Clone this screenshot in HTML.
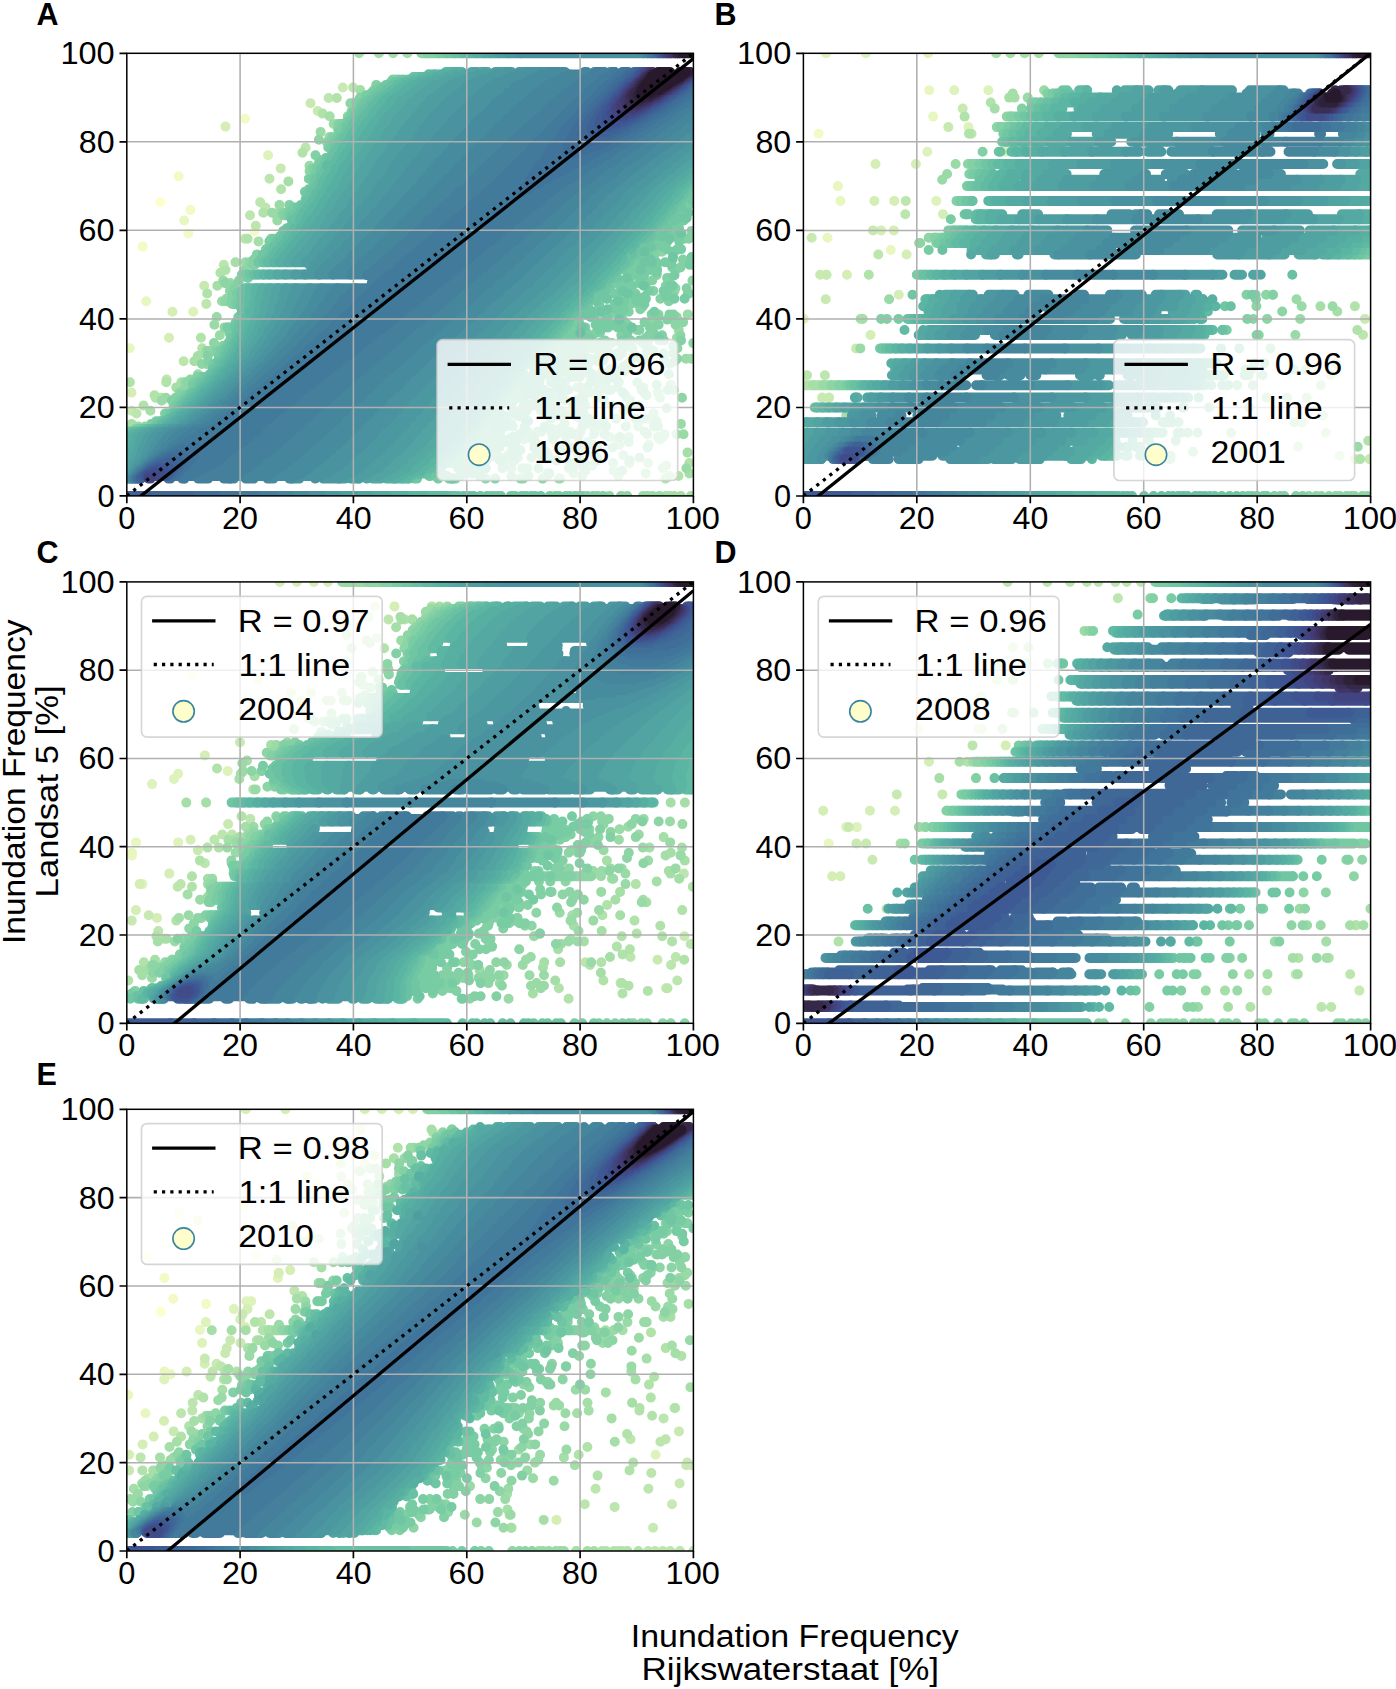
<!DOCTYPE html>
<html><head><meta charset="utf-8"><title>Inundation Frequency</title>
<style>html,body{margin:0;padding:0;background:#fff}svg{display:block}text{font-family:"Liberation Sans",sans-serif;fill:#000}</style></head><body>
<svg width="1396" height="1689" viewBox="0 0 1396 1689">
<rect width="1396" height="1689" fill="#fff"/>
<defs><clipPath id="cA"><rect x="126.8" y="53.3" width="566.6" height="442.6"/></clipPath><clipPath id="cB"><rect x="803.4" y="53.3" width="567.2" height="442.7"/></clipPath><clipPath id="cC"><rect x="126.8" y="581.9" width="566.6" height="441.4"/></clipPath><clipPath id="cD"><rect x="803.4" y="581.9" width="567.2" height="441.4"/></clipPath><clipPath id="cE"><rect x="126.8" y="1109.3" width="566.6" height="441.7"/></clipPath></defs>
<g id="panelA">
<g clip-path="url(#cA)">
<g fill="none" stroke-width="10" stroke-linecap="round">
<path stroke="#fdfecc" d="M160.4 202.3h0"/>
<path stroke="#f3fac6" d="M142.7 246.6h0M190.4 210.1h0M178.7 176.2h0M244.9 118.8h0M188.4 233.5h0M254.6 230.9h0"/>
<path stroke="#e8f6c0" d="M146.2 301.3h0M184.2 220.5h0M129.8 348.3h0"/>
<path stroke="#def2bb" d="M268.1 155.3h0M193.2 311.8h0"/>
<path stroke="#d4eeb5" d="M131.5 392.6h0M169 337.8h0M172.4 311.8h0M225.5 126.6h0"/>
<path stroke="#c8eab2" d="M131.5 410.8h0M204.2 285.7h0M280.7 168.4h0M317.7 111h0M310.5 103.2h0M342.8 87.5h0M216 345.7h0"/>
<path stroke="#bce6ae" d="M136.5 413.5h0M166.6 379.6h0M183.6 361.3h0M206.3 303.9h0M223.8 264.8h0M244.9 238.8h0M255.8 225.7h0M250 215.3h0M265.4 207.5h0M260.2 202.3h0M269.5 178.8h0M305.6 147.5h0M328.6 98h0M353.1 87.5h0"/>
<path stroke="#b1e2aa" d="M665.5 478.6h0M678.5 476h0M689.3 463h0M143.5 405.6h0M161.7 400.4h0M160.9 397.8h0M155.6 397.8h0M154.5 395.2h0M166.3 382.2h0M202.2 348.3h0M200.9 337.8h0M207.2 293.5h0M220.4 272.7h0M225.5 270h0M247.6 238.8h0M263.3 212.7h0M281.1 189.2h0M302.5 152.7h0M322.6 113.6h0M336.8 98h0M129.9 382.2h0"/>
<path stroke="#a5dea7" d="M669.3 476h0M618.3 476h0M689.4 473.4h0M662.9 468.2h0M666.2 465.6h0M648.1 463h0M687.5 452.6h0M663 436.9h0M131.6 423.9h0M150.4 410.8h0M176.3 387.4h0M181.4 382.2h0M194.3 361.3h0M197.9 356.1h0M205.1 353.5h0M217.3 285.7h0M235.5 262.2h0M258.5 241.4h0M288.4 181.4h0M329.7 116.2h0M360.2 90.1h0M665.9 495.9h0M669.7 495.9h0M674.1 495.9h0M680.7 495.9h0M691 495.9h0M359.1 53.3h0M378.9 53.3h0M393.1 53.3h0M407.3 53.3h0"/>
<path stroke="#9adaa6" d="M559 478.6h0M559.9 478.6h0M582.1 476h0M547.3 476h0M645.7 473.4h0M573.8 473.4h0M547.2 473.4h0M613.7 470.8h0M686.4 468.2h0M585.8 465.6h0M592.2 465.6h0M613.1 463h0M629.3 463h0M629.5 460.4h0M579.5 457.8h0M623.2 455.2h0M587.4 444.7h0M619.3 444.7h0M648.8 444.7h0M587.8 442.1h0M565.8 442.1h0M659.8 439.5h0M617 439.5h0M609.3 436.9h0M658.1 436.9h0M628.6 436.9h0M683.5 434.3h0M664.4 434.3h0M676.5 434.3h0M604.9 434.3h0M579.7 431.7h0M138.5 426.5h0M638.2 426.5h0M680.9 423.9h0M649.1 418.7h0M653.4 413.5h0M623.5 410.8h0M611.9 405.6h0M161.7 400.4h0M165.9 397.8h0M659.9 397.8h0M625.6 395.2h0M657.9 392.6h0M673.8 390h0M667.5 390h0M641.2 387.4h0M670.6 384.8h0M185 382.2h2M198 374.3h0M685.9 358.7h0M691.3 358.7h0M206.3 350.9h0M677 337.8h0M219.8 335.2h0M678.7 330h0M214.4 324.8h0M216.7 317h0M687.8 314.4h0M222 301.3h0M226.2 298.7h2M230.3 283.1h0M223.2 280.5h0M245.4 262.2h0M277.3 220.5h0M276.6 215.3h0M278.3 212.7h4M277.9 212.7h0M272 212.7h0M279.5 204.9h0M309.5 165.8h0M329.4 137.1h0M320.6 131.9h0M333.7 124h0M362.3 95.4h0M643.1 495.9h0M647.5 495.9h0M652.6 495.9h0M659.3 495.9h0"/>
<path stroke="#8ed5a5" d="M523.1 478.6h0M485.7 478.6h0M520.6 478.6h0M542.6 478.6h0M511.4 476h0M585.3 470.8h0M622 470.8h0M527.5 468.2h0M522.2 468.2h0M568.8 468.2h0M511.4 468.2h0M574.8 465.6h0M570.2 463h0M583.7 463h0M629.5 460.4h0M639.5 457.8h0M501.7 457.8h0M549.6 457.8h0M517.8 457.8h0M541.3 455.2h0M578 455.2h0M578.3 452.6h0M511.8 450h0M543.9 450h0M560.9 450h0M612.5 447.4h0M647.4 447.4h0M597 447.4h0M593.2 444.7h0M582.5 444.7h0M628.7 442.1h0M535.2 442.1h0M552.8 439.5h0M523.5 439.5h0M578.2 436.9h0M566.1 436.9h0M527.6 436.9h0M593.8 434.3h0M604.5 434.3h0M647.2 434.3h0M580.6 431.7h0M562.8 431.7h0M644.7 431.7h0M561.5 431.7h0M528 431.7h0M594.7 431.7h0M570.4 431.7h0M145.2 426.5h0M598.2 426.5h0M625.9 426.5h0M593.3 426.5h0M653.9 426.5h0M658 426.5h0M585.5 423.9h0M564.4 423.9h0M594.2 423.9h0M656.8 421.3h0M603.7 421.3h0M616.1 418.7h0M643.3 418.7h0M635.8 418.7h0M561.1 416.1h0M566.5 413.5h0M666.8 408.2h0M628.7 408.2h0M585.2 405.6h0M631.3 405.6h0M638 405.6h0M630.2 400.4h0M574.8 400.4h0M565.3 400.4h0M604.1 400.4h0M175.4 397.8h2M550.5 397.8h0M626.7 397.8h0M598.6 397.8h0M682 397.8h0M646.6 395.2h0M583.9 395.2h0M179.5 392.6h0M598.3 392.6h0M644 392.6h0M589.5 392.6h0M183.6 390h0M562.3 390h0M607.5 390h0M668.6 390h0M617.2 387.4h0M577.4 387.4h0M581.1 387.4h0M643.3 387.4h0M189.2 384.8h0M656.7 384.8h0M599.3 384.8h0M187 382.2h5.9M637.3 382.2h0M591 382.2h0M194.5 379.6h2M190.3 379.6h0M607.3 377h0M589.1 374.3h0M668.9 374.3h0M624.3 371.7h0M601.9 371.7h0M617 371.7h0M610.7 369.1h0M621 369.1h0M201.9 363.9h0M206.7 363.9h0M669.8 363.9h0M642 361.3h0M630.6 361.3h0M664.1 358.7h0M677.2 358.7h0M643.6 358.7h0M636 356.1h0M634.5 356.1h0M663.6 353.5h0M622.2 353.5h0M210.8 350.9h5.9M208.3 350.9h0M647.1 350.9h0M588.2 348.3h0M677.4 348.3h0M632.4 348.3h0M676.3 345.7h0M673.1 345.7h0M214 343.1h0M643.2 343.1h0M693.3 343.1h0M645.6 343.1h0M641.7 340.4h0M659.4 340.4h0M680.4 335.2h0M230.1 332.6h0M636.8 330h0M227.9 327.4h0M224.6 327.4h0M675.6 324.8h0M649.4 322.2h0M683.1 322.2h0M673.1 319.6h0M654.2 319.6h0M676.7 317h0M658.5 314.4h0M227.4 301.3h4M225.2 301.3h0M228.2 298.7h4M627.2 298.7h0M231.9 293.5h0M229.9 290.9h0M674.5 290.9h0M675.4 288.3h0M233.4 285.7h0M230.8 285.7h0M225.2 283.1h0M692.5 280.5h0M656.6 275.3h0M244.4 270h0M249.8 262.2h0M661.9 251.8h0M271 238.8h0M282.2 212.7h4M308.8 178.8h0M309.6 171h0M319.6 160.5h0M327.4 142.3h2M327 142.3h0M318.9 139.7h0M337.7 124h2M347.8 116.2h0M351.6 111h0M350.4 103.2h5.9M373.8 90.1h0M392.8 79.7h2M609.3 495.9h0M621.1 495.9h0M627.1 495.9h0M421.4 53.3h5.9"/>
<path stroke="#82d0a4" d="M455.6 478.6h0M495.1 478.6h0M528.4 476h0M446 476h0M441.6 476h0M472.4 473.4h0M477.5 473.4h0M549.3 473.4h0M549.2 473.4h0M460.9 470.8h0M480.6 470.8h0M502.5 468.2h0M538.4 468.2h0M460.7 465.6h0M468.1 465.6h0M502.8 465.6h0M464 463h0M512.1 460.4h0M511.7 460.4h0M502.4 460.4h0M514.4 460.4h0M557 460.4h0M597.1 460.4h0M478.8 460.4h0M497 457.8h0M488.3 457.8h0M454.5 457.8h0M596.8 457.8h0M531.5 457.8h0M594.8 455.2h0M490.1 455.2h0M470.8 455.2h0M507.9 455.2h0M512 455.2h0M495.5 452.6h0M537.9 452.6h0M546.6 452.6h0M540.8 452.6h0M492.2 450h0M572.4 447.4h0M489.4 444.7h0M538 444.7h0M512.6 444.7h0M483.1 444.7h0M495.9 442.1h0M515.6 442.1h0M517.7 439.5h0M532.2 439.5h0M554 436.9h0M620 436.9h0M552 434.3h0M525.4 434.3h0M571.4 434.3h0M556.5 434.3h0M541.6 431.7h0M566.2 431.7h0M537.5 431.7h0M135.3 429.1h4M550.4 429.1h0M552.8 429.1h0M560.2 429.1h0M485.4 426.5h0M512.9 426.5h0M606.2 426.5h0M582.8 426.5h0M151.3 423.9h2M511.5 423.9h0M526.3 421.3h0M593.1 421.3h0M550.5 418.7h0M580.6 418.7h0M486.8 418.7h0M589 418.7h0M493.1 416.1h0M575.9 416.1h0M557.4 416.1h0M552.7 416.1h0M559.4 416.1h0M165 413.5h2M495.8 413.5h0M561.6 413.5h0M580.9 413.5h0M583.5 413.5h0M553.2 413.5h0M540.8 410.8h0M526.8 410.8h0M561.3 410.8h0M547.2 408.2h0M554.8 408.2h0M173.6 405.6h2M551.7 405.6h0M537.4 405.6h0M573.2 405.6h0M176.2 403h2M503.2 403h0M554.2 403h0M174.7 400.4h5.9M173.9 400.4h0M172 400.4h0M579.7 400.4h0M583.5 400.4h0M177.4 397.8h5.9M549.6 397.8h0M523.9 397.8h0M552.6 397.8h0M562.3 397.8h0M180.1 395.2h5.9M560.6 395.2h0M542.3 392.6h0M533.5 392.6h0M597.6 390h0M641.8 390h0M610.6 390h0M587.3 387.4h0M529.8 387.4h0M605.4 384.8h0M531.8 384.8h0M559.1 384.8h0M193 382.2h4M618.8 382.2h0M603.2 382.2h0M564.9 382.2h0M565 382.2h0M196.4 379.6h4M616.9 379.6h0M555.6 379.6h0M599.9 379.6h0M198.1 377h4M197.2 377h0M574.8 377h0M541.3 377h0M540.8 377h0M560.2 374.3h0M588.8 371.7h0M546.2 371.7h0M585.8 371.7h0M550 366.5h0M629.9 366.5h0M579.8 366.5h0M627.6 363.9h0M588.2 363.9h0M208.6 361.3h0M557 361.3h0M602.6 361.3h0M585.6 361.3h0M599.6 361.3h0M674.8 361.3h0M589.9 358.7h0M207.8 356.1h0M599.5 356.1h0M618.9 356.1h0M598.4 356.1h0M633.9 356.1h0M568.9 356.1h0M572.4 356.1h0M616.9 353.5h0M582.5 353.5h0M560.9 353.5h0M673.2 353.5h0M216.7 350.9h4M608 350.9h0M621.6 350.9h0M601.7 350.9h0M653.4 350.9h0M592.3 348.3h0M623.7 348.3h0M606.8 348.3h0M592.6 348.3h0M223.1 345.7h0M647.9 345.7h0M605.3 345.7h0M625.4 345.7h0M584.8 345.7h0M646.9 345.7h0M579.4 345.7h0M589.7 345.7h0M590.7 343.1h0M611.5 343.1h0M569.5 340.4h0M681 340.4h0M663.9 340.4h0M604.9 340.4h0M630.7 340.4h0M647.9 340.4h0M639.6 340.4h0M646 337.8h0M650.6 337.8h0M589.8 335.2h0M593.1 335.2h0M621.3 335.2h0M662 335.2h0M623.9 335.2h0M648.8 335.2h0M586.7 332.6h0M600.1 332.6h0M596.1 332.6h0M653.5 332.6h0M229.8 330h2M578.4 330h0M639.4 330h0M608.4 327.4h0M649.9 327.4h0M658.6 324.8h0M627.7 324.8h0M598.3 324.8h0M603.6 322.2h0M644.5 322.2h0M624.7 322.2h0M622.5 319.6h0M667.2 319.6h0M618.8 317h0M658.2 317h0M673.3 314.4h0M669.5 314.4h0M594.1 314.4h0M609.7 314.4h0M651.7 314.4h0M606.4 314.4h0M613.6 311.8h0M628.7 311.8h0M640.3 309.2h0M614.5 309.2h0M642.7 306.6h0M232 303.9h4M599.2 303.9h0M631.2 303.9h0M628.8 303.9h0M625.4 303.9h0M637.9 303.9h0M231.4 301.3h5.9M632.7 301.3h0M668.8 301.3h0M232.1 298.7h5.9M630 298.7h0M607.2 298.7h0M670.7 298.7h0M660.4 298.7h0M233.8 296.1h4M672.6 296.1h0M233.1 293.5h4M687.8 293.5h0M635.5 293.5h0M629.7 293.5h0M689.1 293.5h0M653.4 290.9h0M632.2 290.9h0M234.9 288.3h0M686.7 288.3h0M619.8 285.7h0M665.8 285.7h0M624.7 285.7h0M239 280.5h0M652.2 280.5h0M643.1 280.5h0M667.1 277.9h0M670.1 277.9h0M675.6 270h0M680.4 267.4h0M672.4 267.4h0M648.6 267.4h0M252.4 264.8h0M254.7 264.8h0M690.3 262.2h0M654.5 262.2h0M684.4 262.2h0M253.8 259.6h0M649 259.6h0M672.5 259.6h0M682.9 259.6h0M257.4 257h0M256.9 254.4h0M654.8 254.4h0M672 251.8h0M266 249.2h0M678.6 249.2h0M644.6 246.6h0M684.4 238.8h0M688.9 238.8h0M691.5 230.9h0M672.3 223.1h0M673.3 217.9h0M284.8 215.3h4M283.5 215.3h0M286.2 212.7h4M289.4 204.9h0M308.9 178.8h2M312.6 168.4h4M320.6 160.5h2M315.5 155.3h0M328.2 147.5h2M329.4 142.3h4M332.3 137.1h0M338.1 129.3h4M340.7 126.6h2M339.7 124h5.9M353.8 111h2M356.4 103.2h4M358.6 100.6h0M359.9 98h0M366.3 95.4h0M371.4 92.7h2M375.6 90.1h0M378.3 87.5h2M376.3 84.9h0M394.8 79.7h4M392.6 79.7h0M583.1 495.9h0M587.3 495.9h0M593.1 495.9h0M597.5 495.9h0M603 495.9h0M427.4 53.3h11.9M241.8 274.6h4"/>
<path stroke="#77cca3" d="M449.1 478.6h0M438.1 478.6h0M452.8 478.6h0M460.6 476h0M445.3 476h0M441.3 476h0M434.2 476h0M479.9 476h0M430.2 476h0M447 476h0M466.4 473.4h0M439 473.4h0M470.1 470.8h0M440.4 468.2h0M458.1 468.2h0M462 468.2h0M442.2 465.6h0M476.3 465.6h0M477.3 465.6h0M446.1 463h7.1M474.9 463h0M448.1 460.4h4.3M556.4 460.4h0M500.3 460.4h0M486.1 460.4h0M456.1 460.4h0M469.2 457.8h0M459.6 457.8h0M451.4 457.8h0M472.1 457.8h0M512.5 455.2h0M472.6 455.2h0M473.8 455.2h0M544.1 455.2h0M466.9 455.2h0M484.6 455.2h0M453.9 452.6h0M464.6 452.6h0M460 450h0M520.3 450h0M513.3 450h0M499.4 447.4h0M481.2 447.4h0M514.7 447.4h0M534.2 447.4h0M489.9 447.4h0M464.6 444.7h0M477.8 444.7h0M467.9 442.1h1.6M487.3 442.1h0M514.4 442.1h0M505.5 442.1h0M474.2 442.1h0M469.9 439.5h11.1M490.3 439.5h0M508.3 439.5h0M534 436.9h0M498 436.9h0M512.8 436.9h0M473.8 434.3h3.5M492.4 434.3h0M500 434.3h0M519.7 434.3h0M126.8 431.7h2M475.8 431.7h9M139.2 429.1h4M478.3 429.1h8.6M524.4 429.1h0M480.8 426.5h0M524.8 426.5h0M506.4 426.5h0M544.6 426.5h0M489.1 426.5h0M153.3 423.9h4M481.8 423.9h0M482.9 423.9h0M496 423.9h0M157.9 421.3h4M156.1 421.3h0M485.2 421.3h0M503.2 421.3h0M506.7 421.3h0M500.2 418.7h0M525 418.7h0M502.7 416.1h0M518.6 416.1h0M505.5 416.1h0M167 413.5h4M512.1 413.5h0M550.7 413.5h0M492.1 413.5h0M525.2 410.8h0M512.9 410.8h0M576.6 410.8h0M522.4 408.2h0M175.6 405.6h4M532.4 405.6h0M545.1 405.6h0M178.2 403h4M512.2 403h0M524.3 403h0M542.7 403h0M525.1 403h0M180.6 400.4h4M501.9 400.4h7.7M534.9 400.4h0M574.7 400.4h0M183.3 397.8h4M502.6 397.8h19.5M580.9 397.8h0M548 397.8h0M186 395.2h4M505.3 395.2h9.3M518.5 395.2h0M561.1 395.2h0M533.8 395.2h0M508.3 392.6h18.6M622.7 392.6h0M563.2 392.6h0M549.8 392.6h0M508.6 390h5.7M544.3 390h0M525.1 390h0M543.5 390h0M568.1 390h0M510.9 387.4h17.6M557.3 387.4h0M539.2 387.4h0M194.6 384.8h4M513.9 384.8h7.3M193.2 384.8h0M524 384.8h0M528.1 384.8h0M196.9 382.2h4M532 382.2h0M520.6 382.2h0M515.7 382.2h0M561.6 382.2h0M518.3 382.2h0M551.1 382.2h0M590.5 382.2h0M539.5 382.2h0M200.4 379.6h4M553.1 379.6h0M607.6 379.6h0M202.1 377h4M519.4 377h1.8M579.7 377h0M570.6 377h0M612.5 377h0M523 377h0M551.8 377h0M592.5 374.3h0M546.1 374.3h0M533.1 374.3h0M566.9 371.7h0M522.7 371.7h0M575.4 371.7h0M568.6 371.7h0M547.5 371.7h0M538.2 369.1h0M574 369.1h0M563.2 369.1h0M559 369.1h0M538.7 369.1h0M539.5 366.5h0M557.2 366.5h0M546.5 366.5h0M566.8 366.5h0M623.8 366.5h0M567.2 366.5h0M213.8 363.9h4M531.5 363.9h0M556.8 363.9h0M539 363.9h0M546.2 363.9h0M543.8 363.9h0M573.7 363.9h0M579.5 361.3h0M538.7 361.3h0M568.4 361.3h0M549.2 361.3h0M559.2 361.3h0M597.5 361.3h0M548.2 361.3h0M536.3 358.7h5.9M219.8 358.7h0M549.6 358.7h0M604 358.7h0M576.9 358.7h0M583.3 358.7h0M546.1 358.7h0M539 356.1h10.7M218.7 356.1h0M584.2 356.1h0M549.9 356.1h0M565.2 356.1h0M220.7 350.9h4M542.9 350.9h0M545.8 350.9h0M571.8 350.9h0M568 350.9h0M570.4 350.9h0M582.8 350.9h0M569.9 350.9h0M549.4 350.9h0M224.7 348.3h2M546 348.3h5.1M553.7 348.3h0M572.2 348.3h0M575.2 348.3h0M575.3 348.3h0M573.9 348.3h0M548.5 345.7h19.8M228.2 343.1h2M549.5 343.1h6.9M620.6 343.1h0M577.8 343.1h0M599.8 343.1h0M553.6 340.4h3.8M230.1 340.4h0M621.9 340.4h0M568 340.4h0M230.6 337.8h2M555.8 337.8h9.3M659 337.8h0M589.8 337.8h0M570.9 337.8h0M585.2 337.8h0M557.6 335.2h20.5M580.8 335.2h0M581 335.2h0M560.3 332.6h5.1M229.4 332.6h0M568.5 332.6h0M627.6 332.6h0M571.3 332.6h0M231.8 330h4M563 330h3.8M582.9 330h0M599.1 330h0M231.1 327.4h4M564.2 327.4h2.8M227.7 327.4h0M585.2 327.4h0M617.6 327.4h0M584.3 327.4h0M623.3 327.4h0M605.7 327.4h0M234.5 324.8h2M567.7 324.8h2.3M597.3 324.8h0M578.3 324.8h0M595.6 324.8h0M611.3 324.8h0M604.9 324.8h0M605.2 324.8h0M607.7 324.8h0M621.4 324.8h0M614.3 324.8h0M235.8 322.2h2M569 322.2h10M619.6 322.2h0M600.4 322.2h0M618.5 322.2h0M608.2 322.2h0M238.3 317h0M576 317h0M606.9 317h0M577.4 317h0M576.3 314.4h2.2M588.6 314.4h0M580.5 314.4h0M590.4 314.4h0M620.5 314.4h0M594.8 314.4h0M578.8 311.8h2.6M594.1 311.8h0M592.1 311.8h0M654.3 311.8h0M600.5 311.8h0M586.4 311.8h0M577.3 309.2h0M615.2 309.2h0M624.1 309.2h0M589.4 309.2h0M599.4 306.6h0M235.9 303.9h5.9M586.9 303.9h1.4M644.4 303.9h0M618.5 303.9h0M614.6 303.9h0M617.8 303.9h0M237.4 301.3h4M639 301.3h0M636.4 301.3h0M624.3 301.3h0M238.1 298.7h4M591.8 298.7h0M617.4 298.7h0M594 298.7h0M645.9 298.7h0M674.4 298.7h0M618.3 298.7h0M684.6 298.7h0M237.8 296.1h4M634.9 296.1h0M636.7 296.1h0M602.2 296.1h0M645.5 296.1h0M665.9 296.1h0M237 293.5h4M627.2 293.5h0M614.3 293.5h0M600.3 293.5h0M649 290.9h0M666.9 290.9h0M663.6 290.9h0M606 288.3h0M625.2 288.3h0M631.9 285.7h0M610.8 285.7h0M626.3 285.7h0M645.5 285.7h0M672.8 285.7h0M624 285.7h0M669.7 285.7h0M640.8 283.1h0M618.3 283.1h0M624 283.1h0M639.3 283.1h0M628.1 283.1h0M629.4 280.5h0M622.2 280.5h0M247.9 277.9h0M615.7 277.9h0M616.6 277.9h0M632.8 275.3h0M644 275.3h0M633.2 275.3h0M638.7 275.3h0M674.5 275.3h0M627.4 272.7h0M656.8 272.7h0M619.4 270h0M629.8 270h0M630.3 270h0M657.1 270h0M626 270h0M650.3 270h0M641.2 270h0M622.8 267.4h1.1M637.9 267.4h0M656.8 267.4h0M646.8 267.4h0M636.6 267.4h0M626.4 264.8h15.8M654.6 264.8h0M691.7 264.8h0M689.4 264.8h0M671.4 264.8h0M628.8 262.2h1.2M630.9 262.2h0M632.4 262.2h0M634.4 262.2h0M656.3 262.2h0M670.4 262.2h0M665.1 262.2h0M629.9 259.6h2.2M691.6 257h0M640.5 257h0M634.1 257h0M631.8 257h0M264.8 254.4h2M640.4 254.4h0M674.3 251.8h0M647.6 251.8h0M266.2 249.2h0M677.2 249.2h0M637.1 249.2h0M667 249.2h0M681.1 249.2h0M653.9 246.6h0M646.7 246.6h0M662 246.6h0M646.6 244h0M269.4 241.4h0M679.3 241.4h0M667.4 241.4h0M277 238.8h2M273 238.8h0M657.7 238.8h0M667.2 238.8h0M650.4 238.8h0M652.7 236.2h1.7M667.3 236.2h0M673.7 236.2h0M660.4 233.5h0M651.7 233.5h0M681.5 233.5h0M668.1 233.5h0M674.5 230.9h0M668.9 230.9h0M668.3 228.3h0M679 228.3h0M671.4 225.7h0M674.3 225.7h0M678.5 223.1h0M665.9 220.5h0M683.7 220.5h0M671.2 220.5h0M667.8 217.9h2.6M674.3 217.9h0M288.8 215.3h4M671.5 215.3h11.2M290.2 212.7h5.9M672.9 212.7h7.7M292 210.1h5.9M293.9 207.5h4M676.7 207.5h1.4M679.7 204.9h5.5M689.2 204.9h0M681 202.3h5M684.8 197h4.1M690.7 197h0M687.2 194.4h0M691.6 194.4h0M304.9 191.8h4M689.9 191.8h0M308.6 189.2h2M691.3 189.2h2.1M693.4 186.6h0M310.9 178.8h4M315.7 173.6h0M316.6 168.4h4M319 163.1h5.9M322.6 160.5h4M325.9 157.9h0M330.2 147.5h4M333.4 142.3h4M335.1 139.7h4M335 139.7h0M339.3 131.9h5.9M342.1 129.3h4M342.6 126.6h4M345.6 124h4M346.9 121.4h4M349.1 118.8h4M351 116.2h4M352.2 113.6h0M355.8 111h4M361.1 105.8h2M360.4 103.2h4M366.3 100.6h2M366.1 98h5.9M366.7 95.4h0M373.4 92.7h4M376.6 90.1h4M380.3 87.5h4M385.9 84.9h2M390.6 82.3h4M398.7 79.7h4M549.9 495.9h0M555.7 495.9h0M558.9 495.9h0M566 495.9h0M569.6 495.9h0M575.2 495.9h0M579.6 495.9h0M439.3 53.3h7.9M245.8 274.6h4"/>
<path stroke="#70c6a3" d="M414.3 478.6h2.7M452.3 478.6h0M429.2 476h0M427.1 473.4h0M433 473.4h0M439.8 470.8h0M440.9 470.8h0M436.2 468.2h4.3M485.9 468.2h0M438.1 465.6h4.1M440.1 463h5.9M444.1 460.4h4M446.1 457.8h4.1M450 455.2h2.7M471.8 455.2h0M452.3 452.6h0M453.4 452.6h0M477.7 452.6h0M454 450h6M457.7 447.4h0M462.1 447.4h0M460 444.7h4.6M473.2 444.7h0M470.2 444.7h0M463.9 442.1h4M478.3 442.1h0M465.9 439.5h4M466.4 436.9h0M469.9 434.3h4M128.8 431.7h2M471.9 431.7h4M143.2 429.1h4M474.4 429.1h4M501.1 429.1h0M155.2 426.5h2M476.5 426.5h4.3M497.1 426.5h0M157.2 423.9h4M478.5 423.9h3.3M506.6 423.9h0M161.8 421.3h2M479.1 421.3h2.7M528.1 421.3h0M492.2 421.3h0M481.6 418.7h1.2M487.5 418.7h0M498.8 418.7h0M171 413.5h4M500.7 413.5h0M499.6 413.5h0M175.1 410.8h2M489.6 408.2h0M179.6 405.6h2M492.9 405.6h1.8M499.3 405.6h0M182.2 403h2M496.8 403h0M184.6 400.4h2M495.9 400.4h5.9M187.3 397.8h2M498.7 397.8h4M190 395.2h2M501.3 395.2h4M526 395.2h0M534.9 395.2h0M191 392.6h4M502.3 392.6h5.9M504.6 390h4M559.2 390h0M536.1 390h0M506.9 387.4h4M198.5 384.8h4M509.9 384.8h4M524.7 384.8h0M536.7 384.8h0M200.9 382.2h4M510.3 382.2h2.1M532.1 382.2h0M204.4 379.6h4M513.7 379.6h2.2M206.1 377h4M515.4 377h4M524.8 377h0M525.9 377h0M539.2 377h0M555.1 377h0M209.6 374.3h2M518 374.3h0M520.9 374.3h0M523.5 374.3h0M519.2 374.3h0M519 371.7h0M534.1 371.7h0M212.7 369.1h4M540.9 366.5h0M217.8 363.9h2M527.2 363.9h4.3M532.2 363.9h0M558.1 363.9h0M560.7 363.9h0M220.6 361.3h2M529.9 361.3h2.7M217.6 361.3h0M532.3 358.7h4M546.6 358.7h0M223.6 356.1h2M533 356.1h5.9M580.7 356.1h0M535.6 353.5h1.9M549.8 353.5h0M224.7 350.9h4M538 350.9h4.9M226.7 348.3h4M540.1 348.3h5.9M229.2 345.7h2M542.5 345.7h5.9M230.2 343.1h4M545.5 343.1h4M547.6 340.4h5.9M232.6 337.8h4M549.9 337.8h5.9M553.6 335.2h4M556.3 332.6h4M235.8 330h4M557 330h5.9M235 327.4h4M560.3 327.4h4M631.8 327.4h0M581.7 327.4h0M236.5 324.8h4M561.7 324.8h5.9M237.8 322.2h4M565 322.2h4M566.5 319.6h0M619.2 319.6h0M590.6 317h0M572.3 314.4h4M585.2 314.4h0M578.5 314.4h0M574.9 311.8h4M591.8 311.8h0M585.3 311.8h0M588.1 311.8h0M600.5 311.8h0M607.3 309.2h0M242.3 306.6h2M240.3 306.6h0M241.9 303.9h4M583 303.9h4M241.3 301.3h4M584.6 301.3h0M618.2 301.3h0M596.6 301.3h0M242.1 298.7h4M589.1 298.7h2.7M606.8 298.7h0M241.8 296.1h4M596.8 296.1h0M595.9 296.1h0M595.7 296.1h0M241 293.5h4M628 293.5h0M242.3 290.9h4M605.3 290.9h0M622.4 290.9h0M244.2 288.3h2M603.1 288.3h0M598.3 288.3h0M597.5 288.3h0M601.2 285.7h3.7M643.5 285.7h0M607.4 285.7h0M606.2 283.1h0M610.1 277.9h1.7M616.8 277.9h0M616.3 277.9h0M627 277.9h0M614 272.7h0M616.1 270h3.1M640.5 270h0M618.8 267.4h4M622.5 264.8h4M261.9 262.2h2M624.8 262.2h4M258.4 262.2h0M644.1 262.2h0M651.6 262.2h0M625.9 259.6h4M260.7 259.6h0M650.7 259.6h0M626.4 257h0M673 257h0M266.8 254.4h4M263.1 254.4h0M630 254.4h0M629.7 254.4h0M635.6 254.4h0M268.6 251.8h4M637.8 251.8h0M639.7 251.8h0M273.3 249.2h2M269.3 249.2h0M275.8 246.6h0M650.8 246.6h0M648.8 246.6h0M643.7 246.6h0M639.2 246.6h0M275.6 244h2M644.8 244h0M276.1 241.4h4M640.1 241.4h0M279 238.8h4M645.9 238.8h2.6M669.7 238.8h0M279.9 236.2h4M648.7 236.2h4M662.2 236.2h0M282.5 233.5h4M650.2 233.5h0M680.8 233.5h0M650.4 233.5h0M283.3 230.9h4M652.2 230.9h0M652.9 230.9h0M286.7 228.3h4M656.6 228.3h0M667.6 228.3h0M660.1 228.3h0M657 225.7h0M291 225.7h0M664.8 225.7h0M658.8 223.1h0M662.7 220.5h3.1M674.4 220.5h0M291.1 217.9h5.9M663.9 217.9h4M686.7 217.9h0M678.7 217.9h0M292.7 215.3h5.9M665.6 215.3h5.9M296.1 212.7h4M668.9 212.7h4M688.6 212.7h0M298 210.1h4M671.3 210.1h0M672.1 210.1h0M297.9 207.5h5.9M672.7 207.5h4M680.6 207.5h0M300.9 204.9h4M673.7 204.9h5.9M677 202.3h4M305.5 199.7h2M678.3 199.7h2.4M692.1 199.7h0M681.2 199.7h0M308 197h2M680.9 197h4M689.4 197h0M306.3 194.4h5.9M683.1 194.4h4.1M308.9 191.8h4M685.6 191.8h4.2M310.6 189.2h4M687.4 189.2h4M688.3 186.6h5.1M314.2 184h4M693.4 184h0M314.9 178.8h5.9M318.7 176.2h2M320.9 173.6h2M320.6 171h4M320.6 168.4h5.9M330.4 165.8h0M324.9 163.1h4M326.5 160.5h4M327.4 157.9h4M331.2 155.3h2M336 150.1h2M334.2 147.5h4M336.2 144.9h4M337.3 142.3h5.9M339.1 139.7h4M341 137.1h4M340.9 137.1h0M346.2 134.5h2M345.2 131.9h4M346.1 129.3h4M346.6 126.6h5.9M349.6 124h4M350.8 121.4h5.9M353 118.8h5.9M355 116.2h5.9M357.7 113.6h4M359.8 111h4M360.7 108.4h5.9M360.7 108.4h0M363.1 105.8h5.9M364.3 103.2h5.9M368.3 100.6h4M372 98h4M373.9 95.4h5.9M377.4 92.7h5.9M380.5 90.1h5.9M384.2 87.5h5.9M387.9 84.9h5.9M394.5 82.3h5.9M402.7 79.7h5.9M413.2 77.1h2M480.4 495.9h0M487 495.9h0M490.3 495.9h0M493.7 495.9h0M497.5 495.9h0M500.8 495.9h0M510.9 495.9h0M515.1 495.9h0M521.5 495.9h0M525.9 495.9h0M531.2 495.9h0M535 495.9h0M540.7 495.9h0M447.2 53.3h7.9M249.8 274.6h4"/>
<path stroke="#69c0a3" d="M408.4 478.6h0M420.3 473.4h6.8M430.2 468.2h5.9M432.2 465.6h5.9M436.2 463h4M438.1 460.4h5.9M440.1 457.8h5.9M444.1 455.2h5.9M446.1 452.6h6.2M450.1 450h4M452 447.4h5.7M454 444.7h5.9M458 442.1h5.9M460 439.5h5.9M461.9 436.9h4.5M126.8 434.3h2M463.9 434.3h5.9M130.8 431.7h4M465.9 431.7h5.9M147.2 429.1h2M468.4 429.1h5.9M157.2 426.5h4M470.6 426.5h5.9M161.2 423.9h2M472.5 423.9h5.9M163.8 421.3h4M475.1 421.3h4M168.3 418.7h2M475.7 418.7h5.9M484 418.7h0M477.7 416.1h2.7M482.1 416.1h0M174.9 413.5h2M480.3 413.5h2.1M485.9 413.5h0M177.1 410.8h4M181.6 405.6h4M487 405.6h5.9M184.2 403h4M489 403h0M494.2 403h0M186.6 400.4h4M492 400.4h4M189.3 397.8h4M492.7 397.8h5.9M192 395.2h4M495.4 395.2h5.9M194.9 392.6h4M496.4 392.6h5.9M199.2 390h2M498.7 390h5.9M201.5 387.4h2M500.9 387.4h5.9M200.8 387.4h0M202.5 384.8h4M503.9 384.8h5.9M204.9 382.2h4M506.3 382.2h4M208.3 379.6h2M507.8 379.6h5.9M210 377h4M509.5 377h5.9M211.6 374.3h4M513.2 374.3h0M215.5 371.7h2M514.9 371.7h4.1M214.4 371.7h0M216.6 369.1h4M516.3 369.1h0M520.7 366.5h0M219.8 363.9h4M521.2 363.9h5.9M222.5 361.3h4M524 361.3h5.9M225 358.7h4M526.4 358.7h5.9M224.8 358.7h0M225.6 356.1h4M529 356.1h4M228.3 353.5h4M531.7 353.5h4M228.6 350.9h4M534 350.9h4M230.7 348.3h4M536.1 348.3h4M231.2 345.7h4M538.6 345.7h4M234.1 343.1h2M539.5 343.1h5.9M236.3 340.4h2M543.7 340.4h4M236.5 337.8h4M545.9 337.8h4M238.3 335.2h2M547.7 335.2h5.9M237 332.6h5.9M550.3 332.6h5.9M580.3 332.6h0M239.7 330h4M553.1 330h4M239 327.4h4M554.3 327.4h5.9M240.5 324.8h4M557.7 324.8h4M241.8 322.2h4M559 322.2h5.9M562.8 319.6h0M563.5 319.6h0M564.8 317h0M569.5 317h0M566.4 314.4h5.9M246.7 314.4h0M568.9 311.8h5.9M241.9 311.8h0M244.2 306.6h5.9M575.3 306.6h0M245.8 303.9h4M577 303.9h5.9M245.3 301.3h4M580.4 301.3h4.1M246 298.7h4M583.2 298.7h5.9M245.7 296.1h4M584.8 296.1h3.2M245 293.5h5.9M588.4 293.5h0M589.4 293.5h0M246.3 290.9h4M246.2 288.3h4M595.4 288.3h0M593.8 288.3h0M597.2 285.7h4M600.5 283.1h0M602 280.5h3.6M604.2 277.9h5.9M606 275.3h0M609.7 272.7h4.2M612.1 270h4M614.8 267.4h4M616.5 264.8h5.9M263.9 262.2h4M618.8 262.2h5.9M267 259.6h4M622 259.6h4M626.1 257h0M270.7 254.4h4M631.8 254.4h0M630.2 254.4h0M621 254.4h0M272.5 251.8h4M626.3 251.8h0M644.4 251.8h0M275.3 249.2h4M633 249.2h0M273.8 246.6h0M632.2 246.6h0M630.6 246.6h0M277.5 244h5.9M634.9 244h0M635.7 244h0M280.1 241.4h5.9M283 238.8h4M639.9 238.8h5.9M283.9 236.2h5.9M642.8 236.2h5.9M286.5 233.5h4M645.4 233.5h4.8M287.2 230.9h5.9M648 230.9h0M290.6 228.3h4M649.6 228.3h3.3M652.2 225.7h4.8M298.9 225.7h0M653.9 223.1h4.9M302.5 223.1h0M295.9 220.5h4M656.8 220.5h5.9M292.2 220.5h0M297 217.9h4M659.9 217.9h4M298.7 215.3h4M661.6 215.3h4M300.1 212.7h4M663 212.7h5.9M302 210.1h4M664.9 210.1h6.4M303.8 207.5h4M666.7 207.5h5.9M304.9 204.9h5.9M669.8 204.9h4M308.2 202.3h4M671.1 202.3h5.9M307.4 199.7h5.9M674.3 199.7h4M310 197h5.9M676.9 197h4M312.2 194.4h4M679.1 194.4h4M312.8 191.8h5.9M679.7 191.8h5.9M314.5 189.2h5.9M683.4 189.2h4M684.4 186.6h4M318.1 184h4M687 184h6.4M321.2 181.4h2M690 181.4h3.4M320.8 178.8h4M693.4 178.8h0M320.7 176.2h5.9M322.8 173.6h5.9M324.5 171h5.9M326.5 168.4h4M331.4 165.8h2M328.9 163.1h5.9M330.5 160.5h5.9M331.3 157.9h5.9M333.2 155.3h5.9M336.9 152.7h4M334.2 152.7h0M338 150.1h4M338.2 147.5h5.9M340.1 144.9h5.9M343.3 142.3h4M343 139.7h5.9M344.9 137.1h5.9M348.2 134.5h4M349.2 131.9h5.9M350 129.3h5.9M352.6 126.6h5.9M353.5 124h5.9M356.8 121.4h4M359 118.8h4M361 116.2h4M361.6 113.6h5.9M363.7 111h5.9M366.6 108.4h5.9M369.1 105.8h4M370.3 103.2h5.9M372.3 100.6h5.9M376 98h5.9M379.8 95.4h5.9M383.3 92.7h5.9M386.5 90.1h5.9M390.2 87.5h5.9M393.8 84.9h4M400.5 82.3h4M408.7 79.7h4M415.2 77.1h5.9M428.5 74.5h0M446.1 495.9h9.3M458.3 495.9h0M463.7 495.9h0M469.7 495.9h0M473.6 495.9h0M455.1 53.3h7.9M253.7 274.6h4"/>
<path stroke="#61bba3" d="M402.5 478.6h5.9M408.4 476h3M412.4 473.4h7.9M422.2 470.8h0M422.6 470.8h0M422.3 468.2h7.9M426.2 465.6h5.9M428.2 463h7.9M432.2 460.4h5.9M434.2 457.8h5.9M436.2 455.2h7.9M440.1 452.6h5.9M442.1 450h7.9M446.1 447.4h5.9M448.1 444.7h5.9M450 442.1h7.9M452 439.5h7.9M126.8 436.9h2M456 436.9h5.9M128.8 434.3h4M458 434.3h5.9M134.7 431.7h4M460 431.7h5.9M149.2 429.1h4M460.5 429.1h7.9M161.2 426.5h4M462.6 426.5h7.9M163.2 423.9h4M466.6 423.9h5.9M167.8 421.3h4M467.2 421.3h7.9M170.3 418.7h4M469.7 418.7h5.9M174.2 416.1h4M471.7 416.1h5.9M176.9 413.5h4M474.4 413.5h5.9M181 410.8h2M476.5 410.8h3.8M481.8 410.8h0M184.2 408.2h2M477.7 408.2h5.3M185.5 405.6h4M481 405.6h5.9M188.1 403h4M481.6 403h7.4M190.5 400.4h4M484 400.4h7.9M193.3 397.8h4M486.8 397.8h5.9M195.9 395.2h4M489.4 395.2h5.9M198.9 392.6h4M490.4 392.6h5.9M201.2 390h4M492.7 390h5.9M203.5 387.4h4M495 387.4h5.9M206.5 384.8h4M498 384.8h5.9M208.8 382.2h4M500.4 382.2h5.9M210.3 379.6h4M501.8 379.6h5.9M214 377h4M503.5 377h5.9M215.6 374.3h4M505.1 374.3h3.1M217.4 371.7h4M507 371.7h7.9M220.6 369.1h4M510.1 369.1h6.1M224.5 366.5h2M512 366.5h8.7M223.9 366.5h0M223.7 363.9h4M515.3 363.9h5.9M226.5 361.3h4M518 361.3h5.9M228.9 358.7h4M520.4 358.7h5.9M229.6 356.1h4M523.1 356.1h5.9M232.2 353.5h4M525.7 353.5h5.9M232.6 350.9h4M528.1 350.9h5.9M234.7 348.3h4M530.1 348.3h5.9M235.2 345.7h4M532.6 345.7h5.9M236.1 343.1h5.9M533.6 343.1h5.9M238.3 340.4h4M537.7 340.4h5.9M240.5 337.8h4M539.9 337.8h5.9M240.3 335.2h5.9M541.7 335.2h5.9M243 332.6h4M544.4 332.6h5.9M243.7 330h4M547.1 330h5.9M243 327.4h5.9M548.4 327.4h5.9M244.4 324.8h5.9M551.8 324.8h5.9M245.7 322.2h4M553.1 322.2h5.9M247.5 319.6h4M556.8 319.6h6M246.9 317h5.9M558.3 317h6.5M560.4 314.4h5.9M563 311.8h5.9M248.7 309.2h5.9M565.1 309.2h0M569.6 309.2h0M250.2 306.6h4M569.5 306.6h5.9M249.8 303.9h4M571.1 303.9h5.9M249.3 301.3h5.9M574.5 301.3h5.9M250 298.7h5.9M577.2 298.7h5.9M249.7 296.1h5.9M578.9 296.1h5.9M250.9 293.5h4M582.1 293.5h6.3M250.3 290.9h5.9M585.4 290.9h2M250.1 288.3h5.9M587.2 288.3h4.1M591.3 285.7h5.9M593.9 283.1h6.6M596.1 280.5h5.9M598.2 277.9h5.9M601.3 275.3h4.7M603.8 272.7h5.9M606.2 270h5.9M608.9 267.4h5.9M610.6 264.8h5.9M267.8 262.2h5.9M612.9 262.2h5.9M271 259.6h5.9M616 259.6h5.9M272.4 257h5.9M617.5 257h4.5M274.7 254.4h5.9M276.5 251.8h5.9M279.3 249.2h5.9M630.9 249.2h0M280.8 246.6h5.9M624.9 246.6h0M283.5 244h5.9M630.5 244h4.4M286 241.4h5.9M633.1 241.4h1.4M286.9 238.8h5.9M634 238.8h5.9M289.8 236.2h5.9M636.8 236.2h5.9M290.4 233.5h5.9M639.5 233.5h5.9M293.2 230.9h5.9M642.2 230.9h5.8M294.6 228.3h5.9M643.6 228.3h5.9M646.3 225.7h5.9M301.6 225.7h0M650 223.1h4M299.8 220.5h5.9M650.9 220.5h5.9M301 217.9h5.9M654 217.9h5.9M302.7 215.3h5.9M655.6 215.3h5.9M304.1 212.7h5.9M657 212.7h5.9M305.9 210.1h5.9M660.9 210.1h4M307.8 207.5h5.9M662.8 207.5h4M310.8 204.9h5.9M663.8 204.9h5.9M312.2 202.3h5.9M667.1 202.3h4M313.4 199.7h5.9M668.4 199.7h5.9M316 197h5.9M670.9 197h5.9M316.2 194.4h5.9M673.2 194.4h5.9M318.8 191.8h5.9M675.7 191.8h4M320.5 189.2h5.9M677.4 189.2h5.9M321.5 186.6h5.9M678.4 186.6h5.9M322.1 184h5.9M683 184h4M323.2 181.4h7.9M686.1 181.4h4M324.8 178.8h5.9M689.7 178.8h3.7M326.7 176.2h5.9M691.5 176.2h1.9M328.8 173.6h5.9M330.5 171h5.9M330.5 168.4h5.9M333.4 165.8h5.9M327 165.8h0M330.8 165.8h0M334.8 163.1h5.9M336.4 160.5h5.9M337.3 157.9h5.9M339.2 155.3h5.9M340.9 152.7h5.9M342 150.1h7.9M344.1 147.5h5.9M346.1 144.9h5.9M347.3 142.3h5.9M349 139.7h5.9M350.9 137.1h5.9M352.2 134.5h7.9M355.1 131.9h5.9M356 129.3h5.9M358.5 126.6h5.9M359.5 124h5.9M360.8 121.4h7.9M363 118.8h7.9M364.9 116.2h7.9M367.6 113.6h5.9M369.7 111h5.9M372.6 108.4h5.9M373 105.8h7.9M376.2 103.2h5.9M378.2 100.6h5.9M381.9 98h5.9M385.8 95.4h5.9M389.3 92.7h5.9M392.4 90.1h5.9M396.1 87.5h5.9M397.8 84.9h7.9M404.4 82.3h7.9M412.6 79.7h7.9M421.2 77.1h5.9M428.8 74.5h5.9M445.9 71.9h2M424.3 495.9h21.8M463.1 53.3h5.9M257.7 274.6h5.9"/>
<path stroke="#5ab5a3" d="M394.5 478.6h7.9M400.5 476h7.9M404.4 473.4h7.9M410.4 470.8h5.7M417.1 470.8h0M420.8 470.8h0M414.3 468.2h7.9M418.3 465.6h7.9M420.3 463h7.9M424.3 460.4h7.9M426.2 457.8h7.9M126.8 455.2h2M428.2 455.2h7.9M126.8 452.6h2M432.2 452.6h7.9M126.8 450h2M434.2 450h7.9M126.8 447.4h4M438.1 447.4h7.9M126.8 444.7h4M440.1 444.7h7.9M126.8 442.1h4M442.1 442.1h7.9M126.8 439.5h5.9M446.1 439.5h5.9M128.8 436.9h4M448.1 436.9h7.9M132.7 434.3h4M450 434.3h7.9M138.7 431.7h4M452 431.7h7.9M153.1 429.1h4M454.5 429.1h5.9M165.2 426.5h2M456.7 426.5h5.9M167.1 423.9h4M458.7 423.9h7.9M171.7 421.3h2M459.3 421.3h7.9M174.2 418.7h4M461.8 418.7h7.9M178.2 416.1h2M463.8 416.1h7.9M180.9 413.5h4M466.5 413.5h7.9M183 410.8h4M468.6 410.8h7.9M186.2 408.2h4M469.8 408.2h7.9M189.5 405.6h4M473.1 405.6h7.9M192.1 403h4M475.7 403h5.9M194.5 400.4h4M476.1 400.4h7.9M197.2 397.8h4M478.8 397.8h7.9M199.9 395.2h4M481.5 395.2h7.9M202.9 392.6h2M484.5 392.6h5.9M205.2 390h4M484.8 390h7.9M207.4 387.4h4M487.1 387.4h7.9M210.4 384.8h4M490.1 384.8h7.9M212.8 382.2h4M492.4 382.2h7.9M214.3 379.6h4M493.9 379.6h7.9M218 377h4M495.6 377h7.9M219.5 374.3h4M499.1 374.3h5.9M221.4 371.7h4M501 371.7h5.9M224.6 369.1h4M502.2 369.1h7.9M226.4 366.5h4M506.1 366.5h5.9M227.7 363.9h4M507.3 363.9h7.9M230.5 361.3h4M510.1 361.3h7.9M232.9 358.7h4M512.5 358.7h7.9M233.6 356.1h4M515.2 356.1h7.9M236.2 353.5h4M517.8 353.5h7.9M236.6 350.9h4M520.2 350.9h7.9M238.6 348.3h4M522.2 348.3h7.9M239.1 345.7h5.9M524.7 345.7h7.9M242.1 343.1h4M527.6 343.1h5.9M242.2 340.4h5.9M529.8 340.4h7.9M244.5 337.8h4M532 337.8h7.9M246.2 335.2h4M533.8 335.2h7.9M246.9 332.6h4M536.5 332.6h7.9M247.7 330h4M539.2 330h7.9M248.9 327.4h4M542.4 327.4h5.9M250.4 324.8h4M543.9 324.8h7.9M249.7 322.2h5.9M547.2 322.2h5.9M251.4 319.6h5.9M548.9 319.6h7.9M252.9 317h4M552.3 317h5.9M255 314.4h4M554.5 314.4h5.9M255.6 311.8h4M557 311.8h5.9M250.1 311.8h0M254.7 309.2h4M558.1 309.2h7M254.2 306.6h5.9M561.5 306.6h7.9M253.8 303.9h5.9M565.1 303.9h5.9M255.2 301.3h5.9M566.6 301.3h7.9M255.9 298.7h4M569.3 298.7h7.9M255.7 296.1h5.9M572.9 296.1h5.9M254.9 293.5h5.9M576.2 293.5h5.9M256.2 290.9h5.9M579.5 290.9h5.9M256.1 288.3h5.9M581.3 288.3h5.9M583.3 285.7h7.9M586 283.1h7.9M590.1 280.5h5.9M592.3 277.9h5.9M593.4 275.3h7.9M595.9 272.7h7.9M598.3 270h7.9M600.9 267.4h7.9M604.6 264.8h5.9M273.8 262.2h5.9M607 262.2h5.9M276.9 259.6h5.9M608.1 259.6h7.9M278.3 257h5.9M611.5 257h5.9M280.6 254.4h5.9M613.8 254.4h3.6M282.4 251.8h7.9M615.2 251.8h0M622 251.8h0M285.2 249.2h5.9M619 249.2h0M286.7 246.6h5.9M619.9 246.6h1.5M626 246.6h0M624.3 246.6h0M289.4 244h5.9M622.6 244h7.9M292 241.4h5.9M625.1 241.4h7.9M292.9 238.8h5.9M628 238.8h5.9M295.8 236.2h5.9M630.9 236.2h5.9M296.4 233.5h7.9M633.5 233.5h5.9M299.1 230.9h5.9M636.3 230.9h5.9M300.5 228.3h5.9M637.7 228.3h5.9M305.2 225.7h4M640.3 225.7h5.9M304.9 223.1h5.9M642 223.1h7.9M305.8 220.5h5.9M644.9 220.5h5.9M306.9 217.9h7.9M648 217.9h5.9M308.6 215.3h7.9M649.7 215.3h5.9M310 212.7h7.9M651.1 212.7h5.9M311.9 210.1h7.9M653 210.1h7.9M313.7 207.5h7.9M654.8 207.5h7.9M316.8 204.9h5.9M657.9 204.9h5.9M318.1 202.3h5.9M659.2 202.3h7.9M319.3 199.7h7.9M662.4 199.7h5.9M321.9 197h5.9M665 197h5.9M322.2 194.4h7.9M667.2 194.4h5.9M324.7 191.8h5.9M667.8 191.8h7.9M326.4 189.2h5.9M671.5 189.2h5.9M327.4 186.6h7.9M672.5 186.6h5.9M328.1 184h7.9M675.1 184h7.9M331.1 181.4h5.9M680.1 181.4h5.9M330.8 178.8h7.9M681.8 178.8h7.9M332.6 176.2h7.9M685.6 176.2h5.9M334.7 173.6h7.9M689.7 173.6h3.7M336.4 171h5.9M693.4 171h0M336.4 168.4h7.9M339.3 165.8h5.9M340.8 163.1h7.9M342.4 160.5h7.9M343.2 157.9h7.9M345.1 155.3h7.9M346.8 152.7h7.9M349.9 150.1h5.9M350.1 147.5h7.9M352 144.9h7.9M353.2 142.3h7.9M354.9 139.7h7.9M356.8 137.1h7.9M360.1 134.5h5.9M361.1 131.9h7.9M361.9 129.3h7.9M364.5 126.6h7.9M365.4 124h7.9M368.7 121.4h7.9M370.9 118.8h7.9M372.9 116.2h7.9M373.5 113.6h7.9M375.6 111h7.9M378.5 108.4h7.9M381 105.8h7.9M382.2 103.2h7.9M384.2 100.6h7.9M387.9 98h7.9M391.7 95.4h7.9M395.2 92.7h7.9M398.4 90.1h7.9M402.1 87.5h7.9M405.7 84.9h7.9M412.4 82.3h7.9M420.6 79.7h7.9M427.1 77.1h7.9M434.8 74.5h7.9M447.8 71.9h7.9M404.4 495.9h19.8M469 53.3h7.9M263.6 274.6h5.9"/>
<path stroke="#57afa2" d="M386.6 478.6h7.9M390.6 476h9.9M396.5 473.4h7.9M400.5 470.8h9.9M406.4 468.2h7.9M126.8 465.6h2M408.4 465.6h9.9M126.8 463h2M410.4 463h9.9M126.8 460.4h4M414.3 460.4h9.9M126.8 457.8h4M416.3 457.8h9.9M128.8 455.2h4M420.3 455.2h7.9M128.8 452.6h4M422.3 452.6h9.9M128.8 450h4M424.3 450h9.9M130.8 447.4h4M428.2 447.4h9.9M130.8 444.7h4M430.2 444.7h9.9M130.8 442.1h5.9M434.2 442.1h7.9M132.7 439.5h4M436.2 439.5h9.9M132.7 436.9h4M438.1 436.9h9.9M136.7 434.3h5.9M440.1 434.3h9.9M142.7 431.7h5.9M442.1 431.7h9.9M157.1 429.1h4M444.6 429.1h9.9M167.1 426.5h4M446.8 426.5h9.9M171.1 423.9h4M448.7 423.9h9.9M173.7 421.3h4M451.4 421.3h7.9M178.2 418.7h4M451.9 418.7h9.9M180.2 416.1h4M455.8 416.1h7.9M184.9 413.5h4M456.5 413.5h9.9M187 410.8h4M458.7 410.8h9.9M190.2 408.2h4M461.9 408.2h7.9M193.5 405.6h4M463.2 405.6h9.9M196.1 403h4M465.8 403h9.9M198.5 400.4h4M468.2 400.4h7.9M201.2 397.8h4M470.9 397.8h7.9M203.9 395.2h4M471.6 395.2h9.9M204.8 392.6h5.9M474.5 392.6h9.9M209.1 390h4M476.9 390h7.9M211.4 387.4h4M479.1 387.4h7.9M214.4 384.8h4M480.2 384.8h9.9M216.8 382.2h4M482.5 382.2h9.9M218.3 379.6h4M486 379.6h7.9M221.9 377h4M487.7 377h7.9M223.5 374.3h4M489.2 374.3h9.9M225.4 371.7h4M491.1 371.7h9.9M228.5 369.1h4M494.3 369.1h7.9M230.4 366.5h4M496.1 366.5h9.9M231.7 363.9h5.9M499.4 363.9h7.9M234.4 361.3h4M502.2 361.3h7.9M236.9 358.7h4M504.6 358.7h7.9M237.5 356.1h5.9M507.2 356.1h7.9M240.2 353.5h4M507.9 353.5h9.9M240.5 350.9h5.9M512.2 350.9h7.9M242.6 348.3h5.9M514.3 348.3h7.9M245.1 345.7h4M516.8 345.7h7.9M246 343.1h4M517.7 343.1h9.9M248.2 340.4h4M521.9 340.4h7.9M248.4 337.8h5.9M524.1 337.8h7.9M250.2 335.2h5.9M525.9 335.2h7.9M250.9 332.6h5.9M528.5 332.6h7.9M251.6 330h5.9M531.3 330h7.9M252.9 327.4h5.9M532.5 327.4h9.9M254.3 324.8h5.9M535.9 324.8h7.9M255.6 322.2h5.9M537.2 322.2h9.9M257.4 319.6h4M541 319.6h7.9M256.8 317h5.9M542.4 317h9.9M259 314.4h5.9M544.6 314.4h9.9M259.5 311.8h5.9M547.1 311.8h9.9M258.7 309.2h5.9M550.2 309.2h7.9M260.1 306.6h5.9M553.6 306.6h7.9M259.7 303.9h5.9M557.2 303.9h7.9M261.2 301.3h5.9M558.6 301.3h7.9M259.9 298.7h7.9M561.3 298.7h7.9M261.6 296.1h5.9M565 296.1h7.9M260.8 293.5h7.9M568.2 293.5h7.9M262.2 290.9h5.9M569.5 290.9h9.9M262 288.3h7.9M573.4 288.3h7.9M575.4 285.7h7.9M578.1 283.1h7.9M580.2 280.5h9.9M584.3 277.9h7.9M585.4 275.3h7.9M587.9 272.7h7.9M590.3 270h7.9M593 267.4h7.9M596.7 264.8h7.9M279.7 262.2h7.9M599 262.2h7.9M282.9 259.6h7.9M600.1 259.6h7.9M284.3 257h7.9M603.6 257h7.9M286.6 254.4h7.9M605.9 254.4h7.9M290.4 251.8h5.9M607.7 251.8h7.5M291.2 249.2h7.9M610.4 249.2h8.6M292.7 246.6h7.9M614 246.6h5.9M295.4 244h7.9M614.7 244h7.9M297.9 241.4h7.9M617.2 241.4h7.9M298.8 238.8h7.9M620.1 238.8h7.9M301.7 236.2h7.9M623 236.2h7.9M304.3 233.5h7.9M625.6 233.5h7.9M305.1 230.9h7.9M628.3 230.9h7.9M306.5 228.3h7.9M629.7 228.3h7.9M309.1 225.7h7.9M632.4 225.7h7.9M310.9 223.1h7.9M636.1 223.1h5.9M311.7 220.5h7.9M637 220.5h7.9M314.8 217.9h7.9M640.1 217.9h7.9M316.5 215.3h7.9M641.8 215.3h7.9M317.9 212.7h7.9M643.2 212.7h7.9M319.8 210.1h7.9M647 210.1h5.9M321.7 207.5h7.9M648.9 207.5h5.9M322.7 204.9h7.9M649.9 204.9h7.9M324.1 202.3h7.9M653.2 202.3h5.9M327.3 199.7h7.9M654.5 199.7h7.9M327.9 197h7.9M657.1 197h7.9M330.1 194.4h7.9M659.3 194.4h7.9M330.7 191.8h9.9M661.8 191.8h5.9M332.4 189.2h9.9M663.6 189.2h7.9M335.3 186.6h7.9M666.5 186.6h5.9M336 184h7.9M669.2 184h5.9M337.1 181.4h9.9M672.2 181.4h7.9M338.7 178.8h7.9M675.8 178.8h5.9M340.5 176.2h7.9M679.7 176.2h5.9M342.7 173.6h7.9M681.8 173.6h7.9M342.4 171h9.9M685.5 171h7.9M344.4 168.4h9.9M689.4 168.4h4M345.3 165.8h9.9M692.3 165.8h1.1M348.7 163.1h7.9M350.3 160.5h7.9M351.2 157.9h9.9M353 155.3h9.9M354.8 152.7h9.9M355.8 150.1h9.9M358 147.5h9.9M360 144.9h9.9M361.1 142.3h9.9M362.9 139.7h9.9M364.8 137.1h9.9M366 134.5h9.9M369 131.9h9.9M369.9 129.3h9.9M372.4 126.6h9.9M373.4 124h9.9M376.6 121.4h7.9M378.8 118.8h7.9M380.8 116.2h7.9M381.5 113.6h9.9M383.6 111h9.9M386.5 108.4h9.9M388.9 105.8h9.9M390.1 103.2h9.9M392.1 100.6h9.9M395.8 98h9.9M399.7 95.4h9.9M403.2 92.7h9.9M406.3 90.1h9.9M410 87.5h9.9M413.7 84.9h9.9M420.3 82.3h9.9M428.5 79.7h7.9M435 77.1h9.9M442.7 74.5h9.9M455.8 71.9h5.9M386.6 495.9h17.8M477 53.3h7.9M269.6 274.6h7.9"/>
<path stroke="#54aaa2" d="M372.7 478.6h7.9M378.7 476h11.9M126.8 473.4h2M382.6 473.4h13.9M126.8 470.8h2M388.6 470.8h11.9M126.8 468.2h4M392.5 468.2h13.9M128.8 465.6h4M396.5 465.6h11.9M128.8 463h4M398.5 463h11.9M130.8 460.4h4M402.5 460.4h11.9M130.8 457.8h4M404.4 457.8h11.9M132.7 455.2h4M406.4 455.2h13.9M132.7 452.6h4M410.4 452.6h11.9M132.8 450h5.9M412.4 450h11.9M134.7 447.4h4M416.3 447.4h11.9M134.7 444.7h5.9M418.3 444.7h11.9M136.7 442.1h4M422.3 442.1h11.9M136.7 439.5h4M424.3 439.5h11.9M136.7 436.9h5.9M426.2 436.9h11.9M142.7 434.3h4M428.2 434.3h11.9M148.6 431.7h4M430.2 431.7h11.9M161 429.1h4M432.7 429.1h11.9M171.1 426.5h4M434.9 426.5h11.9M175.1 423.9h4M436.8 423.9h11.9M177.7 421.3h4M439.5 421.3h11.9M182.2 418.7h4M442 418.7h9.9M184.2 416.1h5.9M443.9 416.1h11.9M188.8 413.5h4M446.6 413.5h9.9M190.9 410.8h4M448.7 410.8h9.9M194.1 408.2h4M450 408.2h11.9M197.4 405.6h4M453.2 405.6h9.9M200 403h4M453.9 403h11.9M202.4 400.4h4M456.3 400.4h11.9M205.2 397.8h4M459 397.8h11.9M207.8 395.2h4M461.7 395.2h9.9M210.8 392.6h4M462.6 392.6h11.9M213.1 390h4M465 390h11.9M215.4 387.4h4M467.2 387.4h11.9M218.4 384.8h4M470.2 384.8h9.9M220.7 382.2h4M472.6 382.2h9.9M222.2 379.6h5.9M474.1 379.6h11.9M225.9 377h4M475.8 377h11.9M227.5 374.3h5.9M479.3 374.3h9.9M229.3 371.7h5.9M481.2 371.7h9.9M232.5 369.1h4M484.4 369.1h9.9M234.4 366.5h5.9M486.2 366.5h9.9M237.6 363.9h4M487.5 363.9h11.9M238.4 361.3h5.9M490.3 361.3h11.9M240.8 358.7h5.9M492.7 358.7h11.9M243.5 356.1h4M495.3 356.1h11.9M244.1 353.5h5.9M498 353.5h9.9M246.5 350.9h5.9M500.3 350.9h11.9M248.5 348.3h4M502.4 348.3h11.9M249 345.7h5.9M504.9 345.7h11.9M250 343.1h5.9M507.8 343.1h9.9M252.1 340.4h5.9M510 340.4h11.9M254.4 337.8h5.9M514.2 337.8h9.9M256.2 335.2h5.9M515.9 335.2h9.9M256.8 332.6h5.9M518.6 332.6h9.9M257.6 330h5.9M521.4 330h9.9M258.8 327.4h5.9M522.6 327.4h9.9M260.3 324.8h5.9M526 324.8h9.9M261.6 322.2h5.9M527.3 322.2h9.9M261.3 319.6h7.9M531 319.6h9.9M262.8 317h7.9M532.5 317h9.9M265 314.4h5.9M534.7 314.4h9.9M265.5 311.8h5.9M537.2 311.8h9.9M264.6 309.2h7.9M540.3 309.2h9.9M266.1 306.6h5.9M543.7 306.6h9.9M265.7 303.9h7.9M547.3 303.9h9.9M267.1 301.3h7.9M548.7 301.3h9.9M267.8 298.7h5.9M551.4 298.7h9.9M267.6 296.1h7.9M555.1 296.1h9.9M268.8 293.5h7.9M558.3 293.5h9.9M268.1 290.9h7.9M559.6 290.9h9.9M269.9 288.3h7.9M563.4 288.3h9.9M565.5 285.7h9.9M568.1 283.1h9.9M572.3 280.5h7.9M574.4 277.9h9.9M575.5 275.3h9.9M580 272.7h7.9M582.4 270h7.9M583.1 267.4h9.9M586.8 264.8h9.9M287.7 262.2h7.9M589.1 262.2h9.9M290.8 259.6h7.9M592.2 259.6h7.9M292.2 257h9.9M593.7 257h9.9M294.5 254.4h7.9M595.9 254.4h9.9M296.3 251.8h9.9M599.7 251.8h7.9M299.1 249.2h7.9M600.5 249.2h9.9M300.6 246.6h9.9M604 246.6h9.9M303.3 244h7.9M606.7 244h7.9M305.9 241.4h7.9M609.3 241.4h7.9M306.8 238.8h9.9M612.2 238.8h7.9M309.6 236.2h7.9M613 236.2h9.9M312.2 233.5h7.9M615.7 233.5h9.9M313 230.9h9.9M618.4 230.9h9.9M314.4 228.3h9.9M621.8 228.3h7.9M317.1 225.7h9.9M624.5 225.7h7.9M318.8 223.1h9.9M626.2 223.1h9.9M319.7 220.5h9.9M629 220.5h7.9M322.8 217.9h7.9M630.2 217.9h9.9M324.5 215.3h9.9M633.8 215.3h7.9M325.9 212.7h9.9M635.2 212.7h7.9M327.7 210.1h9.9M637.1 210.1h9.9M329.6 207.5h9.9M639 207.5h9.9M330.6 204.9h9.9M642 204.9h7.9M332 202.3h9.9M645.3 202.3h7.9M335.2 199.7h9.9M646.6 199.7h7.9M335.8 197h9.9M649.1 197h7.9M338 194.4h9.9M651.4 194.4h7.9M340.6 191.8h9.9M653.9 191.8h7.9M342.3 189.2h9.9M655.6 189.2h7.9M343.3 186.6h9.9M658.6 186.6h7.9M343.9 184h11.9M661.2 184h7.9M347 181.4h9.9M664.3 181.4h7.9M346.6 178.8h11.9M667.9 178.8h7.9M348.5 176.2h11.9M671.7 176.2h7.9M350.6 173.6h9.9M673.8 173.6h7.9M352.3 171h9.9M677.5 171h7.9M354.3 168.4h9.9M681.5 168.4h7.9M355.2 165.8h9.9M684.4 165.8h7.9M356.7 163.1h11.9M687.8 163.1h5.6M358.2 160.5h11.9M691.4 160.5h2M361.1 157.9h9.9M693.4 157.9h0M363 155.3h9.9M364.7 152.7h9.9M365.8 150.1h11.9M367.9 147.5h9.9M369.9 144.9h9.9M371.1 142.3h11.9M372.8 139.7h11.9M374.7 137.1h11.9M376 134.5h11.9M378.9 131.9h9.9M379.8 129.3h11.9M382.3 126.6h11.9M383.3 124h11.9M384.6 121.4h11.9M386.8 118.8h11.9M388.7 116.2h11.9M391.4 113.6h11.9M393.5 111h11.9M396.4 108.4h11.9M398.8 105.8h11.9M400 103.2h11.9M402 100.6h13.9M405.7 98h11.9M409.6 95.4h11.9M413.1 92.7h11.9M416.2 90.1h11.9M419.9 87.5h11.9M423.6 84.9h11.9M430.2 82.3h11.9M436.4 79.7h11.9M445 77.1h11.9M452.6 74.5h11.9M471.6 71.9h4M368.7 495.9h17.8M484.9 53.3h5.9M277.5 274.6h7.9"/>
<path stroke="#51a4a2" d="M358.8 478.6h0M366.8 478.6h0M126.8 476h2M362.8 476h15.9M128.8 473.4h2M368.7 473.4h13.9M128.8 470.8h4M372.7 470.8h15.9M130.8 468.2h4M378.7 468.2h13.9M132.7 465.6h2M380.6 465.6h15.9M132.7 463h4M382.6 463h15.9M134.7 460.4h4M386.6 460.4h15.9M134.7 457.8h5.9M388.6 457.8h15.9M136.7 455.2h4M392.5 455.2h13.9M136.7 452.6h5.9M394.5 452.6h15.9M138.7 450h4M398.5 450h13.9M138.7 447.4h5.9M400.5 447.4h15.9M140.7 444.7h4M404.4 444.7h13.9M140.7 442.1h5.9M406.4 442.1h15.9M140.7 439.5h5.9M408.4 439.5h15.9M142.7 436.9h5.9M410.4 436.9h15.9M146.6 434.3h5.9M412.4 434.3h15.9M152.6 431.7h5.9M416.3 431.7h13.9M165 429.1h5.9M416.9 429.1h15.9M175.1 426.5h5.9M419 426.5h15.9M179 423.9h4M423 423.9h13.9M181.6 421.3h5.9M423.6 421.3h15.9M186.1 418.7h4M426.1 418.7h15.9M190.1 416.1h4M430.1 416.1h13.9M192.8 413.5h4M430.8 413.5h15.9M194.9 410.8h5.9M432.9 410.8h15.9M198.1 408.2h4M436.1 408.2h13.9M201.4 405.6h4M437.4 405.6h15.9M204 403h4M440 403h13.9M206.4 400.4h4M442.4 400.4h13.9M209.1 397.8h4M445.1 397.8h13.9M211.8 395.2h4M447.8 395.2h13.9M214.8 392.6h4M448.8 392.6h13.9M217.1 390h4M451.1 390h13.9M219.3 387.4h5.9M453.3 387.4h13.9M222.3 384.8h4M456.4 384.8h13.9M224.7 382.2h5.9M458.7 382.2h13.9M228.2 379.6h4M460.2 379.6h13.9M229.9 377h5.9M463.9 377h11.9M233.4 374.3h4M465.4 374.3h13.9M235.3 371.7h4M467.3 371.7h13.9M236.5 369.1h5.9M470.5 369.1h13.9M240.3 366.5h4M472.3 366.5h13.9M241.6 363.9h5.9M475.6 363.9h11.9M244.4 361.3h5.9M478.4 361.3h11.9M246.8 358.7h5.9M480.8 358.7h11.9M247.4 356.1h5.9M483.4 356.1h11.9M250.1 353.5h5.9M486.1 353.5h11.9M252.4 350.9h4M488.4 350.9h11.9M252.5 348.3h5.9M490.5 348.3h11.9M255 345.7h5.9M493 345.7h11.9M256 343.1h5.9M495.9 343.1h11.9M258.1 340.4h5.9M498.1 340.4h11.9M260.3 337.8h5.9M500.3 337.8h13.9M262.1 335.2h5.9M504 335.2h11.9M262.8 332.6h5.9M506.7 332.6h11.9M263.5 330h5.9M507.5 330h13.9M264.8 327.4h7.9M510.7 327.4h11.9M266.2 324.8h7.9M514.1 324.8h11.9M267.5 322.2h7.9M515.4 322.2h11.9M269.3 319.6h5.9M519.1 319.6h11.9M270.7 317h5.9M520.6 317h11.9M270.9 314.4h7.9M522.8 314.4h11.9M271.4 311.8h7.9M525.3 311.8h11.9M272.5 309.2h7.9M528.4 309.2h11.9M272 306.6h7.9M531.8 306.6h11.9M273.6 303.9h7.9M535.4 303.9h11.9M275 301.3h7.9M536.8 301.3h11.9M273.8 298.7h9.9M539.5 298.7h11.9M275.5 296.1h7.9M543.2 296.1h11.9M276.7 293.5h7.9M546.4 293.5h11.9M276 290.9h9.9M549.7 290.9h9.9M277.9 288.3h7.9M551.6 288.3h11.9M555.6 285.7h9.9M558.2 283.1h9.9M560.4 280.5h11.9M562.5 277.9h11.9M565.6 275.3h9.9M568.1 272.7h11.9M570.5 270h11.9M573.2 267.4h9.9M574.9 264.8h11.9M295.6 262.2h9.9M577.2 262.2h11.9M298.7 259.6h9.9M580.3 259.6h11.9M302.1 257h9.9M583.7 257h9.9M302.4 254.4h11.9M586 254.4h9.9M306.2 251.8h9.9M587.8 251.8h11.9M307 249.2h9.9M590.6 249.2h9.9M310.5 246.6h9.9M592.1 246.6h11.9M311.3 244h11.9M594.8 244h11.9M313.8 241.4h9.9M597.4 241.4h11.9M316.7 238.8h9.9M600.3 238.8h11.9M317.6 236.2h11.9M603.1 236.2h9.9M320.2 233.5h11.9M605.7 233.5h9.9M322.9 230.9h9.9M608.5 230.9h9.9M324.3 228.3h9.9M609.9 228.3h11.9M327 225.7h9.9M612.6 225.7h11.9M328.7 223.1h9.9M616.3 223.1h9.9M329.6 220.5h11.9M619.1 220.5h9.9M330.7 217.9h11.9M620.2 217.9h9.9M334.4 215.3h9.9M623.9 215.3h9.9M335.8 212.7h11.9M625.3 212.7h9.9M337.7 210.1h11.9M627.2 210.1h9.9M339.5 207.5h11.9M629.1 207.5h9.9M340.6 204.9h11.9M632.1 204.9h9.9M341.9 202.3h11.9M635.4 202.3h9.9M345.1 199.7h11.9M636.6 199.7h9.9M345.7 197h11.9M639.2 197h9.9M347.9 194.4h11.9M641.4 194.4h9.9M350.5 191.8h11.9M644 191.8h9.9M352.2 189.2h11.9M645.7 189.2h9.9M353.2 186.6h11.9M648.7 186.6h9.9M355.8 184h11.9M651.3 184h9.9M356.9 181.4h11.9M654.4 181.4h9.9M358.5 178.8h11.9M658 178.8h9.9M360.4 176.2h11.9M661.8 176.2h9.9M360.5 173.6h13.9M663.9 173.6h9.9M362.2 171h13.9M667.6 171h9.9M364.2 168.4h13.9M671.6 168.4h9.9M365.1 165.8h13.9M674.5 165.8h9.9M368.6 163.1h11.9M677.9 163.1h9.9M370.1 160.5h11.9M681.5 160.5h9.9M371 157.9h13.9M684.3 157.9h9.1M372.9 155.3h13.9M688.2 155.3h5.2M374.6 152.7h13.9M691.9 152.7h1.5M377.7 150.1h13.9M377.8 147.5h13.9M379.8 144.9h13.9M383 142.3h13.9M384.7 139.7h13.9M386.6 137.1h13.9M387.8 134.5h13.9M388.8 131.9h15.9M391.7 129.3h13.9M394.2 126.6h13.9M395.2 124h13.9M396.5 121.4h15.9M398.7 118.8h15.9M400.6 116.2h15.9M403.3 113.6h15.9M405.4 111h15.9M408.3 108.4h15.9M410.7 105.8h13.9M411.9 103.2h15.9M415.9 100.6h13.9M417.6 98h15.9M421.5 95.4h15.9M425 92.7h15.9M428.1 90.1h15.9M431.8 87.5h15.9M435.5 84.9h15.9M442.1 82.3h13.9M448.3 79.7h15.9M456.8 77.1h13.9M464.5 74.5h13.9M475.6 71.9h2M481.6 71.9h5.9M352.9 495.9h15.9M490.8 53.3h7.9M285.4 274.6h9.9"/>
<path stroke="#4e9ea1" d="M126.8 478.6h2M339 478.6h5.9M350.9 478.6h7.9M128.8 476h2M344.9 476h17.8M130.8 473.4h2M348.9 473.4h19.8M132.7 470.8h2M354.9 470.8h17.8M134.7 468.2h2M358.8 468.2h19.8M134.7 465.6h4M360.8 465.6h19.8M136.7 463h4M364.8 463h17.8M138.7 460.4h4M366.8 460.4h19.8M140.7 457.8h4M370.7 457.8h17.8M140.7 455.2h5.9M372.7 455.2h19.8M142.7 452.6h4M376.7 452.6h17.8M142.7 450h5.9M378.7 450h19.8M144.6 447.4h5.9M382.6 447.4h17.8M144.6 444.7h5.9M384.6 444.7h19.8M146.6 442.1h5.9M386.6 442.1h19.8M146.6 439.5h5.9M390.6 439.5h17.8M148.6 436.9h5.9M392.5 436.9h17.8M152.6 434.3h5.9M394.5 434.3h17.8M158.5 431.7h5.9M396.5 431.7h19.8M171 429.1h5.9M399 429.1h17.8M181 426.5h4M401.2 426.5h17.8M183 423.9h5.9M405.1 423.9h17.8M187.6 421.3h4M405.7 421.3h17.8M190.1 418.7h5.9M408.2 418.7h17.8M194.1 416.1h4M412.2 416.1h17.8M196.8 413.5h5.9M412.9 413.5h17.8M200.9 410.8h4M417 410.8h15.9M202.1 408.2h5.9M418.2 408.2h17.8M205.4 405.6h5.9M421.5 405.6h15.9M208 403h5.9M424.1 403h15.9M210.4 400.4h5.9M426.5 400.4h15.9M213.1 397.8h5.9M427.3 397.8h17.8M215.8 395.2h5.9M430 395.2h17.8M218.7 392.6h5.9M432.9 392.6h15.9M221 390h5.9M435.2 390h15.9M225.3 387.4h4M437.5 387.4h15.9M226.3 384.8h5.9M440.5 384.8h15.9M230.7 382.2h4M442.8 382.2h15.9M232.1 379.6h5.9M444.3 379.6h15.9M235.8 377h4M448 377h15.9M237.4 374.3h5.9M449.6 374.3h15.9M239.2 371.7h5.9M451.4 371.7h15.9M242.4 369.1h5.9M454.6 369.1h15.9M244.3 366.5h5.9M456.5 366.5h15.9M247.5 363.9h5.9M459.7 363.9h15.9M250.3 361.3h5.9M462.5 361.3h15.9M252.7 358.7h5.9M464.9 358.7h15.9M253.4 356.1h5.9M467.6 356.1h15.9M256 353.5h5.9M470.2 353.5h15.9M256.4 350.9h7.9M472.6 350.9h15.9M258.5 348.3h7.9M474.6 348.3h15.9M260.9 345.7h5.9M477.1 345.7h15.9M261.9 343.1h7.9M480 343.1h15.9M264 340.4h7.9M484.2 340.4h13.9M266.3 337.8h5.9M486.4 337.8h13.9M268.1 335.2h5.9M488.2 335.2h15.9M268.7 332.6h7.9M490.9 332.6h15.9M269.5 330h7.9M493.6 330h13.9M272.7 327.4h5.9M496.8 327.4h13.9M274.2 324.8h5.9M498.3 324.8h15.9M275.5 322.2h7.9M501.5 322.2h13.9M275.2 319.6h7.9M503.3 319.6h15.9M276.7 317h7.9M506.7 317h13.9M278.8 314.4h7.9M508.9 314.4h13.9M279.4 311.8h7.9M511.4 311.8h13.9M280.5 309.2h7.9M514.5 309.2h13.9M279.9 306.6h9.9M517.9 306.6h13.9M281.5 303.9h9.9M519.5 303.9h15.9M283 301.3h7.9M522.9 301.3h13.9M283.7 298.7h9.9M525.6 298.7h13.9M283.4 296.1h9.9M529.3 296.1h13.9M284.6 293.5h9.9M532.5 293.5h13.9M286 290.9h9.9M535.8 290.9h13.9M285.8 288.3h9.9M537.7 288.3h13.9M541.7 285.7h13.9M544.3 283.1h13.9M546.5 280.5h13.9M548.6 277.9h13.9M551.7 275.3h13.9M554.2 272.7h13.9M556.6 270h13.9M559.3 267.4h13.9M309.2 264.8h5.9M561 264.8h13.9M305.5 262.2h11.9M565.3 262.2h11.9M308.6 259.6h11.9M566.4 259.6h13.9M312.1 257h9.9M569.9 257h13.9M314.3 254.4h11.9M572.1 254.4h13.9M316.2 251.8h11.9M575.9 251.8h11.9M316.9 249.2h13.9M576.7 249.2h13.9M320.5 246.6h11.9M580.2 246.6h11.9M323.2 244h11.9M582.9 244h11.9M323.7 241.4h13.9M585.5 241.4h11.9M326.6 238.8h11.9M588.4 238.8h11.9M329.5 236.2h11.9M591.2 236.2h11.9M332.1 233.5h11.9M593.8 233.5h11.9M332.9 230.9h13.9M596.6 230.9h11.9M334.3 228.3h13.9M598 228.3h11.9M336.9 225.7h13.9M600.7 225.7h11.9M338.6 223.1h13.9M604.4 223.1h11.9M341.5 220.5h11.9M607.2 220.5h11.9M342.6 217.9h13.9M608.3 217.9h11.9M344.3 215.3h13.9M612 215.3h11.9M347.7 212.7h11.9M613.4 212.7h11.9M349.5 210.1h11.9M615.3 210.1h11.9M351.4 207.5h13.9M619.1 207.5h9.9M352.5 204.9h13.9M620.2 204.9h11.9M353.8 202.3h13.9M623.5 202.3h11.9M357 199.7h13.9M624.7 199.7h11.9M357.6 197h15.9M627.3 197h11.9M359.8 194.4h15.9M629.5 194.4h11.9M362.4 191.8h13.9M632.1 191.8h11.9M364.1 189.2h13.9M635.8 189.2h9.9M365.1 186.6h15.9M636.8 186.6h11.9M367.7 184h13.9M641.4 184h9.9M368.8 181.4h15.9M644.4 181.4h9.9M370.4 178.8h15.9M648.1 178.8h9.9M372.3 176.2h15.9M649.9 176.2h11.9M374.4 173.6h15.9M654 173.6h9.9M376.1 171h15.9M657.7 171h9.9M378.1 168.4h15.9M659.7 168.4h11.9M379 165.8h15.9M664.5 165.8h9.9M380.5 163.1h17.8M668 163.1h9.9M382 160.5h17.8M669.6 160.5h11.9M384.9 157.9h15.9M674.4 157.9h9.9M386.8 155.3h15.9M676.3 155.3h11.9M388.5 152.7h17.8M680 152.7h11.9M391.5 150.1h15.9M683.1 150.1h10.3M391.7 147.5h17.8M687.2 147.5h6.2M393.7 144.9h17.8M691.1 144.9h2.3M396.8 142.3h17.8M398.6 139.7h17.8M400.5 137.1h17.8M401.7 134.5h17.8M404.7 131.9h17.8M405.6 129.3h17.8M408.1 126.6h17.8M409.1 124h19.8M412.3 121.4h17.8M414.5 118.8h17.8M416.5 116.2h17.8M419.1 113.6h17.8M421.2 111h17.8M424.1 108.4h17.8M424.6 105.8h19.8M427.8 103.2h19.8M429.8 100.6h19.8M433.5 98h19.8M437.3 95.4h19.8M440.8 92.7h19.8M444 90.1h19.8M447.7 87.5h17.8M451.3 84.9h17.8M456 82.3h19.8M464.2 79.7h17.8M470.7 77.1h19.8M478.4 74.5h17.8M495.4 71.9h11.9M337 495.9h15.9M498.8 53.3h9.9M295.4 274.6h9.9"/>
<path stroke="#4c98a0" d="M128.8 478.6h2M323.1 478.6h15.9M130.8 476h2M321.1 476h23.8M132.7 473.4h2M327.1 473.4h21.8M134.7 470.8h2M331.1 470.8h23.8M136.7 468.2h2M335 468.2h23.8M138.7 465.6h4M339 465.6h21.8M140.7 463h4M341 463h23.8M142.7 460.4h4M344.9 460.4h21.8M144.6 457.8h4M346.9 457.8h23.8M146.6 455.2h4M350.9 455.2h21.8M146.6 452.6h5.9M352.9 452.6h23.8M148.6 450h5.9M356.9 450h21.8M150.6 447.4h4M358.8 447.4h23.8M150.6 444.7h5.9M362.8 444.7h21.8M152.6 442.1h5.9M364.8 442.1h21.8M152.6 439.5h7.9M366.8 439.5h23.8M154.6 436.9h5.9M370.7 436.9h21.8M158.5 434.3h7.9M372.7 434.3h21.8M164.5 431.7h5.9M374.7 431.7h21.8M176.9 429.1h4M377.2 429.1h21.8M185 426.5h5.9M379.3 426.5h21.8M189 423.9h4M383.3 423.9h21.8M191.6 421.3h5.9M385.9 421.3h19.8M196 418.7h4M388.4 418.7h19.8M198 416.1h5.9M390.4 416.1h21.8M202.7 413.5h4M393.1 413.5h19.8M204.8 410.8h5.9M395.2 410.8h21.8M208 408.2h4M398.4 408.2h19.8M211.3 405.6h4M399.7 405.6h21.8M213.9 403h4M402.3 403h21.8M216.3 400.4h5.9M404.7 400.4h21.8M219 397.8h5.9M407.4 397.8h19.8M221.7 395.2h5.9M410.1 395.2h19.8M224.7 392.6h5.9M413.1 392.6h19.8M227 390h5.9M415.4 390h19.8M229.3 387.4h5.9M417.7 387.4h19.8M232.3 384.8h5.9M420.7 384.8h19.8M234.6 382.2h5.9M423 382.2h19.8M238.1 379.6h5.9M424.5 379.6h19.8M239.8 377h5.9M428.2 377h19.8M243.3 374.3h5.9M429.7 374.3h19.8M245.2 371.7h5.9M433.6 371.7h17.8M248.4 369.1h5.9M434.8 369.1h19.8M250.2 366.5h5.9M438.6 366.5h17.8M253.5 363.9h5.9M441.9 363.9h17.8M256.3 361.3h5.9M444.6 361.3h17.8M258.7 358.7h5.9M447.1 358.7h17.8M259.3 356.1h7.9M449.7 356.1h17.8M262 353.5h5.9M452.4 353.5h17.8M264.3 350.9h5.9M454.7 350.9h17.8M266.4 348.3h5.9M456.8 348.3h17.8M266.9 345.7h7.9M459.2 345.7h17.8M269.8 343.1h5.9M462.2 343.1h17.8M272 340.4h5.9M466.3 340.4h17.8M272.2 337.8h7.9M468.5 337.8h17.8M274 335.2h7.9M470.3 335.2h17.8M276.7 332.6h7.9M473 332.6h17.8M277.4 330h7.9M475.7 330h17.8M278.7 327.4h9.9M479 327.4h17.8M280.1 324.8h9.9M482.4 324.8h15.9M283.4 322.2h7.9M483.7 322.2h17.8M283.2 319.6h9.9M487.4 319.6h15.9M284.6 317h9.9M488.9 317h17.8M286.8 314.4h9.9M493 314.4h15.9M287.3 311.8h9.9M495.5 311.8h15.9M288.4 309.2h9.9M498.6 309.2h15.9M289.9 306.6h9.9M500.1 306.6h17.8M291.4 303.9h9.9M503.6 303.9h15.9M290.9 301.3h11.9M507.1 301.3h15.9M293.6 298.7h9.9M509.8 298.7h15.9M293.3 296.1h11.9M513.5 296.1h15.9M294.6 293.5h11.9M516.7 293.5h15.9M295.9 290.9h11.9M518 290.9h17.8M295.7 288.3h13.9M521.8 288.3h15.9M523.8 285.7h17.8M528.5 283.1h15.9M530.6 280.5h15.9M532.8 277.9h15.9M535.9 275.3h15.9M310.3 272.7h9.9M538.3 272.7h15.9M312.7 270h9.9M540.8 270h15.9M543.4 267.4h15.9M315.1 264.8h13.9M547.1 264.8h13.9M317.4 262.2h13.9M549.4 262.2h15.9M320.5 259.6h13.9M552.6 259.6h13.9M322 257h13.9M554 257h15.9M326.2 254.4h11.9M556.3 254.4h15.9M328 251.8h13.9M560.1 251.8h15.9M330.8 249.2h13.9M562.9 249.2h13.9M332.4 246.6h13.9M564.4 246.6h15.9M335.1 244h13.9M567.1 244h15.9M337.6 241.4h13.9M571.6 241.4h13.9M338.5 238.8h15.9M572.5 238.8h15.9M341.4 236.2h13.9M575.4 236.2h15.9M344 233.5h13.9M578 233.5h15.9M346.7 230.9h13.9M580.7 230.9h15.9M348.1 228.3h13.9M584.1 228.3h13.9M350.8 225.7h13.9M586.8 225.7h13.9M352.5 223.1h13.9M590.5 223.1h13.9M353.4 220.5h15.9M591.4 220.5h15.9M356.5 217.9h15.9M594.5 217.9h13.9M358.2 215.3h15.9M598.1 215.3h13.9M359.6 212.7h15.9M599.5 212.7h13.9M361.4 210.1h17.8M601.4 210.1h13.9M365.3 207.5h15.9M605.3 207.5h13.9M366.3 204.9h15.9M606.3 204.9h13.9M367.7 202.3h17.8M609.6 202.3h13.9M370.9 199.7h15.9M612.8 199.7h11.9M373.5 197h15.9M615.4 197h11.9M375.7 194.4h15.9M617.6 194.4h11.9M376.3 191.8h17.8M620.2 191.8h11.9M378 189.2h17.8M621.9 189.2h13.9M381 186.6h17.8M624.9 186.6h11.9M381.6 184h17.8M627.5 184h13.9M384.7 181.4h17.8M630.6 181.4h13.9M386.3 178.8h17.8M634.2 178.8h13.9M388.1 176.2h17.8M638 176.2h11.9M390.3 173.6h17.8M642.1 173.6h11.9M392 171h17.8M643.8 171h13.9M394 168.4h17.8M647.8 168.4h11.9M394.8 165.8h19.8M650.7 165.8h13.9M398.3 163.1h17.8M654.1 163.1h13.9M399.9 160.5h19.8M657.7 160.5h11.9M400.7 157.9h19.8M660.5 157.9h13.9M402.6 155.3h19.8M664.4 155.3h11.9M406.3 152.7h19.8M668.1 152.7h11.9M407.4 150.1h19.8M671.2 150.1h11.9M409.6 147.5h19.8M675.3 147.5h11.9M411.5 144.9h19.8M679.2 144.9h11.9M414.7 142.3h19.8M682.4 142.3h11M416.4 139.7h19.8M686.1 139.7h7.3M418.3 137.1h19.8M690 137.1h3.4M419.6 134.5h21.8M693.4 134.5h0M422.5 131.9h21.8M423.4 129.3h21.8M425.9 126.6h21.8M428.9 124h21.8M430.2 121.4h21.8M432.4 118.8h21.8M434.3 116.2h23.8M437 113.6h23.8M439.1 111h23.8M442 108.4h23.8M444.4 105.8h23.8M447.6 103.2h21.8M449.6 100.6h23.8M453.3 98h23.8M457.2 95.4h21.8M460.7 92.7h21.8M463.8 90.1h21.8M465.5 87.5h23.8M469.2 84.9h23.8M475.8 82.3h21.8M482 79.7h23.8M490.6 77.1h19.8M496.2 74.5h21.8M507.3 71.9h4M519.2 71.9h7.9M321.1 495.9h15.9M508.7 53.3h11.9M305.3 274.6h13.9"/>
<path stroke="#4a929f" d="M130.8 478.6h2M291.4 478.6h7.9M315.2 478.6h0M132.7 476h2M295.4 476h25.8M134.7 473.4h2M301.3 473.4h25.8M136.7 470.8h2M305.3 470.8h25.8M138.7 468.2h4M309.2 468.2h25.8M142.7 465.6h2M311.2 465.6h27.8M144.6 463h2M315.2 463h25.8M146.6 460.4h4M319.2 460.4h25.8M148.6 457.8h4M321.1 457.8h25.8M150.6 455.2h4M325.1 455.2h25.8M152.6 452.6h4M327.1 452.6h25.8M154.6 450h4M331.1 450h25.8M154.6 447.4h5.9M333 447.4h25.8M156.5 444.7h5.9M337 444.7h25.8M158.5 442.1h5.9M339 442.1h25.8M160.5 439.5h5.9M343 439.5h23.8M160.5 436.9h7.9M344.9 436.9h25.8M166.5 434.3h5.9M346.9 434.3h25.8M170.4 431.7h7.9M350.9 431.7h23.8M180.9 429.1h7.9M353.4 429.1h23.8M190.9 426.5h4M355.5 426.5h23.8M192.9 423.9h5.9M357.5 423.9h25.8M197.5 421.3h5.9M360.1 421.3h25.8M200 418.7h5.9M362.6 418.7h25.8M204 416.1h5.9M366.6 416.1h23.8M206.7 413.5h5.9M369.3 413.5h23.8M210.8 410.8h5.9M371.4 410.8h23.8M212 408.2h5.9M374.6 408.2h23.8M215.3 405.6h5.9M375.9 405.6h23.8M217.9 403h5.9M378.5 403h23.8M222.3 400.4h5.9M382.9 400.4h21.8M225 397.8h5.9M383.6 397.8h23.8M227.7 395.2h5.9M386.3 395.2h23.8M230.6 392.6h5.9M389.3 392.6h23.8M232.9 390h5.9M391.6 390h23.8M235.2 387.4h5.9M395.8 387.4h21.8M238.2 384.8h5.9M398.8 384.8h21.8M240.6 382.2h5.9M401.2 382.2h21.8M244 379.6h5.9M402.7 379.6h21.8M245.7 377h7.9M406.3 377h21.8M249.3 374.3h5.9M407.9 374.3h21.8M251.1 371.7h7.9M411.8 371.7h21.8M254.3 369.1h5.9M414.9 369.1h19.8M256.2 366.5h7.9M416.8 366.5h21.8M259.4 363.9h7.9M420.1 363.9h21.8M262.2 361.3h5.9M422.8 361.3h21.8M264.6 358.7h7.9M425.3 358.7h21.8M267.3 356.1h5.9M427.9 356.1h21.8M267.9 353.5h7.9M430.5 353.5h21.8M270.3 350.9h7.9M432.9 350.9h21.8M272.3 348.3h7.9M436.9 348.3h19.8M274.8 345.7h7.9M439.4 345.7h19.8M275.8 343.1h9.9M442.4 343.1h19.8M277.9 340.4h9.9M444.5 340.4h21.8M280.2 337.8h9.9M446.7 337.8h21.8M281.9 335.2h9.9M450.5 335.2h19.8M284.6 332.6h7.9M453.2 332.6h19.8M285.4 330h9.9M455.9 330h19.8M288.6 327.4h7.9M459.1 327.4h19.8M290 324.8h9.9M462.6 324.8h19.8M291.3 322.2h9.9M463.9 322.2h19.8M293.1 319.6h9.9M467.6 319.6h19.8M294.5 317h9.9M471 317h17.8M296.7 314.4h9.9M473.2 314.4h19.8M297.2 311.8h11.9M475.7 311.8h19.8M298.3 309.2h11.9M478.8 309.2h19.8M299.8 306.6h11.9M482.2 306.6h17.8M301.4 303.9h11.9M483.8 303.9h19.8M302.8 301.3h11.9M487.2 301.3h19.8M303.5 298.7h11.9M489.9 298.7h19.8M305.2 296.1h11.9M493.6 296.1h19.8M306.4 293.5h11.9M496.8 293.5h19.8M307.8 290.9h13.9M500.1 290.9h17.8M309.6 288.3h11.9M502 288.3h19.8M506 285.7h17.8M508.6 283.1h19.8M510.8 280.5h19.8M514.9 277.9h17.8M518 275.3h17.8M320.2 272.7h15.9M520.5 272.7h17.8M322.6 270h15.9M522.9 270h17.8M325.3 267.4h15.9M525.6 267.4h17.8M329 264.8h15.9M529.3 264.8h17.8M331.3 262.2h15.9M531.6 262.2h17.8M334.4 259.6h15.9M534.7 259.6h17.8M335.9 257h15.9M536.1 257h17.8M338.1 254.4h15.9M540.4 254.4h15.9M341.9 251.8h15.9M542.2 251.8h17.8M344.7 249.2h15.9M545 249.2h17.8M346.2 246.6h15.9M548.5 246.6h15.9M348.9 244h15.9M551.2 244h15.9M351.5 241.4h15.9M553.8 241.4h17.8M354.4 238.8h15.9M556.6 238.8h15.9M355.2 236.2h17.8M559.5 236.2h15.9M357.9 233.5h17.8M562.1 233.5h15.9M360.6 230.9h17.8M564.9 230.9h15.9M362 228.3h17.8M568.3 228.3h15.9M364.7 225.7h17.8M570.9 225.7h15.9M366.4 223.1h17.8M572.6 223.1h17.8M369.3 220.5h17.8M575.5 220.5h15.9M372.4 217.9h17.8M578.6 217.9h15.9M374 215.3h17.8M582.3 215.3h15.9M375.4 212.7h19.8M583.7 212.7h15.9M379.3 210.1h17.8M587.5 210.1h13.9M381.2 207.5h17.8M589.4 207.5h15.9M382.2 204.9h19.8M592.4 204.9h13.9M385.5 202.3h17.8M593.8 202.3h15.9M386.8 199.7h19.8M597 199.7h15.9M389.3 197h19.8M599.5 197h15.9M391.6 194.4h19.8M601.8 194.4h15.9M394.1 191.8h19.8M604.3 191.8h15.9M395.8 189.2h19.8M608 189.2h13.9M398.8 186.6h19.8M611 186.6h13.9M399.5 184h21.8M613.6 184h13.9M402.5 181.4h19.8M616.7 181.4h13.9M404.1 178.8h21.8M620.3 178.8h13.9M406 176.2h21.8M624.1 176.2h13.9M408.1 173.6h21.8M626.3 173.6h15.9M409.8 171h21.8M629.9 171h13.9M411.8 168.4h21.8M633.9 168.4h13.9M414.7 165.8h21.8M636.8 165.8h13.9M416.2 163.1h21.8M640.2 163.1h13.9M419.7 160.5h21.8M643.8 160.5h13.9M420.6 157.9h23.8M646.7 157.9h13.9M422.5 155.3h23.8M650.5 155.3h13.9M426.2 152.7h21.8M654.2 152.7h13.9M427.2 150.1h23.8M657.3 150.1h13.9M429.4 147.5h23.8M661.4 147.5h13.9M431.3 144.9h23.8M665.4 144.9h13.9M434.5 142.3h23.8M668.5 142.3h13.9M436.2 139.7h23.8M672.2 139.7h13.9M438.2 137.1h25.8M676.1 137.1h13.9M441.4 134.5h23.8M679.4 134.5h14M444.4 131.9h23.8M682.3 131.9h11.1M445.2 129.3h25.8M687.2 129.3h6.2M447.7 126.6h25.8M689.7 126.6h3.7M450.7 124h23.8M693.4 124h0M452 121.4h25.8M454.2 118.8h25.8M458.1 116.2h25.8M460.8 113.6h25.8M462.9 111h25.8M465.8 108.4h25.8M468.2 105.8h25.8M469.4 103.2h25.8M473.4 100.6h25.8M477.1 98h25.8M479 95.4h27.8M482.5 92.7h25.8M485.6 90.1h27.8M489.3 87.5h25.8M493 84.9h25.8M497.6 82.3h27.8M505.8 79.7h23.8M510.4 77.1h25.8M518.1 74.5h23.8M527.2 71.9h23.8M305.3 495.9h15.9M520.6 53.3h123M319.2 274.6h13.9"/>
<path stroke="#478c9e" d="M267.6 478.6h5.9M289.4 478.6h2M134.7 476h2M267.6 476h27.8M136.7 473.4h2M271.6 473.4h29.7M138.7 470.8h2M275.5 470.8h29.7M142.7 468.2h2M279.5 468.2h29.7M144.6 465.6h2M283.5 465.6h27.8M146.6 463h4M285.4 463h29.7M150.6 460.4h2M289.4 460.4h29.7M152.6 457.8h4M293.4 457.8h27.8M154.6 455.2h4M295.4 455.2h29.7M156.5 452.6h5.9M299.3 452.6h27.8M158.5 450h5.9M301.3 450h29.7M160.5 447.4h5.9M305.3 447.4h27.8M162.5 444.7h7.9M307.3 444.7h29.7M164.5 442.1h7.9M311.2 442.1h27.8M166.5 439.5h7.9M313.2 439.5h29.7M168.4 436.9h7.9M317.2 436.9h27.8M172.4 434.3h7.9M319.2 434.3h27.8M178.4 431.7h7.9M323.1 431.7h27.8M188.8 429.1h5.9M325.6 429.1h27.8M194.9 426.5h7.9M327.8 426.5h27.8M198.9 423.9h5.9M331.7 423.9h25.8M203.5 421.3h5.9M334.3 421.3h25.8M206 418.7h5.9M336.8 418.7h25.8M209.9 416.1h5.9M338.8 416.1h27.8M212.6 413.5h5.9M341.5 413.5h27.8M216.7 410.8h5.9M345.6 410.8h25.8M217.9 408.2h7.9M346.8 408.2h27.8M221.2 405.6h5.9M350.1 405.6h25.8M223.8 403h7.9M352.7 403h25.8M228.2 400.4h5.9M355.1 400.4h27.8M230.9 397.8h5.9M359.8 397.8h23.8M233.6 395.2h5.9M362.5 395.2h23.8M236.6 392.6h5.9M363.5 392.6h25.8M238.9 390h5.9M367.8 390h23.8M241.2 387.4h7.9M370.1 387.4h25.8M244.2 384.8h7.9M373.1 384.8h25.8M246.5 382.2h7.9M375.4 382.2h25.8M250 379.6h7.9M378.9 379.6h23.8M253.6 377h5.9M380.6 377h25.8M255.2 374.3h7.9M384.1 374.3h23.8M259.1 371.7h5.9M386 371.7h25.8M260.3 369.1h7.9M389.2 369.1h25.8M264.1 366.5h7.9M393 366.5h23.8M267.4 363.9h5.9M396.3 363.9h23.8M268.2 361.3h7.9M399 361.3h23.8M272.6 358.7h7.9M401.5 358.7h23.8M273.2 356.1h7.9M404.1 356.1h23.8M275.9 353.5h7.9M406.7 353.5h23.8M278.2 350.9h7.9M411.1 350.9h21.8M280.3 348.3h9.9M413.1 348.3h23.8M282.8 345.7h9.9M415.6 345.7h23.8M285.7 343.1h7.9M418.6 343.1h23.8M287.8 340.4h7.9M422.7 340.4h21.8M290.1 337.8h7.9M424.9 337.8h21.8M291.8 335.2h9.9M428.7 335.2h21.8M292.5 332.6h9.9M431.4 332.6h21.8M295.3 330h9.9M434.1 330h21.8M296.5 327.4h11.9M437.3 327.4h21.8M299.9 324.8h9.9M438.8 324.8h23.8M301.2 322.2h11.9M442 322.2h21.8M303 319.6h11.9M445.8 319.6h21.8M304.4 317h11.9M449.2 317h21.8M306.6 314.4h11.9M451.4 314.4h21.8M309.1 311.8h11.9M453.9 311.8h21.8M310.2 309.2h11.9M457 309.2h21.8M311.7 306.6h11.9M460.4 306.6h21.8M313.3 303.9h13.9M464 303.9h19.8M314.7 301.3h13.9M467.4 301.3h19.8M315.4 298.7h13.9M470.1 298.7h19.8M317.1 296.1h13.9M471.8 296.1h21.8M318.3 293.5h15.9M475 293.5h21.8M321.6 290.9h13.9M478.3 290.9h21.8M321.5 288.3h15.9M482.1 288.3h19.8M484.2 285.7h21.8M488.8 283.1h19.8M491 280.5h19.8M493.1 277.9h21.8M496.2 275.3h21.8M336.1 272.7h15.9M500.7 272.7h19.8M338.5 270h15.9M503.1 270h19.8M341.2 267.4h17.8M505.8 267.4h19.8M344.8 264.8h15.9M509.4 264.8h19.8M347.2 262.2h15.9M511.8 262.2h19.8M350.3 259.6h15.9M514.9 259.6h19.8M351.7 257h17.8M518.3 257h17.8M354 254.4h17.8M520.6 254.4h19.8M357.8 251.8h17.8M522.4 251.8h19.8M360.6 249.2h17.8M525.2 249.2h19.8M362.1 246.6h17.8M528.7 246.6h19.8M364.8 244h17.8M531.4 244h19.8M367.3 241.4h17.8M533.9 241.4h19.8M370.2 238.8h17.8M536.8 238.8h19.8M373.1 236.2h17.8M541.7 236.2h17.8M375.7 233.5h17.8M544.3 233.5h17.8M378.5 230.9h17.8M547 230.9h17.8M379.9 228.3h19.8M550.4 228.3h17.8M382.5 225.7h19.8M553.1 225.7h17.8M384.2 223.1h19.8M554.8 223.1h17.8M387.1 220.5h19.8M557.6 220.5h17.8M390.2 217.9h19.8M560.8 217.9h17.8M391.9 215.3h19.8M564.4 215.3h17.8M395.3 212.7h19.8M565.8 212.7h17.8M397.1 210.1h19.8M569.7 210.1h17.8M399 207.5h21.8M571.5 207.5h17.8M402 204.9h19.8M574.6 204.9h17.8M403.4 202.3h21.8M577.9 202.3h15.9M406.6 199.7h21.8M581.1 199.7h15.9M409.2 197h21.8M583.7 197h15.9M411.4 194.4h21.8M585.9 194.4h15.9M414 191.8h21.8M588.5 191.8h15.9M415.7 189.2h21.8M592.2 189.2h15.9M418.6 186.6h21.8M595.1 186.6h15.9M421.3 184h21.8M597.8 184h15.9M422.3 181.4h23.8M600.8 181.4h15.9M425.9 178.8h21.8M604.4 178.8h15.9M427.8 176.2h23.8M608.3 176.2h15.9M429.9 173.6h23.8M612.4 173.6h13.9M431.6 171h23.8M614.1 171h15.9M433.6 168.4h23.8M618 168.4h15.9M436.5 165.8h23.8M620.9 165.8h15.9M438 163.1h25.8M624.4 163.1h15.9M441.5 160.5h23.8M628 160.5h15.9M444.4 157.9h23.8M632.8 157.9h13.9M446.3 155.3h25.8M636.6 155.3h13.9M448 152.7h25.8M638.4 152.7h15.9M451 150.1h25.8M643.4 150.1h13.9M453.2 147.5h25.8M645.5 147.5h15.9M455.1 144.9h25.8M649.5 144.9h15.9M458.3 142.3h25.8M652.7 142.3h15.9M460 139.7h27.8M656.4 139.7h15.9M463.9 137.1h25.8M660.3 137.1h15.9M465.2 134.5h27.8M665.5 134.5h13.9M468.2 131.9h27.8M668.4 131.9h13.9M471 129.3h25.8M671.3 129.3h15.9M473.5 126.6h25.8M675.8 126.6h13.9M474.5 124h27.8M678.8 124h14.6M477.8 121.4h27.8M682 121.4h11.4M480 118.8h27.8M686.2 118.8h7.2M483.9 116.2h27.8M690.2 116.2h3.2M486.6 113.6h27.8M693.4 113.6h0M488.7 111h27.8M491.6 108.4h27.8M494 105.8h27.8M495.2 103.2h29.7M499.2 100.6h29.7M502.9 98h27.8M506.7 95.4h27.8M508.3 92.7h29.7M513.4 90.1h27.8M515.1 87.5h29.7M518.8 84.9h29.7M525.4 82.3h27.8M529.6 79.7h27.8M536.2 77.1h27.8M541.9 74.5h27.8M551 71.9h13.9M289.4 495.9h15.9M643.5 53.3h4M333 274.6h17.8"/>
<path stroke="#45869d" d="M132.7 478.6h2M229.9 478.6h4M245.8 478.6h7.9M233.9 476h33.7M138.7 473.4h2M239.8 473.4h31.7M140.7 470.8h2M243.8 470.8h31.7M144.6 468.2h2M247.8 468.2h31.7M146.6 465.6h2M249.8 465.6h33.7M150.6 463h2M253.7 463h31.7M152.6 460.4h2M257.7 460.4h31.7M156.5 457.8h2M259.7 457.8h33.7M158.5 455.2h4M263.6 455.2h31.7M162.5 452.6h4M267.6 452.6h31.7M164.5 450h5.9M269.6 450h31.7M166.5 447.4h5.9M273.5 447.4h31.7M170.4 444.7h5.9M277.5 444.7h29.7M172.4 442.1h7.9M279.5 442.1h31.7M174.4 439.5h7.9M283.5 439.5h29.7M176.4 436.9h9.9M285.4 436.9h31.7M180.3 434.3h9.9M289.4 434.3h29.7M186.3 431.7h7.9M291.4 431.7h31.7M194.8 429.1h7.9M293.9 429.1h31.7M202.8 426.5h5.9M298 426.5h29.7M204.8 423.9h7.9M300 423.9h31.7M209.4 421.3h5.9M302.6 421.3h31.7M211.9 418.7h7.9M305.1 418.7h31.7M215.9 416.1h5.9M309.1 416.1h29.7M218.6 413.5h7.9M311.8 413.5h29.7M222.7 410.8h5.9M313.9 410.8h31.7M225.9 408.2h5.9M317.1 408.2h29.7M227.2 405.6h7.9M320.4 405.6h29.7M231.8 403h5.9M323 403h29.7M234.2 400.4h5.9M327.4 400.4h27.8M236.9 397.8h7.9M330.1 397.8h29.7M239.6 395.2h7.9M332.8 395.2h29.7M242.5 392.6h7.9M335.7 392.6h27.8M244.8 390h7.9M338 390h29.7M249.1 387.4h7.9M342.3 387.4h27.8M252.1 384.8h7.9M345.3 384.8h27.8M254.5 382.2h7.9M347.7 382.2h27.8M257.9 379.6h7.9M351.1 379.6h27.8M259.6 377h7.9M352.8 377h27.8M263.2 374.3h7.9M356.4 374.3h27.8M265 371.7h9.9M360.2 371.7h25.8M268.2 369.1h9.9M363.4 369.1h25.8M272 366.5h7.9M365.3 366.5h27.8M273.3 363.9h9.9M368.5 363.9h27.8M276.1 361.3h9.9M371.3 361.3h27.8M280.5 358.7h7.9M375.7 358.7h25.8M281.2 356.1h9.9M378.3 356.1h25.8M283.8 353.5h9.9M381 353.5h25.8M286.1 350.9h9.9M385.3 350.9h25.8M290.2 348.3h9.9M387.4 348.3h25.8M292.7 345.7h9.9M389.8 345.7h25.8M293.6 343.1h9.9M392.8 343.1h25.8M295.8 340.4h11.9M396.9 340.4h25.8M298 337.8h11.9M399.1 337.8h25.8M301.8 335.2h9.9M402.9 335.2h25.8M302.5 332.6h11.9M405.6 332.6h25.8M305.2 330h11.9M408.3 330h25.8M308.4 327.4h11.9M411.5 327.4h25.8M309.9 324.8h11.9M415 324.8h23.8M313.1 322.2h11.9M418.2 322.2h23.8M314.9 319.6h11.9M422 319.6h23.8M316.3 317h13.9M423.4 317h25.8M318.5 314.4h13.9M427.6 314.4h23.8M321 311.8h13.9M430.1 311.8h23.8M322.1 309.2h13.9M433.2 309.2h23.8M323.6 306.6h15.9M436.6 306.6h23.8M327.1 303.9h13.9M440.2 303.9h23.8M328.6 301.3h13.9M443.6 301.3h23.8M329.3 298.7h15.9M446.3 298.7h23.8M331 296.1h17.8M450 296.1h21.8M334.2 293.5h15.9M453.2 293.5h21.8M335.5 290.9h17.8M454.5 290.9h23.8M337.4 288.3h17.8M458.3 288.3h23.8M462.4 285.7h21.8M465 283.1h23.8M467.2 280.5h23.8M471.3 277.9h21.8M474.4 275.3h21.8M351.9 272.7h19.8M476.9 272.7h23.8M354.3 270h19.8M479.3 270h23.8M359 267.4h17.8M483.9 267.4h21.8M360.7 264.8h19.8M485.6 264.8h23.8M363 262.2h19.8M489.9 262.2h21.8M366.1 259.6h19.8M493.1 259.6h21.8M369.6 257h19.8M494.5 257h23.8M371.9 254.4h19.8M498.8 254.4h21.8M375.6 251.8h19.8M500.6 251.8h21.8M378.4 249.2h19.8M505.3 249.2h19.8M380 246.6h19.8M506.9 246.6h21.8M382.7 244h21.8M509.6 244h21.8M385.2 241.4h21.8M514.1 241.4h19.8M388.1 238.8h21.8M517 238.8h19.8M390.9 236.2h21.8M519.8 236.2h21.8M393.6 233.5h21.8M522.5 233.5h21.8M396.3 230.9h21.8M525.2 230.9h21.8M399.7 228.3h21.8M528.6 228.3h21.8M402.3 225.7h21.8M531.2 225.7h21.8M404.1 223.1h21.8M534.9 223.1h19.8M406.9 220.5h21.8M537.8 220.5h19.8M410 217.9h21.8M540.9 217.9h19.8M411.7 215.3h23.8M544.6 215.3h19.8M415.1 212.7h21.8M546 212.7h19.8M417 210.1h23.8M549.8 210.1h19.8M420.8 207.5h21.8M553.7 207.5h17.8M421.9 204.9h23.8M556.7 204.9h17.8M425.2 202.3h23.8M558.1 202.3h19.8M428.4 199.7h23.8M561.3 199.7h19.8M431 197h23.8M565.8 197h17.8M433.2 194.4h23.8M568.1 194.4h17.8M435.8 191.8h23.8M570.6 191.8h17.8M437.5 189.2h25.8M574.3 189.2h17.8M440.5 186.6h25.8M577.3 186.6h17.8M443.1 184h25.8M581.9 184h15.9M446.1 181.4h25.8M584.9 181.4h15.9M447.8 178.8h25.8M588.6 178.8h15.9M451.6 176.2h25.8M592.4 176.2h15.9M453.7 173.6h25.8M594.5 173.6h17.8M455.4 171h25.8M598.2 171h15.9M457.4 168.4h27.8M602.2 168.4h15.9M460.3 165.8h27.8M605 165.8h15.9M463.7 163.1h25.8M610.5 163.1h13.9M465.3 160.5h27.8M614.1 160.5h13.9M468.2 157.9h27.8M616.9 157.9h15.9M472 155.3h25.8M620.8 155.3h15.9M473.8 152.7h27.8M624.5 152.7h13.9M476.8 150.1h27.8M627.5 150.1h15.9M479 147.5h27.8M631.7 147.5h13.9M480.9 144.9h29.7M635.6 144.9h13.9M484.1 142.3h27.8M638.8 142.3h13.9M487.8 139.7h27.8M642.5 139.7h13.9M489.7 137.1h27.8M646.4 137.1h13.9M493 134.5h27.8M651.6 134.5h13.9M495.9 131.9h27.8M654.6 131.9h13.9M496.8 129.3h29.7M657.4 129.3h13.9M499.3 126.6h29.7M661.9 126.6h13.9M502.3 124h29.7M664.9 124h13.9M505.5 121.4h29.7M670.1 121.4h11.9M507.7 118.8h29.7M672.3 118.8h13.9M511.7 116.2h29.7M676.3 116.2h13.9M514.3 113.6h29.7M680.9 113.6h12.5M516.4 111h29.7M683 111h10.4M519.3 108.4h29.7M687.9 108.4h5.5M521.8 105.8h29.7M690.3 105.8h3.1M525 103.2h29.7M528.9 100.6h29.7M530.7 98h29.7M534.5 95.4h29.7M538 92.7h29.7M541.2 90.1h29.7M544.9 87.5h29.7M548.5 84.9h29.7M553.2 82.3h27.8M557.4 79.7h27.8M563.9 77.1h25.8M569.6 74.5h23.8M584.7 71.9h2M594.6 71.9h4M273.5 495.9h15.9M647.5 53.3h2M350.9 274.6h17.8"/>
<path stroke="#44809c" d="M134.7 478.6h2M184.3 478.6h0M198.2 478.6h9.9M224 478.6h5.9M136.7 476h2M190.3 476h43.6M194.2 473.4h45.6M142.7 470.8h2M200.2 470.8h43.6M204.1 468.2h43.6M148.6 465.6h2M210.1 465.6h39.7M152.6 463h2M214.1 463h39.7M154.6 460.4h4M218 460.4h39.7M158.5 457.8h4M222 457.8h37.7M162.5 455.2h4M224 455.2h39.7M166.5 452.6h4M227.9 452.6h39.7M170.4 450h4M231.9 450h37.7M172.4 447.4h7.9M235.9 447.4h37.7M176.4 444.7h7.9M239.8 444.7h37.7M180.3 442.1h7.9M243.8 442.1h35.7M182.3 439.5h9.9M245.8 439.5h37.7M186.3 436.9h9.9M249.8 436.9h35.7M190.3 434.3h9.9M251.7 434.3h37.7M194.2 431.7h11.9M255.7 431.7h35.7M202.7 429.1h9.9M258.2 429.1h35.7M208.8 426.5h7.9M258.4 426.5h39.7M212.8 423.9h7.9M262.3 423.9h37.7M215.4 421.3h7.9M264.9 421.3h37.7M219.8 418.7h7.9M269.4 418.7h35.7M221.8 416.1h7.9M271.4 416.1h37.7M226.5 413.5h7.9M274.1 413.5h37.7M228.6 410.8h7.9M278.2 410.8h35.7M231.8 408.2h7.9M281.4 408.2h35.7M235.1 405.6h7.9M284.7 405.6h35.7M237.7 403h9.9M287.3 403h35.7M240.1 400.4h9.9M291.7 400.4h35.7M244.8 397.8h7.9M294.4 397.8h35.7M247.5 395.2h7.9M297.1 395.2h35.7M250.4 392.6h7.9M300 392.6h35.7M252.8 390h9.9M304.3 390h33.7M257 387.4h7.9M306.6 387.4h35.7M260 384.8h7.9M311.6 384.8h33.7M262.4 382.2h9.9M313.9 382.2h33.7M265.9 379.6h9.9M317.4 379.6h33.7M267.5 377h9.9M321.1 377h31.7M271.1 374.3h9.9M324.6 374.3h31.7M274.9 371.7h9.9M326.5 371.7h33.7M278.1 369.1h9.9M329.7 369.1h33.7M280 366.5h9.9M333.5 366.5h31.7M283.2 363.9h9.9M336.8 363.9h31.7M286 361.3h9.9M339.5 361.3h31.7M288.4 358.7h9.9M344 358.7h31.7M291.1 356.1h11.9M346.6 356.1h31.7M293.7 353.5h11.9M349.2 353.5h31.7M296.1 350.9h11.9M353.6 350.9h31.7M300.1 348.3h9.9M357.6 348.3h29.7M302.6 345.7h11.9M360.1 345.7h29.7M303.6 343.1h13.9M363 343.1h29.7M307.7 340.4h11.9M367.2 340.4h29.7M309.9 337.8h11.9M369.4 337.8h29.7M311.7 335.2h13.9M373.2 335.2h29.7M314.4 332.6h13.9M375.8 332.6h29.7M317.1 330h13.9M380.6 330h27.8M320.3 327.4h13.9M383.8 327.4h27.8M321.8 324.8h13.9M387.2 324.8h27.8M325 322.2h13.9M390.5 322.2h27.8M326.8 319.6h15.9M392.2 319.6h29.7M330.2 317h13.9M395.6 317h27.8M332.4 314.4h15.9M399.8 314.4h27.8M334.9 311.8h15.9M402.3 311.8h27.8M336 309.2h17.8M405.4 309.2h27.8M339.4 306.6h15.9M408.8 306.6h27.8M341 303.9h17.8M412.4 303.9h27.8M342.5 301.3h17.8M415.8 301.3h27.8M345.2 298.7h17.8M418.6 298.7h27.8M348.9 296.1h17.8M422.2 296.1h27.8M350.1 293.5h19.8M425.4 293.5h27.8M353.4 290.9h17.8M428.7 290.9h25.8M355.2 288.3h19.8M432.6 288.3h25.8M375.1 285.7h2M434.6 285.7h27.8M371.8 283.1h7.9M439.2 283.1h25.8M381.9 280.5h2M441.4 280.5h25.8M380.1 277.9h5.9M445.5 277.9h25.8M367.3 275.3h21.8M448.6 275.3h25.8M371.8 272.7h21.8M451.1 272.7h25.8M374.2 270h21.8M453.5 270h25.8M376.9 267.4h21.8M458.2 267.4h25.8M380.5 264.8h21.8M459.9 264.8h25.8M382.9 262.2h21.8M464.2 262.2h25.8M386 259.6h21.8M467.3 259.6h25.8M389.4 257h21.8M470.7 257h23.8M391.7 254.4h23.8M473 254.4h25.8M395.5 251.8h21.8M476.8 251.8h23.8M398.3 249.2h21.8M479.6 249.2h25.8M399.8 246.6h23.8M483.1 246.6h23.8M404.5 244h21.8M485.8 244h23.8M407 241.4h23.8M490.3 241.4h23.8M409.9 238.8h23.8M493.2 238.8h23.8M412.8 236.2h23.8M496 236.2h23.8M415.4 233.5h23.8M498.7 233.5h23.8M418.1 230.9h23.8M501.4 230.9h23.8M421.5 228.3h23.8M504.8 228.3h23.8M424.2 225.7h23.8M509.4 225.7h21.8M425.9 223.1h25.8M511.2 223.1h23.8M428.7 220.5h25.8M514 220.5h23.8M431.9 217.9h25.8M519.1 217.9h21.8M435.5 215.3h25.8M520.8 215.3h23.8M436.9 212.7h27.8M524.2 212.7h21.8M440.8 210.1h25.8M528 210.1h21.8M442.6 207.5h27.8M531.9 207.5h21.8M445.7 204.9h27.8M534.9 204.9h21.8M449 202.3h25.8M538.2 202.3h19.8M452.2 199.7h25.8M541.5 199.7h19.8M454.8 197h27.8M544 197h21.8M457 194.4h27.8M548.2 194.4h19.8M459.6 191.8h27.8M550.8 191.8h19.8M463.3 189.2h27.8M554.5 189.2h19.8M466.2 186.6h27.8M557.5 186.6h19.8M468.9 184h27.8M562.1 184h19.8M471.9 181.4h27.8M565.1 181.4h19.8M473.5 178.8h27.8M570.7 178.8h17.8M477.4 176.2h27.8M574.5 176.2h17.8M479.5 173.6h27.8M578.7 173.6h15.9M481.2 171h27.8M582.3 171h15.9M485.2 168.4h27.8M586.3 168.4h15.9M488 165.8h27.8M589.2 165.8h15.9M489.5 163.1h27.8M594.6 163.1h15.9M493.1 160.5h27.8M598.2 160.5h15.9M495.9 157.9h27.8M601 157.9h15.9M497.8 155.3h27.8M606.9 155.3h13.9M501.5 152.7h27.8M610.6 152.7h13.9M504.6 150.1h25.8M613.6 150.1h13.9M506.7 147.5h25.8M617.8 147.5h13.9M510.7 144.9h25.8M621.7 144.9h13.9M511.9 142.3h25.8M626.9 142.3h11.9M515.6 139.7h25.8M630.6 139.7h11.9M517.5 137.1h25.8M634.5 137.1h11.9M520.7 134.5h25.8M637.7 134.5h13.9M523.7 131.9h25.8M642.7 131.9h11.9M526.5 129.3h23.8M645.5 129.3h11.9M529.1 126.6h23.8M650 126.6h11.9M532 124h23.8M655 124h9.9M535.3 121.4h23.8M658.2 121.4h11.9M537.5 118.8h23.8M662.4 118.8h9.9M541.4 116.2h21.8M666.4 116.2h9.9M544.1 113.6h21.8M669 113.6h11.9M546.2 111h23.8M673.1 111h9.9M549.1 108.4h21.8M676 108.4h11.9M551.5 105.8h23.8M680.4 105.8h9.9M554.7 103.2h21.8M683.6 103.2h9.8M558.7 100.6h21.8M687.6 100.6h5.8M560.4 98h21.8M691.3 98h2.1M564.3 95.4h21.8M567.8 92.7h19.8M570.9 90.1h19.8M574.6 87.5h19.8M578.3 84.9h19.8M580.9 82.3h19.8M585.2 79.7h17.8M589.7 77.1h17.8M593.4 74.5h17.8M598.6 71.9h5.9M610.5 71.9h4M255.7 495.9h17.8M649.5 53.3h2M368.7 274.6h21.8"/>
<path stroke="#427a9b" d="M182.3 478.6h2M138.7 476h2M174.4 476h15.9M140.7 473.4h2M178.4 473.4h15.9M144.6 470.8h2M180.3 470.8h19.8M146.6 468.2h2M182.3 468.2h21.8M150.6 465.6h2M186.3 465.6h23.8M154.6 463h2M188.3 463h25.8M158.5 460.4h2M190.3 460.4h27.8M162.5 457.8h2M192.2 457.8h29.7M166.5 455.2h4M194.2 455.2h29.7M170.4 452.6h5.9M194.2 452.6h33.7M174.4 450h7.9M196.2 450h35.7M180.3 447.4h11.9M196.2 447.4h39.7M184.3 444.7h55.5M188.3 442.1h55.5M192.2 439.5h53.5M196.2 436.9h53.5M200.2 434.3h51.6M206.1 431.7h49.6M212.6 429.1h45.6M216.7 426.5h41.6M220.7 423.9h41.6M223.3 421.3h41.6M227.8 418.7h41.6M229.8 416.1h41.6M234.4 413.5h39.7M236.5 410.8h41.6M239.8 408.2h41.6M243 405.6h41.6M247.6 403h39.7M250 400.4h41.6M252.7 397.8h41.6M255.4 395.2h41.6M258.4 392.6h41.6M262.7 390h41.6M265 387.4h41.6M268 384.8h43.6M272.3 382.2h41.6M275.8 379.6h41.6M277.4 377h43.6M281 374.3h43.6M284.9 371.7h41.6M288 369.1h41.6M289.9 366.5h43.6M293.2 363.9h43.6M295.9 361.3h43.6M298.3 358.7h45.6M303 356.1h43.6M305.6 353.5h43.6M308 350.9h45.6M310 348.3h47.6M314.5 345.7h45.6M317.4 343.1h45.6M319.6 340.4h47.6M321.8 337.8h47.6M325.6 335.2h47.6M328.2 332.6h47.6M331 330h49.6M334.2 327.4h49.6M335.6 324.8h51.6M338.9 322.2h51.6M342.7 319.6h49.6M344.1 317h51.6M348.2 314.4h51.6M350.8 311.8h51.6M353.9 309.2h51.6M355.3 306.6h53.5M358.9 303.9h53.5M360.3 301.3h55.5M363 298.7h55.5M366.7 296.1h55.5M369.9 293.5h55.5M371.2 290.9h57.5M375.1 288.3h57.5M377.1 285.7h57.5M379.7 283.1h59.5M383.9 280.5h57.5M386 277.9h59.5M389.1 275.3h59.5M393.6 272.7h57.5M396 270h57.5M398.7 267.4h59.5M402.4 264.8h57.5M404.7 262.2h59.5M407.8 259.6h59.5M411.2 257h59.5M415.5 254.4h57.5M417.3 251.8h59.5M420.1 249.2h59.5M423.6 246.6h59.5M426.3 244h59.5M430.8 241.4h59.5M433.7 238.8h59.5M436.6 236.2h59.5M439.2 233.5h59.5M441.9 230.9h59.5M445.3 228.3h59.5M448 225.7h61.5M451.7 223.1h59.5M454.5 220.5h59.5M457.6 217.9h61.5M461.3 215.3h59.5M464.7 212.7h59.5M466.6 210.1h61.5M470.4 207.5h61.5M473.4 204.9h61.5M474.8 202.3h63.5M478 199.7h63.5M482.5 197h61.5M484.8 194.4h63.5M487.3 191.8h33.7M523 191.8h27.8M491 189.2h33.7M528.7 189.2h25.8M494 186.6h31.7M531.7 186.6h25.8M496.6 184h31.7M538.3 184h23.8M499.7 181.4h29.7M541.3 181.4h23.8M501.3 178.8h29.7M546.9 178.8h23.8M505.1 176.2h27.8M550.7 176.2h23.8M507.3 173.6h27.8M556.8 173.6h21.8M509 171h27.8M562.5 171h19.8M512.9 168.4h25.8M566.5 168.4h19.8M515.8 165.8h23.8M571.3 165.8h17.8M517.3 163.1h25.8M576.8 163.1h17.8M520.9 160.5h23.8M582.3 160.5h15.9M523.7 157.9h21.8M587.2 157.9h13.9M525.6 155.3h21.8M591 155.3h15.9M529.3 152.7h19.8M596.7 152.7h13.9M530.4 150.1h19.8M599.8 150.1h13.9M532.5 147.5h19.8M605.9 147.5h11.9M536.5 144.9h17.8M609.8 144.9h11.9M537.6 142.3h19.8M615 142.3h11.9M541.4 139.7h17.8M618.7 139.7h11.9M543.3 137.1h17.8M622.6 137.1h11.9M546.5 134.5h15.9M627.8 134.5h9.9M549.5 131.9h15.9M632.8 131.9h9.9M550.3 129.3h15.9M635.6 129.3h9.9M552.9 126.6h15.9M640.1 126.6h9.9M555.8 124h15.9M645.1 124h9.9M559.1 121.4h13.9M648.3 121.4h9.9M561.3 118.8h13.9M652.5 118.8h9.9M563.2 116.2h15.9M656.4 116.2h9.9M565.9 113.6h13.9M661.1 113.6h7.9M570 111h11.9M665.2 111h7.9M570.9 108.4h13.9M668.1 108.4h7.9M575.3 105.8h11.9M672.5 105.8h7.9M576.5 103.2h13.9M675.7 103.2h7.9M580.5 100.6h11.9M679.6 100.6h7.9M582.2 98h13.9M683.4 98h7.9M586.1 95.4h11.9M687.2 95.4h6.2M587.6 92.7h13.9M690.7 92.7h2.7M590.7 90.1h11.9M693.4 90.1h0M594.4 87.5h11.9M598.1 84.9h9.9M600.8 82.3h11.9M603 79.7h11.9M607.6 77.1h9.9M611.3 74.5h9.9M614.4 71.9h0M622.4 71.9h2M235.9 495.9h19.8M651.5 53.3h2M390.6 274.6h2.5"/>
<path stroke="#40749a" d="M136.7 478.6h2M168.4 478.6h2M170.4 476h4M142.7 473.4h2M174.4 473.4h4M146.6 470.8h2M176.4 470.8h4M148.6 468.2h2M178.4 468.2h4M152.6 465.6h2M180.3 465.6h5.9M156.5 463h2M182.3 463h5.9M160.5 460.4h4M182.3 460.4h7.9M164.5 457.8h5.9M184.3 457.8h7.9M170.4 455.2h7.9M182.3 455.2h11.9M176.4 452.6h17.8M182.3 450h13.9M192.2 447.4h4M521 191.8h2M524.7 189.2h4M525.7 186.6h5.9M528.4 184h9.9M529.4 181.4h11.9M531 178.8h15.9M532.9 176.2h17.8M535 173.6h21.8M536.7 171h25.8M538.7 168.4h27.8M539.6 165.8h31.7M543.1 163.1h33.7M544.7 160.5h37.7M545.5 157.9h41.6M547.4 155.3h43.6M549.1 152.7h17.8M578.9 152.7h17.8M550.2 150.1h17.8M585.9 150.1h13.9M552.3 147.5h15.9M592 147.5h13.9M554.3 144.9h13.9M597.9 144.9h11.9M557.5 142.3h11.9M603.1 142.3h11.9M559.2 139.7h11.9M608.8 139.7h9.9M561.1 137.1h11.9M612.7 137.1h9.9M562.4 134.5h11.9M617.9 134.5h9.9M565.3 131.9h9.9M622.8 131.9h9.9M566.2 129.3h11.9M627.7 129.3h7.9M568.7 126.6h9.9M632.2 126.6h7.9M571.7 124h9.9M637.1 124h7.9M573 121.4h9.9M640.4 121.4h7.9M575.2 118.8h9.9M644.6 118.8h7.9M579.1 116.2h7.9M648.5 116.2h7.9M579.8 113.6h9.9M653.2 113.6h7.9M581.9 111h9.9M657.2 111h7.9M584.8 108.4h7.9M662.1 108.4h5.9M587.2 105.8h7.9M664.5 105.8h7.9M590.4 103.2h7.9M669.7 103.2h5.9M592.4 100.6h7.9M673.7 100.6h5.9M596.1 98h7.9M677.4 98h5.9M598 95.4h7.9M679.3 95.4h7.9M601.5 92.7h7.9M684.8 92.7h5.9M602.6 90.1h7.9M687.9 90.1h5.5M606.3 87.5h7.9M691.6 87.5h1.8M608 84.9h7.9M693.4 84.9h0M612.7 82.3h5.9M614.9 79.7h7.9M617.5 77.1h7.9M621.2 74.5h7.9M624.3 71.9h4M216 495.9h19.8M653.5 53.3h4"/>
<path stroke="#3f6e99" d="M138.7 478.6h2M140.7 476h2M168.4 476h2M144.6 473.4h2M170.4 473.4h4M172.4 470.8h4M150.6 468.2h2M174.4 468.2h4M154.6 465.6h2M176.4 465.6h4M158.5 463h4M178.4 463h4M164.5 460.4h4M178.4 460.4h4M170.4 457.8h13.9M178.4 455.2h4M567 152.7h11.9M568 150.1h17.8M568.2 147.5h23.8M568.2 144.9h29.7M569.4 142.3h15.9M589.2 142.3h13.9M571.1 139.7h11.9M596.9 139.7h11.9M573 137.1h9.9M604.7 137.1h7.9M574.3 134.5h7.9M610 134.5h7.9M575.2 131.9h7.9M614.9 131.9h7.9M578.1 129.3h5.9M619.7 129.3h7.9M578.6 126.6h7.9M626.2 126.6h5.9M581.6 124h5.9M629.2 124h7.9M582.9 121.4h5.9M634.4 121.4h5.9M585.1 118.8h5.9M638.6 118.8h5.9M587 116.2h5.9M644.5 116.2h4M589.7 113.6h5.9M647.2 113.6h5.9M591.8 111h5.9M651.3 111h5.9M592.7 108.4h5.9M656.2 108.4h5.9M595.1 105.8h5.9M660.6 105.8h4M598.3 103.2h5.9M663.8 103.2h5.9M600.3 100.6h5.9M667.8 100.6h5.9M604.1 98h4M671.5 98h5.9M605.9 95.4h5.9M675.3 95.4h4M609.4 92.7h4M678.8 92.7h5.9M610.6 90.1h5.9M682 90.1h5.9M614.3 87.5h4M685.7 87.5h5.9M615.9 84.9h5.9M689.3 84.9h4.1M618.6 82.3h5.9M693.4 82.3h0M622.8 79.7h4M625.4 77.1h4M629.1 74.5h4M634.3 71.9h2M190.3 495.9h25.8M657.4 53.3h2"/>
<path stroke="#3f6897" d="M142.7 476h2M166.5 476h2M168.4 473.4h2M148.6 470.8h2M170.4 470.8h2M152.6 468.2h2M172.4 468.2h2M156.5 465.6h4M172.4 465.6h4M162.5 463h5.9M170.4 463h7.9M168.4 460.4h9.9M585.2 142.3h4M583 139.7h13.9M582.9 137.1h21.8M582.2 134.5h27.8M583.2 131.9h9.9M607 131.9h7.9M584 129.3h7.9M613.8 129.3h5.9M586.6 126.6h5.9M618.3 126.6h7.9M587.5 124h5.9M625.2 124h4M588.8 121.4h5.9M628.5 121.4h5.9M591 118.8h5.9M634.6 118.8h4M593 116.2h5.9M638.6 116.2h5.9M595.6 113.6h4M643.2 113.6h4M597.7 111h4M647.3 111h4M598.6 108.4h5.9M652.2 108.4h4M601.1 105.8h4M656.6 105.8h4M604.3 103.2h4M659.8 103.2h4M606.3 100.6h4M663.8 100.6h4M608 98h4M667.5 98h4M611.8 95.4h4M671.3 95.4h4M613.4 92.7h4M674.8 92.7h4M616.5 90.1h4M680 90.1h2M618.2 87.5h4M683.7 87.5h2M621.9 84.9h4M685.3 84.9h4M624.6 82.3h4M690 82.3h3.4M626.8 79.7h4M693.4 79.7h0M629.4 77.1h4M633.1 74.5h4M636.2 71.9h4M146.6 495.9h43.6"/>
<path stroke="#3e6196" d="M140.7 478.6h0M164.5 476h2M146.6 473.4h2M166.5 473.4h2M150.6 470.8h2M168.4 470.8h2M154.6 468.2h4M168.4 468.2h4M160.5 465.6h11.9M168.4 463h2M593.1 131.9h13.9M592 129.3h21.8M592.5 126.6h7.9M610.4 126.6h7.9M593.5 124h5.9M617.3 124h7.9M594.8 121.4h5.9M624.5 121.4h4M597 118.8h4M628.7 118.8h5.9M598.9 116.2h4M634.6 116.2h4M599.6 113.6h4M639.3 113.6h4M601.7 111h4M643.3 111h4M604.6 108.4h2M648.2 108.4h4M605 105.8h4M652.6 105.8h4M608.2 103.2h4M655.8 103.2h4M610.2 100.6h4M659.8 100.6h4M612 98h4M665.5 98h2M615.8 95.4h2M669.4 95.4h2M617.3 92.7h4M672.9 92.7h2M620.5 90.1h2M676 90.1h4M622.2 87.5h4M679.7 87.5h4M625.9 84.9h2M683.4 84.9h2M628.5 82.3h2M686 82.3h4M630.8 79.7h4M690.3 79.7h3.1M633.3 77.1h4M693.4 77.1h0M637 74.5h2M640.2 71.9h2M126.8 495.9h19.8M659.4 53.3h2"/>
<path stroke="#3e5a94" d="M144.6 476h2M160.5 476h4M148.6 473.4h2M162.5 473.4h4M152.6 470.8h4M164.5 470.8h4M158.5 468.2h9.9M600.4 126.6h9.9M599.4 124h17.8M600.7 121.4h5.9M616.6 121.4h7.9M600.9 118.8h5.9M624.7 118.8h4M602.9 116.2h4M630.7 116.2h4M603.6 113.6h4M635.3 113.6h4M605.7 111h4M639.4 111h4M606.6 108.4h4M644.3 108.4h4M609 105.8h4M648.7 105.8h4M612.2 103.2h2M653.9 103.2h2M614.2 100.6h2M657.8 100.6h2M616 98h2M661.6 98h4M617.8 95.4h4M665.4 95.4h4M621.3 92.7h2M668.9 92.7h4M622.5 90.1h4M674 90.1h2M626.2 87.5h2M677.7 87.5h2M627.8 84.9h4M681.4 84.9h2M630.5 82.3h4M684.1 82.3h2M634.7 79.7h2M688.3 79.7h2M637.3 77.1h2M690.9 77.1h2.5M639 74.5h2M642.2 71.9h2M661.4 53.3h2"/>
<path stroke="#3e5492" d="M146.6 476h2M158.5 476h2M150.6 473.4h4M160.5 473.4h2M156.5 470.8h7.9M606.7 121.4h9.9M606.9 118.8h17.8M606.9 116.2h5.9M624.7 116.2h5.9M607.5 113.6h4M631.3 113.6h4M609.6 111h4M637.4 111h2M610.5 108.4h4M642.3 108.4h2M613 105.8h2M646.7 105.8h2M614.2 103.2h4M649.9 103.2h4M616.2 100.6h2M655.9 100.6h2M617.9 98h4M659.6 98h2M621.8 95.4h2M663.4 95.4h2M623.3 92.7h2M666.9 92.7h2M626.4 90.1h2M672.1 90.1h2M628.2 87.5h2M675.7 87.5h2M631.8 84.9h2M679.4 84.9h2M634.5 82.3h2M682.1 82.3h2M636.7 79.7h2M686.3 79.7h2M639.3 77.1h2M688.9 77.1h2M641 74.5h2M693.4 74.5h0M644.2 71.9h2M663.4 53.3h2"/>
<path stroke="#404c8a" d="M148.6 476h9.9M154.6 473.4h5.9M612.8 116.2h11.9M611.5 113.6h5.9M625.4 113.6h5.9M613.6 111h4M633.4 111h4M614.5 108.4h2M638.3 108.4h4M615 105.8h4M642.7 105.8h4M618.2 103.2h2M647.9 103.2h2M618.2 100.6h4M651.9 100.6h4M621.9 98h2M657.6 98h2M623.7 95.4h2M661.4 95.4h2M625.3 92.7h2M664.9 92.7h2M628.4 90.1h2M670.1 90.1h2M630.1 87.5h2M673.8 87.5h2M633.8 84.9h2M677.4 84.9h2M636.5 82.3h2M680.1 82.3h2M638.7 79.7h2M684.3 79.7h2M641.3 77.1h2M686.9 77.1h2M643 74.5h2M690.6 74.5h2.8M646.1 71.9h2M665.4 53.3h2"/>
<path stroke="#424482" d="M148.6 478.6h2M617.5 113.6h7.9M617.6 111h15.9M616.5 108.4h4M634.3 108.4h4M618.9 105.8h2M640.7 105.8h2M620.1 103.2h2M645.9 103.2h2M622.1 100.6h2M649.9 100.6h2M623.9 98h2M655.6 98h2M625.7 95.4h2M659.4 95.4h2M627.2 92.7h2M662.9 92.7h2M630.4 90.1h2M668.1 90.1h2M632.1 87.5h2M671.8 87.5h2M635.8 84.9h2M675.4 84.9h2M678.1 82.3h2M640.7 79.7h2M682.3 79.7h2M643.3 77.1h2M645 74.5h2M648.1 71.9h2M667.3 53.3h2"/>
<path stroke="#413d74" d="M620.5 108.4h13.9M620.9 105.8h5.9M636.8 105.8h4M622.1 103.2h4M642 103.2h4M624.1 100.6h2M647.9 100.6h2M625.9 98h2M651.6 98h4M627.7 95.4h2M657.5 95.4h2M629.2 92.7h2M661 92.7h2M632.4 90.1h2M666.1 90.1h2M634.1 87.5h2M669.8 87.5h2M673.4 84.9h2M638.4 82.3h2M680.3 79.7h2M684.9 77.1h2M647 74.5h2M688.6 74.5h2M650.1 71.9h2M669.3 53.3h2"/>
<path stroke="#403665" d="M626.9 105.8h9.9M626.1 103.2h4M638 103.2h4M626.1 100.6h4M644 100.6h4M627.8 98h2M649.7 98h2M629.7 95.4h2M655.5 95.4h2M631.2 92.7h2M659 92.7h2M634.4 90.1h2M664.1 90.1h2M636.1 87.5h2M667.8 87.5h2M637.8 84.9h2M671.5 84.9h2M640.4 82.3h2M676.1 82.3h2M642.7 79.7h2M645.2 77.1h2M682.9 77.1h2M648.9 74.5h2M686.6 74.5h2M652.1 71.9h0M689.8 71.9h0M671.3 53.3h4"/>
<path stroke="#3a2f56" d="M630.1 103.2h7.9M630.1 100.6h4M640 100.6h4M629.8 98h4M647.7 98h2M631.7 95.4h2M651.5 95.4h4M633.2 92.7h2M657 92.7h2M636.4 90.1h2M662.1 90.1h2M638.1 87.5h2M665.8 87.5h2M639.7 84.9h2M669.5 84.9h2M642.4 82.3h2M674.1 82.3h2M644.7 79.7h2M678.4 79.7h2M647.2 77.1h2M680.9 77.1h2M684.6 74.5h2M675.3 53.3h2"/>
<path stroke="#352848" d="M634 100.6h5.9M633.8 98h5.9M641.7 98h5.9M633.7 95.4h4M649.5 95.4h2M635.2 92.7h4M655 92.7h2M638.3 90.1h2M660.2 90.1h2M640.1 87.5h2M663.9 87.5h2M641.7 84.9h2M667.5 84.9h2M644.4 82.3h2M672.2 82.3h2M646.6 79.7h2M676.4 79.7h2M649.2 77.1h2M650.9 74.5h2M687.8 71.9h2M677.3 53.3h2"/>
<path stroke="#2e213a" d="M639.7 98h2M637.6 95.4h11.9M639.1 92.7h2M651 92.7h4M640.3 90.1h2M658.2 90.1h2M642 87.5h2M661.9 87.5h2M643.7 84.9h2M646.4 82.3h2M670.2 82.3h2M648.6 79.7h2M674.4 79.7h2M679 77.1h2M652.9 74.5h2M682.7 74.5h2M685.8 71.9h2M679.2 53.3h4"/>
<path stroke="#281a2c" d="M641.1 92.7h9.9M642.3 90.1h15.9M644 87.5h17.8M645.7 84.9h21.8M648.4 82.3h21.8M650.6 79.7h23.8M651.2 77.1h27.8M654.9 74.5h27.8M658 71.9h11.9M679.9 71.9h5.9M683.2 53.3h10.2"/>
</g>
<path d="M240.1 53.3V495.9M126.8 407.4H693.4M353.4 53.3V495.9M126.8 318.9H693.4M466.8 53.3V495.9M126.8 230.3H693.4M580.1 53.3V495.9M126.8 141.8H693.4" stroke="#b0b0b0" stroke-width="1.55" fill="none"/>
<path d="M126.8 507.1L693.4 58.6" stroke="#000" stroke-width="3.3" fill="none"/>
<path d="M126.8 495.9L693.4 53.3" stroke="#000" stroke-width="3.3" stroke-dasharray="3.2 5.1" fill="none"/>
</g>
<rect x="126.8" y="53.3" width="566.6" height="442.6" fill="none" stroke="#000" stroke-width="1.5"/>
<path d="M126.8 495.9v7.3M126.8 495.9h-7.3M240.1 495.9v7.3M126.8 407.4h-7.3M353.4 495.9v7.3M126.8 318.9h-7.3M466.8 495.9v7.3M126.8 230.3h-7.3M580.1 495.9v7.3M126.8 141.8h-7.3M693.4 495.9v7.3M126.8 53.3h-7.3" stroke="#000" stroke-width="1.67" fill="none"/>
<text x="118.2" y="528.9" font-size="31" textLength="17.1" lengthAdjust="spacingAndGlyphs">0</text>
<text x="97.5" y="506.8" font-size="31" textLength="17.1" lengthAdjust="spacingAndGlyphs">0</text>
<text x="222" y="528.9" font-size="31" textLength="35.9" lengthAdjust="spacingAndGlyphs">20</text>
<text x="78.7" y="418.3" font-size="31" textLength="35.9" lengthAdjust="spacingAndGlyphs">20</text>
<text x="335.8" y="528.9" font-size="31" textLength="35.8" lengthAdjust="spacingAndGlyphs">40</text>
<text x="78.9" y="329.8" font-size="31" textLength="35.8" lengthAdjust="spacingAndGlyphs">40</text>
<text x="448.6" y="528.9" font-size="31" textLength="36" lengthAdjust="spacingAndGlyphs">60</text>
<text x="78.6" y="241.2" font-size="31" textLength="36" lengthAdjust="spacingAndGlyphs">60</text>
<text x="562.1" y="528.9" font-size="31" textLength="35.8" lengthAdjust="spacingAndGlyphs">80</text>
<text x="78.8" y="152.7" font-size="31" textLength="35.8" lengthAdjust="spacingAndGlyphs">80</text>
<text x="665.6" y="528.9" font-size="31" textLength="54.3" lengthAdjust="spacingAndGlyphs">100</text>
<text x="60.4" y="64.2" font-size="31" textLength="54.3" lengthAdjust="spacingAndGlyphs">100</text>
<rect x="437" y="339.7" width="240.7" height="140.8" rx="5.5" fill="#fff" fill-opacity="0.8" stroke="#ccc" stroke-opacity="0.8" stroke-width="1.67"/>
<path d="M447.6 364.3h63.4" stroke="#000" stroke-width="3.3"/>
<path d="M449.2 407.9h60" stroke="#000" stroke-width="3.3" stroke-dasharray="3.2 5.1"/>
<circle cx="479.1" cy="454.7" r="10.7" fill="#fdfecc" stroke="#3b84a0" stroke-width="1.6"/>
<text x="533.3" y="375" font-size="31" textLength="132.2" lengthAdjust="spacingAndGlyphs">R = 0.96</text>
<text x="533.9" y="419" font-size="31" textLength="111.9" lengthAdjust="spacingAndGlyphs">1:1 line</text>
<text x="533.9" y="462.9" font-size="31" textLength="75.6" lengthAdjust="spacingAndGlyphs">1996</text>
<text x="36.5" y="24.6" font-size="30.5" font-weight="bold">A</text>
</g>
<g id="panelB">
<g clip-path="url(#cB)">
<g fill="none" stroke-width="10" stroke-linecap="round">
<path stroke="#f3fac6" d="M818.6 133.8h0"/>
<path stroke="#e8f6c0" d="M827.5 237.8h0M840.5 200.9h0M929.2 90.2h0M837.9 186.1h0M890.8 250h0M933.1 116.6h0"/>
<path stroke="#def2bb" d="M803.9 318.9h0M988.4 90.2h0M936.3 200.9h0M1006.2 151.7h0M954.3 90.2h0M968.4 127.1h0M927.3 151.7h0M826.1 53.3h0M865.8 53.3h0M928.2 53.3h0"/>
<path stroke="#d4eeb5" d="M847 274.7h0M826.5 274.7h0M894.3 200.9h0M1008.8 141.8h0M874.4 200.9h0M870.5 335h0M893.8 230.4h0M875.5 164h0M1019.4 164h0M898.8 294.8h0M915.9 164h0M943 214.3h0M881.1 230.4h0M906.6 254.5h0"/>
<path stroke="#c8eab2" d="M1339.6 455.8h0M825.7 299.3h0M873 230.4h0M948.3 127.1h0M962.7 108.6h0M811.7 237.8h0M829.1 397.6h0M856.1 348.4h0M822.1 397.6h0M826.4 274.7h0M995.6 250h0M820.2 274.7h0M1355 459.1h0M1369.5 459.1h0M1364.9 318.9h0"/>
<path stroke="#bce6ae" d="M1298.1 446.8h0M1325.7 432.7h0M1302.2 422.2h0M1322.8 415.5h0M807.1 375.3h0M1330.7 375.3h0M878.3 254.5h0M905.3 214.3h0M971.5 133.8h0M934.8 274.7h0M824.9 375.3h0M1021.3 250h0M905.8 200.9h0M826.7 422.2h0M1363 335h0"/>
<path stroke="#b1e2aa" d="M1306.7 397.6h0M803.4 385.3h9.9M1320.9 385.3h0M1336.2 363.2h0M1357.3 330h0M868.8 274.7h0M969 133.8h0M964.6 116.6h0M990.7 102.5h0M964.3 318.9h0M1354.9 306.3h0M1360.1 459.1h0M1368.2 440.7h0"/>
<path stroke="#a5dea7" d="M1243.2 451.7h0M1231 432.7h0M1294.1 422.2h0M1287.2 397.6h0M813.3 385.3h9.9M1305.8 369.5h0M860.7 318.9h0M862.7 318.9h0M1337.3 311.5h0M1320.4 306.3h0M994.7 108.6h0M1009.2 97.6h0M1014.6 97.6h0M1012.8 93.5h0M908 375.3h0M846.2 415.5h0M996.2 53.3h0M1010.4 53.3h0M1024.6 53.3h0M1038.8 53.3h0"/>
<path stroke="#9adaa6" d="M1170.2 459.1h0M1170.7 455.8h0M1193 451.7h0M1249.3 407.5h0M1266.5 397.6h0M823.3 385.3h7.9M1293.8 369.5h0M860.3 348.4h0M1295.4 335h0M1300.2 318.9h0M1301.7 306.3h0M1332.6 306.3h0M889.1 299.3h0M1296.5 299.3h0M919.1 243h0M942.2 179.8h0M947.1 174h0M955.6 164h0M1027.7 97.6h0M1044.1 90.2h0M1357.7 446.8h0"/>
<path stroke="#8ed5a5" d="M1151 455.8h0M1197.6 432.7h0M1180.9 432.7h0M1209.1 407.5h0M831.2 385.3h7.9M1228.2 385.3h0M1237.2 385.3h0M1252.9 385.3h0M1248.6 375.3h0M1262.6 375.3h0M1245.6 369.5h0M1264.2 363.2h0M1270.4 348.4h0M1258.8 335h0M1253.2 318.9h0M1267.1 318.9h0M1282.2 311.5h0M1256.4 306.3h0M1273 294.8h0M1266.1 294.8h0M920.2 243h0M933.1 237.8h2M928.7 237.8h0M967.9 164h4M996.8 127.1h4M1006.8 116.6h4M1308.9 496h0M1316.1 496h0M1321.3 496h0M1329.1 496h0M1335.7 496h0M1339.7 496h0M1346.5 496h0M1350.6 496h0M1354.6 496h0M1362.3 496h0M1367.4 496h0M1058.6 53.3h21.8"/>
<path stroke="#82d0a4" d="M1145.7 455.8h0M1156.1 455.8h0M1150.4 451.7h0M1152.8 446.8h0M1175.7 440.7h0M1187.7 432.7h0M1179.5 432.7h0M1178.5 422.2h0M839.1 385.3h7.9M1244.5 375.3h0M1251.1 369.5h0M1254.2 363.2h0M1256.6 335h0M886.9 318.9h0M881.1 318.9h0M1247.2 318.9h0M1256 299.3h0M1255.7 294.8h0M1246.5 294.8h0M1272.7 294.8h0M936.3 243h2M935.1 237.8h7.9M956.5 200.9h4M969.3 174h4M971.9 164h7.9M982.6 151.7h0M1000.7 127.1h7.9M1010.8 116.6h7.9M1021.9 108.6h0M1031.5 102.5h4M1047.1 93.5h0M1274.3 496h0M1280.2 496h0M1284.3 496h0M1296 496h0M1302.6 496h0M1080.5 53.3h15.9"/>
<path stroke="#77cca3" d="M1125 455.8h2.7M1140 455.8h0M1141.6 455.8h0M1136.5 446.8h0M1140.4 446.8h0M1149 440.7h0M1150.8 432.7h6M1162.7 432.7h0M1177.7 432.7h0M1160.7 432.7h0M1162.7 422.2h9.6M1182.5 407.5h0M1184.1 407.5h0M1198.7 397.6h0M847.1 385.3h4M1227.5 385.3h0M1211.2 385.3h0M1222.1 385.3h0M1213 375.3h10.8M1223.9 375.3h0M1216.4 363.2h0M880 348.4h2M1239.3 348.4h0M1226.7 330h0M1222.2 330h0M898.5 318.9h0M1252 294.8h0M916.8 274.7h4M1360.2 254.5h10.4M1367.7 250h2.9M928.7 250h0M938.3 243h6M943.1 237.8h6M948.4 230.4h6M950.8 219.3h0M960.5 200.9h6M967 186.1h4M973.2 174h6M979.8 164h6M1003.4 133.8h4M1008.7 127.1h6M1018.7 116.6h6M1030.8 108.6h2M1035.4 102.5h6M1053.9 93.5h4M1052.6 93.5h0M1242.8 496h0M1248.3 496h0M1252 496h0M1257 496h0M1263.1 496h0M1266.9 496h0M1096.4 53.3h13.9"/>
<path stroke="#70c6a3" d="M1135.9 446.8h0M1129.3 446.8h0M1132.5 440.7h0M1146.8 432.7h4M1170 415.5h0M851 385.3h4M1204.5 385.3h0M1209 375.3h4M1212.5 363.2h3.9M882 348.4h4M1221 348.4h0M1224.9 306.3h0M912.5 294.8h0M920.8 274.7h4M1354.2 254.5h6M1361.7 250h6M944.3 243h6M949 237.8h6M954.4 230.4h6M964.6 214.3h2M966.5 200.9h6M971 186.1h6M979.3 179.8h2M979.2 174h6M985.8 164h6M998.7 151.7h0M1002.1 141.8h4M1007.4 133.8h6M1014.6 127.1h6M1024.7 116.6h6M1032.8 108.6h6M1041.4 102.5h6M1057.9 93.5h6M1065.2 90.2h2M1062.5 90.2h0M1209.8 496h0M1214.8 496h0M1221.8 496h0M1229.5 496h0M1236.6 496h0M1110.3 53.3h9.9"/>
<path stroke="#69c0a3" d="M1113.1 455.8h4M1126.3 446.8h0M1138.9 432.7h7.9M814.7 407.5h2M1182.8 397.6h5.4M855 385.3h6M1198.5 385.3h6.1M1201 375.3h7.9M1206.6 363.2h6M885.9 348.4h4M1222.6 330h0M907.6 318.9h6M1230.8 306.3h0M924.8 274.7h6M1292.3 274.7h0M1348.2 254.5h6M1355.8 250h6M942.4 250h0M950.2 243h6M1367.1 243h3.5M955 237.8h6M960.3 230.4h6M966.6 214.3h2M972.4 200.9h0M976.9 186.1h7.9M981.3 179.8h7.9M985.1 174h7.9M991.7 164h6M1000.5 151.7h0M1006.1 141.8h6M1013.4 133.8h7.9M1020.6 127.1h6M1030.7 116.6h6M1038.7 108.6h6M1047.3 102.5h7.9M1058.7 97.6h6M1063.8 93.5h6M1132.1 496h0M1144.1 496h0M1153.5 496h0M1161.4 496h0M1168.5 496h0M1172.9 496h0M1178.4 496h0M1183.1 496h0M1187.7 496h0M1195.3 496h0M1200 496h0M1204.8 496h0M1120.2 53.3h9.9"/>
<path stroke="#61bba3" d="M1105.2 455.8h7.9M1109.7 451.7h2.3M1115.1 446.8h4.3M1115.6 440.7h0M1131 432.7h7.9M1142.9 422.2h0M1155.8 415.5h0M816.7 407.5h6M1174.9 397.6h7.9M861 385.3h4M1190.5 385.3h7.9M1195.1 375.3h6M1196 369.5h6.4M1198.6 363.2h7.9M889.9 348.4h6M1208.4 330h4.5M904.5 330h0M913.6 318.9h4M1203.9 311.5h0M1207.9 311.5h0M925.3 299.3h2M930.7 274.7h6M1338.3 254.5h9.9M1347.8 250h7.9M956.2 243h7.9M1359.2 243h7.9M960.9 237.8h7.9M1367.9 237.8h2.7M966.3 230.4h7.9M975.7 219.3h4M976.5 214.3h4M984.9 186.1h7.9M989.2 179.8h7.9M993.1 174h0M997.7 164h9.9M1012.5 151.7h4M1011.2 151.7h0M1012.1 141.8h9.9M1021.3 133.8h7.9M1026.6 127.1h9.9M1036.6 116.6h9.9M1044.7 108.6h9.9M1055.3 102.5h7.9M1064.7 97.6h7.9M1079.1 90.2h7.9M1091.3 496h24.1M1118.2 496h0M1123.2 496h0M1127.6 496h0M1130.1 53.3h9.9"/>
<path stroke="#5ab5a3" d="M1092 459.1h0M1101.2 455.8h4M1099.8 451.7h9.9M1105.2 446.8h9.9M1111.9 440.7h0M1123 432.7h7.9M1134.9 422.2h7.9M822.7 407.5h6M1152.2 407.5h5.6M1164.9 397.6h9.9M864.9 385.3h6M1180.6 385.3h9.9M1185.2 375.3h9.9M1186.1 369.5h9.9M1188.7 363.2h9.9M895.9 348.4h6M1193.6 348.4h6.8M1199.3 335h5.2M1200.5 330h7.9M917.6 318.9h7.9M923.2 306.3h7.9M1215 306.3h0M1215.5 306.3h0M927.3 299.3h6M936.7 274.7h7.9M1328.4 254.5h9.9M1335.9 250h11.9M971.5 250h0M964.1 243h9.9M1347.2 243h11.9M968.9 237.8h9.9M1358 237.8h9.9M974.2 230.4h9.9M1369.3 230.4h1.3M979.7 219.3h9.9M980.5 214.3h9.9M988.3 200.9h7.9M992.8 186.1h9.9M997.2 179.8h9.9M1001 174h9.9M1007.6 164h11.9M1016.5 151.7h9.9M1022 141.8h11.9M1029.2 133.8h11.9M1036.5 127.1h11.9M1046.5 116.6h11.9M1054.6 108.6h7.9M1063.2 102.5h11.9M1072.6 97.6h11.9M1087 90.2h0M1069.4 496h21.8M1140 53.3h9.9"/>
<path stroke="#57afa2" d="M1079.3 459.1h1.8M1083.3 455.8h6M1087.9 451.7h11.9M1093.2 446.8h11.9M1101.2 440.7h9.5M1109.1 432.7h13.9M803.4 422.2h4M1121 422.2h13.9M828.6 407.5h7.9M1140.3 407.5h11.9M1153 397.6h11.9M857.5 397.6h0M856.3 397.6h0M870.9 385.3h6M1168.7 385.3h11.9M1173.2 375.3h11.9M1174.2 369.5h11.9M1176.8 363.2h11.9M891.3 363.2h0M894.9 363.2h0M901.8 348.4h7.9M1183.7 348.4h9.9M1187.4 335h11.9M918.7 335h0M1190.6 330h9.9M925.5 318.9h7.9M1192.1 318.9h0M1202.3 318.9h0M1199.5 318.9h0M928.4 311.5h7.9M1196.4 311.5h4M931.2 306.3h7.9M1199.2 306.3h8.4M933.2 299.3h9.9M1202.9 299.3h0M1212.4 299.3h0M944.6 274.7h9.9M1314.5 254.5h2M1322.4 254.5h6M974.6 250h6M1322 250h13.9M974 243h11.9M1333.4 243h13.9M978.8 237.8h11.9M1342.1 237.8h15.9M984.2 230.4h11.9M1355.4 230.4h13.9M989.6 219.3h11.9M1358.9 219.3h11.7M990.4 214.3h11.9M1359.6 214.3h11M996.2 200.9h13.9M1363.5 200.9h7.1M1002.7 186.1h15.9M1370.6 186.1h0M1007.1 179.8h7.9M1370.6 179.8h0M1011 174h15.9M1019.5 164h13.9M1026.4 151.7h15.9M1033.9 141.8h15.9M1041.2 133.8h15.9M1048.4 127.1h15.9M1058.4 116.6h15.9M1078.4 108.6h4M1075.1 102.5h15.9M1084.6 97.6h15.9M1051.5 496h17.9M1150 53.3h9.9"/>
<path stroke="#54aaa2" d="M1071.4 459.1h7.9M1065.4 455.8h2M1073.4 455.8h9.9M1070 451.7h17.9M1077.4 446.8h15.9M1083.3 440.7h17.9M803.4 432.7h4M1093.2 432.7h15.9M807.4 422.2h9.9M1105.2 422.2h15.9M1113.9 415.5h13.9M836.6 407.5h7.9M1124.4 407.5h15.9M1137.2 397.6h15.9M854.9 397.6h0M876.9 385.3h7.9M1152.8 385.3h15.9M1157.4 375.3h15.9M891.9 375.3h0M1158.3 369.5h15.9M895.1 369.5h0M896.9 363.2h7.9M1160.9 363.2h15.9M909.7 348.4h7.9M1167.8 348.4h15.9M919.4 335h9.9M1173.5 335h13.9M928.5 330h4M1176.7 330h13.9M923.2 330h0M933.4 318.9h9.9M1181.6 318.9h7.8M1194.6 318.9h0M936.4 311.5h9.9M1184.5 311.5h11.9M939.1 306.3h9.9M1187.3 306.3h11.9M943.1 299.3h9.9M1191.3 299.3h11.6M945.1 294.8h9.9M1195.3 294.8h2M939.7 294.8h0M954.6 274.7h11.9M1242.1 274.7h0M1255 274.7h0M1257.2 274.7h0M986.9 254.5h4M1298.6 254.5h15.9M986 254.5h0M971.1 254.5h0M980.6 250h13.9M1302.2 250h19.9M985.9 243h15.9M1313.5 243h19.9M990.7 237.8h15.9M1322.2 237.8h19.9M996.1 230.4h15.9M1333.5 230.4h21.8M1001.5 219.3h17.9M1339 219.3h19.9M1341.8 214.3h17.9M1010.1 200.9h17.9M1345.6 200.9h17.9M1018.6 186.1h17.9M1354.1 186.1h16.5M1025 179.8h15.9M1356.5 179.8h14.1M1026.8 174h19.9M1360.3 174h10.3M1033.4 164h19.9M1366.9 164h3.7M1042.3 151.7h21.8M1049.8 141.8h21.8M1057 133.8h9.9M1064.3 127.1h21.8M1074.3 116.6h21.8M1082.4 108.6h21.8M1091 102.5h23.8M1100.4 97.6h21.8M1116.8 90.2h0M1124.7 90.2h11.9M1035.7 496h15.9M1159.9 53.3h9.9"/>
<path stroke="#51a4a2" d="M1039.6 459.1h0M803.4 455.8h2M1043.6 455.8h21.8M806 451.7h2M1048.2 451.7h21.8M803.4 446.8h6M1053.5 446.8h11.9M803.4 440.7h9.9M1061.5 440.7h21.8M807.4 432.7h9.9M1071.4 432.7h21.8M817.3 422.2h9.9M1083.3 422.2h21.8M1092.1 415.5h21.8M844.5 407.5h9.9M1102.6 407.5h21.8M867.2 397.6h4M1113.3 397.6h23.8M884.8 385.3h7.9M1131 385.3h21.8M895.3 375.3h7.9M1137.5 375.3h19.9M898.3 369.5h9.9M1138.5 369.5h19.9M904.8 363.2h9.9M1141.1 363.2h19.9M917.7 348.4h9.9M1150 348.4h17.9M929.3 335h9.9M1157.6 335h15.9M932.5 330h11.9M1158.8 330h17.9M943.4 318.9h9.9M1165.7 318.9h15.9M946.3 311.5h7.9M1172.6 311.5h11.9M949.1 306.3h11.9M1173.4 306.3h13.9M953.1 299.3h11.9M1175.4 299.3h15.9M955.1 294.8h13.9M1179.4 294.8h6M966.5 274.7h15.9M1234.5 274.7h5.7M1253.1 274.7h0M1260.7 274.7h0M990.9 254.5h4M1268.8 254.5h15.9M994.4 250h19.9M1276.3 250h25.8M1001.8 243h19.9M1285.7 243h27.8M1006.6 237.8h19.9M1294.4 237.8h27.8M1011.9 230.4h19.9M1309.7 230.4h23.8M1019.4 219.3h19.9M1313.2 219.3h25.8M1022.2 214.3h15.9M1028 200.9h23.8M1323.8 200.9h21.8M1036.5 186.1h25.8M1336.2 186.1h17.9M1040.9 179.8h25.8M1340.6 179.8h15.9M1046.7 174h19.9M1053.3 164h27.8M1355 164h11.9M1064.1 151.7h27.8M1365.9 151.7h4.7M1071.6 141.8h27.8M1096.7 133.8h11.9M1086.1 127.1h29.8M1096.2 116.6h29.8M1104.2 108.6h31.8M1114.8 102.5h29.8M1122.3 97.6h29.8M1135.3 93.5h0M1136.7 90.2h11.9M1158.5 90.2h6M1019.8 496h15.9M1169.8 53.3h9.9"/>
<path stroke="#4e9ea1" d="M803.4 459.1h7.9M1009.9 459.1h2M1019.8 459.1h19.9M805.4 455.8h7.9M1013.8 455.8h17.9M1037.7 455.8h6M807.9 451.7h7.9M1018.4 451.7h29.8M809.4 446.8h9.9M1025.7 446.8h27.8M813.3 440.7h9.9M1031.7 440.7h29.8M817.3 432.7h11.9M1041.6 432.7h29.8M827.2 422.2h11.9M1053.5 422.2h29.8M1068.3 415.5h23.8M854.4 407.5h9.9M1072.8 407.5h29.8M871.1 397.6h9.9M1085.5 397.6h27.8M892.7 385.3h9.9M1101.2 385.3h7.9M1117.1 385.3h13.9M903.3 375.3h9.9M1127.6 375.3h4M908.2 369.5h9.9M1112.7 369.5h25.8M914.8 363.2h9.9M1117.2 363.2h23.8M927.6 348.4h11.9M1126.1 348.4h23.8M939.3 335h11.9M1135.8 335h21.8M944.4 330h11.9M1139 330h19.9M953.3 318.9h13.9M1145.9 318.9h19.9M962.2 311.5h9.9M1150.8 311.5h6M961 306.3h13.9M1153.5 306.3h19.9M965 299.3h15.9M1159.5 299.3h15.9M968.9 294.8h4M1161.5 294.8h17.9M982.4 274.7h17.9M1212.6 274.7h9.9M1016.7 254.5h2M1239.1 254.5h29.8M1014.3 250h23.8M1242.6 250h33.7M1021.7 243h23.8M1253.9 243h31.8M1026.4 237.8h23.8M1266.7 237.8h27.8M1031.8 230.4h25.8M1274 230.4h25.8M1039.2 219.3h27.8M1281.4 219.3h31.8M1286.2 214.3h21.8M1051.8 200.9h29.8M1298 200.9h25.8M1062.3 186.1h31.8M1314.4 186.1h21.8M1066.7 179.8h33.7M1320.8 179.8h19.9M1081 164h33.7M1341.1 164h13.9M1091.9 151.7h33.7M1355.9 151.7h9.9M1099.4 141.8h11.9M1131.2 141.8h4M1367.4 141.8h3.2M1108.6 133.8h35.7M1115.9 127.1h35.7M1125.9 116.6h37.7M1136 108.6h37.7M1144.6 102.5h37.7M1152.1 97.6h37.7M1165.1 93.5h2M1177 93.5h9.9M1164.4 90.2h4M1180.3 90.2h21.8M1005.9 496h13.9M1179.7 53.3h11.9"/>
<path stroke="#4c98a0" d="M811.3 459.1h9.9M976.1 459.1h11.9M994 459.1h15.9M813.3 455.8h9.9M1005.9 455.8h7.9M815.9 451.7h9.9M984.6 451.7h33.7M819.3 446.8h11.9M990 446.8h35.7M823.3 440.7h11.9M997.9 440.7h33.7M829.2 432.7h13.9M1007.9 432.7h33.7M839.1 422.2h13.9M1019.8 422.2h33.7M851.9 415.5h11.9M1028.6 415.5h27.8M864.4 407.5h13.9M1039.1 407.5h33.7M881.1 397.6h11.9M1051.8 397.6h33.7M902.7 385.3h11.9M1067.4 385.3h33.7M913.2 375.3h11.9M1079.9 375.3h11.9M1097.8 375.3h2M918.1 369.5h11.9M1080.9 369.5h31.8M924.7 363.2h11.9M1085.5 363.2h31.8M939.5 348.4h11.9M1098.3 348.4h27.8M951.2 335h13.9M1110 335h11.9M1131.8 335h4M956.3 330h13.9M1113.1 330h25.8M967.2 318.9h13.9M1124 318.9h21.8M972.1 311.5h15.9M1129 311.5h21.8M974.9 306.3h17.9M1131.7 306.3h21.8M980.9 299.3h17.9M1137.7 299.3h21.8M988.8 294.8h13.9M1141.7 294.8h0M1155.6 294.8h6M1000.2 274.7h21.8M1184.8 274.7h27.8M1054.4 254.5h4M1217.2 254.5h21.8M1038.1 250h27.8M1204.9 250h25.8M1238.6 250h4M1045.5 243h27.8M1214.2 243h39.7M1050.3 237.8h27.8M1223 237.8h33.7M1057.6 230.4h29.8M1242.2 230.4h31.8M1067 219.3h29.8M1243.7 219.3h37.7M1248.5 214.3h37.7M1081.6 200.9h33.7M1264.3 200.9h33.7M1094.1 186.1h35.7M1286.6 186.1h27.8M1100.4 179.8h35.7M1297 179.8h23.8M1104.3 174h39.7M1114.8 164h39.7M1337.1 164h4M1125.7 151.7h13.9M1147.5 151.7h13.9M1346 151.7h9.9M1135.1 141.8h41.7M1359.5 141.8h7.9M1144.4 133.8h23.8M1368.7 133.8h1.9M1151.6 127.1h43.7M1163.7 116.6h43.7M1173.7 108.6h41.7M1182.3 102.5h41.7M1189.8 97.6h41.7M1202.8 93.5h23.8M1202.2 90.2h29.8M992 496h13.9M1191.6 53.3h17.9"/>
<path stroke="#4a929f" d="M821.3 459.1h0M950.3 459.1h25.8M823.3 455.8h6M942.4 455.8h29.8M825.8 451.7h6M944.9 451.7h39.7M831.2 446.8h6M952.3 446.8h0M964.2 446.8h25.8M835.2 440.7h9.9M960.2 440.7h37.7M843.1 432.7h11.9M970.2 432.7h37.7M853 422.2h17.9M982.1 422.2h37.7M863.8 415.5h7.9M990.9 415.5h37.7M878.3 407.5h13.9M1001.4 407.5h37.7M893 397.6h15.9M1014.1 397.6h37.7M914.6 385.3h11.9M1029.7 385.3h37.7M925.1 375.3h13.9M930 369.5h13.9M1045.2 369.5h35.7M936.6 363.2h15.9M1051.7 363.2h33.7M951.4 348.4h15.9M1064.6 348.4h33.7M965.1 335h9.9M1078.2 335h31.8M970.2 330h17.9M1083.4 330h29.8M981.1 318.9h17.9M1094.2 318.9h15.9M988 311.5h19.9M1101.2 311.5h27.8M992.7 306.3h19.9M1105.9 306.3h25.8M998.7 299.3h7.9M1014.6 299.3h4M1113.9 299.3h23.8M1002.7 294.8h11.9M1117.8 294.8h23.8M1022.1 274.7h23.8M1153.1 274.7h31.8M1058.4 254.5h31.8M1065.9 250h33.7M1159.2 250h45.7M1073.3 243h33.7M1168.6 243h45.7M1078.1 237.8h35.7M1175.3 237.8h47.6M1087.4 230.4h19.9M1186.6 230.4h41.7M1096.8 219.3h39.7M1198.1 219.3h45.7M1111.5 214.3h17.9M1135.3 214.3h6M1216.7 214.3h31.8M1115.4 200.9h41.7M1220.6 200.9h43.7M1129.8 186.1h43.7M1241 186.1h45.7M1136.2 179.8h23.8M1171.9 179.8h9.9M1253.3 179.8h43.7M1144 174h2M1165.8 174h19.9M1269 174h11.9M1154.5 164h45.7M1303.4 164h19.9M1171.3 151.7h41.7M1334.1 151.7h11.9M1176.8 141.8h47.6M1349.5 141.8h9.9M1219.8 133.8h11.9M1360.8 133.8h7.9M1195.3 127.1h43.7M1368 127.1h2.6M1207.3 116.6h43.7M1215.4 108.6h43.7M1224 102.5h41.7M1231.5 97.6h39.7M1246.5 93.5h9.9M1270.3 93.5h6M1249.8 90.2h29.8M978.1 496h13.9M1209.5 53.3h111.2"/>
<path stroke="#478c9e" d="M886.8 459.1h2M898.7 459.1h19.9M829.2 455.8h2M924.5 455.8h7.9M831.8 451.7h4M897.3 451.7h47.6M837.1 446.8h4M904.6 446.8h47.6M845.1 440.7h6M912.6 440.7h47.6M855 432.7h11.9M922.5 432.7h47.6M870.9 422.2h19.9M936.4 422.2h45.7M881.7 415.5h17.9M945.2 415.5h45.7M892.2 407.5h19.9M953.7 407.5h47.6M908.9 397.6h17.9M966.4 397.6h47.6M926.5 385.3h15.9M982.1 385.3h47.6M939 375.3h15.9M994.6 375.3h6M1008.5 375.3h11.9M1030.3 375.3h6M943.9 369.5h17.9M1001.5 369.5h43.7M952.5 363.2h17.9M1008.1 363.2h43.7M967.3 348.4h19.9M1024.9 348.4h39.7M994.9 335h7.9M1042.5 335h35.7M988.1 330h19.9M1047.6 330h35.7M999 318.9h23.8M1060.5 318.9h33.7M1007.9 311.5h21.8M1069.4 311.5h31.8M1012.6 306.3h23.8M1076.1 306.3h29.8M1018.6 299.3h25.8M1084.1 299.3h29.8M1028.5 294.8h19.9M1109.9 294.8h7.9M1045.9 274.7h31.8M1113.4 274.7h39.7M1090.2 254.5h45.7M1099.7 250h11.9M1123.5 250h35.7M1107 243h61.5M1113.8 237.8h61.5M1135 230.4h51.6M1136.5 219.3h61.5M1141.3 214.3h6M1159.1 214.3h19.9M1157 200.9h63.5M1173.5 186.1h67.5M1181.8 179.8h71.5M1193.6 174h41.7M1241.2 174h27.8M1200.2 164h103.2M1213 151.7h49.6M1314.3 151.7h19.9M1224.5 141.8h33.7M1339.6 141.8h9.9M1231.7 133.8h23.8M1352.8 133.8h7.9M1239 127.1h27.8M1360.1 127.1h7.9M1251 116.6h21.8M1370.6 116.6h0M1259.1 108.6h21.8M1265.7 102.5h19.9M1271.2 97.6h19.9M1276.3 93.5h0M1290.2 93.5h4M1279.6 90.2h4M964.2 496h13.9M1320.7 53.3h4"/>
<path stroke="#45869d" d="M872.9 459.1h13.9M831.2 455.8h2M835.7 451.7h2M875.4 451.7h21.8M841.1 446.8h2M876.9 446.8h27.8M851 440.7h4M878.8 440.7h33.7M866.9 432.7h55.6M890.7 422.2h45.7M899.5 415.5h2M917.4 415.5h27.8M912 407.5h41.7M926.7 397.6h39.7M942.4 385.3h23.8M976.1 385.3h6M954.9 375.3h6M986.6 375.3h7.9M961.8 369.5h39.7M970.3 363.2h37.7M987.2 348.4h37.7M1002.8 335h39.7M1007.9 330h39.7M1022.8 318.9h37.7M1029.7 311.5h6M1049.5 311.5h19.9M1036.4 306.3h39.7M1044.4 299.3h39.7M1078.1 294.8h6M1077.6 274.7h35.7M1262.6 151.7h7.9M1288.5 151.7h25.8M1258.2 141.8h27.8M1319.8 141.8h19.9M1265.5 133.8h4M1342.9 133.8h9.9M1266.8 127.1h9.9M1352.1 127.1h7.9M1272.8 116.6h9.9M1364.2 116.6h6.4M1280.9 108.6h7.9M1370.6 108.6h0M1285.6 102.5h7.9M1291 97.6h7.9M1294.1 93.5h4M952.3 496h11.9M1324.7 53.3h2"/>
<path stroke="#44809c" d="M833.2 455.8h2M866.9 455.8h0M837.7 451.7h2M871.5 451.7h4M843.1 446.8h4M872.9 446.8h4M855 440.7h4M870.9 440.7h7.9M1286 141.8h33.7M1276.7 127.1h7.9M1340.2 127.1h11.9M1282.8 116.6h4M1356.2 116.6h7.9M1288.8 108.6h4M1364.3 108.6h6.3M1293.5 102.5h4M1368.9 102.5h1.7M1299 97.6h4M1370.6 97.6h0M938.4 496h13.9M1326.6 53.3h2"/>
<path stroke="#427a9b" d="M833.2 459.1h2M835.2 455.8h2M864.9 455.8h2M839.7 451.7h2M867.5 451.7h4M847.1 446.8h2M868.9 446.8h4M859 440.7h11.9M1319.1 133.8h2M1284.6 127.1h6M1326.3 127.1h13.9M1286.7 116.6h4M1348.3 116.6h7.9M1292.8 108.6h4M1356.3 108.6h7.9M1297.5 102.5h4M1363 102.5h6M1302.9 97.6h2M1366.5 97.6h4.1M1369.6 93.5h1M1370.6 90.2h0M922.5 496h15.9M1328.6 53.3h2"/>
<path stroke="#40749a" d="M835.2 459.1h2M837.1 455.8h2M863 455.8h2M841.7 451.7h2M865.5 451.7h2M849.1 446.8h2M866.9 446.8h2M1290.6 127.1h6M1316.4 127.1h9.9M1290.7 116.6h4M1340.3 116.6h7.9M1296.8 108.6h2M1352.4 108.6h4M1301.5 102.5h2M1357 102.5h6M1304.9 97.6h2M1362.5 97.6h4M1310 93.5h2M1365.6 93.5h4M1366.9 90.2h3.7M908.6 496h13.9M1330.6 53.3h4"/>
<path stroke="#3f6e99" d="M839.1 455.8h2M843.7 451.7h2M863.5 451.7h2M851 446.8h2M864.9 446.8h2M1296.5 127.1h19.9M1294.7 116.6h2M1336.4 116.6h4M1298.8 108.6h2M1346.4 108.6h6M1303.4 102.5h2M1355.1 102.5h2M1306.9 97.6h2M1358.5 97.6h4M1312 93.5h2M1361.6 93.5h4M1363 90.2h4M890.7 496h17.9M1334.6 53.3h2"/>
<path stroke="#3f6897" d="M837.1 459.1h2M861.5 451.7h2M853 446.8h4M859 446.8h6M1296.7 116.6h4M1332.4 116.6h4M1300.8 108.6h2M1344.4 108.6h2M1305.4 102.5h2M1351.1 102.5h4M1308.9 97.6h2M1356.5 97.6h2M1314 93.5h2M1359.6 93.5h2M1361 90.2h2M870.9 496h19.9"/>
<path stroke="#3e6196" d="M839.1 459.1h2M855 459.1h0M841.1 455.8h0M845.7 451.7h2M859.6 451.7h2M857 446.8h2M1300.6 116.6h2M1328.4 116.6h4M1302.7 108.6h2M1342.4 108.6h2M1307.4 102.5h2M1349.1 102.5h2M1310.9 97.6h2M1354.5 97.6h2M1316 93.5h2M1357.7 93.5h2M1359 90.2h2M847.1 496h23.8M1336.6 53.3h2"/>
<path stroke="#3e5a94" d="M841.1 459.1h2M853 459.1h2M847.6 451.7h2M857.6 451.7h2M1302.6 116.6h4M1324.5 116.6h4M1304.7 108.6h2M1338.5 108.6h4M1309.4 102.5h2M1347.1 102.5h2M1312.9 97.6h2M1352.6 97.6h2M1318 93.5h2M1355.7 93.5h2M1357 90.2h2M803.4 496h43.7M1338.6 53.3h2"/>
<path stroke="#3e5492" d="M843.1 459.1h2M851 459.1h2M849.6 451.7h7.9M1306.6 116.6h4M1320.5 116.6h4M1306.7 108.6h2M1336.5 108.6h2M1345.1 102.5h2M1314.8 97.6h2M1350.6 97.6h2M1353.7 93.5h2M1355 90.2h2M1340.5 53.3h2"/>
<path stroke="#404c8a" d="M845.1 459.1h6M1310.6 116.6h9.9M1308.7 108.6h2M1334.5 108.6h2M1311.4 102.5h2M1343.1 102.5h2M1348.6 97.6h2M1319.9 93.5h0M1351.7 93.5h2M1353 90.2h2M1342.5 53.3h2"/>
<path stroke="#424482" d="M1310.7 108.6h2M1332.5 108.6h2M1313.4 102.5h2M1341.2 102.5h2M1316.8 97.6h2M1346.6 97.6h2M1349.7 93.5h2M1351.1 90.2h2M1344.5 53.3h2"/>
<path stroke="#413d74" d="M1312.7 108.6h2M1330.5 108.6h2M1315.3 102.5h2M1339.2 102.5h2M1318.8 97.6h2M1344.6 97.6h2M1347.7 93.5h2M1349.1 90.2h2M1346.5 53.3h2"/>
<path stroke="#403665" d="M1314.7 108.6h2M1326.6 108.6h4M1317.3 102.5h2M1337.2 102.5h2M1320.8 97.6h2M1342.6 97.6h2M1345.7 93.5h2M1347.1 90.2h2M1348.5 53.3h4"/>
<path stroke="#3a2f56" d="M1316.6 108.6h9.9M1335.2 102.5h2M1322.8 97.6h2M1340.6 97.6h2M1345.1 90.2h2M1352.4 53.3h2"/>
<path stroke="#352848" d="M1319.3 102.5h4M1333.2 102.5h2M1324.8 97.6h2M1338.7 97.6h2M1335.2 90.2h0M1341.1 90.2h4M1354.4 53.3h2"/>
<path stroke="#2e213a" d="M1323.3 102.5h9.9M1326.7 97.6h2M1336.7 97.6h2M1331.9 93.5h4M1356.4 53.3h4"/>
<path stroke="#281a2c" d="M1328.7 97.6h7.9M1335.8 93.5h0M1360.4 53.3h10.2"/>
</g>
<path d="M916.8 53.3V496M803.4 407.5H1370.6M1030.3 53.3V496M803.4 318.9H1370.6M1143.7 53.3V496M803.4 230.4H1370.6M1257.2 53.3V496M803.4 141.8H1370.6" stroke="#b0b0b0" stroke-width="1.55" fill="none"/>
<path d="M803.4 507.8L1370.6 53.3" stroke="#000" stroke-width="3.3" fill="none"/>
<path d="M803.4 496L1370.6 53.3" stroke="#000" stroke-width="3.3" stroke-dasharray="3.2 5.1" fill="none"/>
</g>
<rect x="803.4" y="53.3" width="567.2" height="442.7" fill="none" stroke="#000" stroke-width="1.5"/>
<path d="M803.4 496v7.3M803.4 496h-7.3M916.8 496v7.3M803.4 407.5h-7.3M1030.3 496v7.3M803.4 318.9h-7.3M1143.7 496v7.3M803.4 230.4h-7.3M1257.2 496v7.3M803.4 141.8h-7.3M1370.6 496v7.3M803.4 53.3h-7.3" stroke="#000" stroke-width="1.67" fill="none"/>
<text x="794.8" y="529" font-size="31" textLength="17.1" lengthAdjust="spacingAndGlyphs">0</text>
<text x="774.1" y="506.9" font-size="31" textLength="17.1" lengthAdjust="spacingAndGlyphs">0</text>
<text x="898.7" y="529" font-size="31" textLength="35.9" lengthAdjust="spacingAndGlyphs">20</text>
<text x="755.3" y="418.4" font-size="31" textLength="35.9" lengthAdjust="spacingAndGlyphs">20</text>
<text x="1012.6" y="529" font-size="31" textLength="35.8" lengthAdjust="spacingAndGlyphs">40</text>
<text x="755.5" y="329.8" font-size="31" textLength="35.8" lengthAdjust="spacingAndGlyphs">40</text>
<text x="1125.5" y="529" font-size="31" textLength="36" lengthAdjust="spacingAndGlyphs">60</text>
<text x="755.2" y="241.3" font-size="31" textLength="36" lengthAdjust="spacingAndGlyphs">60</text>
<text x="1239.2" y="529" font-size="31" textLength="35.8" lengthAdjust="spacingAndGlyphs">80</text>
<text x="755.4" y="152.7" font-size="31" textLength="35.8" lengthAdjust="spacingAndGlyphs">80</text>
<text x="1342.8" y="529" font-size="31" textLength="54.3" lengthAdjust="spacingAndGlyphs">100</text>
<text x="737" y="64.2" font-size="31" textLength="54.3" lengthAdjust="spacingAndGlyphs">100</text>
<rect x="1113.9" y="339.7" width="240.7" height="140.8" rx="5.5" fill="#fff" fill-opacity="0.8" stroke="#ccc" stroke-opacity="0.8" stroke-width="1.67"/>
<path d="M1124.5 364.3h63.4" stroke="#000" stroke-width="3.3"/>
<path d="M1126.1 407.9h60" stroke="#000" stroke-width="3.3" stroke-dasharray="3.2 5.1"/>
<circle cx="1156" cy="454.7" r="10.7" fill="#fdfecc" stroke="#3b84a0" stroke-width="1.6"/>
<text x="1210.2" y="375" font-size="31" textLength="132.2" lengthAdjust="spacingAndGlyphs">R = 0.96</text>
<text x="1210.8" y="419" font-size="31" textLength="111.9" lengthAdjust="spacingAndGlyphs">1:1 line</text>
<text x="1210.6" y="462.9" font-size="31" textLength="75.2" lengthAdjust="spacingAndGlyphs">2001</text>
<text x="714.5" y="24.6" font-size="30.5" font-weight="bold">B</text>
</g>
<g id="panelC">
<g clip-path="url(#cC)">
<g fill="none" stroke-width="10" stroke-linecap="round">
<path stroke="#f3fac6" d="M192.1 677h0"/>
<path stroke="#e8f6c0" d="M132.1 852.8h0M258.1 679.6h0M136 842.4h0M131.9 855.4h0"/>
<path stroke="#def2bb" d="M142.4 884.1h0M178.2 842.4h0M174 778.9h0M178.2 773.7h0M302.3 703.1h0M291.1 692.7h0M341.8 622.1h0M374.9 606.4h0M295.1 789.4h0M227.8 771.1h0M152.1 784.1h0"/>
<path stroke="#d4eeb5" d="M157 917.9h0M135.9 910.1h0M139.7 884.1h0M169.3 873.6h0M190.6 839.7h0M204.9 755.4h0M301.3 700.5h0M310.9 692.7h0M368.2 616.9h0M394.5 606.4h0M320.3 786.7h0M279.8 581.9h0M296.8 581.9h0M313.8 581.9h0M327.9 581.9h0"/>
<path stroke="#c8eab2" d="M657.5 959.7h0M684.4 936.2h0M148.7 915.3h0M197.9 850.2h0M228.1 824.1h0M240 742.3h0M308.8 718.8h0M345.2 661.3h0M376.9 637.8h0M346.7 635.2h0M131.8 920.6h0"/>
<path stroke="#bce6ae" d="M667.5 988.3h0M666.2 988.3h0M620.6 983.1h0M677.3 980.5h0M671.1 964.9h0M585.4 962.3h0M630.5 957h0M675.8 957h0M690.7 944h0M158.3 931h0M177.7 886.7h0M180.7 884.1h0M683.9 873.6h0M204.9 863.2h0M214.5 839.7h0M214.4 839.7h0M222.3 834.5h0M232 834.5h0M250.3 818.9h0M310.7 718.8h0M302.9 711h0M326.9 700.5h0M330.9 700.5h0M342.1 692.7h0M369.7 643h0M366.7 640.4h0M388.5 619.5h0"/>
<path stroke="#b1e2aa" d="M568.6 998.8h0M622.5 993.5h0M647.8 990.9h0M558.9 988.3h0M628.6 985.7h0M621.8 983.1h0M128.3 980.5h0M603.4 980.5h0M590 964.9h0M143.9 962.3h0M601.3 962.3h0M684.2 959.7h0M622.6 954.4h0M629.9 949.2h0M616.9 946.6h0M672.1 941.4h0M164.2 938.8h0M156.4 936.2h0M621.8 936.2h0M662.2 936.2h0M636.7 933.6h0M660.3 925.8h0M176.3 920.6h0M634.5 920.6h0M602.4 915.3h0M682.2 910.1h0M607.1 904.9h0M192 886.7h0M692.8 886.7h0M635.8 884.1h0M192 876.2h0M199.9 860.6h0M218.8 847.6h0M207.5 847.6h0M241.5 816.3h0M253.3 789.4h0M217 768.5h0M293.9 729.3h0M343.8 700.5h0M359.1 682.2h0M360.8 677h0M372.5 671.8h0M384 648.3h0M351.7 648.3h0M412.3 619.5h0M404.8 619.5h0M431.8 606.4h0"/>
<path stroke="#a5dea7" d="M532.9 993.5h0M555.2 980.5h0M142.2 975.3h0M600.9 972.7h0M139.2 970.1h0M147.3 970.1h0M543 967.5h0M155.8 964.9h0M154.8 962.3h0M544.2 962.3h0M560.1 962.3h0M155 959.7h0M610 957h0M558.1 949.2h0M157.8 941.4h0M583.9 941.4h0M166.7 938.8h0M570.9 938.8h0M601.7 931h0M573.8 925.8h0M179 917.9h0M572.3 915.3h0M620.2 915.3h0M646.4 902.3h0M615.4 899.7h0M643.2 899.7h0M187.6 894.5h0M620.1 891.9h0M656.7 881.5h0M207.9 878.8h0M679.2 878.8h0M611.9 878.8h0M670.6 873.6h0M668.9 871h0M606.9 860.6h0M684.8 860.6h0M680.7 855.4h0M665.6 855.4h0M670.8 852.8h0M681.9 847.6h0M649.5 847.6h0M235 839.7h0M228.4 839.7h0M239.8 837.1h0M663.6 837.1h0M245.6 826.7h0M239.3 778.9h0M254.6 776.3h0M240.8 773.7h0M247 760.6h0M271.1 744.9h0M323.4 721.4h0M314.6 721.4h0M331.4 713.6h0M347.3 700.5h0M370.9 687.4h0M363.1 684.8h0M361.3 677h0M385.3 669.2h0M396.1 627.3h0M412.1 619.5h0M401.4 619.5h0M400.5 616.9h0M427.6 611.7h2M434.9 609.1h2M439.6 606.4h0M186.3 802.6h0M206.1 802.6h0M670.7 802.6h0M684.9 802.6h0"/>
<path stroke="#9adaa6" d="M508.6 998.8h0M540.9 988.3h0M531 985.7h0M544 985.7h0M499.8 983.1h0M536.6 983.1h0M152 977.9h0M503.6 975.3h0M529.5 975.3h0M544 975.3h0M154.3 970.1h0M479.6 970.1h0M150.8 967.5h7.9M506.8 964.9h0M522.8 964.9h0M165 962.3h0M591.2 962.3h0M526 959.7h0M530.8 957h0M560.9 944h0M174.9 941.4h0M568.5 941.4h0M577.7 941.4h0M182.6 938.8h0M534 936.2h0M485.7 936.2h0M578.5 931h0M193.4 925.8h0M571.6 920.6h0M570.5 920.6h0M593.3 920.6h0M188.6 915.3h0M559.7 912.7h0M577.3 912.7h0M599 910.1h0M641.8 902.3h0M200.1 899.7h0M207.8 897.1h0M601.2 891.9h0M208 884.1h0M209.4 884.1h0M625.5 884.1h0M212.3 878.8h0M613.3 878.8h0M601 876.2h0M625.4 873.6h0M593.1 871h0M601.7 871h0M675.6 868.4h0M610.4 868.4h0M621.7 868.4h0M648.1 860.6h0M680.6 855.4h0M235.7 852.8h0M603.6 850.2h0M227.2 847.6h0M642.8 847.6h0M237.8 845h0M236.1 842.4h0M670.1 842.4h0M593 839.7h0M618.9 839.7h0M247.9 834.5h0M638.8 834.5h0M619.5 829.3h0M253.6 826.7h0M628.2 826.7h0M682.4 824.1h0M670 821.5h0M643.7 818.9h0M255.7 789.4h0M243.2 771.1h0M242.3 763.2h0M274.6 750.2h0M276.3 744.9h0M287.2 742.3h0M336.2 721.4h0M327.3 721.4h0M360.1 697.9h0M367.5 697.9h0M363.4 697.9h0M364.9 695.3h0M378.5 679.6h0M388.5 669.2h0M401.2 640.4h0M425.9 616.9h0M428.8 614.3h0M428.1 614.3h0M429.6 611.7h5.9M425.8 611.7h0M436.9 609.1h7.9M430.7 609.1h0M447.3 606.4h0M342.1 581.9h25.8"/>
<path stroke="#8ed5a5" d="M469.8 998.8h0M452.6 988.3h0M501.9 985.7h0M488.5 983.1h0M448.3 980.5h0M436.8 980.5h0M478.6 977.9h0M447.5 977.9h0M463.2 977.9h0M490.8 977.9h0M462.7 975.3h0M498.8 975.3h0M485.8 975.3h0M468.5 975.3h0M153.1 972.7h0M157.4 970.1h0M489.9 970.1h0M158.8 967.5h5.9M152.7 964.9h0M472.1 964.9h0M168.3 962.3h4M496.2 962.3h0M463.7 962.3h0M504 962.3h0M172.5 959.7h4M171.8 959.7h0M468.2 959.7h0M183.4 951.8h0M519.2 949.2h0M491.3 946.6h0M555.9 944h0M488.6 941.4h0M489.8 941.4h0M182.9 938.8h5.9M539.8 933.6h0M189.2 928.4h0M531.7 925.8h0M524.9 925.8h0M193.9 923.2h0M201.5 917.9h0M198 917.9h0M536.3 912.7h0M557 907.5h0M505 907.5h0M571.1 902.3h0M583.8 899.7h0M572.6 899.7h0M578 894.5h0M562.6 894.5h0M210.7 891.9h2M569.7 891.9h0M211.9 889.3h0M210.5 886.7h0M213.1 884.1h0M565.6 881.5h0M584.5 873.6h0M609.2 871h0M569 868.4h0M618.6 868.4h0M231.6 863.2h0M643.4 863.2h0M231.4 860.6h0M627 858h0M568.7 852.8h0M628.8 852.8h0M577.8 852.8h0M242.8 850.2h2M571.1 850.2h0M241.8 842.4h0M592.9 842.4h0M250.4 839.7h4M250 837.1h5.9M598.4 837.1h0M635.8 837.1h0M253.9 831.9h0M610.6 831.9h0M589.4 829.3h0M264.8 824.1h0M266.4 824.1h0M631.7 824.1h0M603.5 824.1h0M578.9 824.1h0M267.2 821.5h0M602.1 821.5h0M658.7 821.5h0M608.8 818.9h0M635.7 818.9h0M276.2 816.3h0M593.3 816.3h0M600.9 816.3h0M267.4 786.7h0M251.7 771.1h0M269.8 755.4h0M266.7 752.8h0M321.2 731.9h0M336 724h0M343 718.8h0M358.4 703.1h0M370 697.9h2M388.9 674.4h0M387.4 663.9h0M404.4 648.3h0M407.1 643h0M414.4 637.8h0M407.8 635.2h7.9M416 632.6h0M412.8 630h5.9M419.1 627.3h2M415.7 627.3h0M420.9 622.1h0M429.7 619.5h2M426.5 619.5h0M429.9 616.9h4M433 614.3h4M435.6 611.7h7.9M444.8 609.1h5.9M633.5 1023.3h0M641.4 1023.3h0M647.1 1023.3h0M662.7 1023.3h0M670.8 1023.3h0M684.7 1023.3h0M367.9 581.9h15.9M571.6 876.2h19.8"/>
<path stroke="#82d0a4" d="M461.6 998.8h0M480.6 996.2h0M474.6 996.2h0M496.4 996.2h0M132.5 993.5h0M432.8 993.5h0M135.1 990.9h0M456.4 990.9h0M442.4 990.9h0M450.6 988.3h0M445.6 988.3h0M427.4 985.7h0M440.5 985.7h0M438.5 985.7h0M448.2 983.1h0M429.4 983.1h0M440.1 983.1h0M480.6 983.1h0M469 980.5h0M455.8 980.5h0M448.2 977.9h0M449.8 975.3h0M442.4 975.3h0M457.7 975.3h0M444.6 975.3h0M159.4 972.7h0M458.6 972.7h0M467.6 972.7h0M164.5 970.1h4M429.3 970.1h0M164.7 967.5h7.9M446.9 967.5h0M447.3 967.5h0M168.9 964.9h5.9M168.4 964.9h0M478.2 964.9h0M172.2 962.3h5.9M433.3 962.3h0M455.4 962.3h0M176.5 959.7h5.9M184.7 954.4h0M179.9 954.4h0M472.7 954.4h0M466 951.8h0M486 949.2h0M479.6 949.2h0M184.3 946.6h0M492.1 946.6h0M475.2 944h0M191 941.4h2M463.6 941.4h0M455.6 941.4h0M188.9 938.8h5.9M177.7 938.8h0M485.7 938.8h0M455.5 938.8h0M490.5 938.8h0M191.5 936.2h0M468 936.2h0M450 933.6h0M478.9 933.6h0M540 933.6h0M483.6 931h0M503.2 928.4h0M487.1 925.8h0M488.1 925.8h0M509.1 923.2h0M525.1 923.2h0M521.9 923.2h0M488.8 923.2h0M502.8 923.2h0M501.5 923.2h0M519.6 923.2h0M486.7 920.6h0M503.9 920.6h0M515 920.6h0M493.2 917.9h0M488.2 917.9h0M517.5 917.9h0M498 917.9h0M516.9 917.9h0M205.6 915.3h5.9M504.7 912.7h0M510.1 907.5h0M502.7 907.5h0M518.6 907.5h0M519 907.5h0M527.7 904.9h0M208.8 902.3h0M211.1 902.3h0M518.9 902.3h0M212.5 899.7h4M209.6 899.7h0M514.6 899.7h0M510 899.7h0M512.9 899.7h0M215.3 897.1h2M212.7 894.5h5.9M541 894.5h0M212.6 891.9h5.9M520 891.9h1.7M551.6 891.9h0M550.1 891.9h0M211.9 889.3h0M540.1 889.3h0M217.2 886.7h5.9M522.9 884.1h0M550.3 881.5h0M539 881.5h0M559.8 871h0M534.8 871h0M555.6 871h0M538.6 871h0M555.2 868.4h0M560 868.4h0M587.2 868.4h0M234.8 865.8h4M558.5 863.2h0M579.6 863.2h0M562.7 860.6h0M555.1 852.8h0M579.9 852.8h0M244.8 850.2h5.9M581.1 850.2h0M247.8 847.6h4M552.5 847.6h0M547.3 847.6h0M251.2 845h0M252.7 845h0M250.5 845h0M597.9 845h0M583.1 845h0M577.7 845h0M585.8 842.4h0M254.4 839.7h5.9M560 839.7h0M555.8 839.7h0M256 837.1h5.9M565.6 837.1h0M610.5 837.1h0M261.1 834.5h0M561.2 834.5h0M588.1 834.5h0M570.7 834.5h0M589.1 834.5h0M564.8 834.5h0M584.7 831.9h0M267 829.3h2M267 829.3h0M600.1 829.3h0M581.9 829.3h0M564.9 829.3h0M580.7 829.3h0M580.1 829.3h0M587.8 826.7h0M577.6 824.1h0M551.3 824.1h0M581.5 821.5h0M588.4 821.5h0M642.4 821.5h0M277.9 818.9h0M587.3 818.9h0M282.8 789.4h2M274.6 786.7h0M274 784.1h0M261.5 771.1h0M275.6 755.4h4M271.8 755.4h0M279.8 752.8h4M282.1 750.2h0M285.2 750.2h0M289.8 744.9h0M283.8 744.9h0M295.1 742.3h0M331.8 724h0M346.6 718.8h0M367.3 703.1h0M373.1 700.5h2M372 697.9h5.9M379.9 687.4h0M403.9 661.3h0M407.8 653.5h2M407.5 653.5h0M396.2 653.5h0M411.9 640.4h0M415.7 635.2h5.9M420.3 632.6h4M415.8 632.6h0M418.7 630h5.9M421.1 627.3h5.9M425.3 624.7h5.9M424.2 624.7h0M429.1 622.1h4M431.7 619.5h5.9M433.9 616.9h5.9M437 614.3h5.9M443.5 611.7h5.9M450.8 609.1h5.9M458.9 606.4h4M598.9 1023.3h0M606.9 1023.3h0M615.1 1023.3h0M622.5 1023.3h0M629 1023.3h0M383.8 581.9h11.9M539.9 876.2h31.7"/>
<path stroke="#77cca3" d="M417.7 998.8h0M462.7 998.8h0M131.5 993.5h0M410.9 990.9h2.1M416.9 990.9h0M433.4 990.9h0M411 988.3h7.7M433.8 988.3h0M425.6 988.3h0M430 988.3h0M411.2 985.7h5.5M436.5 985.7h0M452.3 983.1h0M440.3 983.1h0M434.8 983.1h0M411.5 983.1h0M434.8 983.1h0M411 980.5h14.3M427.3 980.5h0M432.9 980.5h0M411.2 977.9h20M412.6 975.3h22.2M168.4 970.1h5.9M416.3 970.1h7.8M172.6 967.5h4M416.6 967.5h15.6M174.9 964.9h5.9M418.8 964.9h13.4M178.2 962.3h5.9M420.1 962.3h6.7M440.9 962.3h0M453.1 962.3h0M431.3 962.3h0M182.4 959.7h4M420.4 959.7h18.2M183.4 957h0M440.2 957h0M443.6 954.4h0M438.6 954.4h0M449.4 954.4h0M187.3 951.8h5.9M192.4 949.2h2M432.3 949.2h3.6M185.1 949.2h0M446.9 949.2h0M193.2 946.6h2M444.6 946.6h0M190.1 944h0M452.6 944h0M462.2 944h0M193 941.4h5.9M442.8 941.4h0M194.8 938.8h5.9M451.9 938.8h0M464.4 938.8h0M459.8 938.8h0M447 938.8h0M197.8 936.2h4M445.1 936.2h0M460.7 933.6h0M196.5 931h0M471.2 923.2h0M505.7 923.2h0M501.7 923.2h0M476.6 920.6h0M210.4 917.9h4M472.2 917.9h12.7M509.7 917.9h0M211.5 915.3h5.9M475.3 915.3h11.9M478.3 912.7h16M495.6 910.1h0M508.9 910.1h0M483.7 907.5h9.2M507 907.5h0M494.2 907.5h0M507.6 907.5h0M510.1 907.5h0M485.2 904.9h8.7M487.8 902.3h7M216.5 899.7h5.9M488.2 899.7h8.5M502.3 899.7h0M533.3 899.7h0M503.7 899.7h0M517.3 899.7h0M217.3 897.1h5.9M491.6 897.1h0M514.5 897.1h0M491.7 897.1h0M492.8 897.1h0M218.6 894.5h4M492.3 894.5h8.2M529 894.5h0M218.6 891.9h5.9M494.2 891.9h25.8M220 889.3h5.9M497.6 889.3h2.6M516 889.3h0M223.2 886.7h4M500.8 886.7h8.5M515.2 886.7h0M524.8 881.5h0M525.6 881.5h0M525.9 881.5h0M511.5 878.8h4.1M527.9 876.2h0M530.6 876.2h0M550.3 876.2h0M516.5 876.2h0M533.7 876.2h0M233.6 873.6h0M537.8 873.6h0M233.8 868.4h0M524.4 868.4h0M238.7 865.8h5.9M525.4 865.8h0M233 865.8h0M547.6 865.8h0M243.9 863.2h2M542.6 860.6h0M530.4 858h2.1M243.8 858h0M536.8 858h0M543.4 858h0M555 858h0M531 855.4h1.6M248.1 852.8h5.9M531.7 852.8h3.5M538.4 852.8h0M550.1 852.8h0M557.3 852.8h0M250.7 850.2h5.9M544.2 850.2h1.3M557.7 850.2h0M545.5 850.2h0M251.8 847.6h5.9M545.7 847.6h0M532.8 847.6h0M253.9 845h5.9M539.4 845h0M260.8 842.4h2M260.3 839.7h4M538 839.7h10.1M261.9 837.1h5.9M546.5 834.5h14.3M267.5 834.5h0M546.2 831.9h20.7M269 829.3h5.9M546.6 829.3h6.9M275.2 826.7h2M546.9 826.7h11M573.1 826.7h0M548.1 824.1h2.2M552.5 824.1h0M586.6 824.1h0M578.9 824.1h0M562.5 821.5h0M283.7 818.9h4M554.1 818.9h0M284 816.3h2M572 816.3h0M290.7 789.4h2M280.9 789.4h0M285.3 786.7h2M279.5 784.1h0M273.6 781.5h0M272.4 773.7h0M269.9 773.7h0M263 765.8h0M280.5 758h2M279.5 755.4h5.9M283.8 752.8h4M289 750.2h4M284.6 750.2h0M286.2 750.2h0M299.3 744.9h0M318 737.1h0M347.1 726.6h0M370.3 711h0M375.5 703.1h2M375 700.5h5.9M378 697.9h5.9M379.1 695.3h0M387 692.7h0M383.3 690.1h0M382.2 687.4h0M402.7 679.6h0M401.3 674.4h2M402.1 671.8h2M404.2 669.2h2M406.7 666.5h0M408.4 661.3h0M409.7 653.5h4M413.3 650.9h0M414.7 648.3h2M413 645.6h5.9M418.5 643h2M416.6 640.4h5.9M414.7 640.4h0M423.6 637.8h0M421.7 635.2h5.9M424.3 632.6h5.9M424.7 630h5.9M427 627.3h5.9M431.2 624.7h4M433.1 622.1h5.9M437.7 619.5h5.9M439.8 616.9h5.9M442.9 614.3h5.9M449.4 611.7h5.9M456.7 609.1h5.9M468.8 606.4h2M574.5 1023.3h0M582.2 1023.3h0M593.7 1023.3h0M395.7 581.9h9.9M234.5 876.2h2M514.1 876.2h25.8"/>
<path stroke="#70c6a3" d="M130.3 998.8h0M136.9 996.2h0M407 996.2h0M419.6 996.2h0M406.9 990.9h4M415.8 990.9h0M407.1 988.3h4M151.5 988.3h0M405.3 985.7h5.9M415.3 983.1h0M407.1 980.5h4M407.3 977.9h4M166.1 977.9h0M166.3 977.9h0M408.6 975.3h4M170.8 972.7h4M408.8 972.7h2.8M174.4 970.1h2M410.4 970.1h5.9M176.6 967.5h4M412.6 967.5h4M180.8 964.9h2M412.8 964.9h5.9M184.1 962.3h2M414.2 962.3h5.9M186.4 959.7h4M416.4 959.7h4M187.3 954.4h0M434.1 954.4h0M193.3 951.8h2M429.6 951.8h0M194.3 949.2h4M428.3 949.2h4M192.2 949.2h0M195.1 946.6h4M431.4 946.6h0M197.4 944h2M198.9 941.4h2M437.8 941.4h0M200.8 938.8h2M441.4 938.8h0M454.4 938.8h0M201.8 936.2h2M461 936.2h0M468.8 933.6h0M209.4 931h0M461.5 928.4h0M467.9 925.8h0M213 923.2h2M465 920.6h0M214.8 920.6h0M214.4 917.9h4M468.2 917.9h4M217.5 915.3h2M471.3 915.3h4M474.3 912.7h4M222 912.7h0M503.9 912.7h0M477.5 910.1h0M221.9 907.5h2M477.8 907.5h5.9M481.2 904.9h4M481.8 902.3h5.9M222.5 899.7h4M484.2 899.7h4M223.2 897.1h4M487 897.1h4.6M506.4 897.1h0M222.6 894.5h4M488.3 894.5h4M224.5 891.9h4M490.3 891.9h4M225.9 889.3h4M493.6 889.3h4M517.5 889.3h0M227.2 886.7h4M496.9 886.7h4M507.5 878.8h4M509.6 876.2h0M515.3 873.6h0M236.4 873.6h0M518.5 871h0M244.7 865.8h2M520.3 865.8h5.1M527 865.8h0M245.9 863.2h4M522.7 863.2h0M249.3 860.6h0M524.4 858h5.9M527.1 855.4h4M548.2 855.4h0M254.1 852.8h4M527.8 852.8h4M256.7 850.2h4M257.7 847.6h4M259.9 845h4M535.5 845h0M262.8 842.4h4M264.3 839.7h4M534 839.7h4M551.5 839.7h0M267.9 837.1h4M535.6 837.1h3.3M545.3 837.1h0M270.9 834.5h4M272.5 831.9h4M274.9 829.3h4M277.2 826.7h4M284.3 821.5h4M545.1 821.5h0M547.5 821.5h0M546.6 821.5h0M287.7 818.9h4M545.7 818.9h0M291.9 816.3h2M292.7 789.4h5.9M287.2 786.7h5.9M283.6 784.1h5.9M274.8 778.9h0M272.9 773.7h5.9M269.8 773.7h0M271.3 773.7h0M275.4 771.1h4M272.5 768.5h4M275.4 765.8h4M279 763.2h4M280.1 760.6h5.9M282.4 758h5.9M285.5 755.4h5.9M287.7 752.8h7.9M292.9 750.2h5.9M298.5 747.5h5.9M307.4 744.9h2M311.7 742.3h4M321.5 739.7h0M320.6 737.1h5.9M328.8 734.5h0M328.5 734.5h0M357.8 718.8h5.9M376 708.4h2M379.4 705.7h2M377.5 703.1h5.9M381 700.5h5.9M383.9 697.9h5.9M387.7 695.3h0M388.7 695.3h0M392.8 692.7h0M390.5 692.7h0M391.7 690.1h0M400.1 684.8h2M398.9 682.2h4M403.7 679.6h2M399.8 679.6h0M405.1 677h2M403.3 674.4h5.9M404.1 671.8h7.9M406.2 669.2h7.9M414.4 663.9h2M412.3 661.3h5.9M413.7 653.5h7.9M420.1 650.9h2M418.1 650.9h0M416.7 648.3h7.9M418.9 645.6h7.9M420.5 643h7.9M422.6 640.4h7.9M425.8 637.8h5.9M427.6 635.2h5.9M430.2 632.6h5.9M430.6 630h7.9M433 627.3h7.9M435.2 624.7h7.9M439 622.1h7.9M443.6 619.5h5.9M445.8 616.9h7.9M448.8 614.3h7.9M455.4 611.7h5.9M462.7 609.1h7.9M470.8 606.4h7.9M533.7 1023.3h0M542.4 1023.3h0M547.7 1023.3h0M556.3 1023.3h0M560.9 1023.3h0M405.6 581.9h9.9M231.6 802.6h5.9M236.4 876.2h4M510.1 876.2h4"/>
<path stroke="#69c0a3" d="M138 998.8h4M400.1 998.8h0M403.1 998.8h0M137.8 996.2h0M407 993.5h0M400.9 990.9h5.9M143.8 990.9h0M401.1 988.3h5.9M153.1 988.3h0M152.4 988.3h0M161.3 985.7h2M401.3 985.7h4M400.3 983.1h2.8M401.1 980.5h5.9M401.3 977.9h5.9M402.7 975.3h5.9M174.8 972.7h2M404.8 972.7h4M176.4 970.1h4M406.4 970.1h4M180.6 967.5h2M406.6 967.5h5.9M182.8 964.9h4M408.9 964.9h4M186.1 962.3h4M410.2 962.3h4M190.4 959.7h2M412.5 959.7h4M192.4 957h4M412.5 957h3.5M196.6 954.4h2M195.3 951.8h4M423.5 951.8h0M198.3 949.2h2M422.4 949.2h5.9M199.1 946.6h4M425.9 946.6h0M427.9 946.6h0M199.4 944h4M200.9 941.4h4M432.3 941.4h0M202.8 938.8h4M436.8 938.8h4.7M203.8 936.2h4M208.4 933.6h2M449.7 928.4h1.4M212.6 925.8h0M215 923.2h2M457 923.2h2.9M215.5 920.6h4M459.5 920.6h5.6M218.3 917.9h4M219.4 915.3h4M469.3 915.3h2M224.5 912.7h2M470.4 912.7h4M222.5 912.7h0M223.6 910.1h4M471.5 910.1h6M223.9 907.5h4M473.8 907.5h4M225.4 904.9h2M475.2 904.9h5.9M226 902.3h4M477.9 902.3h4M226.4 899.7h4M480.3 899.7h4M227.2 897.1h4M481 897.1h5.9M226.6 894.5h4M484.4 894.5h4M228.5 891.9h4M486.3 891.9h4M229.9 889.3h4M489.7 889.3h4M231.1 886.7h4M492.9 886.7h4M501.6 878.8h5.9M240 878.8h0M505.1 876.2h1.4M509.8 876.2h0M508.2 876.2h0M242.8 873.6h2M508.5 873.6h6.7M240.2 873.6h0M245.6 868.4h0M246.7 865.8h5.9M516.4 865.8h4M249.9 863.2h4M519.6 863.2h0M519.7 863.2h0M250.8 860.6h5.9M252.7 858h5.9M520.5 858h4M257.4 855.4h2M521.1 855.4h5.9M258.1 852.8h4M523.8 852.8h4M260.6 850.2h4M261.7 847.6h4M263.9 845h4M266.7 842.4h0M268.3 839.7h5.9M530 839.7h4M271.9 837.1h4M531.6 837.1h4M274.8 834.5h4M269 834.5h0M276.5 831.9h4M278.9 829.3h4M281.1 826.7h5.9M284.4 824.1h5.9M288.3 821.5h4M540.2 821.5h5M291.7 818.9h4M541.5 818.9h4.2M293.9 816.3h4M298.7 789.4h5.9M691.3 789.4h2.1M293.2 786.7h7.9M691.8 786.7h1.6M289.6 784.1h5.9M692.1 784.1h1.3M288.4 781.5h4M690.9 781.5h2.5M285.5 781.5h0M284.5 778.9h4M691 778.9h2.4M282.4 776.3h5.9M693.4 776.3h0M278.9 773.7h7.9M693.4 773.7h0M279.3 771.1h7.9M693.4 771.1h0M276.5 768.5h9.9M693.4 768.5h0M279.4 765.8h7.9M693.4 765.8h0M282.9 763.2h7.9M286.1 760.6h7.9M288.4 758h7.9M291.4 755.4h7.9M295.7 752.8h7.9M298.9 750.2h7.9M304.5 747.5h7.9M309.4 744.9h7.9M315.7 742.3h7.9M322 739.7h7.9M326.6 737.1h9.9M338.2 731.9h7.9M349.1 729.3h2M355.7 726.6h2M363.8 718.8h7.9M375.4 716.2h2M378.6 713.6h2M379.7 711h4M378 708.4h7.9M381.4 705.7h7.9M383.5 703.1h7.9M386.9 700.5h7.9M389.9 697.9h7.9M391.9 695.3h0M402.1 684.8h7.9M402.8 682.2h7.9M405.7 679.6h7.9M407.1 677h7.9M409.2 674.4h7.9M412.1 671.8h7.9M414.1 669.2h7.9M424.1 666.5h0M416.4 663.9h7.9M418.2 661.3h7.9M423.2 658.7h2M422.3 658.7h0M423.8 656.1h0M421.6 653.5h4M422.1 650.9h4M424.6 648.3h7.9M426.9 645.6h7.9M428.4 643h7.9M430.5 640.4h5.9M431.8 637.8h7.9M433.6 635.2h7.9M436.2 632.6h7.9M438.6 630h7.9M440.9 627.3h7.9M443.1 624.7h7.9M446.9 622.1h7.9M449.6 619.5h7.9M453.7 616.9h7.9M456.8 614.3h7.9M461.3 611.7h7.9M470.6 609.1h7.9M478.8 606.4h7.9M462.5 1023.3h0M472.4 1023.3h0M476.6 1023.3h0M484.5 1023.3h0M490.2 1023.3h0M502.6 1023.3h0M510.3 1023.3h0M523.9 1023.3h0M528.4 1023.3h0M415.5 581.9h9.9M237.6 802.6h5.9M240.4 876.2h4M506.1 876.2h4"/>
<path stroke="#61bba3" d="M142 998.8h2M397.8 998.8h2.3M401.1 998.8h0M395.8 996.2h0M396 996.2h0M147.5 993.5h2M395.4 993.5h3.4M395 990.9h5.9M149.7 990.9h0M157.2 988.3h2M395.2 988.3h5.9M163.3 985.7h2M395.3 985.7h5.9M168.3 983.1h2M396.3 983.1h4M395.2 980.5h5.9M397.4 977.9h4M174.8 977.9h0M174.6 975.3h4M398.7 975.3h4M176.7 972.7h4M398.8 972.7h5.9M180.3 970.1h2M400.5 970.1h5.9M182.6 967.5h4M402.7 967.5h4M186.8 964.9h4M402.9 964.9h5.9M190.1 962.3h4M404.3 962.3h5.9M192.3 959.7h4M406.5 959.7h5.9M196.4 957h4M408.6 957h4M198.6 954.4h2M410.8 954.4h3M199.2 951.8h4M413.4 951.8h3.7M200.3 949.2h4M418.4 949.2h4M203.1 946.6h2M421.2 946.6h4.7M203.3 944h4M423.8 944h0M430.8 944h0M204.9 941.4h4M427 941.4h5.3M206.7 938.8h4M430.8 938.8h5.9M207.8 936.2h4M433.8 936.2h3.3M210.4 933.6h4M441.3 931h3M211.6 931h0M213.7 928.4h4M443.8 928.4h5.9M447.5 925.8h0M215.5 925.8h0M217 923.2h4M451 923.2h5.9M219.5 920.6h4M453.5 920.6h5.9M222.3 917.9h4M223.4 915.3h4M226.4 912.7h4M468.4 912.7h2M227.6 910.1h4M469.5 910.1h2M227.9 907.5h4M467.8 907.5h5.9M227.4 904.9h5.9M471.3 904.9h4M230 902.3h4M471.9 902.3h5.9M230.4 899.7h4M474.3 899.7h5.9M231.2 897.1h4M477.1 897.1h4M230.5 894.5h5.9M478.4 894.5h5.9M232.5 891.9h4M480.4 891.9h5.9M233.8 889.3h4M483.7 889.3h5.9M235.1 886.7h5.9M486.9 886.7h5.9M497.6 878.8h4M241.7 878.8h0M240.3 878.8h0M247.3 876.2h2M499.1 876.2h5.9M244.8 873.6h5.9M502.6 873.6h5.9M515 868.4h0M252.6 865.8h4M510.4 865.8h5.9M253.8 863.2h4M513.6 863.2h3M256.7 860.6h4M514.5 860.6h1.1M258.7 858h4M514.5 858h5.9M259.3 855.4h5.9M517.1 855.4h4M262 852.8h4M517.8 852.8h5.9M264.6 850.2h2M265.7 847.6h2M267.8 845h0M274.2 839.7h4M526.1 839.7h4M275.8 837.1h5.9M527.7 837.1h4M278.8 834.5h4M280.4 831.9h5.9M282.9 829.3h5.9M287.1 826.7h4M290.3 824.1h4M292.3 821.5h4M534.2 821.5h5.9M295.6 818.9h4M537.6 818.9h4M297.9 816.3h4M541.7 816.3h0M540.1 816.3h0M304.6 789.4h2M685.4 789.4h5.9M301.1 786.7h7.9M681.9 786.7h9.9M295.5 784.1h9.9M682.2 784.1h9.9M292.3 781.5h7.9M681 781.5h9.9M288.4 778.9h9.9M681.1 778.9h9.9M288.4 776.3h9.9M681 776.3h12.4M286.8 773.7h9.9M681.4 773.7h12M287.3 771.1h9.9M681.9 771.1h11.5M286.4 768.5h9.9M683 768.5h10.4M287.3 765.8h9.9M684 765.8h9.4M290.9 763.2h9.9M683.5 763.2h9.9M294 760.6h9.9M684.7 760.6h8.7M296.3 758h9.9M685 758h8.4M299.4 755.4h9.9M688.1 755.4h2.5M303.6 752.8h9.9M688.3 752.8h5.1M306.8 750.2h9.9M691.5 750.2h1.9M312.4 747.5h9.9M693.4 747.5h0M317.3 744.9h11.9M693.4 744.9h0M323.6 742.3h9.9M330 739.7h9.9M336.5 737.1h7.9M346.1 731.9h0M351.1 729.3h9.9M357.7 726.6h9.9M371.7 718.8h9.9M377.4 716.2h9.9M380.6 713.6h9.9M383.7 711h9.9M385.9 708.4h9.9M389.3 705.7h9.9M391.4 703.1h9.9M394.9 700.5h9.9M397.8 697.9h9.9M414 687.4h2M410 684.8h7.9M410.8 682.2h9.9M413.6 679.6h9.9M415.1 677h9.9M417.2 674.4h9.9M420 671.8h9.9M422 669.2h7.9M426.9 666.5h5.9M417.1 666.5h0M424.3 663.9h9.9M426.1 661.3h9.9M432.6 648.3h4M434.8 645.6h2M436.3 643h2M439.7 637.8h9.9M441.5 635.2h11.9M444.1 632.6h9.9M446.5 630h9.9M448.8 627.3h9.9M451.1 624.7h9.9M454.9 622.1h9.9M457.5 619.5h9.9M461.6 616.9h9.9M464.7 614.3h9.9M469.3 611.7h11.9M478.6 609.1h9.9M486.7 606.4h0M492.6 606.4h4M414.3 1023.3h29.7M446.9 1023.3h0M425.4 581.9h9.9M243.5 802.6h5.9M652 802.6h1.7M244.4 876.2h4M500.2 876.2h5.9"/>
<path stroke="#5ab5a3" d="M387.9 998.8h0M387.7 996.2h8.2M149.5 993.5h2M387.5 993.5h7.9M147.4 993.5h0M153.1 990.9h4M389 990.9h5.9M159.2 988.3h4M389.2 988.3h5.9M165.3 985.7h2M389.4 985.7h5.9M170.3 983.1h2M388.4 983.1h7.9M389.2 980.5h5.9M175.2 977.9h2M389.4 977.9h7.9M178.6 975.3h2M390.8 975.3h7.9M180.7 972.7h2M392.9 972.7h5.9M182.3 970.1h4M394.5 970.1h5.9M186.5 967.5h4M394.7 967.5h7.9M190.7 964.9h2M397 964.9h5.9M194 962.3h2M398.3 962.3h5.9M196.3 959.7h4M400.6 959.7h5.9M200.3 957h4M400.6 957h7.9M200.6 954.4h4M404.8 954.4h5.9M203.2 951.8h4M407.4 951.8h5.9M204.3 949.2h4M410.5 949.2h7.9M205.1 946.6h4M415.3 946.6h5.9M207.3 944h4M417.5 944h6.3M208.8 941.4h4M421 941.4h5.9M210.7 938.8h4M424.9 938.8h5.9M211.7 936.2h4M427.9 936.2h5.9M214.4 933.6h4M430.5 933.6h4.7M436.9 933.6h0M435.9 933.6h0M215.2 931h4M435.3 931h5.9M446.6 931h0M217.7 928.4h4M437.8 928.4h5.9M219 925.8h4M441.1 925.8h6.4M221 923.2h5.9M445.1 923.2h5.9M223.5 920.6h4M447.6 920.6h5.9M226.3 917.9h4M227.4 915.3h5.9M230.4 912.7h4M231.5 910.1h4M231.9 907.5h4M461.9 907.5h5.9M233.3 904.9h4M463.3 904.9h7.9M233.9 902.3h4M466 902.3h5.9M234.3 899.7h4M468.4 899.7h5.9M235.1 897.1h4M471.1 897.1h5.9M236.5 894.5h4M472.5 894.5h5.9M236.4 891.9h4M474.4 891.9h5.9M237.8 889.3h5.9M477.8 889.3h5.9M241 886.7h4M481 886.7h5.9M245.7 878.8h5.9M491.6 878.8h5.9M249.3 876.2h4M493.2 876.2h5.9M250.7 873.6h4M496.6 873.6h5.9M256.6 865.8h5.9M504.5 865.8h5.9M257.8 863.2h5.9M505.7 863.2h7.9M260.7 860.6h5.9M508.6 860.6h5.9M262.6 858h5.9M508.6 858h5.9M265.3 855.4h4M511.2 855.4h5.9M266 852.8h5.9M511.9 852.8h5.9M278.2 839.7h5.9M520.1 839.7h5.9M281.8 837.1h4M521.7 837.1h5.9M282.8 834.5h5.9M522.7 834.5h0M286.4 831.9h5.9M288.8 829.3h5.9M291 826.7h5.9M294.3 824.1h5.9M296.2 821.5h5.9M530.2 821.5h4M299.6 818.9h5.9M531.6 818.9h5.9M532.4 816.3h0M312.6 789.4h5.9M671.5 789.4h7.9M309.1 786.7h9.9M670 786.7h11.9M305.4 784.1h9.9M668.3 784.1h13.9M300.3 781.5h11.9M667.1 781.5h13.9M298.4 778.9h11.9M667.2 778.9h13.9M298.3 776.3h11.9M667.1 776.3h13.9M296.7 773.7h13.9M667.5 773.7h13.9M297.2 771.1h11.9M668 771.1h13.9M296.3 768.5h11.9M669.1 768.5h13.9M297.3 765.8h13.9M670.1 765.8h13.9M300.8 763.2h7.9M669.6 763.2h13.9M303.9 760.6h4M670.8 760.6h13.9M306.2 758h2M673.1 758h11.9M674.2 755.4h13.9M313.5 752.8h13.9M676.4 752.8h11.9M316.7 750.2h13.9M677.6 750.2h13.9M322.3 747.5h13.9M679.3 747.5h14.1M329.2 744.9h11.9M682.2 744.9h11.2M333.5 742.3h13.9M682.6 742.3h10.8M339.9 739.7h7.9M685 739.7h8.4M344.4 737.1h2M687.5 737.1h5.9M688.5 734.5h4.9M691.2 731.9h2.2M361 729.3h13.9M692.2 729.3h1.2M367.6 726.6h11.9M693.4 726.6h0M381.6 718.8h11.9M387.3 716.2h9.9M390.5 713.6h11.9M393.6 711h11.9M395.8 708.4h11.9M399.3 705.7h11.9M401.3 703.1h11.9M404.8 700.5h11.9M407.7 697.9h11.9M413.7 695.3h7.9M414.6 692.7h9.9M415.5 690.1h9.9M416 687.4h11.9M417.9 684.8h11.9M420.7 682.2h11.9M423.5 679.6h11.9M425 677h11.9M427.1 674.4h11.9M429.9 671.8h9.9M430 669.2h9.9M432.9 666.5h7.9M426.6 666.5h0M434.2 663.9h11.9M436 661.3h11.9M441 658.7h7.9M442 656.1h7.9M441.5 653.5h9.9M441.9 650.9h11.9M454.6 645.6h2M456.2 643h4M454.3 640.4h7.9M449.6 637.8h13.9M453.4 635.2h11.9M454 632.6h13.9M456.4 630h13.9M458.8 627.3h13.9M461 624.7h13.9M464.8 622.1h13.9M467.4 619.5h13.9M471.6 616.9h13.9M474.6 614.3h13.9M481.2 611.7h11.9M488.5 609.1h13.9M496.6 606.4h2M506.5 606.4h2M392.5 1023.3h21.8M435.3 581.9h7.9M249.5 802.6h7.9M644.1 802.6h7.9M248.3 876.2h5.9M494.2 876.2h5.9"/>
<path stroke="#57afa2" d="M380 998.8h7.9M379.7 996.2h7.9M151.5 993.5h4M379.6 993.5h7.9M157 990.9h4M381.1 990.9h7.9M163.1 988.3h2M381.3 988.3h7.9M167.3 985.7h2M381.5 985.7h7.9M172.2 983.1h2M380.5 983.1h7.9M381.3 980.5h7.9M177.2 977.9h4M381.5 977.9h7.9M180.5 975.3h4M384.8 975.3h5.9M182.7 972.7h4M385 972.7h7.9M186.3 970.1h4M386.6 970.1h7.9M190.5 967.5h2M388.8 967.5h5.9M192.7 964.9h4M389 964.9h7.9M196 962.3h4M390.4 962.3h7.9M200.3 959.7h4M392.6 959.7h7.9M204.3 957h2M394.7 957h5.9M204.5 954.4h4M396.9 954.4h7.9M207.2 951.8h4M401.5 951.8h5.9M208.2 949.2h4M404.5 949.2h5.9M209 946.6h4M407.3 946.6h7.9M211.3 944h4M411.6 944h5.9M212.8 941.4h4M415.1 941.4h5.9M214.7 938.8h4M416.9 938.8h7.9M215.7 936.2h4M421.9 936.2h5.9M218.3 933.6h4M424.6 933.6h5.9M219.2 931h5.9M427.4 931h7.9M221.7 928.4h4M431.9 928.4h5.9M223 925.8h5.9M435.2 925.8h5.9M226.9 923.2h4M437.1 923.2h7.9M227.4 920.6h5.9M441.6 920.6h5.9M230.2 917.9h4M446.4 917.9h4M233.3 915.3h4M447.5 915.3h4M234.4 912.7h4M450.5 912.7h0M235.5 910.1h4M235.8 907.5h5.9M456 907.5h5.9M237.3 904.9h4M457.4 904.9h5.9M237.9 902.3h5.9M460 902.3h5.9M238.3 899.7h5.9M460.4 899.7h7.9M239.1 897.1h5.9M463.2 897.1h7.9M240.4 894.5h5.9M464.5 894.5h7.9M240.4 891.9h5.9M468.5 891.9h5.9M243.8 889.3h4M469.8 889.3h7.9M245 886.7h5.9M473.1 886.7h7.9M251.7 878.8h5.9M483.7 878.8h7.9M253.2 876.2h5.9M487.2 876.2h5.9M254.7 873.6h5.9M490.7 873.6h5.9M262.5 865.8h5.9M498.5 865.8h5.9M263.7 863.2h5.9M499.7 863.2h5.9M266.6 860.6h5.9M500.6 860.6h7.9M268.6 858h5.9M502.6 858h5.9M269.2 855.4h5.9M503.3 855.4h7.9M271.9 852.8h5.9M506 852.8h5.9M506.5 850.2h5.9M509.6 847.6h4M509.8 845h4M512.6 842.4h0M284.1 839.7h5.9M512.2 839.7h7.9M285.7 837.1h5.9M513.8 837.1h7.9M288.7 834.5h5.9M516.8 834.5h5.9M292.3 831.9h5.9M518.4 831.9h4M294.7 829.3h5.9M518.8 829.3h4M297 826.7h5.9M521.1 826.7h2M300.3 824.1h5.9M522.4 824.1h0M302.2 821.5h5.9M524.3 821.5h5.9M305.5 818.9h5.9M525.7 818.9h5.9M309.8 816.3h4M525.9 816.3h6.5M538 816.3h0M326.4 789.4h2M657.6 789.4h0M667.5 789.4h4M319 786.7h11.9M654.1 786.7h15.9M315.4 784.1h13.9M650.5 784.1h17.8M312.2 781.5h13.9M649.3 781.5h17.8M310.3 778.9h15.9M647.4 778.9h19.8M310.2 776.3h15.9M647.3 776.3h19.8M310.6 773.7h15.9M649.7 773.7h17.8M309.1 771.1h17.8M650.2 771.1h17.8M308.2 768.5h17.8M651.3 768.5h17.8M311.1 765.8h15.9M652.2 765.8h17.8M651.8 763.2h17.8M652.9 760.6h17.8M655.3 758h17.8M656.3 755.4h17.8M327.4 752.8h15.9M658.6 752.8h17.8M330.6 750.2h15.9M659.8 750.2h17.8M336.2 747.5h15.9M661.4 747.5h17.8M341.1 744.9h15.9M664.3 744.9h17.8M347.4 742.3h15.9M666.7 742.3h15.9M669.1 739.7h15.9M669.6 737.1h17.8M672.6 734.5h15.9M375.9 731.9h7.9M673.3 731.9h17.8M374.9 729.3h13.9M676.3 729.3h15.9M379.5 726.6h13.9M679 726.6h14.4M680.9 724h12.5M682.1 721.4h11.3M393.5 718.8h13.9M683.1 718.8h10.3M397.2 716.2h15.9M686.7 716.2h6.7M402.4 713.6h13.9M688 713.6h5.4M405.5 711h13.9M691.1 711h2.3M407.7 708.4h13.9M693.4 708.4h0M411.2 705.7h13.9M413.2 703.1h13.9M416.7 700.5h13.9M419.6 697.9h13.9M421.6 695.3h13.9M424.5 692.7h13.9M425.4 690.1h15.9M427.9 687.4h15.9M429.8 684.8h15.9M432.6 682.2h15.9M435.4 679.6h13.9M436.9 677h15.9M439 674.4h2M446.1 663.9h15.9M447.9 661.3h15.9M448.9 658.7h15.9M449.9 656.1h17.8M451.4 653.5h17.8M453.8 650.9h15.9M454.4 648.3h17.8M456.6 645.6h17.8M460.1 643h15.9M462.3 640.4h15.9M463.5 637.8h17.8M465.3 635.2h17.8M467.9 632.6h17.8M470.3 630h17.8M472.6 627.3h17.8M474.8 624.7h17.8M478.7 622.1h17.8M481.3 619.5h17.8M485.4 616.9h17.8M488.5 614.3h17.8M493.1 611.7h17.8M502.3 609.1h15.9M508.5 606.4h0M514.5 606.4h11.9M374.7 1023.3h17.8M443.2 581.9h9.9M257.4 802.6h7.9M636.2 802.6h7.9M254.3 876.2h4M486.3 876.2h7.9"/>
<path stroke="#54aaa2" d="M153.9 998.8h2M376 998.8h4M153.7 996.2h4M369.8 996.2h9.9M155.5 993.5h4M371.6 993.5h7.9M161 990.9h2M371.2 990.9h9.9M165.1 988.3h2M371.4 988.3h9.9M169.3 985.7h2M371.6 985.7h9.9M174.2 983.1h2M372.5 983.1h7.9M177 980.5h2M373.4 980.5h7.9M181.2 977.9h2M373.6 977.9h7.9M184.5 975.3h2M374.9 975.3h9.9M186.7 972.7h2M377 972.7h7.9M190.2 970.1h2M378.6 970.1h7.9M192.5 967.5h4M380.9 967.5h7.9M196.7 964.9h4M381.1 964.9h7.9M200 962.3h4M382.4 962.3h7.9M204.2 959.7h4M384.7 959.7h7.9M206.3 957h4M386.8 957h7.9M208.5 954.4h4M389 954.4h7.9M211.1 951.8h4M393.6 951.8h7.9M212.2 949.2h4M396.6 949.2h7.9M213 946.6h5.9M399.4 946.6h7.9M215.2 944h4M403.6 944h7.9M216.8 941.4h4M405.2 941.4h9.9M218.6 938.8h4M409 938.8h7.9M219.7 936.2h5.9M412 936.2h9.9M222.3 933.6h4M416.6 933.6h7.9M225.1 931h4M419.4 931h7.9M225.6 928.4h5.9M422 928.4h9.9M228.9 925.8h4M425.3 925.8h9.9M230.9 923.2h4M429.2 923.2h7.9M233.4 920.6h4M431.7 920.6h9.9M234.2 917.9h5.9M237.3 915.3h4M238.3 912.7h5.9M446.6 912.7h4M239.5 910.1h5.9M445.7 910.1h5.9M241.8 907.5h4M446 907.5h9.9M241.2 904.9h5.9M449.5 904.9h7.9M243.9 902.3h4M450.1 902.3h9.9M244.3 899.7h5.9M452.5 899.7h7.9M245.1 897.1h5.9M455.3 897.1h7.9M246.4 894.5h5.9M456.6 894.5h7.9M246.3 891.9h5.9M460.5 891.9h7.9M247.7 889.3h5.9M461.9 889.3h7.9M251 886.7h5.9M465.1 886.7h7.9M257.6 878.8h5.9M475.8 878.8h7.9M259.2 876.2h5.9M479.3 876.2h7.9M260.7 873.6h5.9M482.8 873.6h7.9M268.5 865.8h5.9M490.6 865.8h7.9M269.7 863.2h5.9M491.8 863.2h7.9M272.6 860.6h5.9M492.7 860.6h7.9M274.5 858h5.9M494.7 858h7.9M275.2 855.4h7.9M497.3 855.4h5.9M277.9 852.8h5.9M498 852.8h7.9M498.6 850.2h7.9M501.7 847.6h7.9M501.8 845h7.9M290.5 842.4h4M504.7 842.4h7.9M290.1 839.7h5.9M506.3 839.7h5.9M291.7 837.1h7.9M507.8 837.1h5.9M294.7 834.5h7.9M508.8 834.5h7.9M298.3 831.9h5.9M510.5 831.9h7.9M300.7 829.3h5.9M512.9 829.3h5.9M302.9 826.7h7.9M513.1 826.7h7.9M306.2 824.1h5.9M514.4 824.1h7.9M308.1 821.5h7.9M516.4 821.5h7.9M311.5 818.9h7.9M517.7 818.9h7.9M313.7 816.3h7.9M523.9 816.3h2M336.4 789.4h7.9M641.7 789.4h15.9M330.9 786.7h13.9M632.3 786.7h21.8M329.2 784.1h15.9M628.7 784.1h21.8M326.1 781.5h19.8M625.5 781.5h23.8M326.1 778.9h19.8M623.6 778.9h23.8M326.1 776.3h21.8M623.5 776.3h23.8M326.4 773.7h21.8M623.9 773.7h25.8M326.9 771.1h19.8M626.4 771.1h23.8M326 768.5h21.8M627.5 768.5h23.8M327 765.8h21.8M628.4 765.8h23.8M630 763.2h21.8M631.1 760.6h21.8M631.5 758h23.8M634.5 755.4h21.8M343.3 752.8h23.8M636.8 752.8h21.8M346.5 750.2h23.8M638 750.2h21.8M352.1 747.5h21.8M639.6 747.5h21.8M356.9 744.9h21.8M642.5 744.9h21.8M363.3 742.3h21.8M644.9 742.3h21.8M375.6 739.7h13.9M647.3 739.7h21.8M376.1 737.1h17.8M649.8 737.1h19.8M650.8 734.5h21.8M383.8 731.9h19.8M653.5 731.9h19.8M388.8 729.3h19.8M656.5 729.3h19.8M393.4 726.6h19.8M657.1 726.6h21.8M661.1 724h19.8M406.4 721.4h11.9M662.3 721.4h19.8M407.4 718.8h9.9M665.2 718.8h17.8M413 716.2h17.8M666.9 716.2h19.8M416.3 713.6h19.8M670.2 713.6h17.8M419.4 711h17.8M673.2 711h17.8M421.6 708.4h19.8M675.4 708.4h18M425 705.7h17.8M678.9 705.7h14.5M427.1 703.1h19.8M680.9 703.1h12.5M430.6 700.5h17.8M684.4 700.5h9M433.5 697.9h17.8M687.3 697.9h6.1M435.5 695.3h19.8M691.3 695.3h2.1M438.4 692.7h19.8M693.4 692.7h0M441.3 690.1h19.8M443.8 687.4h17.8M445.7 684.8h19.8M448.5 682.2h17.8M449.3 679.6h19.8M452.7 677h19.8M462 663.9h19.8M463.8 661.3h19.8M464.8 658.7h21.8M467.8 656.1h19.8M469.2 653.5h19.8M469.7 650.9h21.8M472.2 648.3h21.8M474.5 645.6h21.8M476 643h21.8M478.1 640.4h21.8M481.3 637.8h21.8M483.2 635.2h21.8M485.8 632.6h21.8M488.1 630h21.8M490.5 627.3h21.8M492.7 624.7h21.8M496.5 622.1h21.8M499.1 619.5h21.8M503.3 616.9h21.8M506.4 614.3h21.8M510.9 611.7h21.8M518.2 609.1h21.8M526.4 606.4h0M532.3 606.4h7.9M358.8 1023.3h15.9M453.2 581.9h9.9M265.3 802.6h7.9M628.2 802.6h7.9M258.3 876.2h7.9M478.4 876.2h7.9"/>
<path stroke="#51a4a2" d="M155.9 998.8h2M362.1 998.8h5.9M157.6 996.2h2M359.9 996.2h9.9M159.4 993.5h2M359.7 993.5h11.9M163 990.9h2M361.3 990.9h9.9M167.1 988.3h2M361.4 988.3h9.9M171.3 985.7h2M361.6 985.7h9.9M176.2 983.1h2M362.6 983.1h9.9M179 980.5h2M361.5 980.5h11.9M183.2 977.9h2M363.6 977.9h9.9M186.5 975.3h2M365 975.3h9.9M188.6 972.7h4M367.1 972.7h9.9M192.2 970.1h4M368.7 970.1h9.9M196.4 967.5h4M371 967.5h9.9M200.6 964.9h4M371.2 964.9h9.9M204 962.3h4M372.5 962.3h9.9M208.2 959.7h4M374.8 959.7h9.9M210.3 957h5.9M376.8 957h9.9M212.5 954.4h5.9M379.1 954.4h9.9M215.1 951.8h4M383.6 951.8h9.9M216.2 949.2h4M386.7 949.2h9.9M218.9 946.6h4M389.5 946.6h9.9M219.2 944h5.9M393.7 944h9.9M220.7 941.4h5.9M397.2 941.4h7.9M222.6 938.8h5.9M399.1 938.8h9.9M225.6 936.2h4M402.1 936.2h9.9M226.3 933.6h5.9M406.7 933.6h9.9M229.1 931h5.9M409.5 931h9.9M231.6 928.4h4M412 928.4h9.9M232.9 925.8h5.9M415.3 925.8h9.9M234.9 923.2h5.9M419.3 923.2h9.9M237.4 920.6h5.9M423.8 920.6h7.9M240.1 917.9h5.9M241.3 915.3h4M244.3 912.7h2M245.4 910.1h0M245.7 907.5h0M438.1 907.5h7.9M247.2 904.9h5.9M439.5 904.9h9.9M247.8 902.3h5.9M442.2 902.3h7.9M250.2 899.7h5.9M444.6 899.7h7.9M251 897.1h5.9M445.3 897.1h9.9M252.3 894.5h5.9M448.7 894.5h7.9M252.3 891.9h7.9M450.6 891.9h9.9M253.7 889.3h7.9M454 889.3h7.9M256.9 886.7h5.9M457.2 886.7h7.9M460 884.1h4M263.6 878.8h5.9M465.9 878.8h9.9M265.1 876.2h7.9M469.4 876.2h9.9M266.6 873.6h7.9M472.8 873.6h9.9M274.4 865.8h5.9M480.7 865.8h9.9M275.6 863.2h7.9M481.9 863.2h9.9M278.5 860.6h7.9M484.8 860.6h7.9M280.5 858h7.9M486.7 858h7.9M283.1 855.4h7.9M487.4 855.4h9.9M283.8 852.8h7.9M490.1 852.8h7.9M290.4 850.2h4M490.7 850.2h7.9M291.5 847.6h5.9M491.8 847.6h9.9M291.6 845h7.9M493.9 845h7.9M294.5 842.4h7.9M496.8 842.4h7.9M296 839.7h7.9M498.3 839.7h7.9M299.6 837.1h7.9M499.9 837.1h7.9M302.6 834.5h7.9M500.9 834.5h7.9M304.2 831.9h7.9M502.6 831.9h7.9M306.6 829.3h7.9M505 829.3h7.9M310.9 826.7h4M505.2 826.7h7.9M312.2 824.1h2M508.5 824.1h5.9M316.1 821.5h7.9M508.4 821.5h7.9M319.4 818.9h7.9M511.8 818.9h5.9M321.7 816.3h7.9M512 816.3h4M344.3 789.4h0M356.2 789.4h4M612 789.4h5.9M629.9 789.4h4M344.8 786.7h17.8M606.5 786.7h25.8M345.1 784.1h19.8M600.9 784.1h27.8M345.9 781.5h21.8M595.8 781.5h29.7M346 778.9h23.8M591.9 778.9h31.7M347.9 776.3h23.8M591.8 776.3h31.7M348.3 773.7h25.8M594.2 773.7h29.7M346.8 771.1h27.8M594.7 771.1h31.7M347.9 768.5h27.8M597.7 768.5h29.7M348.8 765.8h27.8M598.7 765.8h29.7M600.2 763.2h29.7M381.2 760.6h2M601.4 760.6h29.7M381.6 758h5.9M603.7 758h27.8M380.7 755.4h9.9M606.7 755.4h27.8M367.1 752.8h25.8M609 752.8h27.8M370.3 750.2h25.8M610.2 750.2h27.8M373.9 747.5h27.8M613.9 747.5h25.8M378.8 744.9h27.8M616.7 744.9h25.8M385.1 742.3h25.8M619.1 742.3h25.8M389.5 739.7h25.8M621.5 739.7h25.8M394 737.1h25.8M624 737.1h25.8M627 734.5h23.8M403.6 731.9h25.8M629.7 731.9h23.8M408.6 729.3h23.8M632.7 729.3h23.8M413.2 726.6h4M635.3 726.6h21.8M637.3 724h23.8M444.1 721.4h2M640.4 721.4h2M658.3 721.4h4M443.1 718.8h5.9M643.4 718.8h21.8M430.9 716.2h23.8M647.1 716.2h19.8M436.1 713.6h21.8M650.3 713.6h19.8M437.2 711h23.8M653.4 711h19.8M441.4 708.4h21.8M655.6 708.4h19.8M442.9 705.7h23.8M659 705.7h19.8M446.9 703.1h21.8M663.1 703.1h17.8M448.4 700.5h23.8M666.6 700.5h17.8M451.3 697.9h23.8M669.5 697.9h17.8M455.3 695.3h21.8M673.5 695.3h17.8M458.3 692.7h21.8M678.4 692.7h15M461.1 690.1h21.8M681.2 690.1h12.2M461.6 687.4h23.8M683.7 687.4h9.7M465.5 684.8h21.8M687.6 684.8h5.8M466.3 682.2h23.8M692.4 682.2h1M469.1 679.6h23.8M472.6 677h23.8M488.6 674.4h9.9M487.4 671.8h13.9M487.5 669.2h13.9M488.4 666.5h11.9M481.8 663.9h25.8M483.6 661.3h25.8M486.6 658.7h25.8M487.6 656.1h25.8M489.1 653.5h27.8M491.5 650.9h25.8M494 648.3h7.9M496.3 645.6h5.9M497.8 643h4M499.9 640.4h2M503.1 637.8h27.8M505 635.2h27.8M507.6 632.6h27.8M509.9 630h27.8M512.3 627.3h27.8M514.5 624.7h27.8M518.3 622.1h27.8M521 619.5h27.8M525.1 616.9h27.8M528.2 614.3h27.8M532.7 611.7h27.8M540 609.1h25.8M548.2 606.4h7.9M564 606.4h7.9M343 1023.3h15.9M463.1 581.9h9.9M273.3 802.6h11.9M616.3 802.6h11.9M266.2 876.2h5.9M470.4 876.2h7.9"/>
<path stroke="#4e9ea1" d="M157.9 998.8h2M352.2 998.8h2M159.6 996.2h2M346 996.2h13.9M161.4 993.5h2M345.8 993.5h13.9M165 990.9h2M347.4 990.9h13.9M169.1 988.3h2M347.6 988.3h13.9M173.2 985.7h2M347.8 985.7h13.9M178.2 983.1h2M348.7 983.1h13.9M181 980.5h2M349.6 980.5h11.9M185.2 977.9h2M351.7 977.9h11.9M188.5 975.3h2M353.1 975.3h11.9M192.6 972.7h2M355.2 972.7h11.9M196.2 970.1h4M356.8 970.1h11.9M200.4 967.5h4M359.1 967.5h11.9M204.6 964.9h4M359.3 964.9h11.9M207.9 962.3h5.9M362.6 962.3h9.9M212.2 959.7h4M362.9 959.7h11.9M216.2 957h4M364.9 957h11.9M218.4 954.4h4M369.1 954.4h9.9M219.1 951.8h5.9M371.7 951.8h11.9M220.1 949.2h5.9M374.8 949.2h11.9M222.9 946.6h5.9M379.6 946.6h9.9M225.2 944h4M381.8 944h11.9M226.7 941.4h5.9M385.3 941.4h11.9M228.5 938.8h5.9M389.2 938.8h9.9M229.6 936.2h5.9M392.2 936.2h9.9M232.2 933.6h5.9M394.8 933.6h11.9M235 931h4M397.6 931h11.9M235.6 928.4h5.9M402.1 928.4h9.9M238.8 925.8h5.9M405.4 925.8h9.9M240.8 923.2h5.9M407.4 923.2h11.9M243.3 920.6h5.9M411.9 920.6h11.9M246.1 917.9h0M414.7 917.9h9.9M417.7 915.3h5.9M420.8 912.7h4M423.9 910.1h0M426.2 907.5h0M253.1 904.9h7.9M427.6 904.9h11.9M253.8 902.3h7.9M430.3 902.3h11.9M256.2 899.7h5.9M432.7 899.7h11.9M257 897.1h7.9M435.4 897.1h9.9M258.3 894.5h7.9M436.8 894.5h11.9M260.2 891.9h5.9M438.7 891.9h11.9M261.6 889.3h7.9M442.1 889.3h11.9M262.8 886.7h7.9M445.3 886.7h11.9M448.1 884.1h11.9M269.5 878.8h7.9M456 878.8h9.9M273.1 876.2h7.9M459.5 876.2h9.9M274.5 873.6h7.9M462.9 873.6h9.9M283.6 871h2M280.4 865.8h9.9M470.8 865.8h9.9M283.6 863.2h7.9M472 863.2h9.9M286.5 860.6h7.9M472.9 860.6h11.9M288.4 858h7.9M474.8 858h11.9M291.1 855.4h7.9M477.5 855.4h9.9M291.8 852.8h9.9M478.2 852.8h11.9M294.3 850.2h7.9M480.8 850.2h9.9M297.4 847.6h7.9M481.8 847.6h9.9M299.6 845h7.9M484 845h9.9M302.4 842.4h7.9M486.9 842.4h9.9M304 839.7h9.9M488.4 839.7h9.9M307.6 837.1h7.9M490 837.1h9.9M310.5 834.5h4M498.9 834.5h2M312.2 831.9h2M498.6 831.9h4M314.6 829.3h0M499 829.3h5.9M499.3 826.7h5.9M498.6 824.1h9.9M324 821.5h7.9M500.5 821.5h7.9M327.4 818.9h7.9M501.9 818.9h9.9M329.6 816.3h9.9M504.1 816.3h0M510.1 816.3h2M360.1 789.4h0M372 789.4h2M582.3 789.4h7.9M610 789.4h2M362.6 786.7h19.8M574.8 786.7h31.7M364.9 784.1h23.8M567.2 784.1h33.7M367.7 781.5h25.8M560.1 781.5h35.7M369.7 778.9h29.7M556.2 778.9h35.7M371.7 776.3h29.7M556.1 776.3h35.7M374 773.7h29.7M558.5 773.7h35.7M374.5 771.1h31.7M560.9 771.1h33.7M375.6 768.5h31.7M562 768.5h35.7M376.6 765.8h33.7M565 765.8h33.7M382.1 763.2h29.7M566.5 763.2h33.7M383.2 760.6h31.7M569.6 760.6h31.7M387.5 758h31.7M572 758h31.7M390.6 755.4h31.7M573 755.4h33.7M392.8 752.8h31.7M577.3 752.8h31.7M396 750.2h31.7M578.5 750.2h31.7M401.7 747.5h31.7M582.1 747.5h31.7M406.5 744.9h29.7M585 744.9h31.7M410.9 742.3h29.7M587.4 742.3h31.7M415.2 739.7h29.7M589.8 739.7h31.7M419.8 737.1h25.8M594.3 737.1h29.7M432.7 734.5h11.9M603.2 734.5h23.8M429.4 731.9h15.9M600 731.9h29.7M432.4 729.3h29.7M602.9 729.3h29.7M443 726.6h21.8M607.6 726.6h27.8M442.9 724h25.8M609.5 724h27.8M446.1 721.4h4M614.7 721.4h25.8M449.1 718.8h27.8M617.6 718.8h25.8M454.7 716.2h25.8M621.3 716.2h25.8M458 713.6h25.8M626.5 713.6h23.8M461 711h25.8M629.6 711h23.8M463.2 708.4h27.8M633.8 708.4h21.8M466.7 705.7h25.8M639.2 705.7h19.8M468.7 703.1h27.8M643.2 703.1h19.8M472.2 700.5h25.8M648.7 700.5h17.8M475.1 697.9h25.8M653.6 697.9h15.9M477.1 695.3h27.8M657.6 695.3h15.9M480.1 692.7h27.8M662.5 692.7h15.9M482.9 690.1h27.8M665.4 690.1h15.9M485.4 687.4h27.8M669.8 687.4h13.9M487.3 684.8h27.8M673.7 684.8h13.9M490.1 682.2h27.8M678.5 682.2h13.9M492.9 679.6h27.8M681.3 679.6h12.1M496.4 677h27.8M686.7 677h6.7M498.5 674.4h2M510.4 674.4h15.9M690.8 674.4h2.6M501.3 671.8h0M511.2 671.8h17.8M693.4 671.8h0M511.3 669.2h19.8M510.2 666.5h23.8M507.6 663.9h27.8M509.4 661.3h29.7M512.4 658.7h27.8M513.4 656.1h29.7M516.8 653.5h27.8M517.3 650.9h29.7M531.7 648.3h17.8M532 645.6h21.8M533.5 643h21.8M533.6 640.4h23.8M530.9 637.8h29.7M532.7 635.2h29.7M535.3 632.6h29.7M537.7 630h29.7M540.1 627.3h31.7M542.3 624.7h31.7M546.1 622.1h29.7M548.7 619.5h31.7M552.9 616.9h29.7M555.9 614.3h29.7M560.5 611.7h29.7M565.8 609.1h27.8M572 606.4h0M579.9 606.4h5.9M593.8 606.4h5.9M329.1 1023.3h13.9M473 581.9h13.9M285.2 802.6h13.9M602.5 802.6h13.9M272.1 876.2h7.9M458.5 876.2h11.9"/>
<path stroke="#4c98a0" d="M159.8 998.8h2M328.4 998.8h9.9M161.6 996.2h2M330.1 996.2h15.9M163.4 993.5h2M330 993.5h15.9M166.9 990.9h2M331.5 990.9h15.9M171.1 988.3h2M333.7 988.3h13.9M175.2 985.7h2M333.9 985.7h13.9M180.2 983.1h2M334.9 983.1h13.9M183 980.5h2M335.7 980.5h13.9M187.1 977.9h2M337.9 977.9h13.9M190.5 975.3h2M339.2 975.3h13.9M194.6 972.7h4M341.3 972.7h13.9M200.2 970.1h4M342.9 970.1h13.9M204.4 967.5h4M345.2 967.5h13.9M208.6 964.9h5.9M347.4 964.9h11.9M213.9 962.3h4M348.7 962.3h13.9M216.1 959.7h5.9M351 959.7h11.9M220.2 957h5.9M353 957h11.9M222.4 954.4h5.9M355.3 954.4h13.9M225 951.8h4M359.9 951.8h11.9M226.1 949.2h5.9M362.9 949.2h11.9M228.9 946.6h4M365.7 946.6h13.9M229.1 944h5.9M369.9 944h11.9M232.6 941.4h4M371.4 941.4h13.9M234.5 938.8h5.9M375.3 938.8h13.9M235.5 936.2h5.9M378.3 936.2h13.9M238.2 933.6h5.9M382.9 933.6h11.9M239 931h7.9M385.7 931h11.9M241.5 928.4h7.9M388.3 928.4h13.9M244.8 925.8h5.9M391.5 925.8h13.9M246.8 923.2h5.9M395.5 923.2h11.9M249.3 920.6h5.9M398 920.6h13.9M402.8 917.9h11.9M405.8 915.3h11.9M408.9 912.7h11.9M410 910.1h13.9M412.3 907.5h13.9M261.1 904.9h5.9M415.7 904.9h11.9M261.7 902.3h7.9M418.4 902.3h11.9M262.1 899.7h7.9M420.8 899.7h11.9M264.9 897.1h7.9M421.6 897.1h13.9M266.2 894.5h7.9M424.9 894.5h11.9M266.2 891.9h7.9M426.8 891.9h11.9M269.5 889.3h7.9M430.2 889.3h11.9M270.8 886.7h7.9M433.4 886.7h11.9M436.2 884.1h11.9M440.7 881.5h4M277.5 878.8h9.9M444.1 878.8h11.9M281 876.2h7.9M445.6 876.2h13.9M282.5 873.6h7.9M449.1 873.6h13.9M285.6 871h7.9M452.2 871h5.9M290.3 865.8h7.9M458.9 865.8h11.9M291.5 863.2h9.9M460.1 863.2h11.9M294.4 860.6h7.9M461 860.6h11.9M296.4 858h9.9M462.9 858h11.9M299 855.4h9.9M465.6 855.4h11.9M301.7 852.8h7.9M468.3 852.8h9.9M302.3 850.2h9.9M468.9 850.2h11.9M305.3 847.6h9.9M471.9 847.6h9.9M307.5 845h9.9M474.1 845h9.9M310.4 842.4h9.9M475 842.4h11.9M313.9 839.7h9.9M476.5 839.7h11.9M315.5 837.1h9.9M480.1 837.1h9.9M481.1 834.5h2M482.7 831.9h2M331.9 821.5h9.9M490.6 821.5h9.9M335.3 818.9h9.9M491.9 818.9h9.9M339.5 816.3h9.9M496.2 816.3h7.9M383.9 789.4h13.9M548.5 789.4h21.8M574.3 789.4h7.9M382.4 786.7h23.8M537.1 786.7h37.7M388.7 784.1h27.8M527.5 784.1h39.7M393.5 781.5h31.7M518.4 781.5h41.6M399.5 778.9h33.7M514.5 778.9h41.6M401.4 776.3h35.7M512.5 776.3h43.6M403.8 773.7h35.7M516.8 773.7h41.6M406.3 771.1h35.7M519.3 771.1h41.6M407.4 768.5h37.7M520.4 768.5h41.6M410.3 765.8h37.7M523.3 765.8h41.6M411.8 763.2h39.7M550.7 763.2h15.9M415 760.6h39.7M549.8 760.6h19.8M419.3 758h37.7M550.2 758h21.8M422.3 755.4h37.7M549.2 755.4h23.8M424.6 752.8h37.7M537.6 752.8h39.7M427.8 750.2h37.7M540.8 750.2h37.7M433.4 747.5h35.7M544.4 747.5h37.7M436.3 744.9h37.7M547.3 744.9h37.7M440.6 742.3h35.7M549.7 742.3h37.7M445 739.7h0M470.8 739.7h9.9M554.1 739.7h35.7M469.3 737.1h15.9M556.6 737.1h37.7M482.2 734.5h5.9M559.6 734.5h19.8M469.1 731.9h21.8M562.3 731.9h37.7M462.1 729.3h33.7M567.2 729.3h35.7M464.8 726.6h17.8M569.9 726.6h37.7M468.7 724h2M482.6 724h0M573.8 724h35.7M473.9 721.4h7.9M497.7 721.4h7.9M579 721.4h35.7M476.8 718.8h5.9M498.6 718.8h9.9M583.9 718.8h33.7M480.5 716.2h31.7M587.6 716.2h33.7M483.7 713.6h31.7M592.8 713.6h33.7M486.8 711h31.7M599.9 711h29.7M491 708.4h29.7M606 708.4h27.8M492.5 705.7h31.7M611.5 705.7h27.8M496.5 703.1h29.7M619.4 703.1h23.8M498 700.5h31.7M624.9 700.5h23.8M500.9 697.9h31.7M631.8 697.9h21.8M504.9 695.3h23.8M637.8 695.3h19.8M507.8 692.7h21.8M644.7 692.7h17.8M510.7 690.1h17.8M536.5 690.1h4M649.5 690.1h15.9M513.2 687.4h15.9M537 687.4h5.9M656 687.4h13.9M515.1 684.8h29.7M659.9 684.8h13.9M517.9 682.2h29.7M664.6 682.2h13.9M520.7 679.6h29.7M669.4 679.6h11.9M524.1 677h27.8M674.8 677h11.9M526.2 674.4h27.8M678.9 674.4h11.9M529.1 671.8h27.8M683.7 671.8h9.7M531.1 669.2h27.8M687.8 669.2h5.6M534 666.5h27.8M690.7 666.5h2.7M535.4 663.9h27.8M539.2 661.3h25.8M540.2 658.7h17.8M543.1 656.1h13.9M544.6 653.5h13.9M547 650.9h9.9M549.6 648.3h7.9M553.8 645.6h4M555.3 643h2M557.4 640.4h0M560.7 637.8h25.8M562.5 635.2h25.8M565.1 632.6h25.8M567.5 630h25.8M571.8 627.3h23.8M574 624.7h23.8M575.8 622.1h23.8M580.5 619.5h21.8M582.6 616.9h23.8M585.7 614.3h23.8M590.2 611.7h21.8M593.6 609.1h21.8M599.7 606.4h2M611.6 606.4h7.9M315.2 1023.3h13.9M486.9 581.9h15.9M299 802.6h19.8M582.6 802.6h19.8M280.1 876.2h9.9M446.6 876.2h11.9"/>
<path stroke="#4a929f" d="M161.8 998.8h2M310.6 998.8h4M322.5 998.8h0M163.6 996.2h2M312.3 996.2h17.8M165.4 993.5h2M312.1 993.5h17.8M168.9 990.9h2M313.7 990.9h17.8M173 988.3h2M315.8 988.3h17.8M177.2 985.7h2M316 985.7h17.8M319 983.1h15.9M185 980.5h2M319.8 980.5h15.9M189.1 977.9h2M322 977.9h15.9M192.4 975.3h4M323.3 975.3h15.9M198.6 972.7h4M325.5 972.7h15.9M204.1 970.1h4M327.1 970.1h15.9M208.3 967.5h5.9M329.3 967.5h15.9M214.5 964.9h5.9M331.5 964.9h15.9M217.8 962.3h5.9M334.8 962.3h13.9M222.1 959.7h5.9M337.1 959.7h13.9M226.1 957h4M339.2 957h13.9M228.3 954.4h4M341.4 954.4h13.9M229 951.8h5.9M344 951.8h15.9M232 949.2h5.9M349 949.2h13.9M232.8 946.6h5.9M351.8 946.6h13.9M235.1 944h5.9M354.1 944h15.9M236.6 941.4h7.9M357.6 941.4h13.9M240.4 938.8h5.9M361.4 938.8h13.9M241.5 936.2h5.9M364.4 936.2h13.9M244.1 933.6h5.9M367.1 933.6h15.9M246.9 931h5.9M369.9 931h15.9M249.4 928.4h5.9M374.4 928.4h13.9M250.7 925.8h7.9M377.7 925.8h13.9M252.7 923.2h7.9M379.6 923.2h15.9M255.2 920.6h7.9M384.1 920.6h13.9M263.9 917.9h2M386.9 917.9h15.9M265 915.3h2M390 915.3h15.9M264.1 912.7h5.9M393 912.7h15.9M265.3 910.1h5.9M396.1 910.1h13.9M265.6 907.5h7.9M398.4 907.5h13.9M267 904.9h7.9M399.9 904.9h15.9M269.6 902.3h7.9M402.5 902.3h15.9M270 899.7h9.9M404.9 899.7h15.9M272.8 897.1h7.9M407.7 897.1h13.9M274.2 894.5h7.9M411 894.5h13.9M274.1 891.9h9.9M412.9 891.9h13.9M277.5 889.3h7.9M416.3 889.3h13.9M278.7 886.7h9.9M419.5 886.7h13.9M422.3 884.1h13.9M426.8 881.5h13.9M287.4 878.8h7.9M430.2 878.8h13.9M288.9 876.2h9.9M431.7 876.2h13.9M290.4 873.6h9.9M435.2 873.6h13.9M293.5 871h9.9M438.3 871h13.9M442.9 868.4h0M298.2 865.8h9.9M445 865.8h13.9M301.4 863.2h9.9M446.2 863.2h13.9M302.3 860.6h11.9M449.1 860.6h11.9M306.3 858h9.9M451 858h11.9M308.9 855.4h9.9M451.7 855.4h13.9M309.6 852.8h11.9M454.4 852.8h13.9M312.2 850.2h11.9M457 850.2h11.9M315.3 847.6h9.9M458 847.6h13.9M317.4 845h11.9M460.2 845h13.9M320.3 842.4h11.9M463.1 842.4h11.9M323.8 839.7h9.9M464.6 839.7h11.9M325.4 837.1h11.9M468.2 837.1h11.9M469.2 834.5h11.9M470.8 831.9h11.9M473.2 829.3h9.9M475.5 826.7h7.9M476.7 824.1h7.9M341.9 821.5h11.9M480.7 821.5h9.9M345.2 818.9h11.9M482 818.9h9.9M349.4 816.3h2M484.3 816.3h4M397.8 789.4h2M409.7 789.4h5.9M512.8 789.4h4M522.8 789.4h21.8M406.2 786.7h29.7M495.5 786.7h41.6M416.5 784.1h33.7M479.9 784.1h47.6M425.2 781.5h93.2M433.2 778.9h81.3M437.1 776.3h75.4M439.5 773.7h77.3M442 771.1h77.3M445 768.5h75.4M448 765.8h75.4M451.5 763.2h71.4M454.6 760.6h69.4M457 758h67.4M460 755.4h63.5M462.3 752.8h75.4M465.5 750.2h75.4M469.1 747.5h75.4M473.9 744.9h73.4M476.3 742.3h73.4M480.7 739.7h55.5M550.1 739.7h4M485.2 737.1h51.6M550.7 737.1h5.9M488.2 734.5h7.9M517.9 734.5h17.8M549.7 734.5h9.9M490.9 731.9h45.6M550.4 731.9h11.9M495.8 729.3h71.4M498.5 726.6h43.6M558 726.6h11.9M502.4 724h13.9M530.2 724h11.9M557.9 724h15.9M505.6 721.4h35.7M557.2 721.4h21.8M508.6 718.8h33.7M558.1 718.8h25.8M512.2 716.2h75.4M515.5 713.6h77.3M518.6 711h15.9M566.1 711h0M588 711h11.9M520.7 708.4h13.9M588.2 708.4h17.8M524.2 705.7h9.9M587.7 705.7h23.8M526.2 703.1h7.9M587.7 703.1h31.7M529.7 700.5h5.9M587.2 700.5h37.7M532.6 697.9h99.2M536.6 695.3h27.8M592.2 695.3h45.6M537.6 692.7h27.8M612.9 692.7h31.7M540.4 690.1h25.8M625.7 690.1h23.8M542.9 687.4h21.8M634.1 687.4h21.8M544.8 684.8h27.8M642 684.8h17.8M547.6 682.2h25.8M650.7 682.2h13.9M550.4 679.6h23.8M655.6 679.6h13.9M551.9 677h23.8M662.9 677h11.9M554 674.4h23.8M667 674.4h11.9M556.8 671.8h21.8M671.8 671.8h11.9M558.9 669.2h21.8M677.9 669.2h9.9M561.8 666.5h19.8M680.8 666.5h9.9M563.1 663.9h19.8M686.1 663.9h7.3M565 661.3h19.8M689.9 661.3h3.5M573.9 658.7h11.9M693.4 658.7h0M574.8 656.1h11.9M574.3 653.5h13.9M574.8 650.9h15.9M591.2 648.3h2M591.5 645.6h2M591 643h4M591.2 640.4h5.9M586.4 637.8h13.9M588.3 635.2h13.9M590.9 632.6h11.9M593.2 630h11.9M595.6 627.3h11.9M597.8 624.7h11.9M599.6 622.1h11.9M602.3 619.5h11.9M606.4 616.9h11.9M609.5 614.3h9.9M612.1 611.7h9.9M615.4 609.1h9.9M619.6 606.4h5.9M301.3 1023.3h13.9M502.7 581.9h140.8M318.9 802.6h27.8M554.9 802.6h27.8M290 876.2h7.9M432.8 876.2h13.9"/>
<path stroke="#478c9e" d="M163.8 998.8h0M288.7 998.8h4M300.6 998.8h2M308.6 998.8h2M165.5 996.2h2M290.5 996.2h21.8M167.4 993.5h2M292.3 993.5h19.8M170.9 990.9h2M293.9 990.9h19.8M296 988.3h19.8M298.2 985.7h17.8M182.2 983.1h2M299.2 983.1h19.8M186.9 980.5h2M302 980.5h17.8M191.1 977.9h2M304.1 977.9h17.8M196.4 975.3h4M305.5 975.3h17.8M202.5 972.7h5.9M307.6 972.7h17.8M208.1 970.1h9.9M311.2 970.1h15.9M214.3 967.5h7.9M313.4 967.5h15.9M220.5 964.9h5.9M315.7 964.9h15.9M223.8 962.3h5.9M317 962.3h17.8M228 959.7h5.9M319.3 959.7h17.8M230.1 957h5.9M321.3 957h17.8M232.3 954.4h7.9M325.5 954.4h15.9M234.9 951.8h5.9M328.1 951.8h15.9M238 949.2h5.9M331.2 949.2h17.8M238.8 946.6h7.9M334 946.6h17.8M241 944h7.9M338.2 944h15.9M244.5 941.4h5.9M341.7 941.4h15.9M246.4 938.8h5.9M343.6 938.8h17.8M247.4 936.2h7.9M348.6 936.2h15.9M250.1 933.6h7.9M351.2 933.6h15.9M252.9 931h7.9M354 931h15.9M255.4 928.4h7.9M356.5 928.4h17.8M258.7 925.8h7.9M359.8 925.8h17.8M260.6 923.2h7.9M363.8 923.2h15.9M263.1 920.6h7.9M366.3 920.6h17.8M265.9 917.9h7.9M371 917.9h15.9M267 915.3h9.9M374.1 915.3h15.9M270.1 912.7h7.9M377.2 912.7h15.9M271.2 910.1h9.9M378.3 910.1h17.8M273.5 907.5h9.9M382.6 907.5h15.9M274.9 904.9h9.9M384 904.9h15.9M277.6 902.3h7.9M386.6 902.3h15.9M280 899.7h7.9M389 899.7h15.9M280.7 897.1h9.9M391.8 897.1h15.9M282.1 894.5h9.9M395.1 894.5h15.9M284 891.9h9.9M397.1 891.9h15.9M285.4 889.3h11.9M400.4 889.3h15.9M288.6 886.7h9.9M403.6 886.7h15.9M295.4 884.1h5.9M406.4 884.1h15.9M410.9 881.5h15.9M295.3 878.8h11.9M414.3 878.8h15.9M298.9 876.2h9.9M415.9 876.2h15.9M300.3 873.6h11.9M419.3 873.6h15.9M303.5 871h11.9M422.4 871h15.9M312 868.4h5.9M427 868.4h15.9M308.2 865.8h11.9M429.1 865.8h15.9M311.3 863.2h11.9M430.3 863.2h15.9M314.2 860.6h11.9M433.2 860.6h15.9M316.2 858h11.9M435.2 858h15.9M318.8 855.4h11.9M437.8 855.4h13.9M321.5 852.8h11.9M440.5 852.8h13.9M324.1 850.2h11.9M443.1 850.2h13.9M325.2 847.6h13.9M444.2 847.6h13.9M329.3 845h11.9M446.3 845h13.9M332.2 842.4h11.9M449.2 842.4h13.9M333.7 839.7h13.9M450.7 839.7h13.9M337.3 837.1h11.9M454.3 837.1h13.9M455.3 834.5h13.9M458.9 831.9h11.9M356.2 829.3h2M461.3 829.3h11.9M356.5 826.7h4M463.6 826.7h11.9M355.8 824.1h7.9M464.9 824.1h11.9M353.8 821.5h13.9M466.8 821.5h13.9M357.1 818.9h11.9M470.1 818.9h11.9M363.3 816.3h9.9M472.4 816.3h11.9M425.6 789.4h21.8M459.3 789.4h4M469.2 789.4h21.8M497 789.4h5.9M436 786.7h59.5M450.2 784.1h29.7M580.3 695.3h11.9M581.2 692.7h31.7M580.1 690.1h45.6M580.6 687.4h53.5M572.6 684.8h69.4M573.4 682.2h77.3M574.2 679.6h33.7M633.7 679.6h21.8M575.7 677h25.8M645.1 677h17.8M577.8 674.4h19.8M653.2 674.4h13.9M578.6 671.8h17.8M659.9 671.8h11.9M580.7 669.2h15.9M666 669.2h11.9M581.6 666.5h13.9M670.9 666.5h9.9M583 663.9h13.9M676.2 663.9h9.9M584.8 661.3h11.9M682 661.3h7.9M585.8 658.7h11.9M684.9 658.7h8.5M586.7 656.1h11.9M689.9 656.1h3.5M588.2 653.5h11.9M693.4 653.5h0M590.6 650.9h9.9M593.2 648.3h7.9M593.5 645.6h9.9M595 643h7.9M597.1 640.4h7.9M600.3 637.8h5.9M602.2 635.2h5.9M602.8 632.6h7.9M605.1 630h5.9M607.5 627.3h5.9M609.7 624.7h5.9M611.5 622.1h5.9M614.2 619.5h5.9M618.3 616.9h4M619.4 614.3h5.9M622 611.7h5.9M625.3 609.1h5.9M287.4 1023.3h13.9M643.5 581.9h4M346.6 802.6h63.5M491.4 802.6h63.5M297.9 876.2h11.9M416.9 876.2h15.9"/>
<path stroke="#45869d" d="M264.9 998.8h13.9M286.8 998.8h2M268.7 996.2h21.8M169.4 993.5h2M270.5 993.5h21.8M272 990.9h21.8M175 988.3h2M274.2 988.3h21.8M179.2 985.7h2M276.4 985.7h21.8M184.1 983.1h2M277.3 983.1h21.8M188.9 980.5h2M280.1 980.5h21.8M193.1 977.9h4M282.3 977.9h21.8M200.4 975.3h19.8M285.6 975.3h19.8M208.5 972.7h15.9M287.8 972.7h19.8M218 970.1h9.9M291.4 970.1h19.8M222.2 967.5h7.9M293.6 967.5h19.8M226.4 964.9h7.9M295.8 964.9h19.8M229.7 962.3h7.9M299.2 962.3h17.8M234 959.7h5.9M301.4 959.7h17.8M236 957h7.9M303.5 957h17.8M240.2 954.4h5.9M305.7 954.4h19.8M240.9 951.8h7.9M310.3 951.8h17.8M243.9 949.2h7.9M313.3 949.2h17.8M246.7 946.6h7.9M316.1 946.6h17.8M249 944h7.9M320.3 944h17.8M250.5 941.4h7.9M321.9 941.4h19.8M252.3 938.8h7.9M325.7 938.8h17.8M255.3 936.2h7.9M328.7 936.2h19.8M258 933.6h7.9M331.4 933.6h19.8M260.8 931h7.9M336.2 931h17.8M263.3 928.4h7.9M338.7 928.4h17.8M266.6 925.8h7.9M342 925.8h17.8M268.6 923.2h7.9M345.9 923.2h17.8M271.1 920.6h7.9M348.4 920.6h17.8M273.9 917.9h7.9M351.2 917.9h19.8M276.9 915.3h7.9M354.3 915.3h19.8M278 912.7h9.9M357.3 912.7h19.8M281.1 910.1h9.9M360.4 910.1h17.8M283.4 907.5h9.9M362.7 907.5h19.8M284.9 904.9h9.9M366.2 904.9h17.8M285.5 902.3h11.9M368.8 902.3h17.8M287.9 899.7h11.9M371.2 899.7h17.8M290.7 897.1h9.9M374 897.1h17.8M292 894.5h11.9M377.3 894.5h17.8M293.9 891.9h11.9M379.2 891.9h17.8M297.3 889.3h11.9M382.6 889.3h17.8M298.5 886.7h11.9M385.8 886.7h17.8M301.3 884.1h11.9M388.6 884.1h17.8M307.8 881.5h7.9M393.1 881.5h17.8M307.2 878.8h11.9M396.5 878.8h17.8M308.8 876.2h13.9M398 876.2h17.8M312.2 873.6h11.9M401.5 873.6h17.8M315.4 871h11.9M404.6 871h17.8M317.9 868.4h11.9M409.1 868.4h17.8M320.1 865.8h13.9M411.3 865.8h17.8M323.2 863.2h11.9M412.5 863.2h17.8M326.1 860.6h11.9M415.4 860.6h17.8M328.1 858h13.9M417.3 858h17.8M330.7 855.4h13.9M420 855.4h17.8M333.4 852.8h13.9M422.7 852.8h17.8M336 850.2h13.9M425.2 850.2h17.8M339.1 847.6h13.9M428.3 847.6h15.9M341.2 845h13.9M430.4 845h15.9M344.1 842.4h13.9M433.3 842.4h15.9M347.6 839.7h13.9M436.8 839.7h13.9M349.2 837.1h13.9M438.4 837.1h15.9M356.1 834.5h9.9M441.4 834.5h13.9M355.8 831.9h13.9M443.1 831.9h15.9M358.2 829.3h13.9M445.5 829.3h15.9M360.4 826.7h15.9M447.7 826.7h15.9M363.7 824.1h13.9M451 824.1h13.9M367.6 821.5h13.9M452.9 821.5h13.9M369 818.9h15.9M456.3 818.9h13.9M373.2 816.3h0M381.2 816.3h5.9M458.5 816.3h2M466.4 816.3h5.9M455.3 789.4h4M608 679.6h25.8M601.5 677h43.6M597.6 674.4h55.5M596.5 671.8h63.5M596.6 669.2h23.8M650.1 669.2h15.9M595.5 666.5h17.8M659 666.5h11.9M596.9 663.9h13.9M666.3 663.9h9.9M596.7 661.3h11.9M672 661.3h9.9M597.7 658.7h9.9M677 658.7h7.9M598.6 656.1h7.9M681.9 656.1h7.9M600.1 653.5h7.9M685.4 653.5h8M600.5 650.9h5.9M689.8 650.9h3.6M601.1 648.3h5.9M693.4 648.3h0M603.4 645.6h4M602.9 643h5.9M605 640.4h5.9M606.3 637.8h5.9M608.1 635.2h4M610.7 632.6h4M611.1 630h5.9M613.4 627.3h4M615.7 624.7h4M617.5 622.1h4M620.1 619.5h4M622.3 616.9h4M625.3 614.3h4M627.9 611.7h4M631.3 609.1h4M275.5 1023.3h11.9M647.5 581.9h2M410.1 802.6h81.3M309.8 876.2h11.9M399.1 876.2h17.8"/>
<path stroke="#44809c" d="M249.1 998.8h4M261 998.8h4M167.5 996.2h2M238.9 996.2h29.7M240.7 993.5h29.7M172.9 990.9h2M244.3 990.9h27.8M177 988.3h2M244.4 988.3h29.7M181.2 985.7h2M210.9 985.7h4M246.6 985.7h29.7M186.1 983.1h2M209.9 983.1h11.9M249.6 983.1h27.8M190.9 980.5h2M208.8 980.5h15.9M252.4 980.5h27.8M197.1 977.9h29.7M254.6 977.9h27.8M220.2 975.3h9.9M257.9 975.3h27.8M224.3 972.7h7.9M260 972.7h27.8M227.9 970.1h7.9M263.6 970.1h27.8M230.2 967.5h9.9M265.8 967.5h27.8M234.4 964.9h7.9M270.1 964.9h25.8M237.7 962.3h7.9M271.4 962.3h27.8M239.9 959.7h7.9M275.6 959.7h25.8M244 957h7.9M277.7 957h25.8M246.2 954.4h7.9M281.9 954.4h23.8M248.8 951.8h7.9M284.5 951.8h25.8M251.8 949.2h7.9M287.5 949.2h25.8M254.6 946.6h7.9M292.3 946.6h23.8M256.9 944h7.9M294.6 944h25.8M258.4 941.4h9.9M298.1 941.4h23.8M260.3 938.8h9.9M301.9 938.8h23.8M263.3 936.2h9.9M304.9 936.2h23.8M265.9 933.6h9.9M309.5 933.6h21.8M268.7 931h9.9M312.4 931h23.8M271.2 928.4h9.9M314.9 928.4h23.8M274.5 925.8h9.9M318.2 925.8h23.8M276.5 923.2h11.9M322.1 923.2h23.8M279 920.6h11.9M324.6 920.6h23.8M281.8 917.9h11.9M327.4 917.9h23.8M284.9 915.3h11.9M332.5 915.3h21.8M287.9 912.7h11.9M335.5 912.7h21.8M291 910.1h9.9M338.6 910.1h21.8M293.3 907.5h9.9M340.9 907.5h21.8M294.8 904.9h11.9M344.4 904.9h21.8M297.4 902.3h11.9M347 902.3h21.8M299.8 899.7h11.9M349.4 899.7h21.8M300.6 897.1h13.9M354.1 897.1h19.8M303.9 894.5h11.9M355.5 894.5h21.8M305.8 891.9h13.9M359.4 891.9h19.8M309.2 889.3h13.9M362.7 889.3h19.8M310.4 886.7h13.9M366 886.7h19.8M313.2 884.1h13.9M368.8 884.1h19.8M315.7 881.5h15.9M371.3 881.5h21.8M319.1 878.8h13.9M374.6 878.8h21.8M322.7 876.2h13.9M378.2 876.2h19.8M324.1 873.6h15.9M381.6 873.6h19.8M327.3 871h15.9M384.8 871h19.8M329.8 868.4h15.9M387.3 868.4h21.8M333.9 865.8h13.9M389.5 865.8h21.8M335.1 863.2h15.9M392.6 863.2h19.8M338 860.6h15.9M395.5 860.6h19.8M342 858h13.9M399.5 858h17.8M344.6 855.4h15.9M402.1 855.4h17.8M347.3 852.8h15.9M404.8 852.8h17.8M349.9 850.2h15.9M407.4 850.2h17.8M352.9 847.6h15.9M410.4 847.6h17.8M355.1 845h15.9M412.6 845h17.8M358 842.4h15.9M415.5 842.4h17.8M361.5 839.7h15.9M419 839.7h17.8M363.1 837.1h17.8M420.6 837.1h17.8M366 834.5h17.8M423.6 834.5h17.8M369.7 831.9h15.9M427.2 831.9h15.9M372.1 829.3h17.8M429.6 829.3h15.9M376.3 826.7h15.9M431.8 826.7h15.9M377.6 824.1h17.8M435.1 824.1h15.9M381.5 821.5h15.9M437 821.5h15.9M384.9 818.9h15.9M440.4 818.9h15.9M387.1 816.3h17.8M442.6 816.3h9.9M620.4 669.2h29.7M613.4 666.5h45.6M610.7 663.9h55.5M608.6 661.3h21.8M656.2 661.3h15.9M607.6 658.7h13.9M665.1 658.7h11.9M606.6 656.1h9.9M670 656.1h11.9M608 653.5h5.9M675.5 653.5h9.9M606.5 650.9h7.9M681.9 650.9h7.9M607.1 648.3h5.9M686.4 648.3h7M607.3 645.6h5.9M690.6 645.6h2.8M608.9 643h4M693.4 643h0M611 640.4h4M612.2 637.8h2M612.1 635.2h4M614.7 632.6h2M617 630h2M617.4 627.3h4M619.6 624.7h4M621.5 622.1h4M624.1 619.5h4M626.2 616.9h4M629.3 614.3h2M631.9 611.7h2M635.2 609.1h2M637.4 606.4h2M261.7 1023.3h13.9M649.5 581.9h2M321.7 876.2h13.9M377.2 876.2h21.8"/>
<path stroke="#427a9b" d="M195.5 998.8h13.9M225.3 998.8h4M169.5 996.2h2M199.3 996.2h39.7M171.3 993.5h2M203.1 993.5h37.7M204.6 990.9h39.7M204.8 988.3h39.7M205 985.7h5.9M214.9 985.7h31.7M204 983.1h5.9M221.8 983.1h27.8M192.9 980.5h4M202.8 980.5h5.9M224.6 980.5h27.8M226.8 977.9h27.8M230.1 975.3h27.8M232.3 972.7h27.8M235.9 970.1h27.8M240.1 967.5h25.8M242.3 964.9h27.8M245.6 962.3h25.8M247.9 959.7h27.8M251.9 957h25.8M254.1 954.4h27.8M256.7 951.8h27.8M259.8 949.2h27.8M262.6 946.6h29.7M264.8 944h29.7M268.3 941.4h29.7M270.2 938.8h31.7M273.2 936.2h31.7M275.8 933.6h33.7M278.6 931h33.7M281.2 928.4h33.7M284.5 925.8h33.7M288.4 923.2h33.7M290.9 920.6h33.7M293.7 917.9h33.7M296.8 915.3h35.7M299.8 912.7h35.7M301 910.1h37.7M303.3 907.5h37.7M306.7 904.9h37.7M309.3 902.3h37.7M311.7 899.7h37.7M314.5 897.1h39.7M315.8 894.5h39.7M319.7 891.9h39.7M323.1 889.3h39.7M324.3 886.7h41.6M327.1 884.1h41.6M331.6 881.5h39.7M333 878.8h41.6M336.5 876.2h41.6M340 873.6h41.6M343.1 871h41.6M345.7 868.4h41.6M347.8 865.8h41.6M351 863.2h41.6M353.9 860.6h41.6M355.9 858h43.6M360.5 855.4h41.6M363.2 852.8h41.6M365.7 850.2h41.6M368.8 847.6h41.6M371 845h41.6M373.8 842.4h41.6M377.3 839.7h41.6M380.9 837.1h39.7M383.9 834.5h39.7M385.5 831.9h41.6M389.9 829.3h39.7M392.2 826.7h39.7M395.4 824.1h39.7M397.4 821.5h39.7M400.7 818.9h39.7M404.9 816.3h2M426.8 816.3h15.9M630.4 661.3h25.8M621.5 658.7h43.6M616.5 656.1h53.5M614 653.5h15.9M661.6 653.5h13.9M614.4 650.9h5.9M670 650.9h11.9M613 648.3h5.9M676.5 648.3h9.9M613.3 645.6h4M680.7 645.6h9.9M612.8 643h4M686.2 643h7.2M615 640.4h2M688.3 640.4h5.1M614.2 637.8h4M693.4 637.8h0M616 635.2h4M616.6 632.6h4M619 630h2M621.4 627.3h2M623.6 624.7h2M625.4 622.1h2M628 619.5h2M630.2 616.9h2M631.3 614.3h4M633.9 611.7h4M637.2 609.1h2M245.8 1023.3h15.9M651.5 581.9h2M335.6 876.2h41.6"/>
<path stroke="#40749a" d="M191.6 998.8h4M195.3 996.2h4M199.1 993.5h4M174.9 990.9h2M200.6 990.9h4M179 988.3h2M200.8 988.3h4M183.2 985.7h2M203 985.7h2M188.1 983.1h4M200 983.1h4M196.9 980.5h5.9M629.9 653.5h31.7M620.4 650.9h49.6M619 648.3h9.9M648.7 648.3h27.8M617.3 645.6h5.9M666.8 645.6h13.9M616.8 643h4M674.3 643h11.9M616.9 640.4h4M678.4 640.4h9.9M618.2 637.8h4M683.6 637.8h9.8M620 635.2h2M687.4 635.2h6M620.6 632.6h2M690 632.6h3.4M621 630h4M693.4 630h0M623.3 627.3h2M625.6 624.7h2M627.4 622.1h2M630 619.5h2M632.2 616.9h2M637.8 611.7h2M639.2 609.1h2M231.9 1023.3h13.9M653.5 581.9h4"/>
<path stroke="#3f6e99" d="M189.6 998.8h2M171.5 996.2h2M193.3 996.2h2M173.3 993.5h2M197.1 993.5h2M176.8 990.9h2M198.7 990.9h2M181 988.3h2M198.8 988.3h2M185.1 985.7h2M199 985.7h4M192.1 983.1h7.9M628.9 648.3h19.8M623.2 645.6h43.6M620.8 643h5.9M650.5 643h23.8M620.9 640.4h4M660.6 640.4h17.8M622.1 637.8h2M667.7 637.8h15.9M622 635.2h2M673.5 635.2h13.9M622.6 632.6h2M680.1 632.6h9.9M625 630h2M682.5 630h10.9M625.3 627.3h2M686.8 627.3h6.6M627.5 624.7h2M689 624.7h4.4M629.4 622.1h2M690.9 622.1h2.5M632 619.5h2M693.4 619.5h0M634.2 616.9h2M635.3 614.3h2M641.2 609.1h2M645.3 606.4h2M214.1 1023.3h17.8M657.4 581.9h2"/>
<path stroke="#3f6897" d="M187.6 998.8h2M173.5 996.2h2M191.3 996.2h2M175.3 993.5h2M195.1 993.5h2M196.7 990.9h2M196.8 988.3h2M187.1 985.7h2M197 985.7h2M626.7 643h23.8M624.9 640.4h4M648.7 640.4h11.9M624.1 637.8h4M655.8 637.8h11.9M624 635.2h4M663.6 635.2h9.9M624.6 632.6h2M668.2 632.6h11.9M627 630h2M672.6 630h9.9M627.3 627.3h2M676.9 627.3h9.9M629.5 624.7h2M681.1 624.7h7.9M631.4 622.1h2M682.9 622.1h7.9M685.6 619.5h7.8M687.7 616.9h5.7M637.2 614.3h2M690.8 614.3h2.6M639.8 611.7h2M691.4 611.7h2M643.2 609.1h2M693.4 609.1h0M194.2 1023.3h19.8"/>
<path stroke="#3e6196" d="M185.6 998.8h2M189.3 996.2h2M193.2 993.5h2M178.8 990.9h2M194.7 990.9h2M183 988.3h2M194.9 988.3h2M189.1 985.7h7.9M628.8 640.4h19.8M628.1 637.8h2M649.9 637.8h5.9M627.9 635.2h2M655.7 635.2h7.9M626.6 632.6h4M662.3 632.6h5.9M628.9 630h2M666.6 630h5.9M629.3 627.3h2M670.9 627.3h5.9M631.5 624.7h2M675.1 624.7h5.9M633.3 622.1h2M679 622.1h4M634 619.5h2M681.6 619.5h4M636.2 616.9h2M683.7 616.9h4M639.2 614.3h2M686.8 614.3h4M641.8 611.7h2M689.4 611.7h2M645.1 609.1h2M690.7 609.1h2.7M647.3 606.4h2M693.4 606.4h0M170.4 1023.3h23.8M659.4 581.9h2"/>
<path stroke="#3e5a94" d="M177.7 998.8h7.9M175.5 996.2h2M187.4 996.2h2M177.3 993.5h2M191.2 993.5h2M180.8 990.9h2M192.7 990.9h2M184.9 988.3h4M190.9 988.3h4M630.1 637.8h7.9M640 637.8h9.9M629.9 635.2h2M651.7 635.2h4M630.5 632.6h2M658.3 632.6h4M630.9 630h2M662.6 630h4M631.3 627.3h2M667 627.3h4M671.2 624.7h4M675 622.1h4M636 619.5h2M677.6 619.5h4M638.1 616.9h2M679.8 616.9h4M641.2 614.3h2M682.9 614.3h4M643.8 611.7h2M685.4 611.7h4M686.8 609.1h4M649.3 606.4h2M689 606.4h4.4M126.8 1023.3h43.6M661.4 581.9h2"/>
<path stroke="#3e5492" d="M177.4 996.2h9.9M179.3 993.5h2M187.2 993.5h4M182.8 990.9h2M188.7 990.9h4M188.9 988.3h2M638 637.8h2M631.9 635.2h5.9M645.8 635.2h5.9M632.5 632.6h2M654.3 632.6h4M632.9 630h2M658.7 630h4M633.3 627.3h2M665 627.3h2M633.5 624.7h2M669.2 624.7h2M635.3 622.1h2M671 622.1h4M638 619.5h2M675.6 619.5h2M640.1 616.9h2M677.8 616.9h2M680.9 614.3h2M683.4 611.7h2M647.1 609.1h2M684.8 609.1h2M651.3 606.4h2M687 606.4h2M663.4 581.9h2"/>
<path stroke="#404c8a" d="M181.3 993.5h5.9M184.8 990.9h4M637.8 635.2h7.9M634.5 632.6h4M648.4 632.6h5.9M634.9 630h2M656.7 630h2M635.2 627.3h2M661 627.3h4M635.5 624.7h2M665.2 624.7h4M637.3 622.1h2M669 622.1h2M673.7 619.5h2M675.8 616.9h2M643.2 614.3h2M678.9 614.3h2M645.8 611.7h2M681.5 611.7h2M649.1 609.1h2M682.8 609.1h2M665.4 581.9h2"/>
<path stroke="#424482" d="M638.5 632.6h9.9M636.9 630h2M652.7 630h4M637.2 627.3h2M659 627.3h2M637.5 624.7h2M663.2 624.7h2M639.3 622.1h2M667.1 622.1h2M639.9 619.5h2M671.7 619.5h2M642.1 616.9h2M673.8 616.9h2M645.2 614.3h2M676.9 614.3h2M647.8 611.7h2M679.5 611.7h2M651.1 609.1h2M680.8 609.1h2M653.3 606.4h2M667.3 581.9h2"/>
<path stroke="#413d74" d="M638.8 630h5.9M646.8 630h5.9M639.2 627.3h2M655.1 627.3h4M639.4 624.7h2M661.3 624.7h2M665.1 622.1h2M641.9 619.5h2M669.7 619.5h2M644.1 616.9h2M671.9 616.9h2M674.9 614.3h2M677.5 611.7h2M678.8 609.1h2M655.3 606.4h2M669.3 581.9h2"/>
<path stroke="#403665" d="M644.8 630h2M641.2 627.3h4M651.1 627.3h4M641.4 624.7h2M659.3 624.7h2M641.3 622.1h2M663.1 622.1h2M643.9 619.5h2M667.7 619.5h2M669.9 616.9h2M647.2 614.3h2M672.9 614.3h2M649.7 611.7h2M675.5 611.7h2M653.1 609.1h2M676.9 609.1h2M657.2 606.4h2M671.3 581.9h4"/>
<path stroke="#3a2f56" d="M645.2 627.3h5.9M643.4 624.7h2M655.3 624.7h4M643.3 622.1h2M661.1 622.1h2M665.7 619.5h2M646.1 616.9h2M667.9 616.9h2M649.1 614.3h2M671 614.3h2M651.7 611.7h2M673.5 611.7h2M655 609.1h2M674.9 609.1h2M659.2 606.4h0M675.3 581.9h2"/>
<path stroke="#352848" d="M645.4 624.7h9.9M645.2 622.1h4M657.1 622.1h4M645.9 619.5h2M661.8 619.5h4M648.1 616.9h2M665.9 616.9h2M651.1 614.3h2M669 614.3h2M653.7 611.7h2M671.5 611.7h2M657 609.1h2M672.9 609.1h2M675.1 606.4h0M677.3 581.9h2"/>
<path stroke="#2e213a" d="M649.2 622.1h7.9M647.9 619.5h4M659.8 619.5h2M650 616.9h2M663.9 616.9h2M653.1 614.3h2M667 614.3h2M655.7 611.7h2M669.6 611.7h2M659 609.1h2M670.9 609.1h2M671.1 606.4h4M679.2 581.9h4"/>
<path stroke="#281a2c" d="M651.8 619.5h7.9M652 616.9h11.9M655.1 614.3h11.9M657.7 611.7h11.9M661 609.1h9.9M667.2 606.4h4M683.2 581.9h10.2"/>
</g>
<path d="M240.1 581.9V1023.3M126.8 935H693.4M353.4 581.9V1023.3M126.8 846.7H693.4M466.8 581.9V1023.3M126.8 758.5H693.4M580.1 581.9V1023.3M126.8 670.2H693.4" stroke="#b0b0b0" stroke-width="1.55" fill="none"/>
<path d="M126.8 1063L693.4 590.7" stroke="#000" stroke-width="3.3" fill="none"/>
<path d="M126.8 1023.3L693.4 581.9" stroke="#000" stroke-width="3.3" stroke-dasharray="3.2 5.1" fill="none"/>
</g>
<rect x="126.8" y="581.9" width="566.6" height="441.4" fill="none" stroke="#000" stroke-width="1.5"/>
<path d="M126.8 1023.3v7.3M126.8 1023.3h-7.3M240.1 1023.3v7.3M126.8 935h-7.3M353.4 1023.3v7.3M126.8 846.7h-7.3M466.8 1023.3v7.3M126.8 758.5h-7.3M580.1 1023.3v7.3M126.8 670.2h-7.3M693.4 1023.3v7.3M126.8 581.9h-7.3" stroke="#000" stroke-width="1.67" fill="none"/>
<text x="118.2" y="1056.3" font-size="31" textLength="17.1" lengthAdjust="spacingAndGlyphs">0</text>
<text x="97.5" y="1034.2" font-size="31" textLength="17.1" lengthAdjust="spacingAndGlyphs">0</text>
<text x="222" y="1056.3" font-size="31" textLength="35.9" lengthAdjust="spacingAndGlyphs">20</text>
<text x="78.7" y="945.9" font-size="31" textLength="35.9" lengthAdjust="spacingAndGlyphs">20</text>
<text x="335.8" y="1056.3" font-size="31" textLength="35.8" lengthAdjust="spacingAndGlyphs">40</text>
<text x="78.9" y="857.6" font-size="31" textLength="35.8" lengthAdjust="spacingAndGlyphs">40</text>
<text x="448.6" y="1056.3" font-size="31" textLength="36" lengthAdjust="spacingAndGlyphs">60</text>
<text x="78.6" y="769.4" font-size="31" textLength="36" lengthAdjust="spacingAndGlyphs">60</text>
<text x="562.1" y="1056.3" font-size="31" textLength="35.8" lengthAdjust="spacingAndGlyphs">80</text>
<text x="78.8" y="681.1" font-size="31" textLength="35.8" lengthAdjust="spacingAndGlyphs">80</text>
<text x="665.6" y="1056.3" font-size="31" textLength="54.3" lengthAdjust="spacingAndGlyphs">100</text>
<text x="60.4" y="592.8" font-size="31" textLength="54.3" lengthAdjust="spacingAndGlyphs">100</text>
<rect x="141.5" y="596.3" width="240.7" height="140.8" rx="5.5" fill="#fff" fill-opacity="0.8" stroke="#ccc" stroke-opacity="0.8" stroke-width="1.67"/>
<path d="M152.1 620.9h63.4" stroke="#000" stroke-width="3.3"/>
<path d="M153.7 664.5h60" stroke="#000" stroke-width="3.3" stroke-dasharray="3.2 5.1"/>
<circle cx="183.6" cy="711.3" r="10.7" fill="#fdfecc" stroke="#3b84a0" stroke-width="1.6"/>
<text x="237.8" y="631.6" font-size="31" textLength="131.8" lengthAdjust="spacingAndGlyphs">R = 0.97</text>
<text x="238.4" y="675.6" font-size="31" textLength="111.9" lengthAdjust="spacingAndGlyphs">1:1 line</text>
<text x="238.2" y="719.5" font-size="31" textLength="75.6" lengthAdjust="spacingAndGlyphs">2004</text>
<text x="36.5" y="563" font-size="30.5" font-weight="bold">C</text>
</g>
<g id="panelD">
<g clip-path="url(#cD)">
<g fill="none" stroke-width="10" stroke-linecap="round">
<path stroke="#e8f6c0" d="M828.7 843.5h0M918.6 729h0"/>
<path stroke="#def2bb" d="M846.1 827.1h0M856.9 827.1h0M978.7 729h0"/>
<path stroke="#d4eeb5" d="M840.4 876.2h0M869.9 810.8h0M895 810.8h0M929 761.7h0M982 729h0M980.9 696.4h0M995.9 663.6h0M1012.7 647.3h0M923.8 827.1h0M823.2 810.8h0M1005.7 745.4h0M832.2 876.2h0M1026.9 663.6h0M997.3 680h0"/>
<path stroke="#c8eab2" d="M1359.4 990.6h0M866.1 843.5h0M856.4 843.5h0M848.7 827.1h0M896.8 794.4h0M999.8 663.6h0M872.4 859.8h0M970.5 761.7h0M942.4 794.4h0"/>
<path stroke="#bce6ae" d="M1331.2 1007h0M1321.4 1007h0M1295.7 974.3h0M1350.2 974.3h0M972.5 745.4h0M1013 680h0M1026.6 663.6h0M1028.3 647.3h0M1117.9 598.2h0M977.9 794.4h0M886.5 908.8h0M1007.6 581.9h0M1047.3 581.9h0M1070 581.9h0M1087 581.9h0M1098.3 581.9h0M1115.4 581.9h0M1126.7 581.9h0M1140.9 581.9h0"/>
<path stroke="#b1e2aa" d="M1250.4 1007h0M1267 990.6h0M1328.8 957.9h0M1298.4 957.9h0M1356.5 925.2h0M1355.3 925.2h0M967.3 761.7h0M1002.4 729h0M996 827.1h0M838.5 941.6h0M1032.3 810.8h0M1046 778.1h0M959.1 843.5h0"/>
<path stroke="#a5dea7" d="M1228.1 1007h0M1225 990.6h0M1267.5 974.3h0M1297.8 974.3h0M1249.1 974.3h0M1326.5 957.9h0M1292.8 957.9h0M1326.2 941.6h0M1350 925.2h0M1363.4 925.2h0M1370.4 908.8h0M900.6 843.5h0M939.3 778.1h0M959.6 761.7h0M1012.1 712.7h0M1014.2 712.7h0"/>
<path stroke="#9adaa6" d="M1198 1007h0M1237.3 990.6h0M1205.8 990.6h0M1316.7 957.9h0M1274.8 941.6h0M1307.1 925.2h0M1320.7 925.2h0M1299.6 908.8h0M1348.8 859.8h0M904.8 843.5h0M918.8 827.1h0M973.3 761.7h4M1047.9 663.6h0M1084.5 630.9h0"/>
<path stroke="#8ed5a5" d="M1192.9 1007h0M1187.3 1007h0M1232.8 974.3h0M1228 957.9h0M1242.2 957.9h0M1229.8 957.9h0M1291.5 925.2h0M1302.6 925.2h0M1305 908.8h0M1325.9 892.5h0M1303.6 892.5h0M1353.9 876.2h0M1362.2 859.8h0M1346.3 859.8h0M1359.7 843.5h0M925.6 827.1h0M977.3 761.7h7.9M1033.7 712.7h0M1089.3 630.9h0M1150.3 598.2h0M1098.7 1023.3h0M1103.8 1023.3h0M1125.7 1023.3h0M1150.8 1023.3h0M1160.9 1023.3h0M1165.9 1023.3h0M1170.2 1023.3h0M1175.9 1023.3h0M1183.3 1023.3h0M1193.8 1023.3h0M1199.3 1023.3h0M1205.5 1023.3h0M1210.8 1023.3h0M1223.1 1023.3h0M1228.1 1023.3h0M1236.5 1023.3h0M1258.9 1023.3h0M1264.7 1023.3h0M1278.2 1023.3h0M1291.8 1023.3h0M1295 1023.3h0M1304.1 1023.3h0M1337.5 1023.3h0M1342.1 1023.3h0M1351.3 1023.3h0M1358.1 1023.3h0M1365.6 1023.3h0"/>
<path stroke="#82d0a4" d="M1149.4 1007h0M1181.2 990.6h0M1193.5 974.3h0M1196.5 974.3h0M1226.2 957.9h0M1228.4 957.9h0M1279.3 941.6h0M1237.3 925.2h0M1249 925.2h0M1263.2 908.8h0M1347.9 859.8h0M1365.4 843.5h0M1362.2 843.5h0M931.9 827.1h6M946.8 810.8h6M946.4 810.8h0M961.4 794.4h4M976 778.1h0M985.2 761.7h6M1042.2 729h0M1057.6 663.6h0M1093.1 630.9h0M1153 598.2h0M1155.1 581.9h4"/>
<path stroke="#77cca3" d="M1172.5 990.6h0M1167.2 990.6h0M1182.9 974.3h0M1176.7 974.3h0M1159.2 974.3h0M1205.7 957.9h0M1189.8 957.9h0M1184.1 957.9h0M1186.2 957.9h0M1209.7 957.9h0M1195.9 941.6h0M1229.7 941.6h0M1236.2 925.2h0M1228.3 925.2h0M1260.7 908.8h0M1240.1 908.8h0M1289.1 908.8h0M1289.6 892.5h0M1292.8 876.2h0M1303.3 876.2h0M1316.8 876.2h0M1321.7 859.8h0M921.9 843.5h6M1334.8 843.5h19.5M937.8 827.1h6M1364.6 827.1h6M952.7 810.8h6M965.4 794.4h6M991.2 761.7h6M1018.8 745.4h0M1046.5 729h4M1057.6 696.4h0M1056 696.4h0M1059.2 663.6h2M1137.6 614.6h0M1171.3 598.2h0M1159 581.9h13.9"/>
<path stroke="#70c6a3" d="M1135.8 990.6h0M1170.9 957.9h2.6M1190.6 957.9h0M1184 957.9h0M1179.7 957.9h0M1197.6 941.6h0M1222.2 925.2h0M1276 892.5h0M1253.9 892.5h0M1255.6 892.5h0M1272.4 892.5h0M1254.5 892.5h0M1276 876.2h16.8M1296.7 859.8h1M914.7 859.8h0M927.8 843.5h6M1320.9 843.5h13.9M943.8 827.1h4M1348.8 827.1h15.9M958.7 810.8h4M1365.7 810.8h4.9M971.3 794.4h4M997.1 761.7h4M1024.7 745.4h0M1050.5 729h6M1052.6 712.7h6M1057.9 696.4h2M1051.5 696.4h0M1058.5 680h0M1061.2 663.6h2M1015.4 751.7h2M1172.9 581.9h11.9"/>
<path stroke="#69c0a3" d="M1130.5 990.6h0M1167 957.9h4M867.7 908.8h0M1229.8 908.8h0M1250.4 892.5h0M1253.4 892.5h0M1272 876.2h4M1292.8 859.8h4M933.8 843.5h2M1315 843.5h6M947.7 827.1h4M1344.8 827.1h4M962.7 810.8h4M1361.7 810.8h4M975.3 794.4h4M994.5 778.1h0M1001.1 761.7h4M1029.5 745.4h0M1028.8 745.4h0M1056.4 729h2M1058.6 712.7h4M1059.9 696.4h4M1017.4 751.7h4M1033.7 1023.3h53.3M1184.8 581.9h7.9"/>
<path stroke="#61bba3" d="M1109.2 1007h0M1141 974.3h0M1142 974.3h0M1141.6 974.3h0M1161 957.9h6M1189.3 941.6h0M855 925.2h2M1210.1 925.2h0M1231.4 908.8h0M1245.6 892.5h4.8M1266.1 876.2h6M921.5 859.8h4M1288.8 859.8h4M935.8 843.5h4M1311 843.5h4M951.7 827.1h4M1340.8 827.1h4M966.6 810.8h4M1355.7 810.8h6M979.3 794.4h4M1005.1 761.7h4M1058.4 729h4M1062.6 712.7h4M1063.8 696.4h6M1115.2 630.9h4M1114.8 630.9h0M1113 630.9h0M1021.4 751.7h4M1063.1 717.7h2M1115.6 632.8h2M1013.8 1023.3h19.9M1192.8 581.9h9.9"/>
<path stroke="#5ab5a3" d="M1099 1007h0M1093.6 1007h0M1121.5 990.6h0M1136.9 974.3h4.1M1157 957.9h4M857 925.2h4M1204 925.2h0M1239.7 892.5h6M1262.1 876.2h4M925.5 859.8h4M1282.8 859.8h6M939.8 843.5h4M1305 843.5h6M955.7 827.1h4M1334.9 827.1h6M970.6 810.8h4M1351.8 810.8h4M983.2 794.4h4M1368.4 794.4h2.2M1009.1 761.7h4M1036.7 745.4h4M1062.4 729h6M1066.5 712.7h4M1069.8 696.4h4M1073.9 680h4M1070.4 680h0M1077.1 663.6h4M1119.2 630.9h6M1181.5 598.2h6M1025.3 751.7h4M1065.1 717.7h4M1117.6 632.8h4M999.9 1023.3h13.9M1202.7 581.9h7.9"/>
<path stroke="#57afa2" d="M1129 974.3h7.9M1151.1 957.9h6M1170.3 941.6h0M861 925.2h4M1192.9 925.2h0M1217.4 908.8h0M1233.7 892.5h6M897.3 892.5h0M1256.1 876.2h6M929.5 859.8h4M1276.9 859.8h6M943.7 843.5h4M1299.1 843.5h6M959.7 827.1h4M1328.9 827.1h6M974.6 810.8h4M1345.8 810.8h6M987.2 794.4h6M1362.4 794.4h6M1013 761.7h6M1040.7 745.4h6M1068.3 729h4M1070.5 712.7h6M1073.8 696.4h6M1077.9 680h6M1081 663.6h6M1125.1 630.9h6M1187.4 598.2h6M1029.3 751.7h6M1069.1 717.7h6M1076.4 700.7h2M1080.4 683.8h2M1079.6 666.8h6M1121.6 632.8h6M988 1023.3h11.9M1210.6 581.9h7.9"/>
<path stroke="#54aaa2" d="M1089.2 1007h0M1105.4 990.6h0M1123 974.3h6M1143.1 957.9h7.9M1170.8 941.6h0M865 925.2h4M1184.6 925.2h8.3M1206.3 908.8h2.2M1227.8 892.5h6M1248.2 876.2h7.9M933.4 859.8h4M1268.9 859.8h7.9M947.7 843.5h6M1293.1 843.5h6M963.6 827.1h4M1323 827.1h6M978.5 810.8h6M1337.9 810.8h7.9M993.2 794.4h4M1354.5 794.4h7.9M1005.3 778.1h6M1370.6 778.1h0M1003.7 778.1h0M1019 761.7h6M1046.6 745.4h6M1072.3 729h6M1076.5 712.7h6M1079.7 696.4h6M1083.8 680h6M1087 663.6h6M1107.3 647.3h0M1131.1 630.9h6M1166.2 614.6h2M1193.4 598.2h6M1035.3 751.7h6M1069.5 734.7h2M1075.1 717.7h6M1078.4 700.7h6M1082.3 683.8h6M1085.6 666.8h7.9M1127.6 632.8h7.9M1164 615.8h2M976.1 1023.3h11.9M1218.6 581.9h7.9"/>
<path stroke="#51a4a2" d="M1077.4 1007h4.4M1095.2 990.6h2.7M1115.1 974.3h7.9M1135.2 957.9h7.9M1161 941.6h0M868.9 925.2h4M1176.6 925.2h7.9M1198.3 908.8h7.9M888.4 908.8h0M888.5 908.8h0M910.1 892.5h2M1219.8 892.5h7.9M907 892.5h0M922.6 876.2h4M1240.3 876.2h7.9M937.4 859.8h6M1261 859.8h7.9M953.6 843.5h4M1285.2 843.5h7.9M967.6 827.1h6M1315 827.1h7.9M984.5 810.8h4M1329.9 810.8h7.9M997.1 794.4h6M1348.5 794.4h6M1011.3 778.1h6M1362.6 778.1h8M1024.9 761.7h6M1052.6 745.4h6M1078.3 729h6M1082.4 712.7h6M1085.7 696.4h7.9M1089.8 680h7.9M1092.9 663.6h7.9M1116 647.3h6M1113 647.3h0M1137 630.9h9.9M1168.1 614.6h7.9M1199.3 598.2h7.9M914.7 887.5h2M930.7 870.5h2M1041.2 751.7h6M1071.5 734.7h6M1081 717.7h6M1084.3 700.7h7.9M1088.3 683.8h7.9M1093.5 666.8h7.9M1114.4 649.8h4M1135.5 632.8h7.9M1166 615.8h7.9M1202.2 598.9h4M966.2 1023.3h9.9M1226.5 581.9h7.9"/>
<path stroke="#4e9ea1" d="M1067.4 1007h9.9M1085.3 990.6h9.9M1113.1 974.3h2M1125.3 957.9h9.9M872.9 925.2h4M1168.7 925.2h7.9M892.6 908.8h4M1190.4 908.8h7.9M912.1 892.5h4M1209.9 892.5h9.9M926.6 876.2h6M1232.3 876.2h7.9M943.4 859.8h4M1253.1 859.8h7.9M957.6 843.5h6M1275.3 843.5h9.9M973.6 827.1h6M1305.1 827.1h9.9M988.5 810.8h7.9M1322 810.8h7.9M1003.1 794.4h7.9M1338.6 794.4h9.9M1017.2 778.1h7.9M1354.7 778.1h7.9M1030.9 761.7h7.9M1058.5 745.4h6M1084.2 729h6M1088.4 712.7h7.9M1093.6 696.4h7.9M1097.7 680h7.9M1100.9 663.6h9.9M1121.9 647.3h9.9M1147 630.9h7.9M1176.1 614.6h7.9M1207.3 598.2h7.9M916.7 887.5h4M932.7 870.5h6M1047.2 751.7h6M1077.5 734.7h7.9M1087 717.7h7.9M1092.3 700.7h7.9M1096.2 683.8h7.9M1101.5 666.8h7.9M1118.4 649.8h9.9M1143.4 632.8h9.9M1173.9 615.8h7.9M1206.2 598.9h6M922.2 882.1h4M956.3 1023.3h9.9M1234.5 581.9h7.9"/>
<path stroke="#4c98a0" d="M1055.5 1007h11.9M1075.4 990.6h9.9M1095.2 974.3h6M825.5 957.9h2M1115.3 957.9h9.9M855.7 941.6h4M1135.6 941.6h7.9M1145.5 941.6h0M876.9 925.2h6M1156.8 925.2h11.9M896.6 908.8h6M1178.5 908.8h11.9M916.1 892.5h6M1200 892.5h9.9M932.6 876.2h6M1220.4 876.2h11.9M947.3 859.8h6M1243.1 859.8h9.9M963.6 843.5h6M1265.3 843.5h9.9M979.5 827.1h6M1293.2 827.1h11.9M996.4 810.8h6M1310.1 810.8h11.9M1011 794.4h6M1328.7 794.4h9.9M1025.2 778.1h6M1344.8 778.1h9.9M1038.8 761.7h7.9M1364.4 761.7h6.2M1064.5 745.4h7.9M1090.2 729h7.9M1096.3 712.7h7.9M1101.6 696.4h7.9M1105.7 680h9.9M1110.8 663.6h11.9M1131.9 647.3h11.9M1154.9 630.9h11.9M1184 614.6h9.9M1215.2 598.2h9.9M885.6 921.4h2M920.7 887.5h6M938.6 870.5h6M1053.1 751.7h7.9M1085.4 734.7h7.9M1094.9 717.7h7.9M1100.2 700.7h7.9M1104.2 683.8h9.9M1109.4 666.8h11.9M1128.3 649.8h11.9M1153.4 632.8h9.9M1181.9 615.8h9.9M926.2 882.1h6M965.1 846.7h2M946.3 1023.3h9.9M1242.4 581.9h9.9"/>
<path stroke="#4a929f" d="M1043.6 1007h11.9M1061.5 990.6h13.9M1089.3 974.3h6M827.5 957.9h4M1103.4 957.9h11.9M859.7 941.6h4M1123.7 941.6h11.9M882.8 925.2h6M1144.9 925.2h11.9M902.5 908.8h6M1166.6 908.8h11.9M922 892.5h6M1188.1 892.5h11.9M938.5 876.2h6M1208.5 876.2h11.9M953.3 859.8h7.9M1229.2 859.8h13.9M969.5 843.5h7.9M1253.4 843.5h11.9M985.5 827.1h7.9M1281.3 827.1h11.9M1002.4 810.8h7.9M1298.2 810.8h11.9M1017 794.4h7.9M1316.8 794.4h11.9M1031.1 778.1h9.9M1334.8 778.1h9.9M1046.8 761.7h7.9M1354.5 761.7h9.9M1072.4 745.4h9.9M1098.1 729h9.9M1104.3 712.7h9.9M1109.5 696.4h11.9M1115.6 680h11.9M1122.7 663.6h11.9M1143.8 647.3h4M1166.8 630.9h11.9M1193.9 614.6h11.9M1225.2 598.2h9.9M868 938.4h2M887.6 921.4h4M909.4 904.5h4M926.7 887.5h6M944.6 870.5h6M976.2 836.5h7.9M1061.1 751.7h9.9M1368.8 751.7h1.8M1093.4 734.7h7.9M1102.9 717.7h9.9M1108.2 700.7h9.9M1114.1 683.8h11.9M1121.3 666.8h11.9M1140.2 649.8h11.9M1163.3 632.8h11.9M1191.8 615.8h11.9M1226 598.9h7.9M932.1 882.1h6M967.1 846.7h6M1222 599.6h11.9M936.4 1023.3h9.9M1252.3 581.9h13.9"/>
<path stroke="#478c9e" d="M1027.7 1007h15.9M1047.6 990.6h13.9M803.4 974.3h2M1067.4 974.3h4M831.5 957.9h6M1089.5 957.9h13.9M863.6 941.6h7.9M1109.8 941.6h13.9M888.8 925.2h6M1131 925.2h13.9M908.5 908.8h6M1152.7 908.8h13.9M928 892.5h6M1174.2 892.5h13.9M944.5 876.2h6M1194.6 876.2h13.9M961.2 859.8h6M1215.3 859.8h13.9M977.5 843.5h7.9M1239.5 843.5h13.9M993.4 827.1h7.9M1267.4 827.1h13.9M1010.3 810.8h7.9M1284.3 810.8h13.9M1024.9 794.4h9.9M1302.9 794.4h13.9M1041 778.1h9.9M1321 778.1h13.9M1054.7 761.7h9.9M1342.6 761.7h11.9M1082.4 745.4h9.9M1368.2 745.4h2.4M1108 729h7.9M1114.2 712.7h9.9M1121.4 696.4h11.9M1127.5 680h13.9M1134.6 663.6h13.9M1161.6 647.3h7.9M1178.7 630.9h13.9M1205.9 614.6h13.9M1235.1 598.2h11.9M1068.5 972.4h1.3M841.1 955.4h4M869.9 938.4h6M891.5 921.4h7.9M1135 921.4h2.3M913.4 904.5h6M932.6 887.5h6M950.5 870.5h6M984.1 836.5h2.5M1071 751.7h9.9M1358.8 751.7h9.9M1101.3 734.7h9.9M1112.8 717.7h9.9M1118.1 700.7h11.9M1126 683.8h13.9M1133.2 666.8h13.9M1152.1 649.8h13.9M1175.2 632.8h15.9M1203.7 615.8h2M1234 598.9h11.9M938.1 882.1h6M973 846.7h7.9M1012.5 811.4h6M1233.9 599.6h11.9M926.5 1023.3h9.9M1266.2 581.9h53.6"/>
<path stroke="#45869d" d="M1009.9 1007h17.9M1029.7 990.6h17.9M805.4 974.3h4M1049.6 974.3h17.9M837.4 957.9h7.9M1071.7 957.9h4M871.6 941.6h6M1091.9 941.6h17.9M894.7 925.2h6M1115.1 925.2h15.9M914.4 908.8h6M1134.8 908.8h17.9M934 892.5h6M1156.3 892.5h17.9M950.4 876.2h7.9M1178.7 876.2h15.9M967.2 859.8h7.9M1199.5 859.8h15.9M985.4 843.5h7.9M1221.7 843.5h17.9M1001.3 827.1h9.9M1249.5 827.1h17.9M1018.2 810.8h9.9M1268.4 810.8h15.9M1034.9 794.4h9.9M1290.9 794.4h11.9M1051 778.1h9.9M1305.1 778.1h15.9M1064.6 761.7h11.9M1326.7 761.7h15.9M1092.3 745.4h9.9M1358.3 745.4h9.9M1116 729h11.9M1124.1 712.7h13.9M1133.3 696.4h13.9M1141.4 680h13.9M1148.5 663.6h11.9M1169.6 647.3h17.9M1192.6 630.9h15.9M1219.8 614.6h13.9M1247 598.2h11.9M1052.7 972.4h0M1062.5 972.4h6M845.1 955.4h6M875.9 938.4h6M1096.7 938.4h9.6M899.5 921.4h6M1119.1 921.4h15.9M919.3 904.5h6M938.6 887.5h7.9M956.5 870.5h7.9M995.3 836.5h6M1080.9 751.7h11.9M1344.9 751.7h13.9M1111.2 734.7h9.9M1122.7 717.7h11.9M1130 700.7h13.9M1139.9 683.8h13.9M1147.1 666.8h17.9M1166 649.8h17.9M1191.1 632.8h15.9M1223.6 615.8h7.9M1245.9 598.9h11.9M926.9 899.7h4M944 882.1h7.9M981 846.7h9.9M1018.5 811.4h4.2M1245.8 599.6h8.1M918.5 1023.3h7.9M1319.8 581.9h4"/>
<path stroke="#44809c" d="M990 1007h19.9M1009.9 990.6h19.9M809.4 974.3h2M1031.7 974.3h17.9M845.4 957.9h9.9M1051.8 957.9h19.9M877.5 941.6h7.9M1074.1 941.6h17.9M900.7 925.2h6M1095.3 925.2h19.9M920.4 908.8h7.9M1116.9 908.8h17.9M939.9 892.5h7.9M1138.4 892.5h17.9M958.4 876.2h7.9M1158.9 876.2h19.9M975.1 859.8h9.9M1181.6 859.8h17.9M993.4 843.5h9.9M1203.8 843.5h17.9M1011.3 827.1h9.9M1229.6 827.1h19.9M1028.2 810.8h11.9M1248.5 810.8h19.9M1044.8 794.4h11.9M1269.1 794.4h11.9M1060.9 778.1h11.9M1287.2 778.1h17.9M1076.6 761.7h13.9M1308.8 761.7h17.9M1102.2 745.4h13.9M1342.4 745.4h15.9M1127.9 729h11.9M1138 712.7h13.9M1147.2 696.4h15.9M1155.3 680h17.9M1172.3 663.6h11.9M1187.4 647.3h17.9M1208.5 630.9h15.9M1233.6 614.6h13.9M1258.9 598.2h13.9M811.7 972.4h4M1036 972.4h16.7M851 955.4h9.9M881.9 938.4h3.8M1078.9 938.4h17.9M905.4 921.4h6M1099.3 921.4h19.9M925.3 904.5h7.9M946.5 887.5h7.9M964.4 870.5h7.9M1168.2 870.5h7.6M989.1 853.5h2M1189 853.5h2.3M1001.2 836.5h9.9M1045.2 802.6h4M1080.6 768.7h2M1092.8 751.7h11.9M1329.1 751.7h15.9M1121.2 734.7h11.9M1367.3 734.7h3.3M1134.6 717.7h13.9M1143.9 700.7h15.9M1153.8 683.8h17.9M1165 666.8h17.9M1183.9 649.8h17.9M1207 632.8h15.9M1231.5 615.8h13.9M1257.8 598.9h13.9M913.2 917.4h4M930.9 899.7h7.9M952 882.1h6.4M990.9 846.7h7.9M1028.3 811.4h9.9M908.6 1023.3h9.9M1323.8 581.9h2"/>
<path stroke="#427a9b" d="M968.2 1007h21.8M999.9 990.6h9.9M811.3 974.3h4M1007.9 974.3h23.8M855.3 957.9h9.9M1030 957.9h21.8M885.5 941.6h6M1052.2 941.6h21.8M906.7 925.2h7.9M1073.4 925.2h21.8M928.3 908.8h6M1095.1 908.8h21.8M947.9 892.5h7.9M1116.6 892.5h21.8M966.3 876.2h7.9M1139 876.2h19.9M985.1 859.8h7.9M1159.8 859.8h21.8M1003.3 843.5h9.9M1181.9 843.5h21.8M1021.2 827.1h9.9M1207.8 827.1h21.8M1040.1 810.8h11.9M1226.7 810.8h21.8M1056.7 794.4h13.9M1247.3 794.4h21.8M1072.8 778.1h15.9M1265.4 778.1h21.8M1090.4 761.7h15.9M1289 761.7h19.9M1116.1 745.4h13.9M1324.5 745.4h17.9M1139.8 729h13.9M1366.1 729h4.5M1151.9 712.7h15.9M1163.1 696.4h17.9M1173.2 680h19.9M1184.3 663.6h21.8M1205.3 647.3h17.9M1224.4 630.9h17.9M1247.5 614.6h13.9M1272.8 598.2h11.9M988.9 989.4h13.6M815.6 972.4h4M1010.8 972.4h19.4M860.9 955.4h5.8M892.3 938.4h4M1074.9 938.4h4M911.4 921.4h7.9M1079.4 921.4h19.9M933.2 904.5h7.9M954.5 887.5h7.9M1131.6 887.5h3.5M972.4 870.5h7.9M1146.3 870.5h21.8M991.1 853.5h9.9M1169.1 853.5h19.9M1011.2 836.5h9.9M1194.3 836.5h0M1049.1 802.6h11.1M1237.3 802.6h7M1258.1 785.6h16M1082.6 768.7h14.3M1104.7 751.7h15.9M1307.2 751.7h21.8M1133.1 734.7h13.9M1353.4 734.7h13.9M1148.5 717.7h15.9M1159.8 700.7h17.9M1171.7 683.8h17.9M1182.8 666.8h19.9M1201.8 649.8h17.9M1222.8 632.8h15.9M1245.4 615.8h13.9M1271.7 598.9h11.9M1014.6 970.3h7.2M1060.1 935h18.1M917.1 917.4h7.9M938.8 899.7h2.3M1107.4 899.7h8.6M964.9 882.1h2M998.8 846.7h9.9M1026.6 829.1h4M1038.3 811.4h12.5M1226.2 811.4h1.2M1064.6 793.8h6M898.7 1023.3h9.9M1325.8 581.9h4"/>
<path stroke="#40749a" d="M940.4 1007h27.8M962.2 990.6h21.8M815.3 974.3h4M984.1 974.3h23.8M865.2 957.9h9.9M1004.2 957.9h25.8M891.4 941.6h9.9M1026.4 941.6h25.8M914.6 925.2h7.9M1047.6 925.2h25.8M934.3 908.8h7.9M1069.3 908.8h25.8M955.8 892.5h7.9M1090.8 892.5h25.8M974.2 876.2h9.9M1113.2 876.2h25.8M993 859.8h9.9M1134 859.8h25.8M1013.2 843.5h9.9M1158.1 843.5h23.8M1031.1 827.1h13.9M1182 827.1h25.8M1052 810.8h11.9M1202.9 810.8h23.8M1070.6 794.4h13.9M1221.5 794.4h25.8M1088.7 778.1h15.9M1241.5 778.1h23.8M1106.3 761.7h17.9M1263.2 761.7h25.8M1130 745.4h17.9M1296.8 745.4h27.8M1153.7 729h17.9M1352.2 729h13.9M1167.8 712.7h19.9M1181 696.4h19.9M1193 680h21.8M1206.1 663.6h19.9M1223.2 647.3h17.9M1242.2 630.9h13.9M1261.4 614.6h11.9M1284.7 598.2h9.9M963.1 989.4h25.8M819.6 972.4h4M985 972.4h25.8M871 955.4h7.9M1007.5 955.4h20.2M896.3 938.4h7.9M1030.1 938.4h0M919.3 921.4h7.9M1057.6 921.4h7M1071.5 921.4h7.9M941.2 904.5h7.9M1076.1 904.5h19.8M962.4 887.5h7.9M1099 887.5h22.2M980.3 870.5h9.9M1120.5 870.5h25.8M1001 853.5h6.4M1143.3 853.5h25.8M1021.1 836.5h11.9M1168.9 836.5h25.4M1043.1 819.6h9.9M1190.3 819.6h17.5M1060.2 802.6h0M1211.6 802.6h9.5M1231.4 802.6h6M1232.3 785.6h25.8M1120.6 751.7h17.9M1281.4 751.7h25.8M1147 734.7h7.9M1162.8 734.7h2M1331.6 734.7h21.8M1164.4 717.7h17.9M1177.6 700.7h19.9M1189.5 683.8h21.8M1202.7 666.8h21.8M1219.6 649.8h19.9M1238.7 632.8h15.9M1259.3 615.8h13.9M1283.6 598.9h9.9M966.3 988h21.7M988.9 970.3h2.8M1000.7 970.3h13.9M1034.3 935h25.8M925.1 917.4h7.9M948.5 899.7h6M1081.6 899.7h25.8M966.9 882.1h9.9M990.7 864.4h8M1008.8 846.7h9.9M1030.6 829.1h11.9M1050.7 811.4h0M1200.2 811.4h6.5M1212.3 811.4h13.9M1070.5 793.8h13.9M1223.1 793.8h6.6M1098.8 776.1h7.9M1244.1 776.1h11.7M1113.5 758.5h13.9M1367.6 723.1h3M1249.9 634.9h2M886.8 1023.3h11.9M1329.8 581.9h2"/>
<path stroke="#3f6e99" d="M912.6 1007h27.8M934.4 990.6h27.8M819.3 974.3h4M958.2 974.3h25.8M875.1 957.9h9.9M980.4 957.9h23.8M901.3 941.6h7.9M1000.6 941.6h25.8M922.5 925.2h7.9M1021.8 925.2h25.8M942.2 908.8h7.9M1043.5 908.8h25.8M963.7 892.5h7.9M1065 892.5h25.8M984.2 876.2h7.9M1085.4 876.2h27.8M1002.9 859.8h9.9M1106.2 859.8h27.8M1023.1 843.5h11.9M1126.4 843.5h31.8M1045 827.1h11.9M1150.2 827.1h31.8M1063.9 810.8h15.9M1169.1 810.8h33.7M1084.5 794.4h17.9M1189.7 794.4h31.8M1104.6 778.1h19.9M1209.8 778.1h31.8M1124.2 761.7h21.8M1231.4 761.7h31.8M1147.9 745.4h21.8M1259 745.4h37.7M1171.6 729h21.8M1324.4 729h27.8M1187.6 712.7h23.8M1200.8 696.4h23.8M1214.9 680h21.8M1225.9 663.6h19.9M1241 647.3h15.9M1256.1 630.9h13.9M1273.4 614.6h11.9M1294.6 598.2h11.9M937.3 989.4h25.8M823.6 972.4h4M878.9 955.4h7.9M983.6 955.4h23.8M904.2 938.4h9.9M1006.2 938.4h23.9M927.3 921.4h7.9M1027.6 921.4h3.6M949.1 904.5h7.9M1050.2 904.5h25.8M970.3 887.5h7.9M1071 887.5h20.1M990.2 870.5h9.9M1092.7 870.5h27.8M1011.1 853.5h11.9M1113.5 853.5h29.8M1033 836.5h11.9M1153 836.5h15.9M1053 819.6h13.9M1158.5 819.6h31.8M1179.8 802.6h31.8M1201.3 785.6h1.6M1212.4 785.6h19.9M1138.5 751.7h21.8M1245.7 751.7h35.7M1164.8 734.7h21.8M1291.9 734.7h39.7M1182.3 717.7h23.8M1368.9 717.7h1.7M1197.5 700.7h23.8M1211.4 683.8h21.8M1224.5 666.8h17.9M1239.5 649.8h15.9M1254.6 632.8h13.9M1273.2 615.8h6M938.5 988h27.8M963.1 970.3h25.8M914.7 935h4M1010.5 935h23.8M933 917.4h7.9M954.5 899.7h7.9M1055.8 899.7h25.8M976.8 882.1h7.9M998.7 864.4h0M1001.8 864.4h6M1100.4 864.4h5.3M1018.7 846.7h11.9M1122.1 846.7h28.2M1042.5 829.1h3.4M1050.4 829.1h4M1147.6 829.1h1.7M1171.5 811.4h7.1M1182.4 811.4h17.9M1084.4 793.8h13.8M1101.3 793.8h2M1191.3 793.8h31.8M1106.7 776.1h4.9M1115.7 776.1h11.9M1226.3 776.1h10.7M1240.2 776.1h4M1127.4 758.5h4.2M1250.7 758.5h15M1355.6 723.1h11.9M1251.9 634.9h13.8M876.9 1023.3h9.9M1331.7 581.9h2"/>
<path stroke="#3f6897" d="M884.8 1007h27.8M910.6 990.6h23.8M823.3 974.3h6M849.1 974.3h25.8M936.4 974.3h21.8M885.1 957.9h11.9M958.5 957.9h21.8M909.3 941.6h9.9M980.8 941.6h19.9M930.5 925.2h7.9M1003.9 925.2h17.9M950.2 908.8h9.9M1023.6 908.8h19.9M971.7 892.5h9.9M1043.1 892.5h21.8M992.1 876.2h9.9M1061.6 876.2h23.8M1012.9 859.8h11.9M1080.3 859.8h25.8M1035 843.5h13.9M1098.6 843.5h27.8M1056.9 827.1h17.9M1114.5 827.1h35.7M1079.8 810.8h21.8M1129.4 810.8h39.7M1102.3 794.4h35.7M1140.1 794.4h49.6M1124.4 778.1h85.4M1146 761.7h85.4M1169.7 745.4h89.3M1193.4 729h131M1211.5 712.7h33.7M1370.6 712.7h0M1224.6 696.4h25.8M1236.7 680h17.9M1245.8 663.6h15.9M1256.9 647.3h11.9M1270 630.9h11.9M1285.3 614.6h9.9M1306.5 598.2h7.9M886.8 1006.3h3.7M913.5 989.4h23.8M827.6 972.4h51.6M896.3 955.4h4M963.8 955.4h19.9M914.1 938.4h7.9M988.4 938.4h17.9M935.2 921.4h7.9M1007.8 921.4h19.9M957.1 904.5h7.9M1029.1 904.5h15.5M1048.3 904.5h2M978.3 887.5h9.9M1049.2 887.5h21.8M1000.2 870.5h9.9M1068.5 870.5h14.9M1023 853.5h11.9M1091.7 853.5h21.8M1044.9 836.5h4.3M1057.4 836.5h2M1105 836.5h7.6M1066.9 819.6h19.9M1121.4 819.6h23.7M1152.6 819.6h6M1096.5 802.6h21.8M1136.2 802.6h43.7M1169.5 785.6h31.8M1153.5 768.7h12M1172.2 768.7h13.9M1160.3 751.7h77.4M1186.7 734.7h105.2M1206.1 717.7h37.7M1351 717.7h17.9M1221.3 700.7h25.8M1233.2 683.8h19.9M1242.4 666.8h17.9M1255.4 649.8h11.9M1268.5 632.8h11.9M1289.1 615.8h6M1307.4 598.9h6M886.1 1005.6h12.8M922.6 988h15.9M839.1 970.3h33.7M941.3 970.3h21.8M894 952.7h9.5M966.4 952.7h12.9M918.7 935h7.9M990.6 935h19.9M941 917.4h7.9M1014.7 917.4h14.2M962.4 899.7h9.9M1033.9 899.7h21.8M984.8 882.1h9.9M1056 882.1h19.2M1007.8 864.4h11.9M1076.5 864.4h23.8M1030.6 846.7h6.6M1094.6 846.7h2.1M1106.2 846.7h15.9M1054.3 829.1h17.9M1113.7 829.1h18.1M1141.7 829.1h6M1097.7 811.4h4M1130.4 811.4h32.8M1103.2 793.8h38M1151.6 793.8h39.7M1127.6 776.1h40M1158.3 758.5h40.2M1220.8 740.8h30.3M1235.4 705.5h11.9M1258.5 652.5h7.9M1265.7 634.9h0M864.9 1023.3h11.9M1333.7 581.9h2"/>
<path stroke="#3e6196" d="M849.1 1007h35.7M855 990.6h55.6M829.2 974.3h19.9M874.9 974.3h23.8M908.6 974.3h27.8M897 957.9h13.9M938.7 957.9h19.9M919.2 941.6h11.9M962.9 941.6h17.9M938.4 925.2h11.9M986.1 925.2h17.9M960.1 908.8h11.9M1005.8 908.8h17.9M981.6 892.5h11.9M1025.3 892.5h17.9M1002 876.2h15.9M1041.7 876.2h19.9M1024.8 859.8h55.6M1048.9 843.5h49.6M1074.8 827.1h39.7M1101.6 810.8h27.8M1138.1 794.4h2M1245.2 712.7h65.5M1348.4 712.7h22.2M1250.4 696.4h21.8M1254.6 680h15.9M1261.7 663.6h11.9M1268.8 647.3h11.9M1282 630.9h9.9M1295.2 614.6h9.9M1314.5 598.2h7.9M849 1006.3h37.7M802.2 989.4h2M907.5 989.4h6M879.2 972.4h19.9M914.4 972.4h16.5M900.3 955.4h13.9M943.9 955.4h19.9M922.1 938.4h11.9M967.7 938.4h10.5M943.1 921.4h11.9M989.9 921.4h17.9M965 904.5h11.9M1010.7 904.5h1.6M1015.2 904.5h13.9M988.2 887.5h11.9M1029.3 887.5h19.9M1010.1 870.5h15.9M1046.3 870.5h17.1M1066.5 870.5h2M1034.9 853.5h46.7M1059.4 836.5h45.7M1086.7 819.6h10.5M1105.5 819.6h15.9M1118.3 802.6h17.9M1243.8 717.7h107.2M1247.1 700.7h27.8M1253.1 683.8h17.9M1260.3 666.8h13.9M1267.3 649.8h11.9M1280.4 632.8h9.9M1295 615.8h7.9M1313.4 598.9h7.9M850.3 1005.6h35.7M881.1 970.3h17.9M929.4 970.3h11.9M903.5 952.7h0M910.8 952.7h6M946.5 952.7h19.9M926.6 935h11.9M972.7 935h17.9M948.9 917.4h11.9M996.6 917.4h8.3M972.4 899.7h11.9M1016 899.7h2.2M1022 899.7h11.9M994.7 882.1h5.5M1036.2 882.1h19.9M1019.7 864.4h17.9M1050.7 864.4h25.8M1047 846.7h47.6M1072.2 829.1h9.1M1084.4 829.1h17.9M1109.7 829.1h4M1101.7 811.4h17.9M1124.4 811.4h6M1247.3 705.5h1.3M1266.4 652.5h11.9M849.1 1023.3h15.9M1335.7 581.9h2"/>
<path stroke="#3e5a94" d="M839.1 1007h9.9M849.1 990.6h6M898.7 974.3h9.9M910.9 957.9h27.8M931.1 941.6h31.8M950.3 925.2h35.7M972 908.8h33.7M993.5 892.5h31.8M1017.9 876.2h23.8M1310.7 712.7h37.7M1272.3 696.4h23.8M1270.4 680h13.9M1273.6 663.6h11.9M1280.7 647.3h9.9M1291.9 630.9h7.9M1305.1 614.6h6M1322.4 598.2h6M841.1 1006.3h7.9M899 972.4h11.8M914.2 955.4h29.8M934 938.4h33.7M955.1 921.4h10.2M970 921.4h19.9M976.9 904.5h33.7M1000.1 887.5h3.8M1007.5 887.5h21.8M1026 870.5h2.6M1036.4 870.5h9.9M1274.9 700.7h29.8M1270.9 683.8h13.9M1274.2 666.8h11.9M1279.2 649.8h9.9M1290.3 632.8h7.9M1303 615.8h7.9M1321.3 598.9h6M840.4 1005.6h9.9M899 970.3h11.2M916.7 952.7h29.8M938.5 935h24.2M970.7 935h2M960.8 917.4h35.7M984.3 899.7h31.8M1010.4 882.1h25.8M1037.6 864.4h3.7M1044.8 864.4h6M1278.4 652.5h10.1M829.2 1023.3h19.9M1337.7 581.9h2"/>
<path stroke="#3e5492" d="M835.2 1007h4M803.4 990.6h2M845.1 990.6h4M1296.1 696.4h21.8M1284.3 680h11.9M1285.5 663.6h9.9M1290.7 647.3h7.9M1299.8 630.9h6M1311.1 614.6h6M1328.4 598.2h6M834.5 1006.3h1.5M804.2 989.4h2M1304.7 700.7h27.8M1366.2 700.7h4.4M1284.8 683.8h13.9M1286.1 666.8h9.9M1289.1 649.8h9.9M1298.3 632.8h6M1310.9 615.8h6M1327.3 598.9h6M836.4 1005.6h4M1287.9 670.2h7.9M1288.5 652.5h0M1301.1 634.9h4M803.4 1023.3h25.8M1339.7 581.9h2"/>
<path stroke="#404c8a" d="M831.2 1007h4M805.4 990.6h2M841.1 990.6h4M1317.9 696.4h19.9M1369.6 696.4h1M1296.2 680h11.9M1295.4 663.6h7.9M1298.6 647.3h7.9M1305.8 630.9h6M1317 614.6h6M1334.3 598.2h6M832.5 1006.3h2M806.2 989.4h2M1332.5 700.7h33.7M1298.7 683.8h13.9M1296 666.8h7.9M1299 649.8h6M1304.2 632.8h6M1316.9 615.8h4M1333.2 598.9h6M796.7 1005.6h2M832.5 1005.6h4M1295.8 670.2h7.9M1305.1 634.9h4M1334.5 599.6h4M1341.7 581.9h2"/>
<path stroke="#424482" d="M827.2 1007h4M807.4 990.6h2M839.1 990.6h2M1337.8 696.4h31.8M1308.2 680h9.9M1303.4 663.6h7.9M1306.6 647.3h4M1311.7 630.9h4M1323 614.6h4M1340.3 598.2h4M828.5 1006.3h4M808.1 989.4h2M1312.6 683.8h9.9M1303.9 666.8h7.9M1305 649.8h6M1310.2 632.8h6M1320.8 615.8h4M1339.2 598.9h4M798.7 1005.6h2M828.5 1005.6h4M1303.7 670.2h7.9M1309.1 634.9h6M1338.5 599.6h4M1343.7 581.9h2"/>
<path stroke="#413d74" d="M823.3 1007h4M809.4 990.6h2M835.2 990.6h4M1318.1 680h7.9M1311.3 663.6h4M1310.5 647.3h6M1315.7 630.9h4M1327 614.6h4M1344.3 598.2h6M824.6 1006.3h4M810.1 989.4h2M1322.6 683.8h9.9M1311.9 666.8h6M1311 649.8h4M1316.2 632.8h4M1324.8 615.8h4M1343.1 598.9h6M800.7 1005.6h2M826.5 1005.6h2M1339.3 687.8h2M1311.7 670.2h6M1315 634.9h4M1342.4 599.6h6M1345.6 581.9h2"/>
<path stroke="#403665" d="M803.4 1007h2M819.3 1007h4M811.3 990.6h2M833.2 990.6h2M1326 680h7.9M1315.3 663.6h6M1316.5 647.3h4M1319.7 630.9h4M1330.9 614.6h2M1350.2 598.2h6M812.1 989.4h1.4M1332.5 683.8h7.9M1317.8 666.8h4M1314.9 649.8h4M1320.1 632.8h2M1328.8 615.8h4M1349.1 598.9h6M802.7 1005.6h2M822.5 1005.6h4M1341.3 687.8h13.9M1317.6 670.2h6M1319 634.9h4M1348.4 599.6h4M1347.6 581.9h4"/>
<path stroke="#3a2f56" d="M805.4 1007h13.9M813.3 990.6h4M829.2 990.6h4M1334 680h6M1321.2 663.6h4M1320.5 647.3h2M1323.6 630.9h4M1332.9 614.6h4M1356.2 598.2h9.9M805.9 1006.3h4M815 1006.3h0M1340.4 683.8h9.9M1321.8 666.8h6M1318.9 649.8h4M1322.1 632.8h4M1332.7 615.8h4M1355.1 598.9h7.9M804.7 1005.6h4M818.6 1005.6h4M1355.2 687.8h2.4M1323.6 670.2h5M1323 634.9h2M1352.4 599.6h7.9M1351.6 581.9h2"/>
<path stroke="#352848" d="M817.3 990.6h11.9M1339.9 680h7.9M1325.2 663.6h4M1322.4 647.3h4M1327.6 630.9h2M1336.9 614.6h4M1366.1 598.2h4.5M809.9 1006.3h5.1M1350.3 683.8h20.3M1327.8 666.8h4M1322.9 649.8h4M1326.1 632.8h2M1336.7 615.8h2M1363 598.9h7.6M808.7 1005.6h9.9M1328.6 670.2h0M1324.9 634.9h4M1360.3 599.6h10.3M1353.6 581.9h2"/>
<path stroke="#2e213a" d="M1347.9 680h9.9M1370.6 680h0M1329.2 663.6h4M1326.4 647.3h2M1329.6 630.9h2M1340.8 614.6h2M1331.7 666.8h4M1326.8 649.8h2M1328.1 632.8h4M1338.7 615.8h4M1328.9 634.9h2M1355.6 581.9h6"/>
<path stroke="#281a2c" d="M1357.8 680h12.8M1333.1 663.6h37.5M1328.4 647.3h42.2M1331.6 630.9h39M1342.8 614.6h27.8M1335.7 666.8h34.9M1328.8 649.8h9.9M1348.7 649.8h21.9M1332 632.8h38.6M1342.7 615.8h27.9M1330.9 634.9h35.9M1361.5 581.9h9.1"/>
</g>
<path d="M916.8 581.9V1023.3M803.4 935H1370.6M1030.3 581.9V1023.3M803.4 846.7H1370.6M1143.7 581.9V1023.3M803.4 758.5H1370.6M1257.2 581.9V1023.3M803.4 670.2H1370.6" stroke="#b0b0b0" stroke-width="1.55" fill="none"/>
<path d="M803.4 1042.1L1370.6 624.3" stroke="#000" stroke-width="3.3" fill="none"/>
<path d="M803.4 1023.3L1370.6 581.9" stroke="#000" stroke-width="3.3" stroke-dasharray="3.2 5.1" fill="none"/>
</g>
<rect x="803.4" y="581.9" width="567.2" height="441.4" fill="none" stroke="#000" stroke-width="1.5"/>
<path d="M803.4 1023.3v7.3M803.4 1023.3h-7.3M916.8 1023.3v7.3M803.4 935h-7.3M1030.3 1023.3v7.3M803.4 846.7h-7.3M1143.7 1023.3v7.3M803.4 758.5h-7.3M1257.2 1023.3v7.3M803.4 670.2h-7.3M1370.6 1023.3v7.3M803.4 581.9h-7.3" stroke="#000" stroke-width="1.67" fill="none"/>
<text x="794.8" y="1056.3" font-size="31" textLength="17.1" lengthAdjust="spacingAndGlyphs">0</text>
<text x="774.1" y="1034.2" font-size="31" textLength="17.1" lengthAdjust="spacingAndGlyphs">0</text>
<text x="898.7" y="1056.3" font-size="31" textLength="35.9" lengthAdjust="spacingAndGlyphs">20</text>
<text x="755.3" y="945.9" font-size="31" textLength="35.9" lengthAdjust="spacingAndGlyphs">20</text>
<text x="1012.6" y="1056.3" font-size="31" textLength="35.8" lengthAdjust="spacingAndGlyphs">40</text>
<text x="755.5" y="857.6" font-size="31" textLength="35.8" lengthAdjust="spacingAndGlyphs">40</text>
<text x="1125.5" y="1056.3" font-size="31" textLength="36" lengthAdjust="spacingAndGlyphs">60</text>
<text x="755.2" y="769.4" font-size="31" textLength="36" lengthAdjust="spacingAndGlyphs">60</text>
<text x="1239.2" y="1056.3" font-size="31" textLength="35.8" lengthAdjust="spacingAndGlyphs">80</text>
<text x="755.4" y="681.1" font-size="31" textLength="35.8" lengthAdjust="spacingAndGlyphs">80</text>
<text x="1342.8" y="1056.3" font-size="31" textLength="54.3" lengthAdjust="spacingAndGlyphs">100</text>
<text x="737" y="592.8" font-size="31" textLength="54.3" lengthAdjust="spacingAndGlyphs">100</text>
<rect x="818.3" y="596.3" width="240.7" height="140.8" rx="5.5" fill="#fff" fill-opacity="0.8" stroke="#ccc" stroke-opacity="0.8" stroke-width="1.67"/>
<path d="M828.9 620.9h63.4" stroke="#000" stroke-width="3.3"/>
<path d="M830.5 664.5h60" stroke="#000" stroke-width="3.3" stroke-dasharray="3.2 5.1"/>
<circle cx="860.4" cy="711.3" r="10.7" fill="#fdfecc" stroke="#3b84a0" stroke-width="1.6"/>
<text x="914.6" y="631.6" font-size="31" textLength="132.2" lengthAdjust="spacingAndGlyphs">R = 0.96</text>
<text x="915.2" y="675.6" font-size="31" textLength="111.9" lengthAdjust="spacingAndGlyphs">1:1 line</text>
<text x="915" y="719.5" font-size="31" textLength="75.7" lengthAdjust="spacingAndGlyphs">2008</text>
<text x="714.5" y="563" font-size="30.5" font-weight="bold">D</text>
</g>
<g id="panelE">
<g clip-path="url(#cE)">
<g fill="none" stroke-width="10" stroke-linecap="round">
<path stroke="#fdfecc" d="M160.8 1311.7h0M147.3 1257.1h0M243.7 1207.6h0"/>
<path stroke="#f3fac6" d="M206.1 1303.9h0M173.3 1298.7h0M164.4 1277.9h0M256.2 1254.5h0M179.3 1212.8h0M316 1181.6h0M293.7 1145.2h0"/>
<path stroke="#e8f6c0" d="M145.5 1413.2h0M128.2 1395h0M170.5 1374.2h0M164.5 1371.6h0M199.9 1329.9h0M307.1 1176.4h0M338.4 1147.8h0M344.7 1140h0M360.4 1129.6h0M197.8 1220.6h0"/>
<path stroke="#def2bb" d="M164.2 1379.4h0M205.8 1322.1h0M233.9 1309.1h0M246.4 1301.3h0M251.2 1301.3h0M277.9 1277.9h0M364.6 1163.4h0M202.1 1342.9h0M655.6 1454.8h0"/>
<path stroke="#d4eeb5" d="M129.2 1454.8h0M142.6 1444.4h0M153.7 1436.6h0M164 1421h0M186.6 1371.6h0M204.7 1363.8h0M245.4 1327.3h0M240.3 1319.5h0M247.5 1309.1h0M278.8 1272.7h0M290.2 1270.1h0M276.7 1259.7h0M299.4 1241.5h0M298.5 1241.5h0M310.8 1236.3h0M292.3 1225.8h0M347.8 1184.2h0M358.5 1171.2h0M340.7 1163.4h0M374.6 1155.6h0M342.7 1153h0M556.5 1519.9h0M245.8 1109.3h0M285.4 1109.3h0M364.8 1109.3h0M381.8 1109.3h0M398.8 1109.3h0M412.9 1109.3h0"/>
<path stroke="#c8eab2" d="M653.1 1527.7h0M672 1504.3h0M679.6 1483.5h0M129.1 1470.4h0M686.3 1465.2h0M691.5 1465.2h0M687.2 1462.6h0M173.7 1431.4h0M679 1431.4h0M675.3 1408h0M216.6 1363.8h0M204.8 1358.6h0M225.2 1353.3h0M226.8 1348.1h0M240.6 1342.9h0M230.3 1340.3h0M242.6 1314.3h0M306.8 1241.5h0M318.5 1238.9h0M344.3 1212.8h0M352.4 1189.4h0M341.2 1176.4h0"/>
<path stroke="#bce6ae" d="M614.6 1506.9h0M584.8 1504.3h0M595.6 1488.7h0M648.4 1488.7h0M651.3 1473h0M140.6 1457.4h0M660.4 1441.8h0M630.5 1439.2h0M665.6 1439.2h0M663.6 1418.4h0M181.1 1413.2h0M192.3 1410.6h0M192.7 1402.8h0M198.2 1395h0M210.6 1376.8h0M212.6 1371.6h0M221 1366.4h0M261.1 1322.1h0M269.6 1314.3h0M294.4 1290.9h0M339.4 1194.6h0M360.5 1171.2h0M370.2 1168.6h0M648.1 1551h0M655 1551h0M662.7 1551h0M670.2 1551h0M679.9 1551h0M693.3 1551h0"/>
<path stroke="#b1e2aa" d="M511.6 1527.7h0M142.1 1483.5h0M597.6 1475.6h0M142.4 1470.4h0M629.5 1470.4h0M633.2 1462.6h0M578.7 1454.8h0M587.4 1447h0M181.1 1436.6h0M627.1 1434h0M189.1 1426.2h0M652.1 1415.8h0M639.4 1410.6h0M674.6 1408h0M639.6 1408h0M203.4 1397.6h0M650.8 1397.6h0M649 1384.6h0M224 1379.4h0M654.2 1376.8h0M236.6 1371.6h0M225.1 1371.6h0M681.4 1355.9h0M248 1348.1h0M665.7 1348.1h0M256.9 1340.3h0M651 1332.5h0M254.9 1322.1h0M302.2 1296.1h0M313.9 1262.3h0M340.5 1233.7h0M361.1 1199.8h0M369.2 1199.8h0M357.9 1199.8h0M375.5 1186.8h0M379.3 1176.4h0M376.1 1168.6h0M397.8 1147.8h0M601.9 1551h0M606.2 1551h0M613.8 1551h0M618.7 1551h0M622.1 1551h0M627.5 1551h0M638.3 1551h0M262.8 1330.2h5.9"/>
<path stroke="#a5dea7" d="M511.1 1527.7h0M543.7 1519.9h0M509.6 1514.7h0M507.5 1509.5h0M507.1 1493.9h0M133.8 1488.7h0M146.9 1486.1h0M148.3 1478.2h0M153.2 1470.4h0M574.9 1465.2h0M160 1457.4h0M563.9 1457.4h0M169.5 1447h0M176.9 1441.8h0M614.8 1441.8h0M194.2 1421h0M202.2 1418.4h0M611.6 1418.4h0M577.1 1413.2h0M588.7 1410.6h0M587.5 1402.8h0M632.1 1402.8h0M605.8 1392.4h0M222.3 1389.8h0M690.4 1387.2h0M226.9 1379.4h0M635.5 1379.4h0M238.8 1374.2h0M631.3 1371.6h0M228.4 1369h0M646.6 1358.6h0M675.4 1353.3h0M250.1 1350.7h0M671.9 1345.5h0M259.5 1340.3h0M268.8 1329.9h0M663.5 1316.9h0M670.5 1316.9h0M688.6 1303.9h0M296.9 1298.7h0M321.5 1267.5h0M341.4 1244.1h0M351.9 1228.4h0M357.9 1218h0M372.9 1202.4h0M366.6 1199.8h0M369.7 1194.6h0M368.4 1192h0M367.7 1184.2h0M386 1163.4h0M393.9 1158.2h0M433 1132.2h0M431.5 1129.6h0M576.1 1551h0M587.4 1551h0M594 1551h0M268.7 1330.2h7.9M211.8 1330.2h0M231.6 1330.2h0M245.8 1330.2h0M605.6 1330.2h0M622.6 1330.2h0"/>
<path stroke="#9adaa6" d="M503.5 1527.7h0M476.7 1522.5h0M464.8 1514.7h0M510.7 1514.7h0M497.9 1512.1h0M133 1501.7h0M134.2 1499.1h0M130.5 1499.1h0M505.2 1499.1h0M138 1493.9h0M508.3 1488.7h0M470 1486.1h0M142.6 1483.5h0M145.1 1480.8h0M553.7 1480.8h0M533 1478.2h0M163.4 1470.4h0M527.3 1470.4h0M165.7 1465.2h0M534.9 1462.6h0M170.5 1460h0M538.3 1460h0M173.7 1457.4h0M509.6 1457.4h0M540.1 1454.8h0M566.4 1449.6h0M518.9 1449.6h0M530.2 1444.4h0M195.7 1434h0M191.5 1431.4h0M564.5 1426.2h0M206.2 1415.8h0M565.4 1413.2h0M553.7 1405.4h0M559.1 1405.4h0M556.2 1402.8h0M218.2 1400.2h0M221.7 1397.6h0M585.2 1389.8h0M575.7 1389.8h0M631.4 1366.4h0M249.4 1355.9h0M631.7 1350.7h0M252.6 1348.1h0M265 1345.5h0M602.8 1342.9h0M270.5 1340.3h0M270.8 1340.3h0M689.9 1340.3h0M268.9 1337.7h0M638.9 1337.7h0M604.1 1335.1h0M608.8 1335.1h0M614.1 1329.9h0M279 1324.7h0M644.9 1322.1h0M627.4 1322.1h0M646.7 1322.1h0M645.6 1322.1h0M644.1 1322.1h0M665.4 1314.3h0M295.5 1309.1h0M672.5 1309.1h0M668.1 1306.5h0M655.6 1306.5h0M305.4 1301.3h0M651.7 1301.3h0M672.3 1298.7h0M669.7 1293.5h0M633.8 1288.3h0M685.8 1285.7h0M675 1285.7h0M318.6 1283.1h0M667.5 1283.1h0M679.2 1277.9h0M684.8 1275.3h0M687.2 1272.7h0M333.5 1262.3h0M342.5 1257.1h0M354.1 1225.8h0M375.7 1210.2h0M364.6 1205h0M375 1194.6h0M386.6 1186.8h0M399 1173.8h0M404.4 1158.2h0M410.7 1147.8h0M413.7 1147.8h0M539 1551h0M542.9 1551h0M548.8 1551h0M555.7 1551h0M560.4 1551h0M564.1 1551h0M276.7 1330.2h5.9"/>
<path stroke="#8ed5a5" d="M413.6 1527.7h0M495.4 1522.5h0M420.9 1517.3h0M448.1 1512.1h0M445.8 1504.3h0M140.8 1501.7h0M489.2 1499.1h0M480.2 1499.1h0M499.8 1491.3h0M143.9 1486.1h0M150.4 1483.5h0M159.6 1480.8h0M511.5 1480.8h0M157 1478.2h0M485.6 1478.2h0M501.2 1473h0M160.4 1467.8h0M486.9 1467.8h0M482 1467.8h0M511 1465.2h0M518.2 1462.6h0M500.7 1460h0M525.3 1457.4h0M177.4 1454.8h0M179 1452.2h0M492.1 1449.6h0M521.9 1447h0M522 1447h0M189.8 1444.4h0M535.2 1444.4h0M503.7 1441.8h0M193.3 1439.2h0M528.1 1434h0M538.6 1431.4h0M526.6 1431.4h0M523.5 1428.8h0M207.5 1426.2h0M544.1 1423.6h0M528.9 1418.4h0M215.1 1415.8h0M209.9 1415.8h0M215.7 1413.2h0M529.5 1413.2h0M518.9 1413.2h0M532 1405.4h0M540.2 1402.8h0M529.3 1387.2h0M242 1384.6h0M523.8 1384.6h0M546.4 1382h0M548.1 1382h0M562.7 1379.4h0M245.8 1376.8h0M240.9 1376.8h0M590.5 1374.2h0M248.1 1371.6h0M565.9 1366.4h0M552 1363.8h0M590.9 1363.8h0M267.6 1355.9h0M579.1 1355.9h0M542.9 1348.1h0M278 1345.5h0M582.2 1345.5h0M585 1345.5h0M272.7 1342.9h0M608 1342.9h0M557.9 1342.9h0M612.5 1340.3h0M598.9 1332.5h0M594.4 1327.3h0M618.3 1327.3h0M293.3 1322.1h0M295.6 1319.5h0M618.5 1316.9h0M628.1 1314.3h0M304.2 1311.7h0M665 1311.7h0M306 1306.5h0M638.5 1298.7h0M618.5 1298.7h0M626 1293.5h0M327.4 1288.3h0M321.1 1283.1h0M333.2 1280.5h0M631.4 1280.5h0M679.6 1280.5h0M643.2 1277.9h0M630.4 1275.3h0M650.7 1272.7h0M659.8 1267.5h0M671.5 1267.5h0M681.4 1267.5h0M679.9 1262.3h0M685.2 1257.1h0M656.2 1254.5h0M668.3 1244.1h0M682.2 1236.3h0M356.4 1233.7h0M667.2 1231.1h0M363.7 1225.8h0M366.7 1220.6h0M370.3 1218h0M364.4 1218h0M372.5 1210.2h0M381.2 1194.6h0M386.7 1189.4h0M390.8 1184.2h0M377.8 1184.2h0M398.9 1168.6h0M399.2 1163.4h0M407.9 1158.2h0M418.7 1147.8h0M423.8 1145.2h0M430.2 1142.6h0M442.9 1132.2h0M451.7 1129.6h0M512.3 1551h0M519.3 1551h0M525.1 1551h0M532 1551h0M427.1 1109.3h2M282.6 1330.2h5.9"/>
<path stroke="#82d0a4" d="M391.8 1530.3h0M399.8 1530.3h0M404.6 1525.1h0M444 1517.3h0M403.4 1517.3h0M418.7 1514.7h0M132.4 1512.1h0M409.4 1512.1h0M416.6 1512.1h0M429.6 1509.5h0M425.8 1509.5h0M410 1506.9h0M438 1506.9h0M441.4 1504.3h0M431.9 1501.7h0M430 1499.1h0M453.5 1493.9h0M447.7 1493.9h0M465.8 1491.3h0M156.7 1486.1h0M459 1486.1h0M494.6 1486.1h0M453.3 1486.1h0M157.7 1483.5h0M158.7 1483.5h0M456.4 1480.8h0M455.7 1480.8h0M453.3 1480.8h0M447.5 1478.2h0M161.8 1475.6h0M522 1475.6h0M168.1 1473h0M480.4 1473h0M460.5 1473h0M168.4 1470.4h0M445.1 1470.4h0M450.3 1465.2h0M504.6 1462.6h0M479.7 1462.6h0M181 1460h0M180.1 1460h0M488.9 1460h0M511.6 1454.8h0M504.3 1452.2h0M467.2 1452.2h0M490.2 1452.2h0M198.4 1441.8h0M492.5 1441.8h0M494.9 1441.8h0M493 1441.8h0M496.6 1439.2h0M487.5 1439.2h0M523.8 1439.2h0M202.3 1434h0M484.5 1428.8h0M494 1428.8h0M498.6 1426.2h0M516.6 1426.2h0M522.4 1423.6h0M210.1 1421h0M509.5 1418.4h0M510.7 1415.8h0M539.9 1410.6h0M511.3 1408h0M515.4 1408h0M522.9 1408h0M531 1405.4h0M497.2 1405.4h0M497.4 1405.4h0M531.9 1400.2h0M512.9 1397.6h0M521 1395h0M233.2 1392.4h0M242.2 1387.2h0M550.4 1384.6h0M548.3 1384.6h0M580 1384.6h0M526.5 1382h0M526.4 1382h0M540.9 1379.4h0M254.4 1374.2h0M255.3 1371.6h0M522.4 1371.6h0M536.9 1371.6h0M259.1 1369h0M550 1369h0M522 1369h0M518.3 1366.4h0M524.5 1366.4h0M566.2 1366.4h0M551.2 1366.4h0M261.9 1363.8h0M572.9 1353.3h0M551.8 1345.5h0M553.5 1340.3h0M596.9 1340.3h0M556.6 1337.7h0M595.8 1337.7h0M581.9 1332.5h0M604.8 1332.5h0M584.2 1332.5h0M296.2 1324.7h0M299.4 1322.1h0M567.7 1322.1h0M581.9 1322.1h0M603.8 1316.9h0M589.2 1314.3h0M582.9 1309.1h0M605.6 1309.1h0M580.5 1309.1h0M599.9 1306.5h0M318.7 1301.3h0M627.6 1298.7h0M610.6 1298.7h0M606.7 1296.1h0M597.3 1293.5h0M634 1293.5h0M589.4 1293.5h0M623.2 1290.9h0M594.4 1288.3h0M608.8 1288.3h0M609.9 1285.7h0M629.2 1285.7h0M635 1283.1h0M632.4 1283.1h0M614.8 1280.5h0M620.9 1280.5h0M645.9 1280.5h0M619 1280.5h0M609.6 1277.9h0M631.9 1277.9h0M617.7 1277.9h0M670.3 1277.9h0M647.3 1275.3h0M615.8 1275.3h0M610.6 1272.7h0M652.6 1267.5h0M644.2 1264.9h0M623.1 1264.9h0M649.5 1264.9h0M341.7 1262.3h0M347.5 1262.3h0M642.8 1262.3h0M350.9 1259.7h0M673.7 1257.1h0M662.1 1254.5h0M657.9 1254.5h0M677.3 1254.5h0M666 1251.9h0M639.3 1251.9h0M662 1249.3h0M671.4 1249.3h0M648.7 1249.3h0M646 1249.3h0M357.1 1244.1h0M656.2 1244.1h0M360.8 1236.3h0M643 1236.3h0M654.4 1233.7h0M659.4 1233.7h0M663.7 1233.7h0M360.8 1231.1h0M659.7 1231.1h0M665.5 1231.1h0M652.1 1231.1h0M371.5 1228.4h0M677.3 1225.8h0M678 1223.2h0M687.4 1223.2h0M684.9 1223.2h0M665.8 1223.2h0M688.3 1212.8h0M679 1212.8h0M687.1 1210.2h0M384.2 1199.8h0M385.1 1189.4h0M394.7 1189.4h0M394.8 1186.8h0M396 1181.6h0M398.2 1181.6h0M407.4 1176.4h0M404.1 1171.2h0M411.7 1163.4h0M412.3 1160.8h0M407.9 1155.6h0M436.7 1137.4h0M444.7 1134.8h0M447.6 1134.8h0M452.2 1129.6h0M481.1 1551h0M488.9 1551h0M429.1 1109.3h13.9M288.6 1330.2h4M568.2 1330.2h23.2"/>
<path stroke="#77cca3" d="M402.8 1527.7h0M389.6 1527.7h0M394.1 1525.1h0M410.5 1522.5h0M403.5 1522.5h0M408.7 1522.5h0M405.2 1519.9h0M399.3 1519.9h0M400.1 1512.1h0M412.1 1512.1h0M413.7 1509.5h0M423.5 1509.5h0M410.8 1509.5h0M441.1 1509.5h0M451.5 1506.9h0M412.1 1504.3h0M149.8 1499.1h0M436.6 1499.1h0M423 1499.1h0M158.3 1488.7h0M155.3 1488.7h0M158.9 1488.7h0M159.2 1486.1h0M154 1486.1h0M447.2 1483.5h0M448.1 1480.8h0M432.6 1480.8h0M167.7 1478.2h0M466.9 1478.2h0M164.2 1475.6h0M435.3 1475.6h0M451.4 1475.6h0M453.9 1475.6h0M455.8 1473h0M178.4 1470.4h0M169.8 1467.8h0M454.3 1467.8h0M462.5 1465.2h0M451.9 1465.2h0M180.7 1462.6h0M451.9 1462.6h0M457.2 1460h0M184.8 1457.4h0M186.2 1457.4h0M476.5 1457.4h0M462.8 1454.8h0M461.2 1454.8h0M477.9 1452.2h0M470.1 1452.2h0M471.7 1449.6h0M466.6 1449.6h0M503.4 1449.6h0M486 1447h0M474.6 1444.4h0M463.9 1441.8h0M469.7 1441.8h0M473.6 1436.6h0M467.5 1436.6h0M210.8 1431.4h0M498.7 1428.8h0M219.9 1421h0M220.8 1418.4h0M515.2 1415.8h0M477 1415.8h0M503.4 1413.2h0M225 1410.6h0M491.4 1410.6h0M496.2 1408h0M505.2 1408h0M491.2 1408h0M506.9 1408h0M484.5 1405.4h0M484.4 1405.4h0M500.5 1405.4h0M502.8 1397.6h0M504.5 1392.4h0M244.8 1389.8h0M240.6 1389.8h0M499.1 1389.8h0M247.3 1384.6h0M505.8 1384.6h0M500.5 1384.6h0M507.3 1384.6h0M515.8 1382h0M519.2 1379.4h0M505.8 1374.2h0M511.8 1374.2h0M514.2 1374.2h0M539.2 1369h0M535.5 1366.4h0M535.8 1366.4h0M531.1 1363.8h0M514.9 1363.8h0M535 1363.8h0M261.4 1361.2h0M523 1361.2h0M273.8 1355.9h0M269.6 1355.9h0M267.8 1355.9h0M524.6 1353.3h0M544.9 1353.3h0M529.1 1353.3h0M558.6 1348.1h0M537.8 1348.1h0M546.8 1345.5h0M287.6 1342.9h0M537.8 1342.9h0M548.5 1335.1h0M293.9 1332.5h0M547.1 1332.5h0M547.9 1332.5h0M554.5 1329.9h0M549.7 1327.3h0M564.7 1324.7h0M588.9 1322.1h0M563.8 1319.5h0M559.8 1316.9h0M568.1 1316.9h0M577 1314.3h0M564.5 1314.3h0M306 1311.7h0M566.6 1309.1h0M572.7 1309.1h0M573.9 1303.9h0M581 1303.9h0M317.3 1301.3h0M321.9 1301.3h0M580.2 1301.3h0M579.6 1301.3h0M595.2 1301.3h0M579.9 1296.1h0M592.8 1296.1h0M326 1293.5h0M582.1 1293.5h0M615.5 1290.9h0M599 1288.3h0M328.1 1285.7h0M597.8 1285.7h0M619.6 1283.1h0M336.7 1280.5h0M607.1 1277.9h0M603.1 1275.3h0M627.8 1272.7h0M616.2 1267.5h0M621.7 1264.9h0M651.5 1264.9h0M348.8 1262.3h0M619.5 1262.3h0M634 1259.7h0M620 1259.7h0M356.4 1257.1h0M627.4 1257.1h0M621 1257.1h0M640 1257.1h0M630.3 1254.5h0M626.3 1251.9h0M647.1 1251.9h0M630.7 1249.3h0M627.1 1249.3h0M639.5 1244.1h0M683.8 1241.5h0M655.5 1238.9h0M642.7 1238.9h0M656.2 1236.3h0M658.3 1233.7h0M658.7 1233.7h0M682.3 1233.7h0M367.9 1231.1h0M367.8 1231.1h0M646.9 1231.1h0M676.5 1231.1h0M663.1 1231.1h0M693.4 1228.4h0M654.4 1225.8h0M669.3 1223.2h0M674.4 1223.2h0M668.2 1223.2h0M677.7 1220.6h0M681.3 1220.6h0M669.6 1220.6h0M669.3 1215.4h0M684.3 1210.2h0M676.5 1210.2h0M685.6 1210.2h0M383.8 1205h0M389.8 1199.8h0M394.2 1197.2h0M692.1 1194.6h0M398.2 1186.8h0M400.4 1181.6h0M404.7 1181.6h0M401.3 1181.6h0M401.2 1181.6h0M420.6 1150.4h0M432.4 1147.8h0M436.3 1142.6h0M440.8 1140h0M446.3 1134.8h0M452.6 1551h0M461.9 1551h0M474.8 1551h0M443 1109.3h9.9M292.5 1330.2h5.9M546.4 1330.2h21.8"/>
<path stroke="#70c6a3" d="M385.3 1522.5h0M390 1519.9h1.9M129.6 1519.9h0M128.1 1519.9h0M400.9 1519.9h0M389 1517.3h0M396.7 1514.7h0M398.4 1514.7h0M396.2 1514.7h0M138.4 1512.1h0M139.5 1512.1h0M146.1 1506.9h0M153.6 1499.1h0M157.1 1496.5h0M157.5 1493.9h0M161.3 1488.7h0M163.5 1486.1h4M167.3 1483.5h0M435.7 1483.5h0M429.3 1478.2h0M425.9 1475.6h0M446.4 1475.6h0M177.6 1470.4h0M438.6 1470.4h0M455.6 1457.4h0M457.2 1457.4h0M186.5 1454.8h0M450.9 1452.2h0M455.8 1452.2h0M450.4 1452.2h0M454.1 1452.2h0M195.9 1449.6h0M199.7 1447h0M202.5 1444.4h0M208 1436.6h0M485.7 1434h0M469.5 1431.4h0M480.3 1413.2h0M229.3 1410.6h0M499 1410.6h0M481.2 1405.4h0M485.9 1405.4h0M241.2 1402.8h0M484.3 1402.8h0M487.3 1400.2h0M490.7 1400.2h0M246.1 1392.4h0M249.4 1389.8h0M250.9 1384.6h0M513.2 1379.4h0M498.8 1379.4h0M507.8 1371.6h0M509.4 1371.6h0M522.9 1366.4h0M520 1363.8h0M270.1 1361.2h0M516.6 1361.2h0M267 1358.6h0M278.9 1353.3h0M278 1353.3h0M517.7 1353.3h0M546.5 1350.7h0M525.2 1348.1h0M526.4 1345.5h0M528.6 1345.5h0M537.7 1342.9h0M290.4 1340.3h0M535.9 1337.7h0M535.2 1335.1h0M561.2 1332.5h0M545.5 1327.3h0M298.2 1324.7h0M307.8 1324.7h0M562 1322.1h0M310.5 1319.5h0M311 1314.3h0M309.9 1314.3h0M579.2 1296.1h0M334.5 1293.5h0M594 1293.5h0M591.5 1283.1h0M604.4 1280.5h0M596.6 1277.9h2.4M630 1277.9h0M611.3 1272.7h0M606.7 1267.5h2.1M615.2 1264.9h0M359.2 1262.3h0M628.9 1262.3h0M638.1 1244.1h0M636.9 1241.5h0M637.5 1241.5h0M646 1238.9h0M642.9 1233.7h0M645.9 1231.1h0M671.1 1220.6h0M384.1 1218h0M671.5 1218h0M666.9 1215.4h0M669 1210.2h0M390.4 1207.6h0M386.6 1207.6h0M688.3 1205h0M681.7 1205h0M689.7 1194.6h2.4M402.5 1189.4h0M410.7 1173.8h0M415.3 1168.6h0M420.9 1166h0M441.6 1142.6h0M445.5 1137.4h0M449.1 1137.4h0M449 1134.8h0M455.2 1132.2h0M406.4 1551h37.7M446.9 1551h0M452.9 1109.3h7.9M298.5 1330.2h4M542.4 1330.2h4"/>
<path stroke="#69c0a3" d="M376.2 1530.3h0M380.5 1525.1h0M387.3 1525.1h0M383.2 1522.5h0M384.1 1519.9h5.9M389.2 1517.3h0M147.5 1506.9h0M406.7 1496.5h0M161.4 1493.9h0M413.2 1493.9h0M411.8 1491.3h0M163.6 1488.7h0M167.5 1486.1h4M171.2 1483.5h0M173.4 1480.8h0M427.4 1480.8h0M185 1470.4h0M176.3 1470.4h0M434.9 1470.4h0M433.1 1470.4h0M188.3 1462.6h0M450.7 1454.8h0M449 1449.6h0M213.6 1441.8h0M458.3 1441.8h0M453.5 1441.8h0M453.1 1441.8h0M465.8 1431.4h0M226.9 1423.6h0M232.3 1410.6h0M236.5 1408h0M477.9 1405.4h0M478.8 1397.6h0M490 1392.4h0M492.1 1392.4h0M490.1 1387.2h0M260.6 1379.4h0M495.7 1374.2h0M262.9 1371.6h0M505.2 1371.6h0M500.9 1371.6h0M268.8 1366.4h0M505.2 1366.4h0M506 1363.8h0M523.9 1345.5h0M529.6 1340.3h0M302.2 1332.5h0M301.4 1332.5h0M307 1329.9h0M547 1322.1h0M310.2 1322.1h0M557.5 1316.9h0M316.9 1314.3h0M315.1 1314.3h0M563.4 1306.5h0M563.3 1303.9h0M571.3 1298.7h0M343.3 1293.5h0M577.5 1293.5h0M586.1 1290.9h0M586.1 1285.7h0M590.4 1283.1h0M590.8 1280.5h0M592.7 1277.9h4M347.5 1277.9h0M595.2 1275.3h0M601 1270.1h0M602.7 1267.5h4M356.7 1267.5h0M364.5 1254.5h0M619.5 1251.9h0M363 1249.3h0M368.3 1241.5h0M629.8 1241.5h0M636.5 1238.9h0M374.8 1236.3h0M646.5 1228.4h0M648.6 1228.4h0M653.6 1225.8h0M387.3 1215.4h0M660.8 1215.4h0M401 1205h0M674.5 1202.4h0M675.7 1202.4h0M676.6 1197.2h0M685.7 1194.6h4M693.4 1189.4h0M408.9 1189.4h0M405.8 1186.8h0M414.2 1181.6h0M405.1 1179h0M420.3 1171.2h0M416.5 1168.6h0M421 1168.6h0M421.2 1155.6h0M432.2 1153h0M444.9 1142.6h0M453 1140h0M449.2 1140h0M450.3 1140h0M331.1 1551h75.4M460.8 1109.3h9.9M302.4 1330.2h4M538.4 1330.2h4"/>
<path stroke="#61bba3" d="M374.6 1530.3h0M376.3 1527.7h0M127.7 1525.1h2M373.6 1525.1h6.9M382 1525.1h0M131.8 1522.5h2M376.4 1522.5h0M376.9 1522.5h0M378.1 1519.9h5.9M384.7 1514.7h0M386.6 1512.1h3M387.1 1506.9h0M154.1 1504.3h0M159.2 1499.1h0M162.1 1496.5h0M162.1 1496.5h0M165.4 1493.9h0M402.6 1493.9h0M167.8 1491.3h2M170.4 1488.7h2M171.4 1486.1h2M172.8 1483.5h4M413.3 1483.5h0M177.1 1480.8h0M178.5 1478.2h2M418.9 1478.2h0M422.9 1475.6h1.6M184 1473h0M418.2 1473h0M187.4 1470.4h0M188.4 1467.8h0M426.5 1467.8h0M428.3 1467.8h0M190.2 1465.2h0M440.6 1460h0M439.1 1460h0M200 1454.8h0M436.1 1454.8h0M442.1 1452.2h3M200 1452.2h0M444.2 1449.6h0M449.5 1441.8h0M456.7 1439.2h0M449.8 1439.2h0M219.1 1431.4h0M215.8 1431.4h0M225.5 1431.4h0M457.2 1428.8h0M230.3 1428.8h0M225.9 1428.8h0M224.3 1426.2h0M229.8 1421h4M469.7 1418.4h0M466.8 1415.8h0M233.9 1413.2h0M239.6 1410.6h0M471.4 1408h4.5M473.1 1405.4h4.8M479.8 1405.4h0M475.2 1402.8h0M247.7 1402.8h0M484.3 1397.6h0M484.4 1392.4h0M256.5 1387.2h0M256.7 1384.6h0M489.2 1384.6h0M260.1 1382h0M266.1 1379.4h0M268 1376.8h0M495.1 1374.2h0M496.2 1371.6h0M271.6 1371.6h0M277.7 1361.2h0M511.3 1358.6h0M287.6 1353.3h0M519.5 1350.7h0M523.2 1348.1h0M521.8 1342.9h0M527.3 1337.7h0M302 1337.7h0M304 1335.1h0M303.6 1332.5h0M535.8 1329.9h0M543.3 1322.1h3.7M315.4 1319.5h5.9M544.8 1319.5h0M317.9 1316.9h0M548.7 1316.9h0M327.9 1311.7h0M331.9 1311.7h0M554.9 1309.1h0M335.2 1306.5h0M555.5 1306.5h0M556.8 1306.5h0M561.1 1306.5h0M563.2 1306.5h0M334.2 1301.3h4M333.9 1301.3h0M565.8 1301.3h0M338.1 1296.1h0M342.6 1296.1h0M574.6 1290.9h0M340 1290.9h0M576.9 1288.3h0M570.6 1288.3h0M583.6 1283.1h0M584.4 1283.1h0M586.4 1280.5h1.3M350.5 1280.5h0M588.7 1277.9h4M591.6 1275.3h1M355.6 1275.3h0M360.6 1270.1h0M598.7 1267.5h4M602.3 1264.9h1.1M361.1 1259.7h0M611.9 1259.7h0M371.8 1254.5h0M366.3 1254.5h0M381.8 1241.5h0M378.8 1236.3h0M392.8 1236.3h0M633.6 1236.3h0M638 1231.1h0M643.4 1231.1h0M644.2 1228.4h0M393.6 1225.8h0M644.5 1225.8h0M391.5 1223.2h0M668 1205h0M667.2 1205h0M400.9 1202.4h5.9M400.8 1202.4h0M668.7 1202.4h0M404.5 1199.8h0M414.6 1197.2h0M681.7 1194.6h4M412 1194.6h0M686.3 1192h0M690.4 1189.4h3M693.2 1186.8h0M416.9 1184.2h0M417.4 1181.6h0M421.3 1173.8h0M422.4 1171.2h0M426.3 1168.6h0M430.4 1153h0M437.2 1150.4h0M447.5 1142.6h0M455.7 1140h0M456.9 1137.4h0M460.5 1137.4h0M459.9 1134.8h5.9M466.8 1132.2h0M473.2 1129.6h0M315.2 1551h15.9M470.7 1109.3h7.9M306.4 1330.2h4M534.5 1330.2h4"/>
<path stroke="#5ab5a3" d="M362.9 1530.3h0M367.6 1530.3h0M370.5 1530.3h0M126.8 1527.7h2M129.7 1525.1h4M367.6 1525.1h5.9M133.8 1522.5h2M369.8 1522.5h6.6M372.2 1519.9h5.9M376.3 1517.3h0M376.2 1514.7h8.6M378.7 1512.1h7.9M383.3 1509.5h0M383.5 1506.9h0M387.6 1506.9h0M392 1506.9h0M386.4 1504.3h0M159.3 1501.7h0M393.5 1501.7h0M390 1499.1h0M166.5 1496.5h2M164.3 1496.5h0M399.1 1496.5h0M168.2 1493.9h2M169.8 1491.3h4M399.8 1491.3h4.3M172.3 1488.7h4M403.2 1488.7h0M173.4 1486.1h4M407.8 1486.1h0M176.8 1483.5h4M408.8 1483.5h1.6M411.2 1480.8h3.3M180.5 1478.2h4M412.5 1478.2h6.4M182.9 1475.6h4M416.9 1475.6h5.9M182.6 1473h0M424.2 1473h0M422.5 1470.4h4.1M187.2 1470.4h0M424.5 1467.8h0M430.3 1467.8h0M428.1 1467.8h0M420.8 1465.2h0M430.5 1462.6h4.2M200.5 1460h0M439.5 1457.4h0M433.1 1457.4h0M434.7 1454.8h0M206.9 1454.8h0M206.1 1452.2h4M436.2 1452.2h5.9M204.8 1452.2h0M202.7 1452.2h0M214.4 1449.6h0M211.2 1449.6h0M441.3 1447h0M441.9 1444.4h0M211.7 1444.4h0M212.4 1444.4h0M210.1 1444.4h0M444.2 1441.8h2M216.5 1441.8h0M217.4 1441.8h0M220.4 1439.2h2M448 1436.6h2.7M221.1 1436.6h0M457.3 1434h0M224 1431.4h0M454.1 1431.4h0M452.4 1428.8h4.9M231.8 1426.2h2M454.1 1426.2h0M457.8 1426.2h0M231 1423.6h4M233.7 1421h4M234.6 1418.4h0M236.7 1415.8h0M468.1 1415.8h0M465.3 1415.8h0M458 1415.8h0M465.4 1408h5.9M467.2 1405.4h5.9M250.7 1405.4h0M470 1402.8h5.2M472.8 1400.2h0M475 1400.2h0M474.3 1397.6h0M471.5 1395h0M259.1 1392.4h0M255.8 1389.8h0M479.7 1387.2h4.7M484.5 1382h0M487 1379.4h0M487.9 1376.8h3.1M488.9 1374.2h0M275 1371.6h4M491.1 1371.6h5.1M496.8 1366.4h0M499.5 1366.4h0M288.1 1363.8h0M280.3 1361.2h0M282.3 1358.6h0M501 1358.6h0M296.1 1355.9h0M293.5 1353.3h0M509.3 1353.3h0M514.7 1350.7h0M299.1 1348.1h2M514.2 1348.1h0M515.4 1348.1h0M518.9 1342.9h0M298.6 1342.9h0M520.4 1340.3h0M522 1337.7h5.3M303.8 1337.7h0M311.3 1335.1h0M527.9 1335.1h0M526.6 1335.1h0M310.5 1332.5h0M316.8 1332.5h0M306.8 1332.5h0M529.2 1329.9h0M315.1 1329.9h0M315.5 1324.7h5.9M321.2 1322.1h2M537.4 1322.1h5.9M321 1322.1h0M321.4 1319.5h5.9M323.9 1316.9h4M544.6 1316.9h0M541.7 1316.9h0M327.6 1314.3h4M545.9 1314.3h0M324.1 1314.3h0M334 1306.5h0M556.2 1306.5h0M558.6 1303.9h0M338.1 1301.3h4M558.4 1301.3h0M341.8 1298.7h0M344 1296.1h0M568.8 1296.1h0M568 1293.5h2.1M345.7 1293.5h0M355.9 1293.5h0M345.8 1293.5h0M569.7 1290.9h4.9M344 1288.3h0M575.5 1288.3h0M579.4 1283.1h4.2M584.1 1283.1h0M580.4 1280.5h5.9M365.5 1280.5h0M363.1 1280.5h0M584.7 1277.9h4M363.2 1277.9h0M363.4 1277.9h0M587.6 1275.3h4M363.4 1275.3h0M367.5 1275.3h0M592.4 1270.1h0M594.8 1267.5h4M368.2 1267.5h0M598.4 1264.9h4M374 1262.3h0M609.5 1257.1h0M606.4 1257.1h0M623.7 1249.3h0M385.8 1244.1h0M624.7 1244.1h0M382.1 1238.9h0M391.7 1236.3h0M630.5 1233.7h0M391.1 1233.7h0M379.4 1233.7h0M387.6 1233.7h0M635.3 1231.1h0M633 1231.1h0M636.9 1228.4h0M396 1225.8h2M646.7 1225.8h0M640 1225.8h0M643.1 1223.2h1.1M645.1 1223.2h0M404.2 1215.4h0M655.1 1212.8h2M406.2 1210.2h2M397.2 1210.2h0M408.2 1207.6h2M406.3 1207.6h0M664.8 1207.6h0M659.6 1207.6h0M663.8 1207.6h0M408.6 1205h2M665.1 1205h0M404.4 1205h0M666 1205h0M406.9 1202.4h5.9M668.4 1202.4h0M671.1 1202.4h0M412.7 1199.8h2M411.6 1199.8h0M414.6 1197.2h2M672.4 1197.2h3.2M409.2 1197.2h0M677.8 1194.6h4M682 1192h4.3M414 1192h0M684.4 1189.4h5.9M688.6 1186.8h4.6M423.6 1184.2h2M423 1181.6h4M422.3 1179h0M426.7 1176.4h4M422.4 1176.4h0M432.2 1171.2h2M431.2 1171.2h0M431.8 1168.6h4M438.4 1166h0M437.9 1163.4h2M436.8 1160.8h4M435.7 1158.2h5.9M435.6 1158.2h0M440.4 1155.6h0M443.8 1155.6h0M443.6 1153h2M437.8 1153h0M446.4 1147.8h7.9M454.1 1145.2h4M457.3 1142.6h4M455.7 1142.6h0M459.9 1140h5.9M464.8 1137.4h4M465.9 1134.8h7.9M301.3 1551h13.9M478.7 1109.3h7.9M310.4 1330.2h5.9M530.5 1330.2h4"/>
<path stroke="#57afa2" d="M354.3 1532.9h0M343.6 1532.9h0M354.3 1532.9h0M126.8 1530.3h2M354.9 1530.3h8M128.8 1527.7h4M359.4 1527.7h0M133.6 1525.1h2M359.7 1525.1h7.9M135.8 1522.5h4M361.8 1522.5h7.9M140.1 1519.9h2M364.2 1519.9h7.9M139.4 1519.9h0M367.4 1517.3h8.9M370.2 1514.7h5.9M144.9 1514.7h0M372.7 1512.1h5.9M373.2 1509.5h1.4M376.2 1506.9h0M157.3 1506.9h0M376 1504.3h0M382.2 1504.3h0M389.3 1504.3h0M381.2 1501.7h1.2M171.3 1499.1h0M386.3 1499.1h0M394.5 1499.1h0M168.5 1496.5h4M386.7 1496.5h6M394.2 1496.5h0M170.2 1493.9h4M390.3 1493.9h1.7M167.2 1493.9h0M173.8 1491.3h4M391.9 1491.3h7.9M176.3 1488.7h4M397.9 1488.7h0M396.3 1488.7h0M177.4 1486.1h5.9M180.8 1483.5h4M400.9 1483.5h7.9M413.5 1483.5h0M183.1 1480.8h4M403.3 1480.8h7.9M184.5 1478.2h5.9M406.6 1478.2h5.9M419.3 1478.2h0M186.9 1475.6h5.9M409 1475.6h7.9M181.8 1475.6h0M192.9 1473h2M414.5 1470.4h7.9M195.5 1470.4h0M417.9 1467.8h6.6M195.3 1467.8h0M196.9 1465.2h0M418.1 1465.2h0M422.6 1462.6h7.9M198.6 1462.6h0M426.9 1460h0M425.7 1460h0M425 1457.4h6.3M205 1457.4h0M426.9 1454.8h7.8M210.1 1452.2h4M430.2 1452.2h5.9M431.6 1449.6h3.4M432.7 1447h8.7M434.8 1444.4h7.1M436.2 1441.8h7.9M222.4 1439.2h4M440.3 1439.2h0M440 1436.6h7.9M228.5 1436.6h0M442.7 1434h2.3M229.2 1434h0M228.7 1431.4h4M446.4 1428.8h5.9M233.8 1426.2h4M448 1426.2h6.1M454.6 1426.2h0M235 1423.6h5.9M451.2 1423.6h0M237.7 1421h5.9M452.3 1421h0M455.9 1421h0M452.4 1421h0M242.1 1418.4h4M244.7 1415.8h0M453.4 1415.8h0M246.1 1413.2h0M459.8 1413.2h0M459.8 1413.2h0M459.5 1408h5.9M253.5 1408h0M251.7 1408h0M461.2 1405.4h5.9M252.2 1405.4h0M464.1 1402.8h5.9M466.3 1400.2h6.4M473.4 1400.2h0M261.5 1397.6h0M258.9 1395h0M262.9 1392.4h0M267.1 1392.4h0M478.3 1389.8h0M479 1389.8h0M475.4 1389.8h0M267.5 1387.2h4M473.7 1387.2h5.9M476.6 1384.6h1.6M482.1 1384.6h0M478.7 1382h0M272.2 1382h0M479.2 1382h0M280.8 1379.4h0M270 1379.4h0M269.6 1379.4h0M482 1376.8h5.9M278.4 1374.2h4M482.7 1374.2h3.5M278.4 1374.2h0M276.6 1374.2h0M278.9 1371.6h5.9M485.2 1371.6h5.9M281.2 1369h5.9M483.6 1369h0M284.6 1366.4h0M494.8 1366.4h0M489.6 1366.4h0M293.1 1363.8h0M289.4 1363.8h0M496.3 1363.8h0M494.3 1363.8h0M288.3 1361.2h0M289.3 1361.2h0M493.6 1361.2h0M497.2 1358.6h0M294.4 1358.6h0M294.1 1355.9h0M298.4 1353.3h2M301.4 1350.7h2M504.9 1350.7h0M500.1 1350.7h0M301 1348.1h4M507.3 1348.1h6.9M306.9 1345.5h2M509.2 1345.5h0M305.7 1345.5h0M512.4 1342.9h6.5M305.6 1342.9h0M309.9 1340.3h4M514.1 1340.3h6.3M306 1340.3h0M518.1 1337.7h4M320.7 1329.9h2M525 1329.9h4.2M316.9 1329.9h0M310.4 1327.3h0M321.5 1324.7h5.9M535.7 1324.7h0M323.2 1322.1h5.9M533.4 1322.1h4M327.3 1319.5h5.9M327.9 1316.9h7.9M541.5 1316.9h0M331.6 1314.3h5.9M541.8 1314.3h4.1M333 1311.7h5.9M331.3 1311.7h0M543.8 1311.7h0M337.2 1309.1h4M339.2 1306.5h5.9M549.4 1306.5h3.5M553.3 1306.5h0M551.5 1303.9h0M342.1 1301.3h7.9M560.8 1298.7h0M352.7 1296.1h0M568 1296.1h0M562.1 1293.5h5.9M565.7 1290.9h4M574.9 1290.9h0M570.7 1285.7h0M565.8 1285.7h0M573.5 1283.1h5.9M366.2 1280.5h2M576.4 1280.5h4M364.8 1280.5h0M365.2 1280.5h0M578.8 1277.9h5.9M362.9 1277.9h0M369.9 1277.9h0M581.6 1275.3h5.9M366.5 1275.3h0M583.9 1272.7h1.5M366.6 1272.7h0M370.2 1270.1h4M368.7 1267.5h7.9M590.8 1267.5h4M592.4 1264.9h5.9M370.7 1264.9h0M377.4 1262.3h2M604.5 1259.7h0M374.2 1254.5h0M606.9 1254.5h0M380.1 1249.3h0M608.2 1249.3h0M614.1 1246.7h0M613 1246.7h0M610.1 1246.7h0M622.2 1238.9h0M394 1233.7h5.9M626 1233.7h4.5M399.4 1231.1h2M629.4 1231.1h2.8M385.2 1231.1h0M394.8 1228.4h7.9M398 1225.8h5.9M394.9 1225.8h0M403.2 1223.2h4M639.2 1223.2h4M401.3 1223.2h0M644.5 1220.6h0M405.2 1218h0M647.9 1218h0M415.4 1215.4h0M647 1215.4h0M411.2 1212.8h2M651.1 1212.8h4M406.7 1212.8h0M408.2 1210.2h7.9M654.7 1210.2h0M405.9 1210.2h0M410.1 1207.6h7.9M656 1207.6h3.4M407.4 1207.6h0M410.6 1205h7.9M658.5 1205h6.6M412.8 1202.4h7.9M662.7 1202.4h2M414.7 1199.8h7.9M416.6 1197.2h7.9M668.4 1197.2h4M413.6 1197.2h0M422 1194.6h4M671.8 1194.6h5.9M676 1192h5.9M422.4 1192h0M428.6 1189.4h2M680.5 1189.4h4M427.9 1189.4h0M426.8 1186.8h4M684.6 1186.8h4M425.6 1184.2h7.9M687.4 1184.2h1.1M427 1181.6h7.9M693.4 1181.6h0M434.8 1179h2M430.7 1176.4h7.9M419.1 1176.4h0M432.4 1173.8h7.9M434.2 1171.2h7.9M435.7 1168.6h7.9M453 1166h0M439.9 1163.4h7.9M440.8 1160.8h7.9M441.6 1158.2h9.9M445.5 1155.6h7.9M445.6 1153h9.9M443.9 1150.4h0M454.7 1150.4h0M454.3 1147.8h7.9M458 1145.2h7.9M461.2 1142.6h7.9M453.5 1142.6h0M465.9 1140h7.9M468.8 1137.4h7.9M473.8 1134.8h7.9M482.6 1132.2h0M484.2 1132.2h0M475.1 1132.2h0M481.1 1129.6h7.9M479.8 1129.6h0M477.3 1129.6h0M480.1 1127h0M289.4 1551h11.9M486.6 1109.3h7.9M316.3 1330.2h5.9M524.6 1330.2h5.9"/>
<path stroke="#54aaa2" d="M126.8 1532.9h2M350.1 1532.9h0M128.8 1530.3h4M346.9 1530.3h7.9M132.7 1527.7h2M348.9 1527.7h10.5M135.6 1525.1h2M351.8 1525.1h7.9M139.7 1522.5h2M353.9 1522.5h7.9M142.1 1519.9h4M356.3 1519.9h7.9M147.3 1517.3h2M359.5 1517.3h7.9M360.3 1514.7h9.9M362.8 1512.1h9.9M365.2 1509.5h7.9M366.9 1506.9h9.4M157.1 1506.9h0M370.5 1504.3h1.3M163.8 1504.3h0M373.3 1501.7h7.9M376.3 1499.1h4.4M172.5 1496.5h4M378.7 1496.5h7.9M174.2 1493.9h5.9M382.4 1493.9h7.9M177.7 1491.3h4M384 1491.3h7.9M180.3 1488.7h4M386.5 1488.7h7.4M183.3 1486.1h4M389.6 1486.1h6.1M184.7 1483.5h4M393 1483.5h7.9M187.1 1480.8h4M395.3 1480.8h7.9M190.4 1478.2h4M398.6 1478.2h7.9M192.9 1475.6h4M401.1 1475.6h7.9M194.9 1473h4M403.1 1473h6.7M416.9 1473h0M196.4 1470.4h5.9M406.6 1470.4h7.9M201.8 1467.8h2M408 1467.8h9.9M197.2 1467.8h0M411.5 1465.2h1.4M204.2 1465.2h0M202.2 1465.2h0M204.6 1465.2h0M206.5 1462.6h2M414.7 1462.6h7.9M209.2 1460h2M419.3 1460h0M208.9 1457.4h5.9M417.1 1457.4h7.9M214.7 1454.8h2M419 1454.8h7.9M214.1 1452.2h5.9M422.3 1452.2h7.9M217.4 1449.6h4M423.6 1449.6h7.9M424.7 1447h7.9M426.8 1444.4h7.9M222 1444.4h0M220.6 1444.4h0M428.3 1441.8h7.9M226.6 1441.8h0M226.4 1439.2h5.9M430.6 1439.2h4.3M435.5 1439.2h0M432.1 1436.6h7.9M232.5 1434h4M434.8 1434h7.9M232.6 1431.4h5.9M435.8 1431.4h0M236.2 1428.8h5.9M438.5 1428.8h7.9M237.8 1426.2h5.9M440.1 1426.2h7.9M240.9 1423.6h5.9M243.7 1421h5.9M444 1421h8.4M452.7 1421h0M246 1418.4h5.9M248.4 1415.8h4M247.3 1415.8h0M451.2 1415.8h0M251.6 1413.2h4M450 1410.6h5.8M456.3 1410.6h0M453.6 1408h5.9M455.3 1405.4h5.9M265 1405.4h0M456.1 1402.8h7.9M458.4 1400.2h7.9M258 1400.2h0M261.6 1400.2h0M265.3 1397.6h4M265 1397.6h0M461.6 1395h6M466.3 1389.8h0M271.4 1387.2h5.9M467.8 1387.2h5.9M272.3 1384.6h7.9M468.7 1384.6h7.9M270.7 1384.6h0M470.8 1382h7.9M274.1 1382h0M276.9 1382h0M277.8 1382h0M282.3 1379.4h2M472.7 1379.4h3.5M476.8 1379.4h0M476 1376.8h5.9M284.2 1376.8h0M282.4 1374.2h5.9M476.7 1374.2h5.9M284.9 1371.6h5.9M479.2 1371.6h5.9M287.1 1369h5.9M482.4 1369h0M288.9 1366.4h5.9M485.2 1366.4h0M283.6 1366.4h0M294.1 1363.8h4M486.5 1363.8h2.4M293.1 1363.8h0M491 1363.8h0M297.3 1361.2h2M291.4 1361.2h0M491.1 1361.2h0M490.8 1358.6h6.4M296.4 1358.6h0M489.4 1355.9h0M498.3 1355.9h0M300.4 1353.3h7.9M303.4 1350.7h5.9M305 1348.1h7.9M501.3 1348.1h5.9M308.9 1345.5h5.9M503.3 1345.5h5.9M312.1 1342.9h5.9M506.5 1342.9h5.9M313.8 1340.3h5.9M508.2 1340.3h5.9M512.1 1337.7h5.9M317.9 1337.7h0M318.2 1337.7h0M514.6 1335.1h2.5M320.5 1335.1h0M321.4 1332.5h5.9M516.6 1332.5h0M322.7 1329.9h5.9M519 1329.9h5.9M327.4 1324.7h7.9M523.2 1324.7h0M329.1 1322.1h7.9M527.4 1322.1h5.9M333.3 1319.5h5.9M529.6 1319.5h4.4M536.6 1319.5h0M335.8 1316.9h5.9M532.2 1316.9h2.4M535.7 1316.9h0M337.6 1314.3h5.9M535.9 1314.3h5.9M338.9 1311.7h7.9M341.2 1309.1h7.9M541.5 1309.1h2.7M337 1309.1h0M345.1 1306.5h5.9M543.4 1306.5h5.9M349 1303.9h4M545.4 1303.9h2.5M350 1301.3h5.9M554.5 1298.7h0M554.4 1298.7h0M358.8 1296.1h2M555.2 1296.1h1.4M556.1 1293.5h5.9M361 1293.5h0M362.6 1293.5h0M363.5 1290.9h2M559.8 1290.9h5.9M358.7 1290.9h0M366.4 1288.3h2M562.8 1288.3h2.9M567.6 1283.1h5.9M367.1 1283.1h0M373.2 1283.1h0M368.2 1280.5h5.9M570.5 1280.5h5.9M370.6 1277.9h5.9M572.8 1277.9h5.9M368.9 1277.9h0M575.7 1275.3h5.9M377.7 1272.7h2M578 1272.7h5.9M374.2 1270.1h7.9M581.3 1270.1h0M588.7 1270.1h0M589.5 1270.1h0M376.6 1267.5h7.9M584.8 1267.5h5.9M384.2 1264.9h2M586.5 1264.9h5.9M379.4 1262.3h7.9M589.6 1262.3h2.2M593.4 1259.7h1.8M597.7 1259.7h0M383.9 1257.1h0M387.1 1254.5h0M600.5 1254.5h0M401.2 1251.9h0M389.5 1251.9h0M599.5 1249.3h0M608.7 1246.7h0M393.6 1244.1h0M607.2 1244.1h0M404.4 1241.5h0M614 1238.9h0M619.6 1238.9h0M404.8 1236.3h2M400 1233.7h7.9M620.1 1233.7h5.9M401.3 1231.1h7.9M623.4 1231.1h5.9M402.8 1228.4h7.9M626.9 1228.4h4.2M403.9 1225.8h9.9M630 1225.8h3.9M407.1 1223.2h7.9M633.2 1223.2h5.9M402.6 1223.2h0M410.2 1220.6h5.9M640.8 1220.6h0M634 1220.6h0M416 1218h2M648.1 1218h0M642.2 1215.4h0M650.2 1215.4h0M413.2 1212.8h9.9M645.2 1212.8h5.9M409.7 1212.8h0M416.2 1210.2h7.9M648.2 1210.2h6.6M418.1 1207.6h7.9M650.1 1207.6h5.9M418.5 1205h9.9M654.5 1205h4M420.8 1202.4h9.9M656.8 1202.4h5.9M422.7 1199.8h7.9M660.6 1199.8h1.8M424.5 1197.2h7.9M662.5 1197.2h5.9M425.9 1194.6h9.9M667.9 1194.6h4M430.1 1192h5.9M670.1 1192h5.9M430.6 1189.4h7.9M674.5 1189.4h5.9M428.5 1189.4h0M430.8 1186.8h9.9M678.7 1186.8h5.9M433.5 1184.2h9.9M683.4 1184.2h4M434.9 1181.6h9.9M686.8 1181.6h6.6M436.8 1179h9.9M690.6 1179h2.8M438.6 1176.4h9.9M693.4 1176.4h0M440.3 1173.8h9.9M442.1 1171.2h9.9M443.7 1168.6h9.9M447.8 1163.4h9.9M448.7 1160.8h9.9M451.5 1158.2h9.9M453.4 1155.6h9.9M455.5 1153h9.9M458.1 1150.4h9.9M462.3 1147.8h9.9M466 1145.2h9.9M469.2 1142.6h9.9M473.8 1140h9.9M476.7 1137.4h9.9M481.7 1134.8h9.9M484.7 1132.2h9.9M489.1 1129.6h9.9M481.1 1129.6h0M496.8 1127h4M279.5 1551h9.9M494.5 1109.3h7.9M322.3 1330.2h7.9M518.6 1330.2h5.9"/>
<path stroke="#51a4a2" d="M128.8 1532.9h2M333.2 1532.9h0M339 1532.9h0M348.7 1532.9h0M340.1 1532.9h0M132.7 1530.3h2M337 1530.3h9.9M134.7 1527.7h2M339 1527.7h9.9M137.6 1525.1h4M341.9 1525.1h9.9M141.7 1522.5h2M344 1522.5h9.9M146.1 1519.9h2M346.4 1519.9h9.9M149.3 1517.3h2M347.6 1517.3h11.9M152.1 1514.7h4M350.4 1514.7h9.9M352.9 1512.1h9.9M155.4 1512.1h0M355.3 1509.5h9.9M357 1506.9h9.9M360.6 1504.3h9.9M171 1501.7h4M363.4 1501.7h9.9M167.3 1501.7h0M366.4 1499.1h9.9M176.4 1496.5h4M368.8 1496.5h9.9M180.1 1493.9h4M372.5 1493.9h9.9M181.7 1491.3h5.9M374 1491.3h9.9M184.2 1488.7h5.9M376.6 1488.7h9.9M187.3 1486.1h4M379.7 1486.1h9.9M188.7 1483.5h5.9M383 1483.5h9.9M191.1 1480.8h5.9M385.4 1480.8h9.9M194.4 1478.2h5.9M388.7 1478.2h9.9M196.8 1475.6h5.9M391.2 1475.6h9.9M198.9 1473h5.9M393.2 1473h9.9M202.4 1470.4h4M396.7 1470.4h9.9M203.8 1467.8h5.9M398.1 1467.8h9.9M209.3 1465.2h2M401.6 1465.2h9.9M208.4 1462.6h5.9M404.8 1462.6h9.9M211.2 1460h5.9M405.5 1460h8.3M214.8 1457.4h4M409.2 1457.4h7.9M216.7 1454.8h5.9M411.1 1454.8h7.9M220 1452.2h4M412.4 1452.2h9.9M221.4 1449.6h5.9M413.7 1449.6h9.9M228.4 1447h2M416.8 1447h7.9M226.5 1444.4h5.9M416.9 1444.4h9.9M420.4 1441.8h7.9M232.6 1441.8h0M232.3 1439.2h4M420.7 1439.2h9.9M233.8 1436.6h5.9M424.2 1436.6h7.9M236.5 1434h5.9M424.8 1434h9.9M238.6 1431.4h5.9M427 1431.4h8.8M242.2 1428.8h5.9M428.6 1428.8h9.9M243.7 1426.2h5.9M432.1 1426.2h7.9M246.9 1423.6h5.9M433.3 1423.6h5.3M249.6 1421h5.9M436 1421h7.9M252 1418.4h5.9M436.4 1418.4h3.8M252.4 1415.8h7.9M438.8 1415.8h5.6M448.5 1415.8h0M255.6 1413.2h5.9M440 1413.2h6.5M442.1 1410.6h7.9M260.5 1410.6h0M263.2 1408h2M445.6 1408h7.9M266.9 1405.4h2M447.3 1405.4h7.9M265.8 1402.8h4M448.2 1402.8h7.9M264.6 1402.8h0M268 1400.2h4M450.5 1400.2h7.9M269.3 1397.6h5.9M451.7 1397.6h1.7M263.4 1397.6h0M275.2 1395h2M453.7 1395h7.9M272.3 1392.4h7.9M456.5 1392.4h0M268.2 1392.4h0M464.4 1392.4h0M276.5 1389.8h5.9M459 1389.8h2.5M271.6 1389.8h0M277.4 1387.2h5.9M459.8 1387.2h7.9M280.3 1384.6h5.9M462.7 1384.6h5.9M282.4 1382h5.9M464.8 1382h5.9M284.3 1379.4h5.9M466.7 1379.4h5.9M287.6 1376.8h5.9M468.1 1376.8h7.9M288.3 1374.2h5.9M468.8 1374.2h7.9M290.8 1371.6h5.9M471.3 1371.6h7.9M293.1 1369h5.9M477.2 1369h0M294.8 1366.4h7.9M477.3 1366.4h7.9M298.1 1363.8h5.9M480.5 1363.8h5.9M299.3 1361.2h7.9M481.7 1361.2h5.8M487.7 1361.2h0M304.3 1358.6h5.9M484.8 1358.6h5.9M303.6 1358.6h0M305.5 1355.9h5.9M487.4 1355.9h0M308.4 1353.3h5.9M487.6 1353.3h0M494.4 1353.3h0M309.3 1350.7h7.9M499.9 1350.7h0M312.9 1348.1h5.9M495.4 1348.1h5.9M314.9 1345.5h7.9M497.3 1345.5h5.9M318.1 1342.9h5.9M500.5 1342.9h5.9M319.8 1340.3h7.9M502.2 1340.3h5.9M327.7 1337.7h2M504.2 1337.7h7.9M323.5 1337.7h0M324.2 1335.1h7.9M506.7 1335.1h7.9M316.3 1335.1h0M327.3 1332.5h7.9M509.8 1332.5h3.1M513.2 1332.5h0M328.7 1329.9h7.9M511.1 1329.9h7.9M333.4 1327.3h5.9M331.7 1327.3h0M335.4 1324.7h5.9M337.1 1322.1h7.9M519.5 1322.1h7.9M339.2 1319.5h7.9M523.7 1319.5h5.9M341.8 1316.9h7.9M526.2 1316.9h5.9M343.5 1314.3h7.9M527.9 1314.3h7.9M346.9 1311.7h7.9M349.1 1309.1h7.9M533.5 1309.1h7.9M351.1 1306.5h7.9M537.5 1306.5h5.9M353 1303.9h9.9M539.4 1303.9h5.9M356 1301.3h7.9M547.2 1301.3h0M360.9 1298.7h5.9M545.4 1298.7h4.7M360.6 1298.7h0M360.8 1296.1h7.9M547.2 1296.1h7.9M363.8 1293.5h7.9M550.2 1293.5h5.9M359.4 1293.5h0M365.5 1290.9h7.9M553.8 1290.9h5.9M368.4 1288.3h7.9M556.8 1288.3h5.9M371.8 1285.7h7.9M558.3 1285.7h5.7M379.2 1283.1h2M561.6 1283.1h5.9M374.2 1280.5h7.9M564.5 1280.5h5.9M376.5 1277.9h7.9M566.9 1277.9h5.9M377.4 1275.3h9.9M569.7 1275.3h5.9M370.1 1275.3h0M379.7 1272.7h9.9M572 1272.7h5.9M382.1 1270.1h7.9M576.5 1270.1h4.8M384.6 1267.5h7.9M578.9 1267.5h5.9M386.2 1264.9h7.9M580.5 1264.9h5.9M387.3 1262.3h9.9M583.7 1262.3h5.9M389.2 1259.7h9.9M587.5 1259.7h5.9M396.1 1257.1h4M588.4 1257.1h2.4M592.4 1254.5h3.4M398.2 1254.5h0M596 1254.5h0M598 1254.5h0M594.2 1251.9h0M387.2 1251.9h0M403.8 1251.9h0M387 1251.9h0M400 1249.3h0M406.3 1249.3h0M403.2 1249.3h0M601.2 1249.3h0M604.5 1244.1h0M402.6 1244.1h0M395 1244.1h0M406.2 1241.5h5.9M606.9 1241.5h0M403.8 1241.5h0M608.2 1241.5h0M609.7 1238.9h4.3M406.8 1236.3h7.9M611.1 1236.3h4.7M407.9 1233.7h9.9M614.1 1233.7h5.9M409.3 1231.1h9.9M617.5 1231.1h5.9M410.7 1228.4h9.9M620.9 1228.4h5.9M413.8 1225.8h9.9M624.1 1225.8h5.9M415.1 1223.2h9.9M627.3 1223.2h5.9M416.1 1220.6h9.9M630 1220.6h0M633.6 1220.6h0M418 1218h11.9M634.1 1218h1.1M421.7 1215.4h9.9M635.9 1215.4h6.3M418.9 1215.4h0M423.1 1212.8h9.9M639.2 1212.8h5.9M424.1 1210.2h9.9M642.2 1210.2h5.9M426 1207.6h9.9M646.1 1207.6h4M428.4 1205h9.9M648.6 1205h5.9M430.7 1202.4h9.9M650.8 1202.4h5.9M430.6 1199.8h11.9M654.7 1199.8h5.9M665.6 1199.8h0M432.5 1197.2h11.9M658.5 1197.2h4M435.8 1194.6h9.9M661.9 1194.6h5.9M436.1 1192h11.9M666.1 1192h4M438.5 1189.4h11.9M668.6 1189.4h5.9M440.7 1186.8h11.9M672.7 1186.8h5.9M443.5 1184.2h9.9M677.5 1184.2h5.9M444.8 1181.6h9.9M680.8 1181.6h5.9M446.7 1179h9.9M684.6 1179h5.9M448.5 1176.4h9.9M688.5 1176.4h4.9M450.2 1173.8h11.9M692.1 1173.8h1.3M452 1171.2h11.9M453.6 1168.6h11.9M456.6 1166h9.9M457.7 1163.4h11.9M458.6 1160.8h11.9M461.5 1158.2h11.9M463.3 1155.6h11.9M465.4 1153h11.9M468 1150.4h11.9M472.2 1147.8h11.9M475.9 1145.2h11.9M479.1 1142.6h11.9M483.7 1140h11.9M486.6 1137.4h11.9M491.6 1134.8h11.9M494.6 1132.2h11.9M499 1129.6h11.9M506.8 1127h7.9M271.6 1551h7.9M502.5 1109.3h7.9M330.2 1330.2h5.9M512.7 1330.2h5.9"/>
<path stroke="#4e9ea1" d="M130.8 1532.9h2M321.1 1532.9h0M134.7 1530.3h2M325.1 1530.3h11.9M136.7 1527.7h2M327.1 1527.7h11.9M330 1525.1h11.9M143.7 1522.5h2M332.1 1522.5h11.9M148.1 1519.9h2M334.5 1519.9h11.9M151.2 1517.3h2M335.7 1517.3h11.9M156 1514.7h2M338.5 1514.7h11.9M158.5 1512.1h4M341 1512.1h11.9M343.4 1509.5h11.9M347 1506.9h9.9M165.1 1506.9h0M348.7 1504.3h11.9M175 1501.7h4M351.5 1501.7h11.9M178 1499.1h4M354.5 1499.1h11.9M180.4 1496.5h5.9M356.9 1496.5h11.9M184.1 1493.9h4M360.6 1493.9h11.9M187.6 1491.3h4M362.1 1491.3h11.9M190.2 1488.7h4M364.7 1488.7h11.9M191.3 1486.1h5.9M367.8 1486.1h11.9M194.7 1483.5h5.9M371.2 1483.5h11.9M197 1480.8h5.9M373.5 1480.8h11.9M200.3 1478.2h4M376.8 1478.2h11.9M202.8 1475.6h5.9M379.3 1475.6h11.9M204.8 1473h5.9M381.3 1473h11.9M206.3 1470.4h5.9M384.8 1470.4h11.9M209.7 1467.8h5.9M388.2 1467.8h9.9M211.2 1465.2h5.9M389.7 1465.2h11.9M214.4 1462.6h5.9M392.9 1462.6h11.9M217.1 1460h5.9M395.6 1460h9.9M218.8 1457.4h5.9M397.3 1457.4h11.9M222.7 1454.8h5.9M399.2 1454.8h11.9M224 1452.2h5.9M400.5 1452.2h11.9M227.3 1449.6h5.9M403.8 1449.6h9.9M230.4 1447h5.9M404.9 1447h11.9M232.5 1444.4h5.9M407 1444.4h9.9M233.9 1441.8h7.9M408.5 1441.8h11.9M236.3 1439.2h7.9M410.8 1439.2h9.9M239.7 1436.6h5.9M414.3 1436.6h9.9M242.4 1434h5.9M414.9 1434h9.9M244.5 1431.4h5.9M417.1 1431.4h9.9M248.1 1428.8h5.9M418.7 1428.8h9.9M249.7 1426.2h5.9M422.2 1426.2h9.9M252.8 1423.6h5.9M423.4 1423.6h9.9M255.6 1421h5.9M426.1 1421h9.9M257.9 1418.4h5.9M426.5 1418.4h9.9M260.3 1415.8h5.9M428.9 1415.8h9.9M261.5 1413.2h5.9M432.1 1413.2h7.9M265.6 1410.6h5.9M434.1 1410.6h7.9M264.4 1410.6h0M265.2 1408h7.9M435.7 1408h9.9M268.8 1405.4h5.9M437.4 1405.4h9.9M269.7 1402.8h7.9M440.3 1402.8h7.9M272 1400.2h7.9M440.6 1400.2h9.9M275.2 1397.6h5.9M443.8 1397.6h7.9M454.8 1397.6h0M277.2 1395h7.9M445.8 1395h7.9M280.3 1392.4h5.9M446.9 1392.4h9.7M282.5 1389.8h5.9M449 1389.8h9.9M283.3 1387.2h7.9M451.9 1387.2h7.9M286.2 1384.6h7.9M452.8 1384.6h9.9M288.3 1382h7.9M454.9 1382h9.9M290.2 1379.4h7.9M456.8 1379.4h9.9M293.6 1376.8h5.9M460.2 1376.8h7.9M294.3 1374.2h7.9M460.9 1374.2h7.9M296.8 1371.6h7.9M463.4 1371.6h7.9M299 1369h7.9M467.6 1369h1.3M302.8 1366.4h7.9M469.4 1366.4h7.9M304.1 1363.8h7.9M472.6 1363.8h7.9M307.2 1361.2h7.9M473.8 1361.2h7.9M310.3 1358.6h7.9M476.9 1358.6h7.9M311.5 1355.9h9.9M480.1 1355.9h7.4M489.7 1355.9h0M314.3 1353.3h7.9M482.9 1353.3h3.5M486.8 1353.3h0M490.5 1353.3h0M487.2 1353.3h0M495.8 1353.3h0M317.2 1350.7h7.9M483.8 1350.7h7.3M318.9 1348.1h9.9M487.5 1348.1h7.9M322.8 1345.5h7.9M489.4 1345.5h7.9M324 1342.9h9.9M492.6 1342.9h7.9M327.7 1340.3h7.9M494.3 1340.3h7.9M329.7 1337.7h7.9M496.3 1337.7h7.9M332.2 1335.1h7.9M498.7 1335.1h7.9M335.2 1332.5h7.9M501.8 1332.5h7.9M336.6 1329.9h9.9M505.2 1329.9h5.9M339.4 1327.3h7.9M508 1327.3h5.6M341.3 1324.7h9.9M510.8 1324.7h0M515.7 1324.7h0M511.4 1324.7h0M345 1322.1h7.9M513.6 1322.1h5.9M347.2 1319.5h7.9M515.7 1319.5h7.9M349.7 1316.9h7.9M518.3 1316.9h7.9M351.4 1314.3h9.9M522 1314.3h5.9M354.8 1311.7h7.9M523.3 1311.7h6.1M357 1309.1h7.9M527.6 1309.1h5.9M359 1306.5h9.9M529.6 1306.5h7.9M362.9 1303.9h7.9M533.5 1303.9h5.9M363.9 1301.3h9.9M534.5 1301.3h6.5M545.3 1301.3h0M366.9 1298.7h9.9M537.4 1298.7h7.9M368.7 1296.1h9.9M541.3 1296.1h5.9M371.7 1293.5h9.9M544.2 1293.5h5.9M373.4 1290.9h9.9M545.9 1290.9h7.9M376.4 1288.3h9.9M548.9 1288.3h7.9M379.8 1285.7h7.9M552.3 1285.7h5.9M381.1 1283.1h9.9M555.7 1283.1h5.9M382.1 1280.5h9.9M558.6 1280.5h5.9M384.5 1277.9h9.9M560.9 1277.9h5.9M387.3 1275.3h9.9M563.8 1275.3h5.9M389.6 1272.7h9.9M566.1 1272.7h5.9M390.1 1270.1h9.9M568.6 1270.1h7.9M392.5 1267.5h9.9M571 1267.5h7.9M394.1 1264.9h9.9M574.6 1264.9h5.9M397.3 1262.3h9.9M577.7 1262.3h5.9M399.1 1259.7h9.9M579.6 1259.7h7.9M400.1 1257.1h9.9M582.5 1257.1h5.9M395.7 1257.1h0M406 1254.5h5.9M586.5 1254.5h5.9M405.4 1251.9h9.9M587.8 1251.9h6.3M413.1 1249.3h4M591.6 1249.3h2.2M599.1 1249.3h0M594.4 1246.7h1.3M414.7 1246.7h0M413.4 1244.1h7.9M595.9 1244.1h8.6M407.1 1244.1h0M412.1 1241.5h9.9M600.5 1241.5h6.4M413.4 1238.9h11.9M601.8 1238.9h7.9M411.6 1238.9h0M414.8 1236.3h11.9M605.1 1236.3h5.9M417.8 1233.7h11.9M608.2 1233.7h5.9M419.2 1231.1h11.9M611.6 1231.1h5.9M420.6 1228.4h11.9M615 1228.4h5.9M423.8 1225.8h11.9M618.1 1225.8h5.9M425 1223.2h11.9M621.3 1223.2h5.9M426 1220.6h11.9M624.3 1220.6h4.1M429.9 1218h9.9M626.2 1218h7.9M431.7 1215.4h11.9M630 1215.4h5.9M417.8 1215.4h0M433 1212.8h11.9M633.3 1212.8h5.9M434 1210.2h11.9M636.3 1210.2h5.9M435.9 1207.6h11.9M638.2 1207.6h7.9M438.3 1205h11.9M642.6 1205h5.9M440.6 1202.4h11.9M644.9 1202.4h5.9M442.5 1199.8h11.9M648.7 1199.8h5.9M444.4 1197.2h11.9M650.6 1197.2h7.9M445.8 1194.6h13.9M656 1194.6h5.9M448 1192h11.9M658.2 1192h7.9M450.4 1189.4h11.9M662.6 1189.4h5.9M452.6 1186.8h11.9M666.8 1186.8h5.9M453.4 1184.2h13.9M669.5 1184.2h7.9M454.7 1181.6h13.9M674.9 1181.6h5.9M456.6 1179h13.9M678.7 1179h5.9M458.4 1176.4h13.9M680.6 1176.4h7.9M462.1 1173.8h11.9M686.2 1173.8h5.9M463.9 1171.2h11.9M690 1171.2h3.4M465.5 1168.6h13.9M693.4 1168.6h0M466.6 1166h13.9M469.6 1163.4h13.9M470.5 1160.8h13.9M473.4 1158.2h13.9M475.2 1155.6h13.9M477.3 1153h13.9M479.9 1150.4h13.9M484.1 1147.8h13.9M487.8 1145.2h13.9M491 1142.6h13.9M495.6 1140h13.9M498.5 1137.4h13.9M503.5 1134.8h13.9M506.5 1132.2h13.9M510.9 1129.6h13.9M514.7 1127h11.9M261.7 1551h9.9M510.4 1109.3h11.9M336.2 1330.2h9.9M504.7 1330.2h7.9"/>
<path stroke="#4c98a0" d="M132.7 1532.9h2M307.3 1532.9h13.9M309.2 1530.3h15.9M138.7 1527.7h2M313.2 1527.7h13.9M141.6 1525.1h2M314.1 1525.1h15.9M145.7 1522.5h2M318.2 1522.5h13.9M150 1519.9h2M320.6 1519.9h13.9M153.2 1517.3h2M321.8 1517.3h13.9M158 1514.7h2M324.6 1514.7h13.9M162.5 1512.1h2M327.1 1512.1h13.9M329.5 1509.5h13.9M333.2 1506.9h13.9M334.8 1504.3h13.9M179 1501.7h4M337.6 1501.7h13.9M182 1499.1h5.9M340.6 1499.1h13.9M186.4 1496.5h4M343 1496.5h13.9M188.1 1493.9h5.9M346.7 1493.9h13.9M191.6 1491.3h5.9M350.2 1491.3h11.9M194.2 1488.7h5.9M352.8 1488.7h11.9M197.2 1486.1h5.9M355.9 1486.1h11.9M200.6 1483.5h5.9M357.3 1483.5h13.9M203 1480.8h5.9M361.6 1480.8h11.9M204.3 1478.2h7.9M362.9 1478.2h13.9M208.7 1475.6h5.9M365.4 1475.6h13.9M210.8 1473h5.9M369.4 1473h11.9M212.3 1470.4h5.9M372.9 1470.4h11.9M215.6 1467.8h5.9M374.3 1467.8h13.9M217.2 1465.2h7.9M377.8 1465.2h11.9M220.3 1462.6h5.9M381 1462.6h11.9M223.1 1460h5.9M381.7 1460h13.9M224.8 1457.4h7.9M385.4 1457.4h11.9M228.6 1454.8h5.9M387.3 1454.8h11.9M229.9 1452.2h7.9M388.6 1452.2h11.9M233.3 1449.6h5.9M391.9 1449.6h11.9M236.3 1447h5.9M393 1447h11.9M238.4 1444.4h5.9M395.1 1444.4h11.9M241.9 1441.8h5.9M396.6 1441.8h11.9M244.2 1439.2h5.9M398.9 1439.2h11.9M245.7 1436.6h7.9M402.4 1436.6h11.9M248.4 1434h7.9M403 1434h11.9M250.5 1431.4h7.9M405.2 1431.4h11.9M254.1 1428.8h5.9M408.8 1428.8h9.9M255.6 1426.2h7.9M410.3 1426.2h11.9M258.8 1423.6h7.9M411.5 1423.6h11.9M261.5 1421h7.9M414.2 1421h11.9M263.9 1418.4h7.9M416.6 1418.4h9.9M266.3 1415.8h7.9M419 1415.8h9.9M267.5 1413.2h7.9M420.2 1413.2h11.9M271.5 1410.6h5.9M422.2 1410.6h11.9M273.1 1408h7.9M425.8 1408h9.9M274.8 1405.4h7.9M427.5 1405.4h9.9M277.7 1402.8h7.9M428.4 1402.8h11.9M279.9 1400.2h7.9M430.7 1400.2h9.9M281.2 1397.6h7.9M433.9 1397.6h9.9M285.1 1395h7.9M435.9 1395h9.9M286.2 1392.4h7.9M436.9 1392.4h9.9M288.4 1389.8h7.9M439.1 1389.8h9.9M291.3 1387.2h7.9M442 1387.2h9.9M294.1 1384.6h7.9M444.9 1384.6h7.9M296.3 1382h7.9M447 1382h7.9M298.2 1379.4h7.9M448.9 1379.4h7.9M299.5 1376.8h9.9M450.3 1376.8h9.9M302.2 1374.2h9.9M452.9 1374.2h7.9M304.7 1371.6h9.9M455.4 1371.6h7.9M307 1369h9.9M457.7 1369h9.9M310.7 1366.4h7.9M461.4 1366.4h7.9M312 1363.8h9.9M462.7 1363.8h9.9M315.2 1361.2h9.9M465.9 1361.2h7.9M318.2 1358.6h7.9M468.9 1358.6h7.9M321.4 1355.9h7.9M470.1 1355.9h9.9M322.2 1353.3h9.9M473 1353.3h9.9M325.2 1350.7h9.9M475.9 1350.7h7.9M328.8 1348.1h7.9M479.5 1348.1h7.9M330.7 1345.5h9.9M481.4 1345.5h7.9M334 1342.9h7.9M484.7 1342.9h7.9M335.7 1340.3h9.9M486.4 1340.3h7.9M337.6 1337.7h9.9M488.3 1337.7h7.9M340.1 1335.1h9.9M490.8 1335.1h7.9M343.2 1332.5h9.9M493.9 1332.5h7.9M346.5 1329.9h7.9M497.2 1329.9h7.9M347.3 1327.3h9.9M500 1327.3h7.9M351.2 1324.7h9.9M502 1324.7h8.9M352.9 1322.1h9.9M505.6 1322.1h7.9M355.1 1319.5h9.9M507.8 1319.5h7.9M357.7 1316.9h9.9M510.4 1316.9h7.9M361.3 1314.3h9.9M514 1314.3h7.9M362.7 1311.7h9.9M517.4 1311.7h5.9M365 1309.1h11.9M519.6 1309.1h7.9M368.9 1306.5h9.9M521.6 1306.5h7.9M370.8 1303.9h9.9M525.5 1303.9h7.9M373.8 1301.3h9.9M528.5 1301.3h5.9M376.8 1298.7h9.9M531.5 1298.7h5.9M378.7 1296.1h9.9M533.3 1296.1h7.9M381.6 1293.5h9.9M536.3 1293.5h7.9M383.3 1290.9h9.9M538 1290.9h7.9M386.3 1288.3h9.9M541 1288.3h7.9M387.7 1285.7h11.9M544.4 1285.7h7.9M391.1 1283.1h9.9M547.7 1283.1h7.9M392 1280.5h11.9M550.7 1280.5h7.9M394.4 1277.9h11.9M553 1277.9h7.9M397.2 1275.3h9.9M555.9 1275.3h7.9M399.5 1272.7h9.9M558.1 1272.7h7.9M400 1270.1h11.9M560.6 1270.1h7.9M402.4 1267.5h11.9M565 1267.5h5.9M404 1264.9h11.9M566.6 1264.9h7.9M407.2 1262.3h11.9M569.8 1262.3h7.9M409 1259.7h11.9M573.6 1259.7h5.9M410 1257.1h11.9M576.5 1257.1h5.9M412 1254.5h11.9M578.6 1254.5h7.9M415.3 1251.9h11.9M581.9 1251.9h5.9M417.1 1249.3h11.9M583.6 1249.3h7.9M423.9 1246.7h7.9M586.5 1246.7h7.9M422.1 1246.7h0M421.4 1244.1h11.9M589.9 1244.1h5.9M422 1241.5h13.9M592.6 1241.5h7.9M425.3 1238.9h11.9M595.8 1238.9h5.9M426.7 1236.3h13.9M599.2 1236.3h5.9M429.7 1233.7h11.9M602.2 1233.7h5.9M431.1 1231.1h11.9M605.6 1231.1h5.9M432.5 1228.4h13.9M607 1228.4h7.9M435.7 1225.8h11.9M610.2 1225.8h7.9M436.9 1223.2h13.9M613.4 1223.2h7.9M437.9 1220.6h13.9M616.4 1220.6h7.9M439.8 1218h13.9M620.2 1218h5.9M443.6 1215.4h13.9M624 1215.4h5.9M444.9 1212.8h13.9M625.3 1212.8h7.9M445.9 1210.2h15.9M628.3 1210.2h7.9M447.8 1207.6h15.9M632.2 1207.6h5.9M450.2 1205h13.9M634.7 1205h7.9M452.5 1202.4h13.9M638.9 1202.4h5.9M454.4 1199.8h15.9M640.8 1199.8h7.9M456.3 1197.2h15.9M644.7 1197.2h5.9M459.6 1194.6h13.9M648 1194.6h7.9M459.9 1192h15.9M652.2 1192h5.9M462.3 1189.4h15.9M656.7 1189.4h5.9M464.5 1186.8h15.9M658.9 1186.8h7.9M467.3 1184.2h13.9M663.6 1184.2h5.9M468.6 1181.6h15.9M666.9 1181.6h7.9M470.5 1179h15.9M670.8 1179h7.9M472.3 1176.4h15.9M674.6 1176.4h5.9M474 1173.8h15.9M678.3 1173.8h7.9M475.8 1171.2h17.8M682.1 1171.2h7.9M479.4 1168.6h15.9M687.6 1168.6h5.8M480.4 1166h15.9M690.6 1166h2.8M483.5 1163.4h15.9M484.4 1160.8h15.9M487.2 1158.2h15.9M489.1 1155.6h15.9M491.2 1153h15.9M493.8 1150.4h17.8M497.9 1147.8h17.8M501.7 1145.2h17.8M504.8 1142.6h17.8M509.5 1140h15.9M512.4 1137.4h17.8M517.4 1134.8h15.9M520.4 1132.2h15.9M524.8 1129.6h15.9M526.6 1127h4M538.5 1127h5.9M253.7 1551h7.9M522.3 1109.3h13.9M346.1 1330.2h9.9M496.8 1330.2h7.9"/>
<path stroke="#4a929f" d="M291.4 1532.9h15.9M136.7 1530.3h2M293.4 1530.3h15.9M140.7 1527.7h2M297.3 1527.7h15.9M143.6 1525.1h2M298.2 1525.1h15.9M147.7 1522.5h2M302.3 1522.5h15.9M304.7 1519.9h15.9M155.2 1517.3h2M305.9 1517.3h15.9M160 1514.7h2M308.7 1514.7h15.9M164.5 1512.1h2M311.2 1512.1h15.9M313.7 1509.5h15.9M176.5 1506.9h2M317.3 1506.9h15.9M178.1 1504.3h5.9M320.9 1504.3h13.9M182.9 1501.7h5.9M323.7 1501.7h13.9M187.9 1499.1h5.9M324.8 1499.1h15.9M190.3 1496.5h7.9M329.1 1496.5h13.9M194 1493.9h7.9M330.8 1493.9h15.9M197.6 1491.3h5.9M334.4 1491.3h15.9M200.1 1488.7h5.9M336.9 1488.7h15.9M203.2 1486.1h5.9M340 1486.1h15.9M206.6 1483.5h5.9M343.4 1483.5h13.9M208.9 1480.8h5.9M345.8 1480.8h15.9M212.2 1478.2h5.9M349.1 1478.2h13.9M214.7 1475.6h5.9M351.5 1475.6h13.9M216.7 1473h5.9M353.6 1473h15.9M218.2 1470.4h7.9M357 1470.4h15.9M221.6 1467.8h7.9M360.4 1467.8h13.9M225.1 1465.2h5.9M362 1465.2h15.9M226.3 1462.6h7.9M365.1 1462.6h15.9M229 1460h7.9M367.9 1460h13.9M232.7 1457.4h5.9M369.5 1457.4h15.9M234.6 1454.8h7.9M373.4 1454.8h13.9M237.8 1452.2h5.9M374.7 1452.2h13.9M239.2 1449.6h7.9M378 1449.6h13.9M242.3 1447h7.9M379.1 1447h13.9M244.4 1444.4h7.9M381.2 1444.4h13.9M247.8 1441.8h7.9M384.7 1441.8h11.9M250.2 1439.2h7.9M387 1439.2h11.9M253.6 1436.6h5.9M388.5 1436.6h13.9M256.3 1434h5.9M391.1 1434h11.9M258.4 1431.4h7.9M393.3 1431.4h11.9M260 1428.8h7.9M394.9 1428.8h13.9M263.6 1426.2h7.9M396.4 1426.2h13.9M266.7 1423.6h7.9M399.6 1423.6h11.9M269.4 1421h7.9M402.3 1421h11.9M271.8 1418.4h7.9M404.7 1418.4h11.9M274.2 1415.8h7.9M407.1 1415.8h11.9M275.4 1413.2h7.9M408.3 1413.2h11.9M277.5 1410.6h9.9M410.3 1410.6h11.9M281 1408h7.9M413.9 1408h11.9M282.7 1405.4h7.9M415.6 1405.4h11.9M285.6 1402.8h7.9M418.5 1402.8h9.9M287.9 1400.2h7.9M420.7 1400.2h9.9M289.1 1397.6h9.9M422 1397.6h11.9M293.1 1395h7.9M424 1395h11.9M294.2 1392.4h9.9M427 1392.4h9.9M296.3 1389.8h9.9M429.2 1389.8h9.9M299.2 1387.2h9.9M432.1 1387.2h9.9M302.1 1384.6h9.9M433 1384.6h11.9M304.2 1382h9.9M435.1 1382h11.9M306.1 1379.4h9.9M439 1379.4h9.9M309.5 1376.8h9.9M440.3 1376.8h9.9M312.1 1374.2h7.9M443 1374.2h9.9M314.6 1371.6h9.9M445.5 1371.6h9.9M316.9 1369h9.9M447.8 1369h9.9M318.6 1366.4h9.9M451.5 1366.4h9.9M321.9 1363.8h9.9M452.8 1363.8h9.9M325.1 1361.2h9.9M456 1361.2h9.9M326.2 1358.6h9.9M459 1358.6h9.9M329.3 1355.9h9.9M462.2 1355.9h7.9M332.2 1353.3h9.9M463 1353.3h9.9M335.1 1350.7h9.9M466 1350.7h9.9M336.7 1348.1h9.9M469.6 1348.1h9.9M340.6 1345.5h9.9M471.5 1345.5h9.9M341.9 1342.9h11.9M474.8 1342.9h9.9M345.6 1340.3h9.9M476.5 1340.3h9.9M347.5 1337.7h9.9M480.4 1337.7h7.9M350 1335.1h9.9M482.9 1335.1h7.9M353.1 1332.5h9.9M486 1332.5h7.9M354.4 1329.9h11.9M487.3 1329.9h9.9M357.2 1327.3h11.9M490.1 1327.3h9.9M361.2 1324.7h9.9M494 1324.7h7.9M362.8 1322.1h11.9M495.7 1322.1h9.9M365 1319.5h11.9M499.9 1319.5h7.9M367.6 1316.9h11.9M502.4 1316.9h7.9M371.3 1314.3h9.9M504.1 1314.3h9.9M372.6 1311.7h11.9M507.5 1311.7h9.9M376.9 1309.1h9.9M509.7 1309.1h9.9M378.8 1306.5h11.9M513.7 1306.5h7.9M380.8 1303.9h11.9M515.6 1303.9h9.9M383.7 1301.3h11.9M518.6 1301.3h9.9M386.7 1298.7h11.9M521.6 1298.7h9.9M388.6 1296.1h11.9M525.4 1296.1h7.9M391.5 1293.5h11.9M528.4 1293.5h7.9M393.2 1290.9h11.9M530.1 1290.9h7.9M396.2 1288.3h11.9M533 1288.3h7.9M399.6 1285.7h11.9M536.4 1285.7h7.9M401 1283.1h11.9M539.8 1283.1h7.9M403.9 1280.5h11.9M542.7 1280.5h7.9M406.3 1277.9h11.9M545.1 1277.9h7.9M407.1 1275.3h13.9M547.9 1275.3h7.9M409.4 1272.7h13.9M550.2 1272.7h7.9M411.9 1270.1h11.9M552.7 1270.1h7.9M414.3 1267.5h11.9M557.1 1267.5h7.9M415.9 1264.9h13.9M558.7 1264.9h7.9M419.1 1262.3h11.9M561.9 1262.3h7.9M420.9 1259.7h11.9M565.7 1259.7h7.9M421.9 1257.1h13.9M568.6 1257.1h7.9M423.9 1254.5h13.9M570.6 1254.5h7.9M427.2 1251.9h13.9M573.9 1251.9h7.9M429 1249.3h13.9M575.7 1249.3h7.9M431.8 1246.7h13.9M578.5 1246.7h7.9M422 1246.7h0M433.2 1244.1h13.9M582 1244.1h7.9M435.9 1241.5h13.9M584.6 1241.5h7.9M437.2 1238.9h13.9M587.9 1238.9h7.9M440.5 1236.3h13.9M591.3 1236.3h7.9M441.6 1233.7h13.9M594.3 1233.7h7.9M443 1231.1h15.9M597.7 1231.1h7.9M446.4 1228.4h13.9M601.1 1228.4h5.9M447.6 1225.8h15.9M604.2 1225.8h5.9M450.8 1223.2h13.9M605.5 1223.2h7.9M451.8 1220.6h15.9M610.5 1220.6h5.9M453.7 1218h15.9M612.3 1218h7.9M457.4 1215.4h15.9M616.1 1215.4h7.9M458.8 1212.8h15.9M619.4 1212.8h5.9M461.8 1210.2h15.9M622.4 1210.2h5.9M463.7 1207.6h15.9M624.3 1207.6h7.9M464.1 1205h17.8M628.7 1205h5.9M466.4 1202.4h17.8M631 1202.4h7.9M470.2 1199.8h15.9M634.8 1199.8h5.9M472.1 1197.2h15.9M636.7 1197.2h7.9M473.5 1194.6h17.8M642.1 1194.6h5.9M475.7 1192h17.8M644.3 1192h7.9M478.2 1189.4h17.8M648.7 1189.4h7.9M480.4 1186.8h17.8M652.9 1186.8h5.9M481.1 1184.2h17.8M655.6 1184.2h7.9M484.5 1181.6h17.8M659 1181.6h7.9M486.3 1179h17.8M662.8 1179h7.9M488.2 1176.4h17.8M666.7 1176.4h7.9M489.9 1173.8h17.8M670.3 1173.8h7.9M493.7 1171.2h17.8M674.1 1171.2h7.9M495.2 1168.6h17.8M679.7 1168.6h7.9M496.3 1166h19.8M682.7 1166h7.9M499.4 1163.4h17.8M687.8 1163.4h5.6M500.3 1160.8h19.8M690.7 1160.8h2.7M503.1 1158.2h19.8M504.9 1155.6h19.8M507.1 1153h19.8M511.6 1150.4h19.8M515.8 1147.8h17.8M519.5 1145.2h17.8M522.7 1142.6h17.8M525.4 1140h19.8M530.3 1137.4h17.8M533.3 1134.8h17.8M536.2 1132.2h19.8M540.6 1129.6h17.8M544.4 1127h13.9M245.8 1551h7.9M536.2 1109.3h117M356 1330.2h9.9M486.9 1330.2h9.9"/>
<path stroke="#478c9e" d="M134.7 1532.9h2M273.5 1532.9h5.9M285.4 1532.9h5.9M138.7 1530.3h2M275.5 1530.3h17.8M277.5 1527.7h19.8M145.5 1525.1h2M280.4 1525.1h17.8M284.5 1522.5h17.8M152 1519.9h2M286.9 1519.9h17.8M157.2 1517.3h2M290.1 1517.3h15.9M162 1514.7h2M290.9 1514.7h17.8M166.5 1512.1h2M295.4 1512.1h15.9M297.8 1509.5h15.9M178.5 1506.9h7.9M299.4 1506.9h17.8M184.1 1504.3h9.9M303.1 1504.3h17.8M188.9 1501.7h9.9M305.9 1501.7h17.8M193.9 1499.1h7.9M308.9 1499.1h15.9M198.3 1496.5h7.9M311.3 1496.5h17.8M201.9 1493.9h5.9M315 1493.9h15.9M203.5 1491.3h7.9M316.5 1491.3h17.8M206.1 1488.7h7.9M321.1 1488.7h15.9M209.1 1486.1h7.9M324.1 1486.1h15.9M212.5 1483.5h7.9M325.5 1483.5h17.8M214.9 1480.8h7.9M329.9 1480.8h15.9M218.2 1478.2h7.9M331.2 1478.2h17.8M220.6 1475.6h7.9M335.6 1475.6h15.9M222.7 1473h7.9M337.7 1473h15.9M226.1 1470.4h7.9M341.2 1470.4h15.9M229.5 1467.8h5.9M342.6 1467.8h17.8M231.1 1465.2h7.9M346.1 1465.2h15.9M234.2 1462.6h7.9M349.2 1462.6h15.9M237 1460h7.9M352 1460h15.9M238.6 1457.4h7.9M353.7 1457.4h15.9M242.5 1454.8h7.9M357.5 1454.8h15.9M243.8 1452.2h7.9M358.8 1452.2h15.9M247.1 1449.6h7.9M362.2 1449.6h15.9M250.2 1447h7.9M363.3 1447h15.9M252.3 1444.4h7.9M365.4 1444.4h15.9M255.8 1441.8h7.9M368.8 1441.8h15.9M258.1 1439.2h7.9M371.2 1439.2h15.9M259.6 1436.6h9.9M372.6 1436.6h15.9M262.2 1434h9.9M375.3 1434h15.9M266.3 1431.4h7.9M377.4 1431.4h15.9M268 1428.8h9.9M381 1428.8h13.9M271.5 1426.2h7.9M382.5 1426.2h13.9M274.7 1423.6h7.9M385.7 1423.6h13.9M277.4 1421h7.9M388.4 1421h13.9M279.7 1418.4h7.9M390.8 1418.4h13.9M282.1 1415.8h7.9M393.2 1415.8h13.9M283.3 1413.2h9.9M394.4 1413.2h13.9M287.4 1410.6h7.9M398.4 1410.6h11.9M289 1408h9.9M400 1408h13.9M290.7 1405.4h9.9M401.7 1405.4h13.9M293.5 1402.8h9.9M404.6 1402.8h13.9M295.8 1400.2h9.9M406.9 1400.2h13.9M299 1397.6h9.9M410.1 1397.6h11.9M301 1395h9.9M412.1 1395h11.9M304.1 1392.4h9.9M415.1 1392.4h11.9M306.3 1389.8h9.9M417.3 1389.8h11.9M309.1 1387.2h9.9M420.2 1387.2h11.9M312 1384.6h9.9M421.1 1384.6h11.9M314.1 1382h9.9M423.2 1382h11.9M316 1379.4h9.9M427.1 1379.4h11.9M319.4 1376.8h9.9M428.4 1376.8h11.9M320.1 1374.2h11.9M431.1 1374.2h11.9M324.5 1371.6h9.9M433.6 1371.6h11.9M326.8 1369h9.9M437.9 1369h9.9M328.6 1366.4h11.9M439.6 1366.4h11.9M331.8 1363.8h9.9M442.9 1363.8h9.9M335 1361.2h9.9M446 1361.2h9.9M336.1 1358.6h11.9M447.1 1358.6h11.9M339.3 1355.9h11.9M450.3 1355.9h11.9M342.1 1353.3h11.9M453.1 1353.3h9.9M345 1350.7h11.9M456.1 1350.7h9.9M346.7 1348.1h11.9M459.7 1348.1h9.9M350.6 1345.5h11.9M461.6 1345.5h9.9M353.8 1342.9h9.9M464.8 1342.9h9.9M355.5 1340.3h11.9M466.5 1340.3h9.9M357.4 1337.7h11.9M470.5 1337.7h9.9M359.9 1335.1h11.9M473 1335.1h9.9M363 1332.5h11.9M476 1332.5h9.9M366.3 1329.9h11.9M477.4 1329.9h9.9M369.1 1327.3h11.9M480.2 1327.3h9.9M371.1 1324.7h11.9M484.1 1324.7h9.9M374.7 1322.1h11.9M485.8 1322.1h9.9M376.9 1319.5h11.9M490 1319.5h9.9M379.5 1316.9h11.9M492.5 1316.9h9.9M381.2 1314.3h13.9M496.2 1314.3h7.9M384.5 1311.7h11.9M497.6 1311.7h9.9M386.8 1309.1h13.9M501.8 1309.1h7.9M390.7 1306.5h11.9M503.8 1306.5h9.9M392.7 1303.9h11.9M507.7 1303.9h7.9M395.6 1301.3h11.9M510.7 1301.3h7.9M398.6 1298.7h11.9M511.7 1298.7h9.9M400.5 1296.1h13.9M515.5 1296.1h9.9M403.4 1293.5h13.9M518.4 1293.5h9.9M405.1 1290.9h13.9M522.1 1290.9h7.9M408.1 1288.3h13.9M525.1 1288.3h7.9M411.5 1285.7h13.9M526.5 1285.7h9.9M412.9 1283.1h13.9M529.9 1283.1h9.9M415.8 1280.5h13.9M532.8 1280.5h9.9M418.2 1277.9h13.9M535.2 1277.9h9.9M421 1275.3h13.9M538 1275.3h9.9M423.3 1272.7h13.9M542.3 1272.7h7.9M423.8 1270.1h15.9M544.8 1270.1h7.9M426.2 1267.5h15.9M547.2 1267.5h9.9M429.8 1264.9h13.9M550.8 1264.9h7.9M431 1262.3h15.9M553.9 1262.3h7.9M432.8 1259.7h15.9M555.8 1259.7h9.9M435.7 1257.1h15.9M558.7 1257.1h9.9M437.8 1254.5h15.9M562.7 1254.5h7.9M441.1 1251.9h15.9M564 1251.9h9.9M442.8 1249.3h15.9M567.8 1249.3h7.9M445.7 1246.7h15.9M570.6 1246.7h7.9M447.1 1244.1h15.9M574 1244.1h7.9M449.8 1241.5h15.9M576.7 1241.5h7.9M451.1 1238.9h17.8M580 1238.9h7.9M454.4 1236.3h15.9M583.3 1236.3h7.9M455.5 1233.7h17.8M586.4 1233.7h7.9M458.9 1231.1h15.9M589.7 1231.1h7.9M460.3 1228.4h17.8M591.2 1228.4h9.9M463.4 1225.8h15.9M594.3 1225.8h9.9M464.7 1223.2h17.8M597.5 1223.2h7.9M467.7 1220.6h17.8M600.6 1220.6h9.9M469.5 1218h17.8M604.4 1218h7.9M473.3 1215.4h15.9M608.1 1215.4h7.9M474.6 1212.8h17.8M611.5 1212.8h7.9M477.6 1210.2h17.8M614.5 1210.2h7.9M479.5 1207.6h17.8M616.4 1207.6h7.9M482 1205h17.8M620.8 1205h7.9M484.2 1202.4h17.8M623.1 1202.4h7.9M486.1 1199.8h17.8M626.9 1199.8h7.9M488 1197.2h19.8M630.8 1197.2h5.9M491.4 1194.6h17.8M634.1 1194.6h7.9M493.6 1192h17.8M638.3 1192h5.9M496 1189.4h17.8M640.8 1189.4h7.9M498.2 1186.8h17.8M645 1186.8h7.9M499 1184.2h19.8M647.7 1184.2h7.9M502.3 1181.6h19.8M653.1 1181.6h5.9M504.2 1179h19.8M654.9 1179h7.9M506 1176.4h19.8M658.7 1176.4h7.9M507.7 1173.8h21.8M662.4 1173.8h7.9M511.5 1171.2h19.8M666.2 1171.2h7.9M513.1 1168.6h19.8M671.7 1168.6h7.9M516.1 1166h19.8M674.8 1166h7.9M517.2 1163.4h21.8M677.9 1163.4h9.9M520.1 1160.8h21.8M682.7 1160.8h7.9M522.9 1158.2h19.8M687.5 1158.2h5.9M524.8 1155.6h21.8M691.4 1155.6h2M526.9 1153h21.8M693.4 1153h0M531.4 1150.4h19.8M533.6 1147.8h21.8M537.4 1145.2h21.8M540.5 1142.6h21.8M545.2 1140h19.8M548.1 1137.4h21.8M551.1 1134.8h21.8M556 1132.2h19.8M558.5 1129.6h21.8M566.3 1127h9.9M237.9 1551h7.9M653.2 1109.3h2M365.9 1330.2h11.9M477 1330.2h9.9"/>
<path stroke="#45869d" d="M136.7 1532.9h0M253.7 1532.9h7.9M269.6 1532.9h4M255.7 1530.3h19.8M142.7 1527.7h2M257.7 1527.7h19.8M260.6 1525.1h19.8M149.6 1522.5h2M264.7 1522.5h19.8M154 1519.9h2M267.1 1519.9h19.8M159.2 1517.3h2M270.2 1517.3h19.8M164 1514.7h2M273 1514.7h17.8M168.5 1512.1h4M275.5 1512.1h19.8M180.8 1509.5h15.9M278 1509.5h19.8M174.5 1509.5h0M186.4 1506.9h15.9M281.6 1506.9h17.8M194 1504.3h9.9M283.2 1504.3h19.8M198.8 1501.7h7.9M286.1 1501.7h19.8M201.8 1499.1h7.9M289.1 1499.1h19.8M206.2 1496.5h7.9M293.4 1496.5h17.8M207.9 1493.9h7.9M295.1 1493.9h19.8M211.4 1491.3h7.9M298.7 1491.3h17.8M214 1488.7h7.9M301.3 1488.7h19.8M217 1486.1h7.9M304.3 1486.1h19.8M220.4 1483.5h7.9M307.7 1483.5h17.8M222.8 1480.8h7.9M310.1 1480.8h19.8M226.1 1478.2h7.9M313.4 1478.2h17.8M228.6 1475.6h7.9M315.8 1475.6h19.8M230.6 1473h7.9M319.8 1473h17.8M234.1 1470.4h7.9M321.3 1470.4h19.8M235.5 1467.8h9.9M324.7 1467.8h17.8M239 1465.2h7.9M328.2 1465.2h17.8M242.2 1462.6h7.9M331.4 1462.6h17.8M244.9 1460h7.9M334.1 1460h17.8M246.6 1457.4h9.9M335.8 1457.4h17.8M250.4 1454.8h7.9M339.7 1454.8h17.8M251.7 1452.2h9.9M341 1452.2h17.8M255.1 1449.6h9.9M344.3 1449.6h17.8M258.2 1447h7.9M347.4 1447h15.9M260.3 1444.4h9.9M349.5 1444.4h15.9M263.7 1441.8h7.9M350.9 1441.8h17.8M266 1439.2h9.9M355.3 1439.2h15.9M269.5 1436.6h7.9M356.7 1436.6h15.9M272.1 1434h7.9M359.4 1434h15.9M274.3 1431.4h9.9M361.5 1431.4h15.9M277.9 1428.8h7.9M365.1 1428.8h15.9M279.4 1426.2h9.9M366.7 1426.2h15.9M282.6 1423.6h9.9M369.8 1423.6h15.9M285.3 1421h9.9M372.6 1421h15.9M287.7 1418.4h9.9M374.9 1418.4h15.9M290.1 1415.8h9.9M377.3 1415.8h15.9M293.2 1413.2h9.9M380.5 1413.2h13.9M295.3 1410.6h9.9M382.6 1410.6h15.9M298.9 1408h9.9M386.1 1408h13.9M300.6 1405.4h9.9M387.8 1405.4h13.9M303.4 1402.8h9.9M390.7 1402.8h13.9M305.7 1400.2h11.9M393 1400.2h13.9M308.9 1397.6h9.9M396.2 1397.6h13.9M310.9 1395h11.9M398.2 1395h13.9M314 1392.4h9.9M401.2 1392.4h13.9M316.2 1389.8h11.9M403.4 1389.8h13.9M319 1387.2h11.9M406.3 1387.2h13.9M321.9 1384.6h9.9M409.2 1384.6h11.9M324 1382h11.9M411.3 1382h11.9M325.9 1379.4h11.9M413.2 1379.4h13.9M329.3 1376.8h11.9M416.5 1376.8h11.9M332 1374.2h11.9M419.2 1374.2h11.9M334.5 1371.6h11.9M421.7 1371.6h11.9M336.7 1369h11.9M424 1369h13.9M340.5 1366.4h11.9M427.7 1366.4h11.9M341.7 1363.8h13.9M431 1363.8h11.9M344.9 1361.2h11.9M432.2 1361.2h13.9M348 1358.6h11.9M435.2 1358.6h11.9M351.2 1355.9h11.9M438.4 1355.9h11.9M354 1353.3h11.9M441.2 1353.3h11.9M356.9 1350.7h11.9M444.2 1350.7h11.9M358.6 1348.1h13.9M447.8 1348.1h11.9M362.5 1345.5h11.9M449.7 1345.5h11.9M363.7 1342.9h13.9M452.9 1342.9h11.9M367.4 1340.3h11.9M454.6 1340.3h11.9M369.3 1337.7h13.9M458.6 1337.7h11.9M371.8 1335.1h13.9M461.1 1335.1h11.9M374.9 1332.5h13.9M464.1 1332.5h11.9M378.2 1329.9h13.9M467.5 1329.9h9.9M381 1327.3h13.9M470.3 1327.3h9.9M383 1324.7h13.9M472.2 1324.7h11.9M386.6 1322.1h13.9M475.9 1322.1h9.9M388.8 1319.5h13.9M478.1 1319.5h11.9M391.4 1316.9h13.9M480.6 1316.9h11.9M395.1 1314.3h13.9M484.3 1314.3h11.9M396.4 1311.7h13.9M487.7 1311.7h9.9M400.7 1309.1h13.9M489.9 1309.1h11.9M402.6 1306.5h13.9M493.9 1306.5h9.9M404.6 1303.9h15.9M495.8 1303.9h11.9M407.5 1301.3h15.9M498.8 1301.3h11.9M410.5 1298.7h15.9M501.7 1298.7h9.9M414.4 1296.1h13.9M505.6 1296.1h9.9M417.3 1293.5h13.9M508.5 1293.5h9.9M419 1290.9h15.9M510.2 1290.9h11.9M422 1288.3h13.9M513.2 1288.3h11.9M425.4 1285.7h13.9M516.6 1285.7h9.9M426.8 1283.1h15.9M520 1283.1h9.9M429.7 1280.5h15.9M522.9 1280.5h9.9M432 1277.9h15.9M525.3 1277.9h9.9M434.9 1275.3h15.9M528.1 1275.3h9.9M437.2 1272.7h15.9M532.4 1272.7h9.9M439.7 1270.1h15.9M534.8 1270.1h9.9M442.1 1267.5h15.9M537.3 1267.5h9.9M443.7 1264.9h15.9M540.8 1264.9h9.9M446.8 1262.3h15.9M544 1262.3h9.9M448.7 1259.7h15.9M545.8 1259.7h9.9M451.6 1257.1h15.9M548.8 1257.1h9.9M453.6 1254.5h17.8M552.8 1254.5h9.9M456.9 1251.9h15.9M556.1 1251.9h7.9M458.7 1249.3h17.8M557.9 1249.3h9.9M461.5 1246.7h15.9M560.7 1246.7h9.9M463 1244.1h17.8M564.1 1244.1h9.9M465.7 1241.5h17.8M566.8 1241.5h9.9M468.9 1238.9h17.8M570.1 1238.9h9.9M470.3 1236.3h17.8M573.4 1236.3h9.9M473.3 1233.7h17.8M576.4 1233.7h9.9M474.7 1231.1h19.8M579.8 1231.1h9.9M478.1 1228.4h17.8M583.2 1228.4h7.9M479.3 1225.8h19.8M586.4 1225.8h7.9M482.5 1223.2h19.8M589.6 1223.2h7.9M485.5 1220.6h17.8M592.6 1220.6h7.9M487.4 1218h19.8M596.4 1218h7.9M489.2 1215.4h19.8M600.2 1215.4h7.9M492.5 1212.8h19.8M603.5 1212.8h7.9M495.5 1210.2h19.8M606.5 1210.2h7.9M497.4 1207.6h19.8M608.4 1207.6h7.9M499.8 1205h19.8M612.9 1205h7.9M502.1 1202.4h19.8M615.1 1202.4h7.9M504 1199.8h21.8M619 1199.8h7.9M507.8 1197.2h19.8M622.8 1197.2h7.9M509.2 1194.6h19.8M626.2 1194.6h7.9M511.4 1192h21.8M630.4 1192h7.9M513.9 1189.4h21.8M634.8 1189.4h5.9M516.1 1186.8h21.8M637.1 1186.8h7.9M518.8 1184.2h21.8M641.8 1184.2h5.9M522.2 1181.6h19.8M645.1 1181.6h7.9M524 1179h21.8M649 1179h5.9M525.9 1176.4h21.8M652.8 1176.4h5.9M529.5 1173.8h21.8M656.4 1173.8h5.9M531.4 1171.2h21.8M660.3 1171.2h5.9M532.9 1168.6h23.8M663.8 1168.6h7.9M536 1166h21.8M666.8 1166h7.9M539 1163.4h21.8M671.9 1163.4h5.9M541.9 1160.8h21.8M674.8 1160.8h7.9M542.8 1158.2h23.8M679.6 1158.2h7.9M546.6 1155.6h21.8M683.4 1155.6h7.9M548.7 1153h23.8M685.5 1153h7.9M551.3 1150.4h23.8M690.1 1150.4h3.3M555.5 1147.8h23.8M693.4 1147.8h0M559.2 1145.2h21.8M562.4 1142.6h21.8M565 1140h23.8M569.9 1137.4h21.8M572.9 1134.8h21.8M575.9 1132.2h21.8M580.3 1129.6h21.8M584.1 1127h0M594 1127h5.9M227.9 1551h9.9M655.2 1109.3h4M377.8 1330.2h13.9M467 1330.2h9.9"/>
<path stroke="#44809c" d="M237.9 1532.9h2M245.8 1532.9h7.9M140.7 1530.3h2M231.9 1530.3h23.8M144.6 1527.7h2M233.9 1527.7h23.8M147.5 1525.1h2M181.2 1525.1h4M236.8 1525.1h23.8M151.6 1522.5h2M181.4 1522.5h7.9M240.9 1522.5h23.8M156 1519.9h2M181.8 1519.9h11.9M243.3 1519.9h23.8M161.2 1517.3h2M181 1517.3h15.9M246.4 1517.3h23.8M165.9 1514.7h4M179.8 1514.7h19.8M249.2 1514.7h23.8M172.4 1512.1h31.7M251.7 1512.1h23.8M196.7 1509.5h9.9M254.2 1509.5h23.8M202.3 1506.9h7.9M257.8 1506.9h23.8M203.9 1504.3h9.9M261.4 1504.3h21.8M206.7 1501.7h9.9M264.2 1501.7h21.8M209.8 1499.1h9.9M267.3 1499.1h21.8M214.1 1496.5h7.9M269.6 1496.5h23.8M215.8 1493.9h9.9M273.3 1493.9h21.8M219.4 1491.3h7.9M276.9 1491.3h21.8M221.9 1488.7h9.9M279.4 1488.7h21.8M225 1486.1h7.9M282.5 1486.1h21.8M228.4 1483.5h7.9M285.9 1483.5h21.8M230.7 1480.8h7.9M288.2 1480.8h21.8M234 1478.2h7.9M291.6 1478.2h21.8M236.5 1475.6h7.9M294 1475.6h21.8M238.5 1473h9.9M298 1473h21.8M242 1470.4h9.9M301.5 1470.4h19.8M245.4 1467.8h7.9M302.9 1467.8h21.8M246.9 1465.2h9.9M306.4 1465.2h21.8M250.1 1462.6h9.9M309.6 1462.6h21.8M252.8 1460h9.9M312.3 1460h21.8M256.5 1457.4h9.9M316 1457.4h19.8M258.4 1454.8h9.9M317.9 1454.8h21.8M261.6 1452.2h9.9M321.1 1452.2h19.8M265 1449.6h9.9M324.5 1449.6h19.8M266.1 1447h11.9M327.6 1447h19.8M270.2 1444.4h9.9M329.7 1444.4h19.8M271.6 1441.8h11.9M333.1 1441.8h17.8M276 1439.2h9.9M335.5 1439.2h19.8M277.4 1436.6h11.9M338.9 1436.6h17.8M280.1 1434h11.9M341.6 1434h17.8M284.2 1431.4h9.9M343.7 1431.4h17.8M285.8 1428.8h11.9M347.3 1428.8h17.8M289.3 1426.2h11.9M348.8 1426.2h17.8M292.5 1423.6h9.9M352 1423.6h17.8M295.2 1421h11.9M354.7 1421h17.8M297.6 1418.4h11.9M357.1 1418.4h17.8M300 1415.8h11.9M359.5 1415.8h17.8M303.2 1413.2h11.9M362.7 1413.2h17.8M305.2 1410.6h11.9M366.7 1410.6h15.9M308.8 1408h11.9M368.3 1408h17.8M310.5 1405.4h11.9M372 1405.4h15.9M313.4 1402.8h11.9M374.8 1402.8h15.9M317.6 1400.2h11.9M377.1 1400.2h15.9M318.9 1397.6h13.9M380.3 1397.6h15.9M322.8 1395h11.9M382.3 1395h15.9M323.9 1392.4h13.9M385.4 1392.4h15.9M328.1 1389.8h11.9M387.6 1389.8h15.9M330.9 1387.2h11.9M390.4 1387.2h15.9M331.8 1384.6h13.9M393.3 1384.6h15.9M335.9 1382h11.9M395.4 1382h15.9M337.8 1379.4h13.9M399.3 1379.4h13.9M341.2 1376.8h13.9M402.7 1376.8h13.9M343.9 1374.2h13.9M405.4 1374.2h13.9M346.4 1371.6h13.9M407.8 1371.6h13.9M348.6 1369h13.9M410.1 1369h13.9M352.3 1366.4h13.9M413.8 1366.4h13.9M355.6 1363.8h13.9M417.1 1363.8h13.9M356.8 1361.2h15.9M418.3 1361.2h13.9M359.9 1358.6h13.9M421.4 1358.6h13.9M363.1 1355.9h13.9M424.5 1355.9h13.9M365.9 1353.3h13.9M427.3 1353.3h13.9M368.8 1350.7h13.9M430.3 1350.7h13.9M372.4 1348.1h13.9M433.9 1348.1h13.9M374.4 1345.5h15.9M435.8 1345.5h13.9M377.6 1342.9h13.9M439.1 1342.9h13.9M379.3 1340.3h15.9M442.7 1340.3h11.9M383.2 1337.7h13.9M444.7 1337.7h13.9M385.7 1335.1h15.9M449.2 1335.1h11.9M388.8 1332.5h15.9M450.3 1332.5h13.9M392.1 1329.9h13.9M453.6 1329.9h13.9M394.9 1327.3h13.9M456.4 1327.3h13.9M396.8 1324.7h15.9M460.3 1324.7h11.9M400.5 1322.1h15.9M464 1322.1h11.9M402.7 1319.5h15.9M466.2 1319.5h11.9M405.3 1316.9h15.9M468.7 1316.9h11.9M408.9 1314.3h15.9M472.4 1314.3h11.9M410.3 1311.7h17.8M475.8 1311.7h11.9M414.5 1309.1h15.9M478 1309.1h11.9M416.5 1306.5h15.9M482 1306.5h11.9M420.4 1303.9h15.9M483.9 1303.9h11.9M423.4 1301.3h15.9M486.9 1301.3h11.9M426.4 1298.7h15.9M489.8 1298.7h11.9M428.2 1296.1h15.9M493.7 1296.1h11.9M431.2 1293.5h15.9M496.6 1293.5h11.9M434.9 1290.9h15.9M498.3 1290.9h11.9M435.9 1288.3h17.8M501.3 1288.3h11.9M439.3 1285.7h17.8M504.7 1285.7h11.9M442.6 1283.1h15.9M508.1 1283.1h11.9M445.6 1280.5h15.9M511 1280.5h11.9M447.9 1277.9h17.8M513.4 1277.9h11.9M450.8 1275.3h15.9M516.2 1275.3h11.9M453 1272.7h17.8M520.5 1272.7h11.9M455.5 1270.1h17.8M522.9 1270.1h11.9M457.9 1267.5h17.8M525.4 1267.5h11.9M459.5 1264.9h19.8M528.9 1264.9h11.9M462.7 1262.3h17.8M532.1 1262.3h11.9M464.5 1259.7h19.8M535.9 1259.7h9.9M467.5 1257.1h19.8M538.9 1257.1h9.9M471.5 1254.5h17.8M540.9 1254.5h11.9M472.8 1251.9h19.8M544.2 1251.9h11.9M476.6 1249.3h17.8M547.9 1249.3h9.9M477.4 1246.7h19.8M550.8 1246.7h9.9M480.8 1244.1h19.8M554.2 1244.1h9.9M483.5 1241.5h19.8M556.9 1241.5h9.9M486.8 1238.9h19.8M560.1 1238.9h9.9M488.1 1236.3h19.8M563.5 1236.3h9.9M491.2 1233.7h19.8M566.5 1233.7h9.9M494.5 1231.1h19.8M569.9 1231.1h9.9M496 1228.4h19.8M573.3 1228.4h9.9M499.1 1225.8h19.8M576.5 1225.8h9.9M502.3 1223.2h19.8M579.7 1223.2h9.9M503.4 1220.6h19.8M582.7 1220.6h9.9M507.2 1218h19.8M586.5 1218h9.9M509 1215.4h19.8M590.3 1215.4h9.9M512.3 1212.8h19.8M593.6 1212.8h9.9M515.3 1210.2h17.8M598.6 1210.2h7.9M517.2 1207.6h19.8M600.5 1207.6h7.9M519.7 1205h19.8M604.9 1205h7.9M521.9 1202.4h19.8M609.2 1202.4h5.9M525.8 1199.8h17.8M611 1199.8h7.9M527.6 1197.2h19.8M614.9 1197.2h7.9M529 1194.6h19.8M620.3 1194.6h5.9M533.2 1192h17.8M622.5 1192h7.9M535.7 1189.4h17.8M626.9 1189.4h7.9M537.9 1186.8h19.8M631.1 1186.8h5.9M540.6 1184.2h17.8M633.8 1184.2h7.9M542 1181.6h19.8M639.2 1181.6h5.9M545.8 1179h17.8M643 1179h5.9M547.7 1176.4h19.8M646.8 1176.4h5.9M551.3 1173.8h17.8M650.5 1173.8h5.9M553.2 1171.2h19.8M654.3 1171.2h5.9M556.7 1168.6h17.8M657.8 1168.6h5.9M557.8 1166h19.8M660.9 1166h5.9M560.9 1163.4h19.8M664 1163.4h7.9M563.7 1160.8h19.8M668.8 1160.8h5.9M566.6 1158.2h19.8M671.7 1158.2h7.9M568.4 1155.6h19.8M675.5 1155.6h7.9M572.5 1153h17.8M679.6 1153h5.9M575.1 1150.4h19.8M684.1 1150.4h5.9M579.3 1147.8h17.8M686.3 1147.8h7.1M581 1145.2h19.8M690 1145.2h3.4M584.2 1142.6h19.8M693.4 1142.6h0M588.8 1140h17.8M591.7 1137.4h17.8M594.8 1134.8h17.8M597.7 1132.2h17.8M602.1 1129.6h15.9M609.9 1127h4M617.8 1127h4M220 1551h7.9M659.1 1109.3h2M391.7 1330.2h15.9M453.2 1330.2h13.9"/>
<path stroke="#427a9b" d="M168.4 1532.9h15.9M192.2 1532.9h4M204.1 1532.9h15.9M142.7 1530.3h2M170.4 1530.3h61.5M172.4 1527.7h61.5M149.5 1525.1h2M175.3 1525.1h5.9M185.2 1525.1h51.6M153.6 1522.5h2M175.4 1522.5h5.9M189.3 1522.5h51.6M158 1519.9h2M177.8 1519.9h4M193.7 1519.9h49.6M163.1 1517.3h2M177 1517.3h4M196.8 1517.3h49.6M169.9 1514.7h9.9M199.7 1514.7h49.6M204.2 1512.1h47.6M206.6 1509.5h47.6M210.2 1506.9h47.6M213.8 1504.3h47.6M216.7 1501.7h47.6M219.7 1499.1h47.6M222.1 1496.5h47.6M225.7 1493.9h47.6M227.3 1491.3h11.9M241.2 1491.3h35.7M231.8 1488.7h11.9M245.7 1488.7h33.7M232.9 1486.1h11.9M248.8 1486.1h33.7M236.3 1483.5h11.9M252.2 1483.5h33.7M238.7 1480.8h13.9M256.5 1480.8h31.7M242 1478.2h11.9M259.8 1478.2h31.7M244.4 1475.6h13.9M262.3 1475.6h31.7M248.5 1473h11.9M266.3 1473h31.7M251.9 1470.4h11.9M269.8 1470.4h31.7M253.3 1467.8h13.9M273.2 1467.8h29.7M256.9 1465.2h11.9M276.7 1465.2h29.7M260 1462.6h11.9M279.8 1462.6h29.7M262.8 1460h11.9M282.6 1460h29.7M266.4 1457.4h11.9M286.2 1457.4h29.7M268.3 1454.8h13.9M290.1 1454.8h27.8M271.6 1452.2h13.9M293.4 1452.2h27.8M274.9 1449.6h11.9M296.7 1449.6h27.8M278 1447h11.9M299.8 1447h27.8M280.1 1444.4h13.9M301.9 1444.4h27.8M283.5 1441.8h13.9M305.3 1441.8h27.8M285.9 1439.2h13.9M309.7 1439.2h25.8M289.3 1436.6h13.9M311.1 1436.6h27.8M292 1434h13.9M315.8 1434h25.8M294.1 1431.4h13.9M317.9 1431.4h25.8M297.7 1428.8h13.9M321.5 1428.8h25.8M301.2 1426.2h13.9M325 1426.2h23.8M302.4 1423.6h15.9M328.2 1423.6h23.8M307.1 1421h13.9M330.9 1421h23.8M309.5 1418.4h13.9M333.3 1418.4h23.8M311.9 1415.8h13.9M337.7 1415.8h21.8M315.1 1413.2h13.9M340.8 1413.2h21.8M317.1 1410.6h15.9M342.9 1410.6h23.8M320.7 1408h13.9M346.5 1408h21.8M322.4 1405.4h15.9M350.1 1405.4h21.8M325.3 1402.8h15.9M353 1402.8h21.8M329.5 1400.2h13.9M355.3 1400.2h21.8M332.7 1397.6h13.9M358.5 1397.6h21.8M334.7 1395h15.9M362.5 1395h19.8M337.8 1392.4h15.9M365.5 1392.4h19.8M340 1389.8h15.9M367.7 1389.8h19.8M342.8 1387.2h15.9M372.6 1387.2h17.8M345.7 1384.6h15.9M375.5 1384.6h17.8M347.8 1382h17.8M377.6 1382h17.8M351.7 1379.4h15.9M381.5 1379.4h17.8M355.1 1376.8h15.9M382.8 1376.8h19.8M357.8 1374.2h15.9M387.5 1374.2h17.8M360.2 1371.6h17.8M390 1371.6h17.8M362.5 1369h17.8M392.3 1369h17.8M366.2 1366.4h17.8M396 1366.4h17.8M369.5 1363.8h15.9M399.2 1363.8h17.8M372.7 1361.2h15.9M402.4 1361.2h15.9M373.8 1358.6h17.8M405.5 1358.6h15.9M376.9 1355.9h17.8M408.7 1355.9h15.9M379.7 1353.3h17.8M411.5 1353.3h15.9M382.7 1350.7h17.8M414.4 1350.7h15.9M386.3 1348.1h17.8M418 1348.1h15.9M390.2 1345.5h17.8M420 1345.5h15.9M391.5 1342.9h19.8M423.2 1342.9h15.9M395.2 1340.3h17.8M426.9 1340.3h15.9M397.1 1337.7h19.8M428.8 1337.7h15.9M401.6 1335.1h17.8M431.3 1335.1h17.8M404.7 1332.5h17.8M434.4 1332.5h15.9M406 1329.9h19.8M437.7 1329.9h15.9M408.8 1327.3h19.8M440.5 1327.3h15.9M412.7 1324.7h19.8M444.4 1324.7h15.9M416.4 1322.1h19.8M448.1 1322.1h15.9M418.6 1319.5h19.8M450.3 1319.5h15.9M421.1 1316.9h19.8M452.8 1316.9h15.9M424.8 1314.3h19.8M456.5 1314.3h15.9M428.2 1311.7h19.8M459.9 1311.7h15.9M430.4 1309.1h19.8M462.1 1309.1h15.9M432.4 1306.5h21.8M466.1 1306.5h15.9M436.3 1303.9h21.8M468 1303.9h15.9M439.3 1301.3h21.8M471 1301.3h15.9M442.2 1298.7h21.8M476 1298.7h13.9M444.1 1296.1h21.8M477.8 1296.1h15.9M447 1293.5h21.8M480.8 1293.5h15.9M450.7 1290.9h21.8M484.4 1290.9h13.9M453.7 1288.3h21.8M487.4 1288.3h13.9M457.1 1285.7h21.8M490.8 1285.7h13.9M458.5 1283.1h23.8M494.2 1283.1h13.9M461.4 1280.5h23.8M497.1 1280.5h13.9M465.8 1277.9h21.8M499.5 1277.9h13.9M466.6 1275.3h23.8M502.3 1275.3h13.9M470.9 1272.7h23.8M506.6 1272.7h13.9M473.4 1270.1h23.8M509.1 1270.1h13.9M475.8 1267.5h23.8M511.5 1267.5h13.9M479.4 1264.9h23.8M515.1 1264.9h13.9M480.5 1262.3h25.8M518.2 1262.3h13.9M484.4 1259.7h23.8M522 1259.7h13.9M487.3 1257.1h23.8M525 1257.1h13.9M489.3 1254.5h25.8M527 1254.5h13.9M492.6 1251.9h23.8M530.3 1251.9h13.9M494.4 1249.3h25.8M534.1 1249.3h13.9M497.2 1246.7h25.8M536.9 1246.7h13.9M500.7 1244.1h23.8M540.3 1244.1h13.9M503.3 1241.5h23.8M545 1241.5h11.9M506.6 1238.9h21.8M548.2 1238.9h11.9M508 1236.3h23.8M551.6 1236.3h11.9M511 1233.7h21.8M554.6 1233.7h11.9M514.4 1231.1h21.8M558 1231.1h11.9M515.8 1228.4h21.8M561.4 1228.4h11.9M518.9 1225.8h21.8M566.5 1225.8h9.9M522.2 1223.2h19.8M569.8 1223.2h9.9M523.2 1220.6h19.8M572.8 1220.6h9.9M527 1218h17.8M576.6 1218h9.9M528.8 1215.4h17.8M580.4 1215.4h9.9M532.1 1212.8h17.8M585.7 1212.8h7.9M533.2 1210.2h17.8M588.7 1210.2h9.9M537.1 1207.6h15.9M592.6 1207.6h7.9M539.5 1205h15.9M597 1205h7.9M541.7 1202.4h15.9M601.2 1202.4h7.9M543.6 1199.8h15.9M605.1 1199.8h5.9M547.5 1197.2h13.9M609 1197.2h5.9M548.9 1194.6h13.9M612.3 1194.6h7.9M551.1 1192h13.9M616.5 1192h5.9M553.5 1189.4h13.9M621 1189.4h5.9M557.7 1186.8h11.9M625.2 1186.8h5.9M558.5 1184.2h13.9M627.9 1184.2h5.9M561.8 1181.6h11.9M631.2 1181.6h7.9M563.7 1179h13.9M637.1 1179h5.9M567.5 1176.4h11.9M640.9 1176.4h5.9M569.2 1173.8h11.9M644.5 1173.8h5.9M573 1171.2h11.9M648.4 1171.2h5.9M574.6 1168.6h11.9M651.9 1168.6h5.9M577.6 1166h11.9M654.9 1166h5.9M580.7 1163.4h11.9M660 1163.4h4M583.6 1160.8h9.9M662.9 1160.8h5.9M586.4 1158.2h9.9M667.7 1158.2h4M588.2 1155.6h11.9M671.5 1155.6h4M590.4 1153h11.9M673.6 1153h5.9M594.9 1150.4h9.9M678.2 1150.4h5.9M597.1 1147.8h9.9M682.4 1147.8h4M600.8 1145.2h9.9M684.1 1145.2h5.9M604 1142.6h9.9M689.3 1142.6h4.1M606.7 1140h9.9M691.9 1140h1.5M609.6 1137.4h9.9M612.6 1134.8h9.9M615.5 1132.2h9.9M618 1129.6h9.9M621.8 1127h2M629.7 1127h2M210.1 1551h9.9M407.6 1330.2h17.8M437.3 1330.2h15.9"/>
<path stroke="#40749a" d="M166.5 1532.9h2M168.4 1530.3h2M146.6 1527.7h2M170.4 1527.7h2M171.3 1525.1h4M173.4 1522.5h2M160 1519.9h2M173.8 1519.9h4M165.1 1517.3h11.9M239.2 1491.3h2M243.7 1488.7h2M244.8 1486.1h4M248.2 1483.5h4M252.5 1480.8h4M253.9 1478.2h5.9M258.3 1475.6h4M260.4 1473h5.9M263.8 1470.4h5.9M267.2 1467.8h5.9M268.8 1465.2h7.9M271.9 1462.6h7.9M274.7 1460h7.9M278.3 1457.4h7.9M282.2 1454.8h7.9M285.4 1452.2h7.9M286.8 1449.6h9.9M289.9 1447h9.9M294 1444.4h7.9M297.4 1441.8h7.9M299.8 1439.2h9.9M303.2 1436.6h7.9M305.9 1434h9.9M308 1431.4h9.9M311.6 1428.8h9.9M315.1 1426.2h9.9M318.3 1423.6h9.9M321 1421h9.9M323.4 1418.4h9.9M325.8 1415.8h11.9M328.9 1413.2h11.9M333 1410.6h9.9M334.6 1408h11.9M338.3 1405.4h11.9M341.1 1402.8h11.9M343.4 1400.2h11.9M346.6 1397.6h11.9M350.6 1395h11.9M353.6 1392.4h11.9M355.8 1389.8h11.9M358.7 1387.2h13.9M361.6 1384.6h13.9M365.7 1382h11.9M367.6 1379.4h13.9M370.9 1376.8h11.9M373.6 1374.2h13.9M378.1 1371.6h11.9M380.4 1369h11.9M384.1 1366.4h11.9M385.4 1363.8h13.9M388.5 1361.2h13.9M391.6 1358.6h13.9M394.8 1355.9h13.9M397.6 1353.3h13.9M400.5 1350.7h13.9M404.2 1348.1h13.9M408.1 1345.5h11.9M411.3 1342.9h11.9M413 1340.3h13.9M416.9 1337.7h11.9M419.4 1335.1h11.9M422.5 1332.5h11.9M425.8 1329.9h11.9M428.6 1327.3h11.9M432.5 1324.7h11.9M436.2 1322.1h11.9M438.4 1319.5h11.9M440.9 1316.9h11.9M444.6 1314.3h11.9M448 1311.7h11.9M450.2 1309.1h11.9M454.2 1306.5h11.9M458.1 1303.9h9.9M461.1 1301.3h9.9M464.1 1298.7h11.9M465.9 1296.1h11.9M468.9 1293.5h11.9M472.5 1290.9h11.9M475.5 1288.3h11.9M478.9 1285.7h11.9M482.3 1283.1h11.9M485.2 1280.5h11.9M487.6 1277.9h11.9M490.4 1275.3h11.9M494.7 1272.7h11.9M497.2 1270.1h11.9M499.6 1267.5h11.9M503.2 1264.9h11.9M506.3 1262.3h11.9M508.2 1259.7h13.9M511.1 1257.1h13.9M515.1 1254.5h11.9M516.4 1251.9h13.9M520.2 1249.3h13.9M523 1246.7h13.9M524.5 1244.1h15.9M527.1 1241.5h17.8M528.4 1238.9h19.8M531.8 1236.3h19.8M532.8 1233.7h21.8M536.2 1231.1h21.8M537.6 1228.4h23.8M540.8 1225.8h25.8M542 1223.2h27.8M543 1220.6h29.7M544.9 1218h31.7M546.7 1215.4h33.7M550 1212.8h35.7M551 1210.2h19.8M576.8 1210.2h11.9M552.9 1207.6h15.9M582.7 1207.6h9.9M555.3 1205h13.9M587.1 1205h9.9M557.6 1202.4h11.9M591.3 1202.4h9.9M559.5 1199.8h11.9M597.2 1199.8h7.9M561.4 1197.2h11.9M601 1197.2h7.9M562.8 1194.6h11.9M604.4 1194.6h7.9M565 1192h9.9M608.6 1192h7.9M567.4 1189.4h9.9M613 1189.4h7.9M569.6 1186.8h9.9M617.2 1186.8h7.9M572.4 1184.2h7.9M621.9 1184.2h5.9M573.7 1181.6h9.9M627.3 1181.6h4M577.6 1179h7.9M631.1 1179h5.9M579.4 1176.4h7.9M634.9 1176.4h5.9M581.1 1173.8h7.9M638.6 1173.8h5.9M584.9 1171.2h7.9M642.4 1171.2h5.9M586.5 1168.6h7.9M645.9 1168.6h5.9M589.5 1166h7.9M651 1166h4M592.6 1163.4h5.9M654.1 1163.4h5.9M593.5 1160.8h7.9M658.9 1160.8h4M596.3 1158.2h7.9M661.8 1158.2h5.9M600.1 1155.6h5.9M665.6 1155.6h5.9M602.3 1153h5.9M669.7 1153h4M604.8 1150.4h7.9M674.2 1150.4h4M607 1147.8h7.9M676.4 1147.8h5.9M610.7 1145.2h5.9M680.1 1145.2h4M613.9 1142.6h5.9M683.3 1142.6h5.9M616.6 1140h5.9M688 1140h4M619.5 1137.4h5.9M690.9 1137.4h2.5M622.5 1134.8h5.9M625.5 1132.2h5.9M627.9 1129.6h5.9M631.7 1127h0M202.2 1551h7.9M661.1 1109.3h2M425.4 1330.2h11.9"/>
<path stroke="#3f6e99" d="M164.5 1532.9h2M144.6 1530.3h2M166.5 1530.3h2M168.4 1527.7h2M151.5 1525.1h2M169.3 1525.1h2M155.6 1522.5h2M171.5 1522.5h2M161.9 1519.9h4M167.9 1519.9h5.9M570.8 1210.2h5.9M568.8 1207.6h13.9M569.2 1205h17.8M569.5 1202.4h21.8M571.4 1199.8h25.8M573.3 1197.2h27.8M574.7 1194.6h9.9M596.5 1194.6h7.9M574.9 1192h9.9M602.7 1192h5.9M577.3 1189.4h7.9M607.1 1189.4h5.9M579.5 1186.8h5.9M613.3 1186.8h4M580.3 1184.2h7.9M616 1184.2h5.9M583.6 1181.6h5.9M621.3 1181.6h5.9M585.5 1179h5.9M625.2 1179h5.9M587.3 1176.4h5.9M631 1176.4h4M589 1173.8h5.9M634.6 1173.8h4M592.8 1171.2h4M638.5 1171.2h4M594.4 1168.6h5.9M642 1168.6h4M597.4 1166h4M647 1166h4M598.5 1163.4h5.9M650.1 1163.4h4M601.4 1160.8h5.9M655 1160.8h4M604.2 1158.2h4M657.8 1158.2h4M606.1 1155.6h5.9M661.6 1155.6h4M608.2 1153h5.9M665.7 1153h4M612.7 1150.4h4M670.2 1150.4h4M615 1147.8h4M672.5 1147.8h4M616.7 1145.2h5.9M676.2 1145.2h4M619.9 1142.6h5.9M681.3 1142.6h2M622.5 1140h5.9M684 1140h4M625.5 1137.4h5.9M686.9 1137.4h4M628.5 1134.8h4M689.9 1134.8h3.5M631.4 1132.2h4M693.4 1132.2h0M633.8 1129.6h5.9M639.6 1127h2M192.2 1551h9.9M663.1 1109.3h2"/>
<path stroke="#3f6897" d="M162.5 1532.9h2M164.5 1530.3h2M148.6 1527.7h2M166.5 1527.7h2M153.5 1525.1h2M167.4 1525.1h2M157.6 1522.5h4M167.5 1522.5h4M165.9 1519.9h2M584.6 1194.6h11.9M584.8 1192h17.8M585.3 1189.4h21.8M585.5 1186.8h7.9M605.3 1186.8h7.9M588.2 1184.2h5.9M612 1184.2h4M589.6 1181.6h5.9M617.4 1181.6h4M591.4 1179h4M621.2 1179h4M593.3 1176.4h4M625 1176.4h5.9M595 1173.8h4M630.7 1173.8h4M596.8 1171.2h4M634.5 1171.2h4M600.3 1168.6h4M638 1168.6h4M601.4 1166h4M643 1166h4M604.5 1163.4h4M648.1 1163.4h2M607.4 1160.8h2M651 1160.8h4M608.2 1158.2h4M655.8 1158.2h2M612 1155.6h4M659.6 1155.6h2M614.2 1153h4M663.7 1153h2M616.7 1150.4h4M666.3 1150.4h4M618.9 1147.8h4M670.5 1147.8h2M622.6 1145.2h2M674.2 1145.2h2M625.8 1142.6h2M677.4 1142.6h4M628.5 1140h2M682 1140h2M631.4 1137.4h2M684.9 1137.4h2M632.4 1134.8h4M688 1134.8h2M635.4 1132.2h4M690.9 1132.2h2.5M639.8 1129.6h2M641.6 1127h4M180.3 1551h11.9M665.1 1109.3h2"/>
<path stroke="#3e6196" d="M160.5 1532.9h2M146.6 1530.3h2M162.5 1530.3h2M150.6 1527.7h2M164.5 1527.7h2M155.5 1525.1h2M165.4 1525.1h2M161.5 1522.5h5.9M593.4 1186.8h11.9M594.2 1184.2h17.8M595.5 1181.6h5.9M609.4 1181.6h7.9M595.4 1179h5.9M617.2 1179h4M597.3 1176.4h5.9M621.1 1176.4h4M598.9 1173.8h4M626.7 1173.8h4M600.8 1171.2h4M630.5 1171.2h4M604.3 1168.6h2M636 1168.6h2M605.4 1166h4M639.1 1166h4M608.5 1163.4h2M644.2 1163.4h4M609.3 1160.8h4M649 1160.8h2M612.2 1158.2h4M651.8 1158.2h4M616 1155.6h2M655.7 1155.6h4M618.1 1153h2M659.8 1153h4M620.7 1150.4h2M664.3 1150.4h2M622.9 1147.8h2M668.5 1147.8h2M624.6 1145.2h4M672.2 1145.2h2M627.8 1142.6h4M675.4 1142.6h2M630.5 1140h4M678.1 1140h4M633.4 1137.4h4M683 1137.4h2M636.4 1134.8h2M686 1134.8h2M639.3 1132.2h2M688.9 1132.2h2M641.8 1129.6h4M693.4 1129.6h0M645.6 1127h2M168.4 1551h11.9M667.1 1109.3h2"/>
<path stroke="#3e5a94" d="M158.5 1532.9h2M148.6 1530.3h2M160.5 1530.3h2M152.6 1527.7h2M162.5 1527.7h2M157.4 1525.1h7.9M601.5 1181.6h7.9M601.4 1179h15.9M603.2 1176.4h5.9M617.1 1176.4h4M602.9 1173.8h5.9M622.7 1173.8h4M604.7 1171.2h4M628.5 1171.2h2M606.3 1168.6h4M632.1 1168.6h4M609.3 1166h2M637.1 1166h2M610.4 1163.4h4M642.2 1163.4h2M613.3 1160.8h2M645 1160.8h4M616.1 1158.2h2M649.9 1158.2h2M618 1155.6h2M653.7 1155.6h2M620.1 1153h2M657.8 1153h2M622.7 1150.4h2M662.3 1150.4h2M624.9 1147.8h2M666.5 1147.8h2M628.6 1145.2h2M670.2 1145.2h2M631.8 1142.6h2M673.4 1142.6h2M634.4 1140h2M676.1 1140h2M637.4 1137.4h2M681 1137.4h2M638.4 1134.8h4M684 1134.8h2M641.3 1132.2h2M686.9 1132.2h2M645.7 1129.6h2M691.3 1129.6h2.1M647.6 1127h2M150.6 1551h17.8"/>
<path stroke="#3e5492" d="M146.6 1532.9h2M156.5 1532.9h2M150.6 1530.3h2M158.5 1530.3h2M154.6 1527.7h7.9M609.2 1176.4h7.9M608.9 1173.8h13.9M608.7 1171.2h4M624.6 1171.2h4M610.3 1168.6h4M630.1 1168.6h2M611.3 1166h4M635.1 1166h2M614.4 1163.4h2M638.2 1163.4h4M615.3 1160.8h2M643.1 1160.8h2M618.1 1158.2h2M647.9 1158.2h2M620 1155.6h2M651.7 1155.6h2M622.1 1153h2M655.8 1153h2M624.6 1150.4h2M660.3 1150.4h2M626.8 1147.8h2M664.5 1147.8h2M630.6 1145.2h2M668.2 1145.2h2M633.7 1142.6h2M671.4 1142.6h2M636.4 1140h2M674.1 1140h2M639.3 1137.4h2M679 1137.4h2M682 1134.8h2M643.3 1132.2h2M685 1132.2h2M647.7 1129.6h2M689.3 1129.6h2M649.5 1127h2M126.8 1551h23.8M669 1109.3h2"/>
<path stroke="#404c8a" d="M148.6 1532.9h7.9M152.6 1530.3h5.9M612.7 1171.2h11.9M614.2 1168.6h4M624.1 1168.6h5.9M615.3 1166h2M631.2 1166h4M616.4 1163.4h2M636.2 1163.4h2M617.3 1160.8h4M641.1 1160.8h2M620.1 1158.2h2M645.9 1158.2h2M621.9 1155.6h2M649.7 1155.6h2M624.1 1153h2M653.8 1153h2M626.6 1150.4h2M658.4 1150.4h2M628.8 1147.8h2M662.5 1147.8h2M632.5 1145.2h2M666.3 1145.2h2M669.4 1142.6h2M677 1137.4h2M642.4 1134.8h2M680 1134.8h2M645.3 1132.2h2M687.4 1129.6h2M651.5 1127h2M671 1109.3h2"/>
<path stroke="#424482" d="M618.2 1168.6h5.9M617.3 1166h13.9M618.4 1163.4h4M634.2 1163.4h2M621.2 1160.8h2M639.1 1160.8h2M622.1 1158.2h2M643.9 1158.2h2M623.9 1155.6h2M647.7 1155.6h2M626.1 1153h2M651.8 1153h2M628.6 1150.4h2M656.4 1150.4h2M630.8 1147.8h2M660.6 1147.8h2M664.3 1145.2h2M635.7 1142.6h2M667.5 1142.6h2M638.4 1140h2M672.1 1140h2M641.3 1137.4h2M675 1137.4h2M644.3 1134.8h2M647.3 1132.2h2M683 1132.2h2M649.7 1129.6h2M653.5 1127h0M689.2 1127h0M673 1109.3h2"/>
<path stroke="#413d74" d="M622.3 1163.4h11.9M623.2 1160.8h4M635.1 1160.8h4M624.1 1158.2h4M641.9 1158.2h2M625.9 1155.6h2M645.7 1155.6h2M628 1153h2M649.8 1153h2M630.6 1150.4h2M654.4 1150.4h2M632.8 1147.8h2M658.6 1147.8h2M634.5 1145.2h2M662.3 1145.2h2M637.7 1142.6h2M640.4 1140h2M670.1 1140h2M643.3 1137.4h2M646.3 1134.8h2M678 1134.8h2M681 1132.2h2M651.7 1129.6h2M685.4 1129.6h2"/>
<path stroke="#403665" d="M627.2 1160.8h7.9M628 1158.2h2M638 1158.2h4M627.9 1155.6h4M643.8 1155.6h2M630 1153h2M647.9 1153h2M632.6 1150.4h2M652.4 1150.4h2M634.8 1147.8h2M656.6 1147.8h2M636.5 1145.2h2M639.7 1142.6h2M665.5 1142.6h2M673 1137.4h2M676.1 1134.8h2M649.3 1132.2h2M683.4 1129.6h2M687.2 1127h2M675 1109.3h2"/>
<path stroke="#3a2f56" d="M630 1158.2h7.9M631.9 1155.6h2M639.8 1155.6h4M632 1153h2M645.9 1153h2M634.6 1150.4h2M650.4 1150.4h2M636.8 1147.8h2M638.5 1145.2h2M660.3 1145.2h2M663.5 1142.6h2M642.4 1140h2M668.1 1140h2M645.3 1137.4h2M671.1 1137.4h2M648.3 1134.8h2M651.2 1132.2h2M679 1132.2h2M653.7 1129.6h2M677 1109.3h2"/>
<path stroke="#352848" d="M633.8 1155.6h5.9M634 1153h4M643.9 1153h2M636.5 1150.4h2M648.4 1150.4h2M654.6 1147.8h2M658.3 1145.2h2M641.7 1142.6h2M644.3 1140h2M666.2 1140h2M647.3 1137.4h2M674.1 1134.8h2M681.4 1129.6h2M685.2 1127h2M679 1109.3h2"/>
<path stroke="#2e213a" d="M638 1153h5.9M638.5 1150.4h2M646.5 1150.4h2M638.7 1147.8h2M652.6 1147.8h2M640.5 1145.2h2M656.3 1145.2h2M643.7 1142.6h2M661.5 1142.6h2M669.1 1137.4h2M650.3 1134.8h2M653.2 1132.2h2M677 1132.2h2M655.6 1129.6h2M680.9 1109.3h4"/>
<path stroke="#281a2c" d="M640.5 1150.4h5.9M640.7 1147.8h11.9M642.5 1145.2h13.9M645.6 1142.6h15.9M646.3 1140h19.8M649.3 1137.4h19.8M652.3 1134.8h21.8M655.2 1132.2h21.8M657.6 1129.6h23.8M663.4 1127h11.9M684.9 1109.3h8.5"/>
</g>
<path d="M240.1 1109.3V1551M126.8 1462.7H693.4M353.4 1109.3V1551M126.8 1374.3H693.4M466.8 1109.3V1551M126.8 1286H693.4M580.1 1109.3V1551M126.8 1197.6H693.4" stroke="#b0b0b0" stroke-width="1.55" fill="none"/>
<path d="M126.8 1585.1L693.4 1111.5" stroke="#000" stroke-width="3.3" fill="none"/>
<path d="M126.8 1551L693.4 1109.3" stroke="#000" stroke-width="3.3" stroke-dasharray="3.2 5.1" fill="none"/>
</g>
<rect x="126.8" y="1109.3" width="566.6" height="441.7" fill="none" stroke="#000" stroke-width="1.5"/>
<path d="M126.8 1551v7.3M126.8 1551h-7.3M240.1 1551v7.3M126.8 1462.7h-7.3M353.4 1551v7.3M126.8 1374.3h-7.3M466.8 1551v7.3M126.8 1286h-7.3M580.1 1551v7.3M126.8 1197.6h-7.3M693.4 1551v7.3M126.8 1109.3h-7.3" stroke="#000" stroke-width="1.67" fill="none"/>
<text x="118.2" y="1584" font-size="31" textLength="17.1" lengthAdjust="spacingAndGlyphs">0</text>
<text x="97.5" y="1561.9" font-size="31" textLength="17.1" lengthAdjust="spacingAndGlyphs">0</text>
<text x="222" y="1584" font-size="31" textLength="35.9" lengthAdjust="spacingAndGlyphs">20</text>
<text x="78.7" y="1473.6" font-size="31" textLength="35.9" lengthAdjust="spacingAndGlyphs">20</text>
<text x="335.8" y="1584" font-size="31" textLength="35.8" lengthAdjust="spacingAndGlyphs">40</text>
<text x="78.9" y="1385.2" font-size="31" textLength="35.8" lengthAdjust="spacingAndGlyphs">40</text>
<text x="448.6" y="1584" font-size="31" textLength="36" lengthAdjust="spacingAndGlyphs">60</text>
<text x="78.6" y="1296.9" font-size="31" textLength="36" lengthAdjust="spacingAndGlyphs">60</text>
<text x="562.1" y="1584" font-size="31" textLength="35.8" lengthAdjust="spacingAndGlyphs">80</text>
<text x="78.8" y="1208.5" font-size="31" textLength="35.8" lengthAdjust="spacingAndGlyphs">80</text>
<text x="665.6" y="1584" font-size="31" textLength="54.3" lengthAdjust="spacingAndGlyphs">100</text>
<text x="60.4" y="1120.2" font-size="31" textLength="54.3" lengthAdjust="spacingAndGlyphs">100</text>
<rect x="141.5" y="1123.6" width="240.7" height="140.8" rx="5.5" fill="#fff" fill-opacity="0.8" stroke="#ccc" stroke-opacity="0.8" stroke-width="1.67"/>
<path d="M152.1 1148.2h63.4" stroke="#000" stroke-width="3.3"/>
<path d="M153.7 1191.8h60" stroke="#000" stroke-width="3.3" stroke-dasharray="3.2 5.1"/>
<circle cx="183.6" cy="1238.6" r="10.7" fill="#fdfecc" stroke="#3b84a0" stroke-width="1.6"/>
<text x="237.8" y="1158.9" font-size="31" textLength="132.1" lengthAdjust="spacingAndGlyphs">R = 0.98</text>
<text x="238.4" y="1202.9" font-size="31" textLength="111.9" lengthAdjust="spacingAndGlyphs">1:1 line</text>
<text x="238.2" y="1246.8" font-size="31" textLength="75.6" lengthAdjust="spacingAndGlyphs">2010</text>
<text x="36.5" y="1084.6" font-size="30.5" font-weight="bold">E</text>
</g>
<g transform="translate(25.1 941) rotate(-90)"><text x="-3.1" y="0" font-size="31" textLength="324.6" lengthAdjust="spacingAndGlyphs">Inundation Frequency</text></g>
<g transform="translate(58 894.5) rotate(-90)"><text x="-2.9" y="0" font-size="31" textLength="212.1" lengthAdjust="spacingAndGlyphs">Landsat 5 [%]</text></g>
<text x="630.8" y="1647" font-size="31" textLength="328" lengthAdjust="spacingAndGlyphs">Inundation Frequency</text>
<text x="641.6" y="1680" font-size="31" textLength="297.5" lengthAdjust="spacingAndGlyphs">Rijkswaterstaat [%]</text>
</svg></body></html>
